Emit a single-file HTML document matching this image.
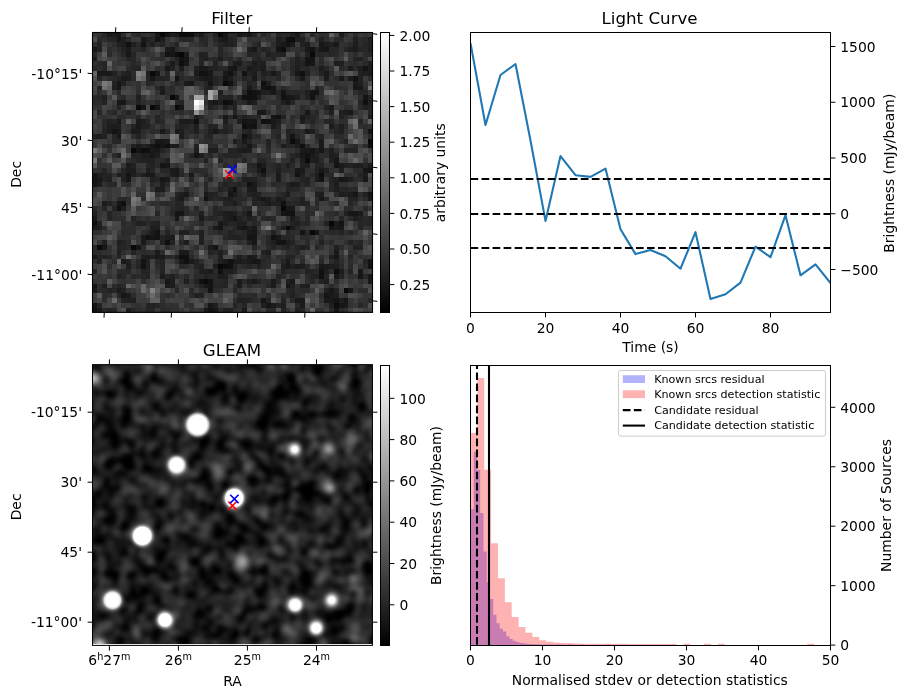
<!DOCTYPE html>
<html><head><meta charset="utf-8"><title>Candidate diagnostic plot</title>
<style>html,body{margin:0;padding:0;background:#fff}svg{display:block}</style></head>
<body><svg width="907" height="699" viewBox="0 0 907 699" font-family="DejaVu Sans, Liberation Sans, sans-serif" fill="#000">
<defs>
<linearGradient id="cg" x1="0" y1="1" x2="0" y2="0"><stop offset="0" stop-color="#000"/><stop offset="1" stop-color="#fff"/></linearGradient>
<filter id="bl" x="-5%" y="-5%" width="110%" height="110%" color-interpolation-filters="sRGB"><feGaussianBlur stdDeviation="1.4"/></filter>
<clipPath id="cc"><rect x="92.5" y="364.65" width="280" height="279.25"/></clipPath>
<clipPath id="ca"><rect x="92.5" y="32.5" width="280" height="280"/></clipPath>
<clipPath id="cb"><rect x="470.5" y="32.5" width="360" height="280"/></clipPath>
<clipPath id="cd"><rect x="470.5" y="365.5" width="360" height="280"/></clipPath>
</defs>
<rect width="907" height="699" fill="#fff"/>
<g shape-rendering="crispEdges" clip-path="url(#ca)">
<rect x="92" y="32" width="281" height="281" fill="#333"/>
<path fill="rgb(7,7,7)" d="M179.4 51.81h4.83v4.83h-4.83zM218.02 264.22h4.83v4.83h-4.83z"/>
<path fill="rgb(8,8,8)" d="M218.02 32.5h4.83v4.83h-4.83zM280.78 206.29h4.83v4.83h-4.83zM329.05 220.78h4.83v4.83h-4.83z"/>
<path fill="rgb(9,9,9)" d="M160.09 32.5h4.83v4.83h-4.83zM150.43 71.12h4.83v4.83h-4.83zM222.84 80.78h4.83v4.83h-4.83zM169.74 95.26h4.83v4.83h-4.83zM135.95 104.91h4.83v4.83h-4.83zM150.43 104.91h4.83v4.83h-4.83zM174.57 104.91h4.83v4.83h-4.83zM367.67 138.71h4.83v4.83h-4.83zM131.12 148.36h4.83v4.83h-4.83zM285.6 225.6h4.83v4.83h-4.83zM309.74 230.43h4.83v4.83h-4.83zM97.33 244.91h4.83v4.83h-4.83zM131.12 244.91h4.83v4.83h-4.83zM343.53 288.36h4.83v4.83h-4.83z"/>
<path fill="rgb(10,10,10)" d="M309.74 51.81h4.83v4.83h-4.83zM203.53 278.71h4.83v4.83h-4.83z"/>
<path fill="rgb(11,11,11)" d="M179.4 32.5h4.83v4.83h-4.83zM304.91 158.02h4.83v4.83h-4.83z"/>
<path fill="rgb(12,12,12)" d="M184.22 32.5h4.83v4.83h-4.83zM290.43 138.71h4.83v4.83h-4.83zM319.4 172.5h4.83v4.83h-4.83z"/>
<path fill="rgb(13,13,13)" d="M189.05 32.5h4.83v4.83h-4.83zM290.43 37.33h4.83v4.83h-4.83zM280.78 46.98h4.83v4.83h-4.83zM222.84 100.09h4.83v4.83h-4.83zM140.78 148.36h4.83v4.83h-4.83zM222.84 264.22h4.83v4.83h-4.83zM333.88 269.05h4.83v4.83h-4.83zM333.88 302.84h4.83v4.83h-4.83z"/>
<path fill="rgb(14,14,14)" d="M174.57 51.81h4.83v4.83h-4.83zM261.47 80.78h4.83v4.83h-4.83zM242.16 124.22h4.83v4.83h-4.83zM92.5 220.78h4.83v4.83h-4.83z"/>
<path fill="rgb(15,15,15)" d="M285.6 37.33h4.83v4.83h-4.83zM179.4 61.47h4.83v4.83h-4.83zM266.29 85.6h4.83v4.83h-4.83zM246.98 90.43h4.83v4.83h-4.83zM164.91 143.53h4.83v4.83h-4.83zM367.67 143.53h4.83v4.83h-4.83zM145.6 148.36h4.83v4.83h-4.83zM121.47 201.47h4.83v4.83h-4.83zM179.4 254.57h9.66v4.83h-9.66z"/>
<path fill="rgb(16,16,16)" d="M126.29 42.16h4.83v4.83h-4.83zM198.71 71.12h4.83v4.83h-4.83zM300.09 71.12h4.83v4.83h-4.83zM242.16 95.26h4.83v4.83h-4.83zM362.84 100.09h4.83v4.83h-4.83zM193.88 119.4h4.83v4.83h-4.83zM261.47 119.4h4.83v4.83h-4.83zM242.16 133.88h4.83v4.83h-4.83zM155.26 143.53h4.83v4.83h-4.83zM261.47 167.67h4.83v4.83h-4.83zM232.5 186.98h4.83v4.83h-4.83zM280.78 201.47h4.83v4.83h-4.83zM116.64 206.29h4.83v4.83h-4.83zM164.91 240.09h4.83v4.83h-4.83zM184.22 259.4h4.83v4.83h-4.83zM227.67 259.4h4.83v4.83h-4.83zM218.02 269.05h4.83v4.83h-4.83zM319.4 269.05h4.83v4.83h-4.83zM319.4 273.88h4.83v4.83h-4.83z"/>
<path fill="rgb(17,17,17)" d="M227.67 80.78h4.83v4.83h-4.83zM246.98 95.26h9.66v4.83h-9.66zM227.67 100.09h4.83v4.83h-4.83zM275.95 114.57h4.83v4.83h-4.83zM300.09 143.53h4.83v4.83h-4.83zM304.91 153.19h4.83v4.83h-4.83zM246.98 182.16h4.83v4.83h-4.83zM285.6 211.12h9.66v4.83h-9.66zM145.6 235.26h4.83v4.83h-4.83zM227.67 264.22h4.83v4.83h-4.83zM198.71 278.71h4.83v4.83h-4.83zM92.5 307.67h4.83v4.83h-4.83z"/>
<path fill="rgb(18,18,18)" d="M285.6 42.16h4.83v4.83h-4.83zM309.74 46.98h4.83v4.83h-4.83zM179.4 56.64h4.83v4.83h-4.83zM362.84 66.29h4.83v4.83h-4.83zM203.53 71.12h4.83v4.83h-4.83zM242.16 71.12h4.83v4.83h-4.83zM353.19 75.95h4.83v4.83h-4.83zM280.78 95.26h4.83v4.83h-4.83zM309.74 95.26h4.83v4.83h-4.83zM266.29 119.4h4.83v4.83h-4.83zM251.81 124.22h4.83v4.83h-4.83zM295.26 172.5h4.83v4.83h-4.83zM319.4 177.33h4.83v4.83h-4.83zM271.12 235.26h4.83v4.83h-4.83zM140.78 264.22h4.83v4.83h-4.83zM367.67 264.22h4.83v4.83h-4.83zM208.36 288.36h4.83v4.83h-4.83zM208.36 307.67h4.83v4.83h-4.83z"/>
<path fill="rgb(19,19,19)" d="M155.26 37.33h4.83v4.83h-4.83zM140.78 42.16h4.83v4.83h-4.83zM275.95 46.98h4.83v4.83h-4.83zM164.91 51.81h4.83v4.83h-4.83zM309.74 56.64h4.83v4.83h-4.83zM227.67 71.12h4.83v4.83h-4.83zM251.81 90.43h4.83v4.83h-4.83zM111.81 129.05h4.83v4.83h-4.83zM333.88 162.84h4.83v4.83h-4.83zM367.67 167.67h4.83v4.83h-4.83zM92.5 177.33h4.83v4.83h-4.83zM203.53 196.64h4.83v4.83h-4.83zM232.5 215.95h4.83v4.83h-4.83zM338.71 220.78h4.83v4.83h-4.83zM155.26 235.26h4.83v4.83h-4.83zM246.98 235.26h4.83v4.83h-4.83zM275.95 240.09h9.66v4.83h-9.66zM208.36 278.71h4.83v4.83h-4.83z"/>
<path fill="rgb(20,20,20)" d="M304.91 61.47h4.83v4.83h-4.83zM174.57 75.95h4.83v4.83h-4.83zM261.47 85.6h4.83v4.83h-4.83zM314.57 90.43h4.83v4.83h-4.83zM242.16 119.4h4.83v4.83h-4.83zM246.98 124.22h4.83v4.83h-4.83zM290.43 133.88h4.83v4.83h-4.83zM193.88 153.19h4.83v4.83h-4.83zM160.09 162.84h4.83v4.83h-4.83zM256.64 162.84h4.83v4.83h-4.83zM126.29 172.5h4.83v4.83h-4.83zM367.67 191.81h4.83v4.83h-4.83zM280.78 211.12h4.83v4.83h-4.83zM218.02 225.6h4.83v4.83h-4.83zM155.26 230.43h4.83v4.83h-4.83zM300.09 230.43h4.83v4.83h-4.83zM213.19 244.91h4.83v4.83h-4.83zM140.78 259.4h4.83v4.83h-4.83zM367.67 259.4h4.83v4.83h-4.83zM92.5 283.53h4.83v4.83h-4.83zM208.36 283.53h4.83v4.83h-4.83zM324.22 293.19h4.83v4.83h-4.83zM92.5 302.84h4.83v4.83h-4.83z"/>
<path fill="rgb(21,21,21)" d="M324.22 46.98h4.83v4.83h-4.83zM184.22 56.64h4.83v4.83h-4.83zM304.91 56.64h4.83v4.83h-4.83zM232.5 66.29h4.83v4.83h-4.83zM116.64 80.78h4.83v4.83h-4.83zM208.36 80.78h4.83v4.83h-4.83zM271.12 85.6h4.83v4.83h-4.83zM280.78 90.43h4.83v4.83h-4.83zM309.74 90.43h4.83v4.83h-4.83zM362.84 95.26h4.83v4.83h-4.83zM271.12 114.57h4.83v4.83h-4.83zM367.67 129.05h4.83v4.83h-4.83zM150.43 143.53h4.83v4.83h-4.83zM160.09 143.53h4.83v4.83h-4.83zM92.5 172.5h4.83v4.83h-4.83zM126.29 177.33h4.83v4.83h-4.83zM338.71 177.33h4.83v4.83h-4.83zM174.57 211.12h4.83v4.83h-4.83zM242.16 225.6h4.83v4.83h-4.83zM251.81 235.26h4.83v4.83h-4.83zM251.81 259.4h4.83v4.83h-4.83zM358.02 273.88h4.83v4.83h-4.83zM333.88 298.02h4.83v4.83h-4.83zM333.88 307.67h4.83v4.83h-4.83z"/>
<path fill="rgb(22,22,22)" d="M164.91 32.5h4.83v4.83h-4.83zM222.84 32.5h4.83v4.83h-4.83zM169.74 51.81h4.83v4.83h-4.83zM155.26 71.12h4.83v4.83h-4.83zM150.43 75.95h4.83v4.83h-4.83zM222.84 75.95h4.83v4.83h-4.83zM189.05 80.78h4.83v4.83h-4.83zM116.64 85.6h4.83v4.83h-4.83zM271.12 90.43h4.83v4.83h-4.83zM174.57 95.26h4.83v4.83h-4.83zM285.6 95.26h4.83v4.83h-4.83zM140.78 104.91h4.83v4.83h-4.83zM155.26 104.91h4.83v4.83h-4.83zM179.4 104.91h4.83v4.83h-4.83zM232.5 114.57h4.83v4.83h-4.83zM251.81 119.4h4.83v4.83h-4.83zM135.95 148.36h4.83v4.83h-4.83zM309.74 148.36h4.83v4.83h-4.83zM150.43 153.19h4.83v4.83h-4.83zM164.91 162.84h4.83v4.83h-4.83zM362.84 167.67h4.83v4.83h-4.83zM92.5 182.16h4.83v4.83h-4.83zM227.67 191.81h4.83v4.83h-4.83zM116.64 201.47h4.83v4.83h-4.83zM179.4 211.12h4.83v4.83h-4.83zM246.98 211.12h4.83v4.83h-4.83zM353.19 211.12h4.83v4.83h-4.83zM329.05 225.6h4.83v4.83h-4.83zM251.81 230.43h4.83v4.83h-4.83zM314.57 230.43h4.83v4.83h-4.83zM150.43 235.26h4.83v4.83h-4.83zM251.81 240.09h4.83v4.83h-4.83zM102.16 244.91h4.83v4.83h-4.83zM135.95 244.91h4.83v4.83h-4.83zM333.88 254.57h4.83v4.83h-4.83zM285.6 283.53h4.83v4.83h-4.83zM348.36 288.36h4.83v4.83h-4.83zM121.47 293.19h4.83v4.83h-4.83zM261.47 298.02h4.83v4.83h-4.83zM343.53 298.02h4.83v4.83h-4.83zM266.29 302.84h4.83v4.83h-4.83z"/>
<path fill="rgb(23,23,23)" d="M116.64 32.5h4.83v4.83h-4.83zM295.26 32.5h4.83v4.83h-4.83zM116.64 37.33h4.83v4.83h-4.83zM222.84 37.33h4.83v4.83h-4.83zM169.74 46.98h4.83v4.83h-4.83zM319.4 46.98h4.83v4.83h-4.83zM126.29 51.81h4.83v4.83h-4.83zM184.22 61.47h4.83v4.83h-4.83zM309.74 61.47h4.83v4.83h-4.83zM227.67 66.29h4.83v4.83h-4.83zM353.19 85.6h4.83v4.83h-4.83zM256.64 90.43h4.83v4.83h-4.83zM121.47 100.09h4.83v4.83h-4.83zM285.6 100.09h4.83v4.83h-4.83zM304.91 109.74h4.83v4.83h-4.83zM135.95 124.22h4.83v4.83h-4.83zM213.19 129.05h4.83v4.83h-4.83zM116.64 133.88h4.83v4.83h-4.83zM155.26 138.71h9.66v4.83h-9.66zM246.98 143.53h4.83v4.83h-4.83zM155.26 148.36h4.83v4.83h-4.83zM319.4 148.36h4.83v4.83h-4.83zM300.09 153.19h4.83v4.83h-4.83zM333.88 158.02h4.83v4.83h-4.83zM145.6 172.5h4.83v4.83h-4.83zM160.09 177.33h4.83v4.83h-4.83zM353.19 191.81h4.83v4.83h-4.83zM261.47 196.64h4.83v4.83h-4.83zM319.4 196.64h4.83v4.83h-4.83zM285.6 206.29h4.83v4.83h-4.83zM348.36 211.12h4.83v4.83h-4.83zM92.5 215.95h4.83v4.83h-4.83zM174.57 215.95h4.83v4.83h-4.83zM92.5 254.57h4.83v4.83h-4.83zM358.02 269.05h4.83v4.83h-4.83zM333.88 273.88h4.83v4.83h-4.83zM164.91 278.71h4.83v4.83h-4.83zM290.43 278.71h4.83v4.83h-4.83zM329.05 288.36h4.83v4.83h-4.83zM208.36 302.84h4.83v4.83h-4.83zM338.71 302.84h4.83v4.83h-4.83zM97.33 307.67h4.83v4.83h-4.83zM213.19 307.67h4.83v4.83h-4.83z"/>
<path fill="rgb(24,24,24)" d="M155.26 32.5h4.83v4.83h-4.83zM237.33 32.5h4.83v4.83h-4.83zM319.4 42.16h4.83v4.83h-4.83zM333.88 42.16h4.83v4.83h-4.83zM251.81 46.98h4.83v4.83h-4.83zM164.91 66.29h4.83v4.83h-4.83zM106.98 71.12h4.83v4.83h-4.83zM208.36 71.12h4.83v4.83h-4.83zM271.12 71.12h4.83v4.83h-4.83zM295.26 71.12h4.83v4.83h-4.83zM203.53 75.95h4.83v4.83h-4.83zM300.09 75.95h4.83v4.83h-4.83zM246.98 85.6h4.83v4.83h-4.83zM358.02 85.6h4.83v4.83h-4.83zM290.43 95.26h4.83v4.83h-4.83zM116.64 100.09h4.83v4.83h-4.83zM213.19 100.09h4.83v4.83h-4.83zM261.47 109.74h4.83v4.83h-4.83zM348.36 109.74h4.83v4.83h-4.83zM222.84 114.57h4.83v4.83h-4.83zM116.64 129.05h4.83v4.83h-4.83zM295.26 138.71h4.83v4.83h-4.83zM319.4 143.53h4.83v4.83h-4.83zM295.26 167.67h4.83v4.83h-4.83zM189.05 172.5h4.83v4.83h-4.83zM343.53 177.33h4.83v4.83h-4.83zM362.84 177.33h4.83v4.83h-4.83zM290.43 206.29h4.83v4.83h-4.83zM218.02 220.78h4.83v4.83h-4.83zM338.71 225.6h4.83v4.83h-4.83zM275.95 235.26h4.83v4.83h-4.83zM179.4 259.4h4.83v4.83h-4.83zM285.6 264.22h4.83v4.83h-4.83zM319.4 264.22h4.83v4.83h-4.83zM367.67 273.88h4.83v4.83h-4.83zM203.53 283.53h4.83v4.83h-4.83z"/>
<path fill="rgb(25,25,25)" d="M198.71 32.5h4.83v4.83h-4.83zM246.98 32.5h4.83v4.83h-4.83zM140.78 37.33h4.83v4.83h-4.83zM280.78 42.16h4.83v4.83h-4.83zM304.91 46.98h4.83v4.83h-4.83zM198.71 66.29h9.66v4.83h-9.66zM246.98 66.29h4.83v4.83h-4.83zM97.33 71.12h9.66v4.83h-9.66zM222.84 71.12h4.83v4.83h-4.83zM324.22 71.12h4.83v4.83h-4.83zM251.81 75.95h4.83v4.83h-4.83zM338.71 75.95h4.83v4.83h-4.83zM353.19 80.78h4.83v4.83h-4.83zM246.98 100.09h4.83v4.83h-4.83zM256.64 109.74h4.83v4.83h-4.83zM246.98 119.4h4.83v4.83h-4.83zM271.12 119.4h4.83v4.83h-4.83zM174.57 129.05h4.83v4.83h-4.83zM304.91 129.05h4.83v4.83h-4.83zM150.43 148.36h4.83v4.83h-4.83zM304.91 148.36h4.83v4.83h-4.83zM309.74 153.19h4.83v4.83h-4.83zM174.57 167.67h4.83v4.83h-4.83zM319.4 167.67h4.83v4.83h-4.83zM150.43 172.5h4.83v4.83h-4.83zM174.57 172.5h4.83v4.83h-4.83zM97.33 177.33h4.83v4.83h-4.83zM251.81 182.16h4.83v4.83h-4.83zM290.43 182.16h4.83v4.83h-4.83zM184.22 191.81h4.83v4.83h-4.83zM275.95 196.64h4.83v4.83h-4.83zM367.67 196.64h4.83v4.83h-4.83zM237.33 225.6h4.83v4.83h-4.83zM251.81 225.6h4.83v4.83h-4.83zM140.78 235.26h4.83v4.83h-4.83zM140.78 240.09h4.83v4.83h-4.83zM179.4 249.74h4.83v4.83h-4.83zM160.09 254.57h4.83v4.83h-4.83zM246.98 254.57h4.83v4.83h-4.83zM222.84 259.4h4.83v4.83h-4.83zM256.64 259.4h4.83v4.83h-4.83zM285.6 259.4h4.83v4.83h-4.83zM237.33 278.71h4.83v4.83h-4.83zM367.67 278.71h4.83v4.83h-4.83zM92.5 288.36h4.83v4.83h-4.83zM324.22 298.02h9.66v4.83h-9.66zM343.53 302.84h4.83v4.83h-4.83z"/>
<path fill="rgb(26,26,26)" d="M106.98 32.5h4.83v4.83h-4.83zM92.5 46.98h4.83v4.83h-4.83zM126.29 46.98h4.83v4.83h-4.83zM169.74 61.47h4.83v4.83h-4.83zM237.33 61.47h4.83v4.83h-4.83zM121.47 75.95h4.83v4.83h-4.83zM208.36 75.95h4.83v4.83h-4.83zM184.22 80.78h4.83v4.83h-4.83zM160.09 90.43h4.83v4.83h-4.83zM329.05 104.91h4.83v4.83h-4.83zM300.09 114.57h4.83v4.83h-4.83zM116.64 119.4h4.83v4.83h-4.83zM135.95 119.4h4.83v4.83h-4.83zM184.22 119.4h4.83v4.83h-4.83zM271.12 124.22h4.83v4.83h-4.83zM160.09 129.05h4.83v4.83h-4.83zM242.16 138.71h4.83v4.83h-4.83zM319.4 138.71h4.83v4.83h-4.83zM135.95 143.53h4.83v4.83h-4.83zM174.57 143.53h4.83v4.83h-4.83zM242.16 148.36h4.83v4.83h-4.83zM300.09 148.36h4.83v4.83h-4.83zM261.47 162.84h4.83v4.83h-4.83zM338.71 162.84h4.83v4.83h-4.83zM300.09 167.67h4.83v4.83h-4.83zM251.81 186.98h4.83v4.83h-4.83zM203.53 191.81h4.83v4.83h-4.83zM179.4 196.64h4.83v4.83h-4.83zM227.67 211.12h4.83v4.83h-4.83zM358.02 211.12h4.83v4.83h-4.83zM198.71 215.95h4.83v4.83h-4.83zM92.5 225.6h4.83v4.83h-4.83zM213.19 225.6h4.83v4.83h-4.83zM290.43 225.6h4.83v4.83h-4.83zM333.88 225.6h4.83v4.83h-4.83zM246.98 230.43h4.83v4.83h-4.83zM169.74 235.26h4.83v4.83h-4.83zM184.22 249.74h4.83v4.83h-4.83zM333.88 249.74h4.83v4.83h-4.83zM155.26 254.57h4.83v4.83h-4.83zM121.47 259.4h4.83v4.83h-4.83zM189.05 259.4h4.83v4.83h-4.83zM232.5 259.4h4.83v4.83h-4.83zM246.98 259.4h4.83v4.83h-4.83zM324.22 264.22h4.83v4.83h-4.83zM208.36 269.05h4.83v4.83h-4.83zM251.81 278.71h4.83v4.83h-4.83zM271.12 278.71h4.83v4.83h-4.83zM329.05 293.19h4.83v4.83h-4.83zM295.26 298.02h9.66v4.83h-9.66zM203.53 307.67h4.83v4.83h-4.83zM242.16 307.67h4.83v4.83h-4.83z"/>
<path fill="rgb(27,27,27)" d="M174.57 32.5h4.83v4.83h-4.83zM218.02 37.33h4.83v4.83h-4.83zM290.43 42.16h4.83v4.83h-4.83zM353.19 46.98h4.83v4.83h-4.83zM92.5 56.64h4.83v4.83h-4.83zM348.36 66.29h4.83v4.83h-4.83zM193.88 71.12h4.83v4.83h-4.83zM324.22 75.95h4.83v4.83h-4.83zM348.36 75.95h4.83v4.83h-4.83zM343.53 109.74h4.83v4.83h-4.83zM246.98 133.88h4.83v4.83h-4.83zM164.91 138.71h4.83v4.83h-4.83zM169.74 143.53h4.83v4.83h-4.83zM126.29 162.84h4.83v4.83h-4.83zM169.74 167.67h4.83v4.83h-4.83zM256.64 167.67h4.83v4.83h-4.83zM275.95 172.5h4.83v4.83h-4.83zM164.91 177.33h4.83v4.83h-4.83zM275.95 177.33h4.83v4.83h-4.83zM246.98 186.98h4.83v4.83h-4.83zM266.29 201.47h4.83v4.83h-4.83zM227.67 215.95h4.83v4.83h-4.83zM150.43 230.43h4.83v4.83h-4.83zM155.26 249.74h4.83v4.83h-4.83zM237.33 259.4h4.83v4.83h-4.83zM295.26 264.22h4.83v4.83h-4.83zM338.71 269.05h4.83v4.83h-4.83zM160.09 273.88h4.83v4.83h-4.83zM237.33 283.53h4.83v4.83h-4.83zM116.64 288.36h4.83v4.83h-4.83zM126.29 293.19h4.83v4.83h-4.83zM271.12 302.84h4.83v4.83h-4.83zM300.09 302.84h4.83v4.83h-4.83z"/>
<path fill="rgb(28,28,28)" d="M111.81 32.5h4.83v4.83h-4.83zM304.91 42.16h4.83v4.83h-4.83zM164.91 46.98h4.83v4.83h-4.83zM184.22 51.81h4.83v4.83h-4.83zM218.02 56.64h4.83v4.83h-4.83zM232.5 61.47h4.83v4.83h-4.83zM251.81 61.47h4.83v4.83h-4.83zM261.47 66.29h4.83v4.83h-4.83zM367.67 71.12h4.83v4.83h-4.83zM126.29 75.95h4.83v4.83h-4.83zM179.4 119.4h4.83v4.83h-4.83zM300.09 119.4h4.83v4.83h-4.83zM111.81 124.22h4.83v4.83h-4.83zM193.88 124.22h4.83v4.83h-4.83zM329.05 124.22h4.83v4.83h-4.83zM106.98 129.05h4.83v4.83h-4.83zM131.12 129.05h4.83v4.83h-4.83zM97.33 133.88h4.83v4.83h-4.83zM280.78 143.53h4.83v4.83h-4.83zM246.98 148.36h4.83v4.83h-4.83zM314.57 158.02h4.83v4.83h-4.83zM367.67 162.84h4.83v4.83h-4.83zM131.12 167.67h4.83v4.83h-4.83zM261.47 172.5h4.83v4.83h-4.83zM97.33 182.16h4.83v4.83h-4.83zM160.09 182.16h4.83v4.83h-4.83zM333.88 182.16h4.83v4.83h-4.83zM155.26 186.98h4.83v4.83h-4.83zM227.67 186.98h4.83v4.83h-4.83zM232.5 191.81h4.83v4.83h-4.83zM285.6 191.81h4.83v4.83h-4.83zM338.71 191.81h4.83v4.83h-4.83zM348.36 191.81h4.83v4.83h-4.83zM256.64 196.64h4.83v4.83h-4.83zM102.16 201.47h4.83v4.83h-4.83zM333.88 220.78h4.83v4.83h-4.83zM280.78 225.6h4.83v4.83h-4.83zM145.6 254.57h4.83v4.83h-4.83zM218.02 273.88h4.83v4.83h-4.83zM169.74 278.71h4.83v4.83h-4.83zM164.91 283.53h9.66v4.83h-9.66zM271.12 283.53h4.83v4.83h-4.83z"/>
<path fill="rgb(29,29,29)" d="M169.74 32.5h4.83v4.83h-4.83zM338.71 32.5h4.83v4.83h-4.83zM275.95 37.33h4.83v4.83h-4.83zM121.47 42.16h4.83v4.83h-4.83zM275.95 42.16h4.83v4.83h-4.83zM324.22 42.16h4.83v4.83h-4.83zM353.19 42.16h4.83v4.83h-4.83zM333.88 61.47h4.83v4.83h-4.83zM179.4 66.29h4.83v4.83h-4.83zM319.4 66.29h4.83v4.83h-4.83zM358.02 66.29h4.83v4.83h-4.83zM367.67 66.29h4.83v4.83h-4.83zM251.81 71.12h4.83v4.83h-4.83zM198.71 75.95h4.83v4.83h-4.83zM227.67 75.95h4.83v4.83h-4.83zM266.29 80.78h4.83v4.83h-4.83zM193.88 114.57h4.83v4.83h-4.83zM140.78 119.4h4.83v4.83h-4.83zM189.05 119.4h4.83v4.83h-4.83zM106.98 124.22h4.83v4.83h-4.83zM135.95 129.05h4.83v4.83h-4.83zM179.4 129.05h4.83v4.83h-4.83zM179.4 133.88h4.83v4.83h-4.83zM232.5 138.71h4.83v4.83h-4.83zM295.26 143.53h4.83v4.83h-4.83zM213.19 148.36h4.83v4.83h-4.83zM237.33 148.36h4.83v4.83h-4.83zM145.6 153.19h4.83v4.83h-4.83zM198.71 153.19h4.83v4.83h-4.83zM353.19 162.84h4.83v4.83h-4.83zM126.29 167.67h4.83v4.83h-4.83zM145.6 167.67h4.83v4.83h-4.83zM116.64 172.5h4.83v4.83h-4.83zM169.74 172.5h4.83v4.83h-4.83zM314.57 172.5h4.83v4.83h-4.83zM362.84 172.5h4.83v4.83h-4.83zM314.57 177.33h4.83v4.83h-4.83zM348.36 177.33h4.83v4.83h-4.83zM295.26 182.16h4.83v4.83h-4.83zM160.09 186.98h4.83v4.83h-4.83zM319.4 191.81h4.83v4.83h-4.83zM266.29 196.64h4.83v4.83h-4.83zM232.5 201.47h4.83v4.83h-4.83zM222.84 211.12h4.83v4.83h-4.83zM290.43 215.95h4.83v4.83h-4.83zM353.19 215.95h4.83v4.83h-4.83zM97.33 225.6h4.83v4.83h-4.83zM164.91 235.26h4.83v4.83h-4.83zM184.22 240.09h4.83v4.83h-4.83zM285.6 240.09h4.83v4.83h-4.83zM208.36 244.91h4.83v4.83h-4.83zM300.09 244.91h4.83v4.83h-4.83zM266.29 249.74h4.83v4.83h-4.83zM140.78 254.57h4.83v4.83h-4.83zM174.57 254.57h4.83v4.83h-4.83zM251.81 254.57h4.83v4.83h-4.83zM126.29 264.22h4.83v4.83h-4.83zM213.19 264.22h4.83v4.83h-4.83zM300.09 264.22h4.83v4.83h-4.83zM329.05 264.22h4.83v4.83h-4.83zM126.29 307.67h4.83v4.83h-4.83z"/>
<path fill="rgb(30,30,30)" d="M242.16 32.5h4.83v4.83h-4.83zM121.47 37.33h4.83v4.83h-4.83zM160.09 37.33h4.83v4.83h-4.83zM367.67 37.33h4.83v4.83h-4.83zM131.12 42.16h4.83v4.83h-4.83zM246.98 46.98h4.83v4.83h-4.83zM367.67 46.98h4.83v4.83h-4.83zM203.53 56.64h4.83v4.83h-4.83zM367.67 61.47h4.83v4.83h-4.83zM295.26 66.29h4.83v4.83h-4.83zM126.29 71.12h4.83v4.83h-4.83zM362.84 71.12h4.83v4.83h-4.83zM160.09 85.6h4.83v4.83h-4.83zM218.02 90.43h4.83v4.83h-4.83zM256.64 95.26h4.83v4.83h-4.83zM208.36 100.09h4.83v4.83h-4.83zM218.02 100.09h4.83v4.83h-4.83zM222.84 104.91h4.83v4.83h-4.83zM329.05 109.74h4.83v4.83h-4.83zM222.84 119.4h4.83v4.83h-4.83zM275.95 119.4h4.83v4.83h-4.83zM116.64 124.22h4.83v4.83h-4.83zM145.6 143.53h4.83v4.83h-4.83zM193.88 148.36h4.83v4.83h-4.83zM329.05 148.36h4.83v4.83h-4.83zM116.64 153.19h4.83v4.83h-4.83zM140.78 153.19h4.83v4.83h-4.83zM155.26 153.19h4.83v4.83h-4.83zM329.05 153.19h4.83v4.83h-4.83zM300.09 158.02h4.83v4.83h-4.83zM358.02 162.84h4.83v4.83h-4.83zM338.71 167.67h4.83v4.83h-4.83zM333.88 186.98h4.83v4.83h-4.83zM179.4 191.81h4.83v4.83h-4.83zM222.84 196.64h9.66v4.83h-9.66zM121.47 206.29h4.83v4.83h-4.83zM232.5 211.12h4.83v4.83h-4.83zM222.84 215.95h4.83v4.83h-4.83zM237.33 220.78h4.83v4.83h-4.83zM150.43 225.6h9.66v4.83h-9.66zM246.98 225.6h4.83v4.83h-4.83zM116.64 240.09h4.83v4.83h-4.83zM237.33 254.57h4.83v4.83h-4.83zM242.16 259.4h4.83v4.83h-4.83zM333.88 264.22h4.83v4.83h-4.83zM203.53 269.05h4.83v4.83h-4.83zM227.67 269.05h4.83v4.83h-4.83zM324.22 269.05h4.83v4.83h-4.83zM222.84 273.88h4.83v4.83h-4.83zM184.22 278.71h4.83v4.83h-4.83zM246.98 278.71h4.83v4.83h-4.83zM324.22 278.71h4.83v4.83h-4.83zM333.88 293.19h4.83v4.83h-4.83zM338.71 298.02h4.83v4.83h-4.83zM280.78 302.84h4.83v4.83h-4.83zM329.05 302.84h4.83v4.83h-4.83zM227.67 307.67h4.83v4.83h-4.83z"/>
<path fill="rgb(31,31,31)" d="M213.19 32.5h4.83v4.83h-4.83zM295.26 37.33h4.83v4.83h-4.83zM222.84 42.16h4.83v4.83h-4.83zM348.36 46.98h4.83v4.83h-4.83zM198.71 51.81h4.83v4.83h-4.83zM266.29 51.81h4.83v4.83h-4.83zM295.26 56.64h4.83v4.83h-4.83zM261.47 61.47h4.83v4.83h-4.83zM338.71 61.47h4.83v4.83h-4.83zM193.88 66.29h4.83v4.83h-4.83zM251.81 66.29h4.83v4.83h-4.83zM358.02 80.78h4.83v4.83h-4.83zM111.81 85.6h4.83v4.83h-4.83zM261.47 90.43h4.83v4.83h-4.83zM102.16 95.26h4.83v4.83h-4.83zM135.95 95.26h4.83v4.83h-4.83zM295.26 95.26h4.83v4.83h-4.83zM251.81 100.09h4.83v4.83h-4.83zM367.67 100.09h4.83v4.83h-4.83zM362.84 104.91h4.83v4.83h-4.83zM367.67 114.57h4.83v4.83h-4.83zM237.33 119.4h4.83v4.83h-4.83zM338.71 124.22h4.83v4.83h-4.83zM193.88 129.05h4.83v4.83h-4.83zM309.74 129.05h4.83v4.83h-4.83zM208.36 148.36h4.83v4.83h-4.83zM314.57 148.36h4.83v4.83h-4.83zM333.88 153.19h4.83v4.83h-4.83zM285.6 162.84h4.83v4.83h-4.83zM304.91 162.84h4.83v4.83h-4.83zM275.95 167.67h4.83v4.83h-4.83zM97.33 172.5h4.83v4.83h-4.83zM131.12 172.5h4.83v4.83h-4.83zM140.78 172.5h4.83v4.83h-4.83zM242.16 177.33h4.83v4.83h-4.83zM333.88 177.33h4.83v4.83h-4.83zM251.81 191.81h4.83v4.83h-4.83zM362.84 191.81h4.83v4.83h-4.83zM275.95 201.47h4.83v4.83h-4.83zM246.98 215.95h4.83v4.83h-4.83zM135.95 220.78h4.83v4.83h-4.83zM222.84 220.78h4.83v4.83h-4.83zM295.26 220.78h4.83v4.83h-4.83zM179.4 230.43h9.66v4.83h-9.66zM246.98 240.09h4.83v4.83h-4.83zM271.12 240.09h4.83v4.83h-4.83zM333.88 244.91h4.83v4.83h-4.83zM218.02 249.74h4.83v4.83h-4.83zM329.05 254.57h4.83v4.83h-4.83zM218.02 259.4h4.83v4.83h-4.83zM280.78 264.22h4.83v4.83h-4.83zM290.43 264.22h4.83v4.83h-4.83zM198.71 269.05h4.83v4.83h-4.83zM285.6 278.71h4.83v4.83h-4.83zM102.16 283.53h4.83v4.83h-4.83zM300.09 283.53h9.66v4.83h-9.66zM126.29 298.02h9.66v4.83h-9.66z"/>
<path fill="rgb(32,32,32)" d="M193.88 32.5h4.83v4.83h-4.83zM290.43 32.5h4.83v4.83h-4.83zM300.09 37.33h4.83v4.83h-4.83zM319.4 37.33h4.83v4.83h-4.83zM353.19 37.33h4.83v4.83h-4.83zM116.64 42.16h4.83v4.83h-4.83zM150.43 42.16h4.83v4.83h-4.83zM227.67 42.16h4.83v4.83h-4.83zM329.05 42.16h4.83v4.83h-4.83zM97.33 46.98h4.83v4.83h-4.83zM295.26 61.47h4.83v4.83h-4.83zM208.36 66.29h4.83v4.83h-4.83zM145.6 71.12h4.83v4.83h-4.83zM261.47 71.12h4.83v4.83h-4.83zM358.02 71.12h4.83v4.83h-4.83zM121.47 80.78h4.83v4.83h-4.83zM314.57 85.6h4.83v4.83h-4.83zM266.29 90.43h4.83v4.83h-4.83zM304.91 90.43h4.83v4.83h-4.83zM280.78 100.09h4.83v4.83h-4.83zM338.71 109.74h4.83v4.83h-4.83zM242.16 114.57h4.83v4.83h-4.83zM208.36 129.05h4.83v4.83h-4.83zM338.71 129.05h4.83v4.83h-4.83zM314.57 153.19h4.83v4.83h-4.83zM145.6 158.02h4.83v4.83h-4.83zM164.91 158.02h4.83v4.83h-4.83zM290.43 158.02h4.83v4.83h-4.83zM309.74 158.02h4.83v4.83h-4.83zM329.05 158.02h4.83v4.83h-4.83zM300.09 162.84h4.83v4.83h-4.83zM300.09 172.5h4.83v4.83h-4.83zM106.98 177.33h4.83v4.83h-4.83zM150.43 177.33h4.83v4.83h-4.83zM246.98 177.33h4.83v4.83h-4.83zM314.57 191.81h4.83v4.83h-4.83zM208.36 196.64h4.83v4.83h-4.83zM300.09 196.64h4.83v4.83h-4.83zM271.12 201.47h4.83v4.83h-4.83zM300.09 201.47h4.83v4.83h-4.83zM92.5 211.12h4.83v4.83h-4.83zM198.71 211.12h4.83v4.83h-4.83zM343.53 211.12h4.83v4.83h-4.83zM97.33 220.78h4.83v4.83h-4.83zM242.16 220.78h4.83v4.83h-4.83zM198.71 230.43h4.83v4.83h-4.83zM198.71 235.26h4.83v4.83h-4.83zM232.5 235.26h4.83v4.83h-4.83zM102.16 240.09h4.83v4.83h-4.83zM198.71 240.09h4.83v4.83h-4.83zM116.64 249.74h4.83v4.83h-4.83zM150.43 254.57h4.83v4.83h-4.83zM145.6 264.22h4.83v4.83h-4.83zM198.71 264.22h4.83v4.83h-4.83zM256.64 264.22h4.83v4.83h-4.83zM222.84 269.05h4.83v4.83h-4.83zM169.74 273.88h4.83v4.83h-4.83zM290.43 283.53h4.83v4.83h-4.83zM324.22 288.36h4.83v4.83h-4.83zM193.88 293.19h4.83v4.83h-4.83zM237.33 298.02h4.83v4.83h-4.83zM213.19 302.84h4.83v4.83h-4.83zM261.47 302.84h4.83v4.83h-4.83zM222.84 307.67h4.83v4.83h-4.83zM295.26 307.67h4.83v4.83h-4.83z"/>
<path fill="rgb(33,33,33)" d="M145.6 37.33h4.83v4.83h-4.83zM367.67 42.16h4.83v4.83h-4.83zM121.47 46.98h4.83v4.83h-4.83zM280.78 51.81h4.83v4.83h-4.83zM213.19 61.47h4.83v4.83h-4.83zM256.64 61.47h4.83v4.83h-4.83zM169.74 66.29h4.83v4.83h-4.83zM256.64 66.29h4.83v4.83h-4.83zM111.81 71.12h4.83v4.83h-4.83zM358.02 75.95h4.83v4.83h-4.83zM208.36 85.6h4.83v4.83h-4.83zM227.67 95.26h4.83v4.83h-4.83zM304.91 95.26h4.83v4.83h-4.83zM232.5 100.09h4.83v4.83h-4.83zM208.36 104.91h4.83v4.83h-4.83zM232.5 104.91h4.83v4.83h-4.83zM324.22 104.91h4.83v4.83h-4.83zM280.78 114.57h4.83v4.83h-4.83zM338.71 114.57h4.83v4.83h-4.83zM106.98 119.4h4.83v4.83h-4.83zM140.78 124.22h9.66v4.83h-9.66zM222.84 129.05h4.83v4.83h-4.83zM246.98 129.05h4.83v4.83h-4.83zM285.6 129.05h4.83v4.83h-4.83zM92.5 133.88h4.83v4.83h-4.83zM102.16 133.88h4.83v4.83h-4.83zM319.4 133.88h4.83v4.83h-4.83zM131.12 143.53h4.83v4.83h-4.83zM131.12 153.19h4.83v4.83h-4.83zM295.26 153.19h4.83v4.83h-4.83zM140.78 158.02h4.83v4.83h-4.83zM150.43 158.02h4.83v4.83h-4.83zM343.53 162.84h4.83v4.83h-4.83zM324.22 167.67h4.83v4.83h-4.83zM102.16 172.5h4.83v4.83h-4.83zM121.47 177.33h4.83v4.83h-4.83zM251.81 177.33h4.83v4.83h-4.83zM304.91 177.33h4.83v4.83h-4.83zM222.84 182.16h4.83v4.83h-4.83zM208.36 191.81h4.83v4.83h-4.83zM246.98 191.81h4.83v4.83h-4.83zM343.53 191.81h4.83v4.83h-4.83zM174.57 196.64h4.83v4.83h-4.83zM280.78 196.64h4.83v4.83h-4.83zM106.98 201.47h4.83v4.83h-4.83zM261.47 201.47h4.83v4.83h-4.83zM218.02 211.12h4.83v4.83h-4.83zM140.78 220.78h4.83v4.83h-4.83zM155.26 220.78h4.83v4.83h-4.83zM324.22 220.78h4.83v4.83h-4.83zM237.33 235.26h4.83v4.83h-4.83zM285.6 244.91h4.83v4.83h-4.83zM358.02 244.91h4.83v4.83h-4.83zM218.02 254.57h4.83v4.83h-4.83zM97.33 259.4h4.83v4.83h-4.83zM126.29 259.4h4.83v4.83h-4.83zM145.6 259.4h4.83v4.83h-4.83zM232.5 264.22h4.83v4.83h-4.83zM314.57 273.88h4.83v4.83h-4.83zM121.47 288.36h4.83v4.83h-4.83zM290.43 293.19h4.83v4.83h-4.83zM242.16 298.02h4.83v4.83h-4.83z"/>
<path fill="rgb(34,34,34)" d="M251.81 32.5h4.83v4.83h-4.83zM97.33 42.16h4.83v4.83h-4.83zM300.09 42.16h4.83v4.83h-4.83zM261.47 46.98h4.83v4.83h-4.83zM304.91 51.81h4.83v4.83h-4.83zM174.57 56.64h4.83v4.83h-4.83zM256.64 56.64h4.83v4.83h-4.83zM353.19 56.64h9.66v4.83h-9.66zM246.98 71.12h4.83v4.83h-4.83zM275.95 71.12h4.83v4.83h-4.83zM155.26 75.95h9.66v4.83h-9.66zM242.16 75.95h4.83v4.83h-4.83zM111.81 80.78h4.83v4.83h-4.83zM135.95 100.09h4.83v4.83h-4.83zM116.64 104.91h4.83v4.83h-4.83zM304.91 114.57h4.83v4.83h-4.83zM179.4 124.22h4.83v4.83h-4.83zM102.16 129.05h4.83v4.83h-4.83zM266.29 138.71h4.83v4.83h-4.83zM343.53 138.71h4.83v4.83h-4.83zM193.88 143.53h4.83v4.83h-4.83zM227.67 148.36h9.66v4.83h-9.66zM203.53 158.02h4.83v4.83h-4.83zM131.12 162.84h4.83v4.83h-4.83zM150.43 162.84h4.83v4.83h-4.83zM348.36 162.84h4.83v4.83h-4.83zM121.47 172.5h4.83v4.83h-4.83zM358.02 172.5h4.83v4.83h-4.83zM218.02 186.98h4.83v4.83h-4.83zM256.64 191.81h4.83v4.83h-4.83zM218.02 196.64h4.83v4.83h-4.83zM353.19 196.64h4.83v4.83h-4.83zM179.4 206.29h4.83v4.83h-4.83zM237.33 215.95h4.83v4.83h-4.83zM227.67 230.43h4.83v4.83h-4.83zM271.12 230.43h4.83v4.83h-4.83zM227.67 235.26h4.83v4.83h-4.83zM160.09 240.09h4.83v4.83h-4.83zM169.74 240.09h4.83v4.83h-4.83zM319.4 240.09h4.83v4.83h-4.83zM353.19 244.91h4.83v4.83h-4.83zM102.16 254.57h4.83v4.83h-4.83zM285.6 254.57h4.83v4.83h-4.83zM160.09 259.4h4.83v4.83h-4.83zM193.88 259.4h4.83v4.83h-4.83zM333.88 259.4h4.83v4.83h-4.83zM140.78 269.05h4.83v4.83h-4.83zM160.09 269.05h4.83v4.83h-4.83zM232.5 269.05h4.83v4.83h-4.83zM280.78 269.05h4.83v4.83h-4.83zM304.91 269.05h4.83v4.83h-4.83zM116.64 273.88h4.83v4.83h-4.83zM203.53 273.88h4.83v4.83h-4.83zM309.74 273.88h4.83v4.83h-4.83zM193.88 278.71h4.83v4.83h-4.83zM198.71 283.53h4.83v4.83h-4.83zM106.98 288.36h4.83v4.83h-4.83zM333.88 288.36h4.83v4.83h-4.83zM246.98 298.02h4.83v4.83h-4.83zM280.78 298.02h4.83v4.83h-4.83zM150.43 302.84h4.83v4.83h-4.83zM280.78 307.67h4.83v4.83h-4.83z"/>
<path fill="rgb(35,35,35)" d="M275.95 32.5h4.83v4.83h-4.83zM227.67 37.33h4.83v4.83h-4.83zM280.78 37.33h4.83v4.83h-4.83zM203.53 51.81h4.83v4.83h-4.83zM102.16 61.47h4.83v4.83h-4.83zM198.71 61.47h4.83v4.83h-4.83zM300.09 61.47h4.83v4.83h-4.83zM213.19 66.29h4.83v4.83h-4.83zM121.47 71.12h4.83v4.83h-4.83zM232.5 71.12h4.83v4.83h-4.83zM304.91 71.12h4.83v4.83h-4.83zM116.64 75.95h4.83v4.83h-4.83zM145.6 75.95h4.83v4.83h-4.83zM193.88 75.95h4.83v4.83h-4.83zM246.98 80.78h4.83v4.83h-4.83zM97.33 85.6h4.83v4.83h-4.83zM222.84 95.26h4.83v4.83h-4.83zM367.67 95.26h4.83v4.83h-4.83zM102.16 100.09h4.83v4.83h-4.83zM179.4 100.09h4.83v4.83h-4.83zM126.29 109.74h4.83v4.83h-4.83zM232.5 109.74h4.83v4.83h-4.83zM329.05 119.4h4.83v4.83h-4.83zM131.12 124.22h4.83v4.83h-4.83zM208.36 124.22h9.66v4.83h-9.66zM218.02 129.05h4.83v4.83h-4.83zM135.95 133.88h4.83v4.83h-4.83zM208.36 133.88h4.83v4.83h-4.83zM275.95 133.88h4.83v4.83h-4.83zM140.78 143.53h4.83v4.83h-4.83zM343.53 148.36h9.66v4.83h-9.66zM135.95 158.02h4.83v4.83h-4.83zM242.16 158.02h4.83v4.83h-4.83zM275.95 162.84h4.83v4.83h-4.83zM314.57 167.67h4.83v4.83h-4.83zM102.16 177.33h4.83v4.83h-4.83zM237.33 182.16h4.83v4.83h-4.83zM285.6 182.16h4.83v4.83h-4.83zM304.91 182.16h4.83v4.83h-4.83zM213.19 191.81h4.83v4.83h-4.83zM251.81 196.64h4.83v4.83h-4.83zM348.36 196.64h4.83v4.83h-4.83zM227.67 201.47h4.83v4.83h-4.83zM251.81 201.47h4.83v4.83h-4.83zM304.91 201.47h4.83v4.83h-4.83zM111.81 206.29h4.83v4.83h-4.83zM131.12 215.95h4.83v4.83h-4.83zM232.5 220.78h4.83v4.83h-4.83zM290.43 220.78h4.83v4.83h-4.83zM338.71 230.43h4.83v4.83h-4.83zM121.47 240.09h4.83v4.83h-4.83zM348.36 240.09h4.83v4.83h-4.83zM271.12 244.91h4.83v4.83h-4.83zM131.12 249.74h4.83v4.83h-4.83zM208.36 249.74h4.83v4.83h-4.83zM290.43 254.57h4.83v4.83h-4.83zM362.84 259.4h4.83v4.83h-4.83zM160.09 264.22h4.83v4.83h-4.83zM193.88 264.22h4.83v4.83h-4.83zM92.5 269.05h4.83v4.83h-4.83zM348.36 269.05h4.83v4.83h-4.83zM145.6 273.88h4.83v4.83h-4.83zM275.95 273.88h4.83v4.83h-4.83zM338.71 273.88h4.83v4.83h-4.83zM256.64 278.71h4.83v4.83h-4.83zM319.4 278.71h4.83v4.83h-4.83zM198.71 293.19h4.83v4.83h-4.83zM121.47 298.02h4.83v4.83h-4.83zM266.29 298.02h4.83v4.83h-4.83zM97.33 302.84h4.83v4.83h-4.83zM232.5 302.84h4.83v4.83h-4.83zM106.98 307.67h4.83v4.83h-4.83z"/>
<path fill="rgb(36,36,36)" d="M184.22 37.33h4.83v4.83h-4.83zM174.57 42.16h4.83v4.83h-4.83zM218.02 42.16h4.83v4.83h-4.83zM232.5 42.16h4.83v4.83h-4.83zM256.64 42.16h4.83v4.83h-4.83zM140.78 46.98h4.83v4.83h-4.83zM218.02 46.98h4.83v4.83h-4.83zM314.57 46.98h4.83v4.83h-4.83zM358.02 46.98h4.83v4.83h-4.83zM246.98 51.81h4.83v4.83h-4.83zM275.95 51.81h4.83v4.83h-4.83zM198.71 56.64h4.83v4.83h-4.83zM131.12 66.29h9.66v4.83h-9.66zM266.29 71.12h4.83v4.83h-4.83zM319.4 71.12h4.83v4.83h-4.83zM97.33 75.95h4.83v4.83h-4.83zM213.19 75.95h4.83v4.83h-4.83zM213.19 80.78h4.83v4.83h-4.83zM203.53 85.6h4.83v4.83h-4.83zM237.33 95.26h4.83v4.83h-4.83zM290.43 100.09h4.83v4.83h-4.83zM358.02 100.09h4.83v4.83h-4.83zM111.81 119.4h4.83v4.83h-4.83zM324.22 119.4h4.83v4.83h-4.83zM184.22 124.22h4.83v4.83h-4.83zM222.84 124.22h4.83v4.83h-4.83zM275.95 124.22h4.83v4.83h-4.83zM242.16 143.53h4.83v4.83h-4.83zM266.29 143.53h4.83v4.83h-4.83zM160.09 148.36h4.83v4.83h-4.83zM353.19 148.36h4.83v4.83h-4.83zM135.95 153.19h4.83v4.83h-4.83zM227.67 153.19h9.66v4.83h-9.66zM218.02 158.02h4.83v4.83h-4.83zM256.64 158.02h9.66v4.83h-9.66zM319.4 162.84h4.83v4.83h-4.83zM102.16 167.67h4.83v4.83h-4.83zM150.43 167.67h4.83v4.83h-4.83zM106.98 172.5h4.83v4.83h-4.83zM203.53 172.5h4.83v4.83h-4.83zM300.09 177.33h4.83v4.83h-4.83zM329.05 177.33h4.83v4.83h-4.83zM285.6 186.98h4.83v4.83h-4.83zM343.53 186.98h4.83v4.83h-4.83zM174.57 191.81h4.83v4.83h-4.83zM174.57 201.47h4.83v4.83h-4.83zM222.84 201.47h4.83v4.83h-4.83zM213.19 206.29h4.83v4.83h-4.83zM106.98 211.12h4.83v4.83h-4.83zM213.19 211.12h4.83v4.83h-4.83zM242.16 211.12h4.83v4.83h-4.83zM266.29 215.95h4.83v4.83h-4.83zM338.71 215.95h4.83v4.83h-4.83zM358.02 215.95h4.83v4.83h-4.83zM150.43 220.78h4.83v4.83h-4.83zM358.02 225.6h4.83v4.83h-4.83zM164.91 230.43h4.83v4.83h-4.83zM160.09 235.26h4.83v4.83h-4.83zM290.43 240.09h4.83v4.83h-4.83zM295.26 244.91h4.83v4.83h-4.83zM304.91 244.91h4.83v4.83h-4.83zM261.47 249.74h4.83v4.83h-4.83zM97.33 254.57h4.83v4.83h-4.83zM348.36 254.57h4.83v4.83h-4.83zM145.6 269.05h4.83v4.83h-4.83zM222.84 278.71h4.83v4.83h-4.83zM116.64 283.53h4.83v4.83h-4.83zM222.84 283.53h4.83v4.83h-4.83zM290.43 288.36h4.83v4.83h-4.83zM145.6 302.84h4.83v4.83h-4.83zM275.95 302.84h4.83v4.83h-4.83z"/>
<path fill="rgb(37,37,37)" d="M309.74 32.5h4.83v4.83h-4.83zM111.81 37.33h4.83v4.83h-4.83zM160.09 42.16h4.83v4.83h-4.83zM362.84 42.16h4.83v4.83h-4.83zM343.53 46.98h4.83v4.83h-4.83zM131.12 51.81h4.83v4.83h-4.83zM271.12 51.81h4.83v4.83h-4.83zM329.05 51.81h4.83v4.83h-4.83zM126.29 56.64h4.83v4.83h-4.83zM102.16 66.29h4.83v4.83h-4.83zM164.91 75.95h4.83v4.83h-4.83zM203.53 80.78h4.83v4.83h-4.83zM275.95 90.43h4.83v4.83h-4.83zM285.6 90.43h4.83v4.83h-4.83zM362.84 90.43h4.83v4.83h-4.83zM218.02 95.26h4.83v4.83h-4.83zM367.67 104.91h4.83v4.83h-4.83zM155.26 114.57h4.83v4.83h-4.83zM145.6 119.4h4.83v4.83h-4.83zM155.26 119.4h4.83v4.83h-4.83zM309.74 119.4h4.83v4.83h-4.83zM358.02 119.4h4.83v4.83h-4.83zM333.88 129.05h4.83v4.83h-4.83zM285.6 133.88h4.83v4.83h-4.83zM116.64 138.71h4.83v4.83h-4.83zM246.98 138.71h4.83v4.83h-4.83zM285.6 138.71h4.83v4.83h-4.83zM285.6 143.53h4.83v4.83h-4.83zM222.84 153.19h4.83v4.83h-4.83zM251.81 162.84h4.83v4.83h-4.83zM314.57 162.84h4.83v4.83h-4.83zM362.84 162.84h4.83v4.83h-4.83zM121.47 167.67h4.83v4.83h-4.83zM155.26 177.33h4.83v4.83h-4.83zM189.05 177.33h4.83v4.83h-4.83zM295.26 201.47h4.83v4.83h-4.83zM102.16 206.29h4.83v4.83h-4.83zM155.26 211.12h4.83v4.83h-4.83zM106.98 215.95h4.83v4.83h-4.83zM251.81 215.95h4.83v4.83h-4.83zM227.67 220.78h4.83v4.83h-4.83zM304.91 220.78h4.83v4.83h-4.83zM358.02 220.78h4.83v4.83h-4.83zM367.67 220.78h4.83v4.83h-4.83zM242.16 230.43h4.83v4.83h-4.83zM285.6 230.43h4.83v4.83h-4.83zM280.78 235.26h4.83v4.83h-4.83zM116.64 244.91h9.66v4.83h-9.66zM251.81 244.91h4.83v4.83h-4.83zM314.57 244.91h4.83v4.83h-4.83zM106.98 254.57h4.83v4.83h-4.83zM116.64 254.57h4.83v4.83h-4.83zM280.78 259.4h4.83v4.83h-4.83zM135.95 264.22h4.83v4.83h-4.83zM246.98 264.22h4.83v4.83h-4.83zM309.74 269.05h4.83v4.83h-4.83zM164.91 273.88h4.83v4.83h-4.83zM324.22 273.88h4.83v4.83h-4.83zM111.81 288.36h4.83v4.83h-4.83zM155.26 302.84h4.83v4.83h-4.83zM242.16 302.84h4.83v4.83h-4.83zM145.6 307.67h4.83v4.83h-4.83zM300.09 307.67h4.83v4.83h-4.83z"/>
<path fill="rgb(38,38,38)" d="M102.16 32.5h4.83v4.83h-4.83zM106.98 37.33h4.83v4.83h-4.83zM179.4 37.33h4.83v4.83h-4.83zM198.71 37.33h4.83v4.83h-4.83zM203.53 42.16h4.83v4.83h-4.83zM329.05 46.98h4.83v4.83h-4.83zM121.47 51.81h4.83v4.83h-4.83zM218.02 51.81h4.83v4.83h-4.83zM271.12 56.64h4.83v4.83h-4.83zM218.02 66.29h4.83v4.83h-4.83zM304.91 66.29h4.83v4.83h-4.83zM324.22 66.29h4.83v4.83h-4.83zM275.95 75.95h4.83v4.83h-4.83zM174.57 80.78h4.83v4.83h-4.83zM155.26 85.6h4.83v4.83h-4.83zM203.53 90.43h4.83v4.83h-4.83zM242.16 90.43h4.83v4.83h-4.83zM295.26 90.43h4.83v4.83h-4.83zM358.02 90.43h4.83v4.83h-4.83zM97.33 109.74h4.83v4.83h-4.83zM367.67 109.74h4.83v4.83h-4.83zM135.95 114.57h4.83v4.83h-4.83zM246.98 114.57h4.83v4.83h-4.83zM256.64 114.57h4.83v4.83h-4.83zM290.43 129.05h4.83v4.83h-4.83zM111.81 133.88h4.83v4.83h-4.83zM295.26 133.88h4.83v4.83h-4.83zM314.57 133.88h4.83v4.83h-4.83zM189.05 153.19h4.83v4.83h-4.83zM145.6 162.84h4.83v4.83h-4.83zM246.98 162.84h4.83v4.83h-4.83zM160.09 167.67h9.66v4.83h-9.66zM208.36 177.33h4.83v4.83h-4.83zM232.5 182.16h4.83v4.83h-4.83zM329.05 182.16h4.83v4.83h-4.83zM290.43 186.98h4.83v4.83h-4.83zM329.05 186.98h4.83v4.83h-4.83zM338.71 186.98h4.83v4.83h-4.83zM237.33 196.64h4.83v4.83h-4.83zM324.22 196.64h4.83v4.83h-4.83zM179.4 201.47h4.83v4.83h-4.83zM285.6 201.47h4.83v4.83h-4.83zM348.36 201.47h4.83v4.83h-4.83zM174.57 206.29h4.83v4.83h-4.83zM169.74 211.12h4.83v4.83h-4.83zM208.36 215.95h4.83v4.83h-4.83zM295.26 215.95h4.83v4.83h-4.83zM222.84 235.26h4.83v4.83h-4.83zM242.16 235.26h4.83v4.83h-4.83zM266.29 240.09h4.83v4.83h-4.83zM358.02 240.09h4.83v4.83h-4.83zM280.78 244.91h4.83v4.83h-4.83zM164.91 254.57h4.83v4.83h-4.83zM266.29 254.57h4.83v4.83h-4.83zM126.29 269.05h4.83v4.83h-4.83zM140.78 273.88h4.83v4.83h-4.83zM213.19 283.53h9.66v4.83h-9.66zM266.29 283.53h4.83v4.83h-4.83zM174.57 288.36h4.83v4.83h-4.83zM232.5 288.36h4.83v4.83h-4.83zM116.64 293.19h4.83v4.83h-4.83zM111.81 307.67h4.83v4.83h-4.83zM150.43 307.67h4.83v4.83h-4.83z"/>
<path fill="rgb(39,39,39)" d="M135.95 32.5h4.83v4.83h-4.83zM232.5 32.5h4.83v4.83h-4.83zM285.6 32.5h4.83v4.83h-4.83zM150.43 37.33h4.83v4.83h-4.83zM189.05 37.33h4.83v4.83h-4.83zM203.53 37.33h4.83v4.83h-4.83zM232.5 37.33h4.83v4.83h-4.83zM266.29 46.98h4.83v4.83h-4.83zM333.88 46.98h4.83v4.83h-4.83zM362.84 46.98h4.83v4.83h-4.83zM251.81 51.81h4.83v4.83h-4.83zM314.57 51.81h9.66v4.83h-9.66zM131.12 56.64h4.83v4.83h-4.83zM227.67 56.64h4.83v4.83h-4.83zM237.33 56.64h4.83v4.83h-4.83zM131.12 61.47h4.83v4.83h-4.83zM222.84 66.29h4.83v4.83h-4.83zM290.43 66.29h4.83v4.83h-4.83zM300.09 66.29h4.83v4.83h-4.83zM338.71 66.29h4.83v4.83h-4.83zM164.91 71.12h4.83v4.83h-4.83zM131.12 75.95h4.83v4.83h-4.83zM261.47 75.95h4.83v4.83h-4.83zM145.6 80.78h4.83v4.83h-4.83zM232.5 80.78h4.83v4.83h-4.83zM251.81 85.6h4.83v4.83h-4.83zM97.33 95.26h4.83v4.83h-4.83zM155.26 100.09h4.83v4.83h-4.83zM111.81 109.74h4.83v4.83h-4.83zM314.57 109.74h4.83v4.83h-4.83zM198.71 114.57h4.83v4.83h-4.83zM227.67 114.57h4.83v4.83h-4.83zM237.33 114.57h4.83v4.83h-4.83zM309.74 114.57h4.83v4.83h-4.83zM102.16 124.22h4.83v4.83h-4.83zM174.57 124.22h4.83v4.83h-4.83zM164.91 129.05h4.83v4.83h-4.83zM227.67 129.05h4.83v4.83h-4.83zM242.16 129.05h4.83v4.83h-4.83zM256.64 133.88h4.83v4.83h-4.83zM111.81 138.71h4.83v4.83h-4.83zM251.81 143.53h4.83v4.83h-4.83zM290.43 143.53h4.83v4.83h-4.83zM304.91 143.53h4.83v4.83h-4.83zM237.33 153.19h4.83v4.83h-4.83zM290.43 153.19h4.83v4.83h-4.83zM179.4 172.5h4.83v4.83h-4.83zM203.53 182.16h4.83v4.83h-4.83zM203.53 186.98h4.83v4.83h-4.83zM280.78 191.81h4.83v4.83h-4.83zM121.47 196.64h4.83v4.83h-4.83zM242.16 196.64h4.83v4.83h-4.83zM256.64 201.47h4.83v4.83h-4.83zM290.43 201.47h4.83v4.83h-4.83zM333.88 201.47h4.83v4.83h-4.83zM256.64 211.12h4.83v4.83h-4.83zM261.47 215.95h4.83v4.83h-4.83zM271.12 215.95h4.83v4.83h-4.83zM304.91 215.95h4.83v4.83h-4.83zM367.67 215.95h4.83v4.83h-4.83zM362.84 220.78h4.83v4.83h-4.83zM232.5 225.6h4.83v4.83h-4.83zM145.6 230.43h4.83v4.83h-4.83zM218.02 230.43h4.83v4.83h-4.83zM232.5 230.43h4.83v4.83h-4.83zM304.91 230.43h4.83v4.83h-4.83zM348.36 230.43h4.83v4.83h-4.83zM285.6 235.26h4.83v4.83h-4.83zM179.4 240.09h4.83v4.83h-4.83zM135.95 259.4h4.83v4.83h-4.83zM155.26 259.4h4.83v4.83h-4.83zM261.47 259.4h4.83v4.83h-4.83zM304.91 264.22h4.83v4.83h-4.83zM208.36 273.88h9.66v4.83h-9.66zM362.84 273.88h4.83v4.83h-4.83zM218.02 278.71h4.83v4.83h-4.83zM367.67 298.02h4.83v4.83h-4.83zM102.16 307.67h4.83v4.83h-4.83z"/>
<path fill="rgb(40,40,40)" d="M261.47 32.5h4.83v4.83h-4.83zM280.78 32.5h4.83v4.83h-4.83zM126.29 37.33h4.83v4.83h-4.83zM213.19 37.33h4.83v4.83h-4.83zM145.6 42.16h4.83v4.83h-4.83zM92.5 51.81h4.83v4.83h-4.83zM256.64 51.81h4.83v4.83h-4.83zM367.67 51.81h4.83v4.83h-4.83zM213.19 56.64h4.83v4.83h-4.83zM174.57 61.47h4.83v4.83h-4.83zM246.98 61.47h4.83v4.83h-4.83zM362.84 61.47h4.83v4.83h-4.83zM92.5 66.29h4.83v4.83h-4.83zM237.33 66.29h4.83v4.83h-4.83zM179.4 75.95h4.83v4.83h-4.83zM218.02 75.95h4.83v4.83h-4.83zM251.81 80.78h4.83v4.83h-4.83zM280.78 85.6h4.83v4.83h-4.83zM290.43 90.43h4.83v4.83h-4.83zM92.5 100.09h4.83v4.83h-4.83zM174.57 100.09h4.83v4.83h-4.83zM242.16 100.09h4.83v4.83h-4.83zM102.16 119.4h4.83v4.83h-4.83zM160.09 119.4h4.83v4.83h-4.83zM333.88 124.22h4.83v4.83h-4.83zM189.05 129.05h4.83v4.83h-4.83zM203.53 133.88h4.83v4.83h-4.83zM251.81 133.88h4.83v4.83h-4.83zM367.67 133.88h4.83v4.83h-4.83zM237.33 138.71h4.83v4.83h-4.83zM237.33 143.53h4.83v4.83h-4.83zM266.29 148.36h4.83v4.83h-4.83zM324.22 148.36h4.83v4.83h-4.83zM208.36 153.19h4.83v4.83h-4.83zM290.43 162.84h4.83v4.83h-4.83zM193.88 167.67h4.83v4.83h-4.83zM135.95 172.5h4.83v4.83h-4.83zM309.74 172.5h4.83v4.83h-4.83zM329.05 172.5h4.83v4.83h-4.83zM227.67 177.33h4.83v4.83h-4.83zM111.81 182.16h4.83v4.83h-4.83zM164.91 182.16h4.83v4.83h-4.83zM227.67 182.16h4.83v4.83h-4.83zM242.16 182.16h4.83v4.83h-4.83zM271.12 182.16h4.83v4.83h-4.83zM184.22 186.98h4.83v4.83h-4.83zM295.26 186.98h4.83v4.83h-4.83zM348.36 186.98h9.66v4.83h-9.66zM237.33 191.81h4.83v4.83h-4.83zM213.19 196.64h4.83v4.83h-4.83zM232.5 196.64h4.83v4.83h-4.83zM271.12 196.64h4.83v4.83h-4.83zM237.33 201.47h4.83v4.83h-4.83zM314.57 201.47h4.83v4.83h-4.83zM193.88 206.29h4.83v4.83h-4.83zM362.84 206.29h4.83v4.83h-4.83zM184.22 211.12h4.83v4.83h-4.83zM213.19 215.95h4.83v4.83h-4.83zM242.16 215.95h4.83v4.83h-4.83zM348.36 215.95h4.83v4.83h-4.83zM131.12 220.78h4.83v4.83h-4.83zM198.71 220.78h4.83v4.83h-4.83zM251.81 220.78h4.83v4.83h-4.83zM295.26 225.6h4.83v4.83h-4.83zM329.05 230.43h4.83v4.83h-4.83zM266.29 235.26h4.83v4.83h-4.83zM290.43 235.26h4.83v4.83h-4.83zM92.5 249.74h4.83v4.83h-4.83zM295.26 249.74h4.83v4.83h-4.83zM213.19 269.05h4.83v4.83h-4.83zM121.47 273.88h4.83v4.83h-4.83zM131.12 273.88h4.83v4.83h-4.83zM184.22 273.88h4.83v4.83h-4.83zM213.19 278.71h4.83v4.83h-4.83zM242.16 278.71h4.83v4.83h-4.83zM275.95 278.71h4.83v4.83h-4.83zM309.74 278.71h4.83v4.83h-4.83zM102.16 288.36h4.83v4.83h-4.83zM285.6 288.36h4.83v4.83h-4.83zM237.33 293.19h4.83v4.83h-4.83zM251.81 293.19h4.83v4.83h-4.83zM290.43 298.02h4.83v4.83h-4.83zM358.02 302.84h4.83v4.83h-4.83zM131.12 307.67h4.83v4.83h-4.83zM271.12 307.67h4.83v4.83h-4.83z"/>
<path fill="rgb(41,41,41)" d="M227.67 32.5h4.83v4.83h-4.83zM97.33 37.33h4.83v4.83h-4.83zM362.84 37.33h4.83v4.83h-4.83zM348.36 42.16h4.83v4.83h-4.83zM324.22 51.81h4.83v4.83h-4.83zM333.88 51.81h4.83v4.83h-4.83zM251.81 56.64h4.83v4.83h-4.83zM300.09 56.64h4.83v4.83h-4.83zM97.33 61.47h4.83v4.83h-4.83zM290.43 61.47h4.83v4.83h-4.83zM353.19 66.29h4.83v4.83h-4.83zM174.57 71.12h4.83v4.83h-4.83zM290.43 71.12h4.83v4.83h-4.83zM111.81 75.95h4.83v4.83h-4.83zM295.26 75.95h4.83v4.83h-4.83zM333.88 75.95h4.83v4.83h-4.83zM116.64 90.43h4.83v4.83h-4.83zM300.09 90.43h4.83v4.83h-4.83zM92.5 95.26h4.83v4.83h-4.83zM121.47 95.26h4.83v4.83h-4.83zM213.19 104.91h4.83v4.83h-4.83zM227.67 104.91h4.83v4.83h-4.83zM358.02 104.91h4.83v4.83h-4.83zM227.67 124.22h4.83v4.83h-4.83zM275.95 129.05h4.83v4.83h-4.83zM333.88 133.88h4.83v4.83h-4.83zM353.19 143.53h4.83v4.83h-4.83zM218.02 153.19h4.83v4.83h-4.83zM131.12 158.02h4.83v4.83h-4.83zM160.09 158.02h4.83v4.83h-4.83zM155.26 162.84h4.83v4.83h-4.83zM232.5 162.84h4.83v4.83h-4.83zM280.78 167.67h9.66v4.83h-9.66zM256.64 172.5h4.83v4.83h-4.83zM324.22 172.5h4.83v4.83h-4.83zM106.98 182.16h4.83v4.83h-4.83zM150.43 182.16h4.83v4.83h-4.83zM333.88 191.81h4.83v4.83h-4.83zM314.57 196.64h4.83v4.83h-4.83zM92.5 206.29h4.83v4.83h-4.83zM184.22 206.29h4.83v4.83h-4.83zM246.98 206.29h4.83v4.83h-4.83zM304.91 211.12h4.83v4.83h-4.83zM333.88 211.12h4.83v4.83h-4.83zM362.84 215.95h4.83v4.83h-4.83zM300.09 220.78h4.83v4.83h-4.83zM126.29 240.09h4.83v4.83h-4.83zM304.91 240.09h4.83v4.83h-4.83zM126.29 244.91h4.83v4.83h-4.83zM213.19 249.74h4.83v4.83h-4.83zM189.05 254.57h4.83v4.83h-4.83zM242.16 254.57h4.83v4.83h-4.83zM319.4 259.4h4.83v4.83h-4.83zM179.4 264.22h4.83v4.83h-4.83zM242.16 264.22h4.83v4.83h-4.83zM261.47 264.22h4.83v4.83h-4.83zM338.71 264.22h4.83v4.83h-4.83zM362.84 264.22h4.83v4.83h-4.83zM121.47 269.05h4.83v4.83h-4.83zM314.57 269.05h4.83v4.83h-4.83zM193.88 273.88h4.83v4.83h-4.83zM246.98 283.53h4.83v4.83h-4.83zM329.05 283.53h4.83v4.83h-4.83zM189.05 288.36h4.83v4.83h-4.83zM295.26 302.84h4.83v4.83h-4.83zM160.09 307.67h9.66v4.83h-9.66zM329.05 307.67h4.83v4.83h-4.83zM338.71 307.67h4.83v4.83h-4.83z"/>
<path fill="rgb(42,42,42)" d="M333.88 37.33h9.66v4.83h-9.66zM135.95 42.16h4.83v4.83h-4.83zM251.81 42.16h4.83v4.83h-4.83zM358.02 42.16h4.83v4.83h-4.83zM174.57 46.98h4.83v4.83h-4.83zM285.6 46.98h4.83v4.83h-4.83zM106.98 51.81h4.83v4.83h-4.83zM160.09 51.81h4.83v4.83h-4.83zM362.84 51.81h4.83v4.83h-4.83zM208.36 56.64h4.83v4.83h-4.83zM319.4 56.64h4.83v4.83h-4.83zM164.91 61.47h4.83v4.83h-4.83zM319.4 61.47h4.83v4.83h-4.83zM353.19 61.47h4.83v4.83h-4.83zM126.29 66.29h4.83v4.83h-4.83zM242.16 66.29h4.83v4.83h-4.83zM189.05 75.95h4.83v4.83h-4.83zM246.98 75.95h4.83v4.83h-4.83zM169.74 85.6h4.83v4.83h-4.83zM275.95 95.26h4.83v4.83h-4.83zM275.95 104.91h4.83v4.83h-4.83zM179.4 109.74h4.83v4.83h-4.83zM116.64 114.57h9.66v4.83h-9.66zM251.81 114.57h4.83v4.83h-4.83zM304.91 119.4h4.83v4.83h-4.83zM343.53 124.22h4.83v4.83h-4.83zM150.43 129.05h4.83v4.83h-4.83zM271.12 129.05h4.83v4.83h-4.83zM271.12 133.88h4.83v4.83h-4.83zM275.95 138.71h4.83v4.83h-4.83zM106.98 143.53h4.83v4.83h-4.83zM208.36 143.53h9.66v4.83h-9.66zM319.4 158.02h4.83v4.83h-4.83zM222.84 162.84h4.83v4.83h-4.83zM271.12 162.84h4.83v4.83h-4.83zM179.4 167.67h4.83v4.83h-4.83zM246.98 167.67h9.66v4.83h-9.66zM271.12 167.67h4.83v4.83h-4.83zM353.19 167.67h9.66v4.83h-9.66zM353.19 177.33h4.83v4.83h-4.83zM218.02 182.16h4.83v4.83h-4.83zM256.64 182.16h4.83v4.83h-4.83zM300.09 182.16h4.83v4.83h-4.83zM222.84 186.98h4.83v4.83h-4.83zM140.78 196.64h4.83v4.83h-4.83zM295.26 196.64h4.83v4.83h-4.83zM160.09 201.47h9.66v4.83h-9.66zM169.74 206.29h4.83v4.83h-4.83zM348.36 206.29h4.83v4.83h-4.83zM121.47 220.78h4.83v4.83h-4.83zM145.6 220.78h4.83v4.83h-4.83zM189.05 230.43h4.83v4.83h-4.83zM333.88 230.43h4.83v4.83h-4.83zM329.05 240.09h4.83v4.83h-4.83zM353.19 240.09h4.83v4.83h-4.83zM92.5 244.91h4.83v4.83h-4.83zM160.09 249.74h4.83v4.83h-4.83zM169.74 254.57h4.83v4.83h-4.83zM261.47 254.57h4.83v4.83h-4.83zM290.43 259.4h4.83v4.83h-4.83zM300.09 259.4h4.83v4.83h-4.83zM155.26 264.22h4.83v4.83h-4.83zM285.6 269.05h4.83v4.83h-4.83zM174.57 273.88h4.83v4.83h-4.83zM121.47 283.53h4.83v4.83h-4.83zM232.5 283.53h4.83v4.83h-4.83zM213.19 288.36h4.83v4.83h-4.83zM300.09 288.36h9.66v4.83h-9.66zM242.16 293.19h4.83v4.83h-4.83zM295.26 293.19h4.83v4.83h-4.83zM218.02 307.67h4.83v4.83h-4.83zM266.29 307.67h4.83v4.83h-4.83z"/>
<path fill="rgb(43,43,43)" d="M198.71 42.16h4.83v4.83h-4.83zM116.64 46.98h4.83v4.83h-4.83zM131.12 46.98h4.83v4.83h-4.83zM256.64 46.98h4.83v4.83h-4.83zM300.09 46.98h4.83v4.83h-4.83zM295.26 51.81h4.83v4.83h-4.83zM222.84 56.64h4.83v4.83h-4.83zM266.29 56.64h4.83v4.83h-4.83zM131.12 71.12h4.83v4.83h-4.83zM106.98 75.95h4.83v4.83h-4.83zM150.43 80.78h4.83v4.83h-4.83zM218.02 80.78h4.83v4.83h-4.83zM319.4 85.6h4.83v4.83h-4.83zM314.57 95.26h4.83v4.83h-4.83zM97.33 100.09h4.83v4.83h-4.83zM309.74 100.09h4.83v4.83h-4.83zM319.4 100.09h4.83v4.83h-4.83zM300.09 104.91h4.83v4.83h-4.83zM290.43 114.57h4.83v4.83h-4.83zM343.53 114.57h4.83v4.83h-4.83zM189.05 124.22h4.83v4.83h-4.83zM362.84 124.22h4.83v4.83h-4.83zM140.78 129.05h4.83v4.83h-4.83zM338.71 133.88h4.83v4.83h-4.83zM362.84 143.53h4.83v4.83h-4.83zM111.81 153.19h4.83v4.83h-4.83zM256.64 153.19h4.83v4.83h-4.83zM155.26 158.02h4.83v4.83h-4.83zM280.78 162.84h4.83v4.83h-4.83zM198.71 167.67h4.83v4.83h-4.83zM222.84 177.33h4.83v4.83h-4.83zM358.02 177.33h4.83v4.83h-4.83zM126.29 182.16h4.83v4.83h-4.83zM237.33 186.98h4.83v4.83h-4.83zM116.64 196.64h4.83v4.83h-4.83zM111.81 201.47h4.83v4.83h-4.83zM304.91 206.29h4.83v4.83h-4.83zM343.53 206.29h4.83v4.83h-4.83zM203.53 215.95h4.83v4.83h-4.83zM102.16 225.6h4.83v4.83h-4.83zM275.95 225.6h4.83v4.83h-4.83zM121.47 230.43h9.66v4.83h-9.66zM324.22 230.43h4.83v4.83h-4.83zM300.09 235.26h9.66v4.83h-9.66zM319.4 235.26h4.83v4.83h-4.83zM140.78 244.91h4.83v4.83h-4.83zM266.29 244.91h4.83v4.83h-4.83zM338.71 244.91h4.83v4.83h-4.83zM97.33 249.74h4.83v4.83h-4.83zM140.78 249.74h4.83v4.83h-4.83zM232.5 254.57h4.83v4.83h-4.83zM111.81 259.4h4.83v4.83h-4.83zM329.05 259.4h4.83v4.83h-4.83zM184.22 264.22h4.83v4.83h-4.83zM251.81 264.22h4.83v4.83h-4.83zM348.36 264.22h4.83v4.83h-4.83zM116.64 269.05h4.83v4.83h-4.83zM290.43 269.05h9.66v4.83h-9.66zM135.95 273.88h4.83v4.83h-4.83zM198.71 273.88h4.83v4.83h-4.83zM280.78 273.88h4.83v4.83h-4.83zM304.91 273.88h4.83v4.83h-4.83zM266.29 278.71h4.83v4.83h-4.83zM333.88 278.71h4.83v4.83h-4.83zM111.81 283.53h4.83v4.83h-4.83zM97.33 288.36h4.83v4.83h-4.83zM362.84 288.36h4.83v4.83h-4.83zM102.16 293.19h4.83v4.83h-4.83zM189.05 293.19h4.83v4.83h-4.83zM246.98 293.19h4.83v4.83h-4.83zM266.29 293.19h4.83v4.83h-4.83zM280.78 293.19h9.66v4.83h-9.66zM319.4 293.19h4.83v4.83h-4.83zM251.81 298.02h4.83v4.83h-4.83zM160.09 302.84h4.83v4.83h-4.83z"/>
<path fill="rgb(44,44,44)" d="M203.53 32.5h4.83v4.83h-4.83zM300.09 32.5h4.83v4.83h-4.83zM358.02 37.33h4.83v4.83h-4.83zM155.26 42.16h4.83v4.83h-4.83zM135.95 46.98h4.83v4.83h-4.83zM353.19 51.81h4.83v4.83h-4.83zM160.09 56.64h4.83v4.83h-4.83zM242.16 61.47h4.83v4.83h-4.83zM314.57 66.29h4.83v4.83h-4.83zM343.53 66.29h4.83v4.83h-4.83zM179.4 71.12h4.83v4.83h-4.83zM329.05 71.12h4.83v4.83h-4.83zM232.5 75.95h4.83v4.83h-4.83zM367.67 75.95h4.83v4.83h-4.83zM304.91 80.78h4.83v4.83h-4.83zM304.91 85.6h4.83v4.83h-4.83zM333.88 85.6h4.83v4.83h-4.83zM97.33 90.43h4.83v4.83h-4.83zM319.4 90.43h4.83v4.83h-4.83zM140.78 100.09h4.83v4.83h-4.83zM106.98 109.74h4.83v4.83h-4.83zM131.12 109.74h4.83v4.83h-4.83zM160.09 109.74h4.83v4.83h-4.83zM314.57 114.57h4.83v4.83h-4.83zM203.53 119.4h4.83v4.83h-4.83zM155.26 129.05h4.83v4.83h-4.83zM184.22 129.05h4.83v4.83h-4.83zM203.53 129.05h4.83v4.83h-4.83zM295.26 129.05h4.83v4.83h-4.83zM203.53 138.71h9.66v4.83h-9.66zM300.09 138.71h4.83v4.83h-4.83zM338.71 138.71h4.83v4.83h-4.83zM324.22 153.19h4.83v4.83h-4.83zM266.29 162.84h4.83v4.83h-4.83zM189.05 167.67h4.83v4.83h-4.83zM290.43 167.67h4.83v4.83h-4.83zM275.95 182.16h4.83v4.83h-4.83zM275.95 191.81h4.83v4.83h-4.83zM358.02 191.81h4.83v4.83h-4.83zM362.84 196.64h4.83v4.83h-4.83zM218.02 206.29h4.83v4.83h-4.83zM242.16 206.29h4.83v4.83h-4.83zM275.95 206.29h4.83v4.83h-4.83zM314.57 206.29h4.83v4.83h-4.83zM237.33 211.12h4.83v4.83h-4.83zM309.74 211.12h4.83v4.83h-4.83zM111.81 215.95h4.83v4.83h-4.83zM145.6 215.95h4.83v4.83h-4.83zM256.64 220.78h4.83v4.83h-4.83zM126.29 225.6h4.83v4.83h-4.83zM222.84 225.6h4.83v4.83h-4.83zM131.12 230.43h4.83v4.83h-4.83zM222.84 230.43h4.83v4.83h-4.83zM237.33 230.43h4.83v4.83h-4.83zM290.43 230.43h4.83v4.83h-4.83zM145.6 240.09h4.83v4.83h-4.83zM193.88 244.91h4.83v4.83h-4.83zM290.43 249.74h4.83v4.83h-4.83zM266.29 259.4h4.83v4.83h-4.83zM338.71 259.4h4.83v4.83h-4.83zM261.47 278.71h4.83v4.83h-4.83zM97.33 283.53h4.83v4.83h-4.83zM358.02 288.36h4.83v4.83h-4.83zM131.12 293.19h4.83v4.83h-4.83zM164.91 293.19h4.83v4.83h-4.83zM232.5 307.67h4.83v4.83h-4.83z"/>
<path fill="rgb(45,45,45)" d="M121.47 32.5h4.83v4.83h-4.83zM131.12 32.5h4.83v4.83h-4.83zM150.43 32.5h4.83v4.83h-4.83zM353.19 32.5h4.83v4.83h-4.83zM324.22 37.33h4.83v4.83h-4.83zM111.81 42.16h4.83v4.83h-4.83zM169.74 42.16h4.83v4.83h-4.83zM271.12 42.16h4.83v4.83h-4.83zM106.98 46.98h4.83v4.83h-4.83zM222.84 51.81h4.83v4.83h-4.83zM261.47 56.64h4.83v4.83h-4.83zM290.43 56.64h4.83v4.83h-4.83zM135.95 61.47h4.83v4.83h-4.83zM155.26 66.29h4.83v4.83h-4.83zM184.22 75.95h4.83v4.83h-4.83zM179.4 80.78h4.83v4.83h-4.83zM193.88 80.78h4.83v4.83h-4.83zM362.84 85.6h4.83v4.83h-4.83zM135.95 90.43h4.83v4.83h-4.83zM164.91 90.43h9.66v4.83h-9.66zM358.02 95.26h4.83v4.83h-4.83zM343.53 104.91h4.83v4.83h-4.83zM169.74 109.74h9.66v4.83h-9.66zM300.09 109.74h4.83v4.83h-4.83zM309.74 109.74h4.83v4.83h-4.83zM145.6 114.57h4.83v4.83h-4.83zM338.71 119.4h4.83v4.83h-4.83zM150.43 124.22h4.83v4.83h-4.83zM300.09 129.05h4.83v4.83h-4.83zM131.12 133.88h4.83v4.83h-4.83zM184.22 133.88h4.83v4.83h-4.83zM150.43 138.71h4.83v4.83h-4.83zM164.91 148.36h4.83v4.83h-4.83zM295.26 148.36h4.83v4.83h-4.83zM266.29 158.02h4.83v4.83h-4.83zM203.53 167.67h4.83v4.83h-4.83zM155.26 172.5h4.83v4.83h-4.83zM256.64 177.33h4.83v4.83h-4.83zM121.47 182.16h4.83v4.83h-4.83zM314.57 186.98h4.83v4.83h-4.83zM290.43 196.64h4.83v4.83h-4.83zM169.74 201.47h4.83v4.83h-4.83zM111.81 211.12h4.83v4.83h-4.83zM275.95 211.12h4.83v4.83h-4.83zM329.05 211.12h4.83v4.83h-4.83zM121.47 215.95h4.83v4.83h-4.83zM135.95 215.95h4.83v4.83h-4.83zM218.02 215.95h4.83v4.83h-4.83zM280.78 220.78h4.83v4.83h-4.83zM121.47 225.6h4.83v4.83h-4.83zM131.12 225.6h4.83v4.83h-4.83zM164.91 225.6h4.83v4.83h-4.83zM208.36 225.6h4.83v4.83h-4.83zM140.78 230.43h4.83v4.83h-4.83zM193.88 230.43h4.83v4.83h-4.83zM213.19 230.43h4.83v4.83h-4.83zM295.26 230.43h4.83v4.83h-4.83zM164.91 244.91h4.83v4.83h-4.83zM290.43 244.91h4.83v4.83h-4.83zM135.95 249.74h4.83v4.83h-4.83zM145.6 249.74h4.83v4.83h-4.83zM222.84 249.74h4.83v4.83h-4.83zM275.95 254.57h4.83v4.83h-4.83zM174.57 259.4h4.83v4.83h-4.83zM198.71 259.4h4.83v4.83h-4.83zM348.36 259.4h4.83v4.83h-4.83zM329.05 269.05h4.83v4.83h-4.83zM140.78 278.71h4.83v4.83h-4.83zM193.88 283.53h4.83v4.83h-4.83zM203.53 288.36h4.83v4.83h-4.83zM218.02 288.36h4.83v4.83h-4.83zM232.5 298.02h4.83v4.83h-4.83zM237.33 302.84h4.83v4.83h-4.83zM169.74 307.67h4.83v4.83h-4.83z"/>
<path fill="rgb(46,46,46)" d="M319.4 32.5h9.66v4.83h-9.66zM102.16 37.33h4.83v4.83h-4.83zM213.19 42.16h4.83v4.83h-4.83zM169.74 56.64h4.83v4.83h-4.83zM227.67 61.47h4.83v4.83h-4.83zM348.36 61.47h4.83v4.83h-4.83zM97.33 66.29h4.83v4.83h-4.83zM266.29 75.95h9.66v4.83h-9.66zM338.71 85.6h4.83v4.83h-4.83zM116.64 95.26h4.83v4.83h-4.83zM237.33 100.09h4.83v4.83h-4.83zM275.95 100.09h4.83v4.83h-4.83zM160.09 114.57h4.83v4.83h-4.83zM343.53 119.4h4.83v4.83h-4.83zM160.09 124.22h4.83v4.83h-4.83zM314.57 129.05h4.83v4.83h-4.83zM329.05 129.05h4.83v4.83h-4.83zM362.84 129.05h4.83v4.83h-4.83zM140.78 133.88h4.83v4.83h-4.83zM102.16 143.53h4.83v4.83h-4.83zM333.88 148.36h4.83v4.83h-4.83zM319.4 153.19h4.83v4.83h-4.83zM126.29 158.02h4.83v4.83h-4.83zM232.5 158.02h4.83v4.83h-4.83zM174.57 162.84h4.83v4.83h-4.83zM164.91 172.5h4.83v4.83h-4.83zM198.71 172.5h4.83v4.83h-4.83zM242.16 172.5h4.83v4.83h-4.83zM343.53 172.5h9.66v4.83h-9.66zM295.26 177.33h4.83v4.83h-4.83zM280.78 182.16h4.83v4.83h-4.83zM126.29 196.64h4.83v4.83h-4.83zM353.19 201.47h4.83v4.83h-4.83zM189.05 211.12h9.66v4.83h-9.66zM285.6 220.78h4.83v4.83h-4.83zM92.5 230.43h4.83v4.83h-4.83zM121.47 235.26h4.83v4.83h-4.83zM237.33 240.09h4.83v4.83h-4.83zM275.95 244.91h4.83v4.83h-4.83zM285.6 249.74h4.83v4.83h-4.83zM348.36 249.74h9.66v4.83h-9.66zM319.4 254.57h4.83v4.83h-4.83zM106.98 264.22h4.83v4.83h-4.83zM266.29 264.22h4.83v4.83h-4.83zM193.88 269.05h4.83v4.83h-4.83zM304.91 278.71h4.83v4.83h-4.83zM295.26 288.36h4.83v4.83h-4.83zM106.98 293.19h4.83v4.83h-4.83zM102.16 298.02h4.83v4.83h-4.83zM135.95 307.67h9.66v4.83h-9.66z"/>
<path fill="rgb(47,47,47)" d="M314.57 37.33h4.83v4.83h-4.83zM92.5 42.16h4.83v4.83h-4.83zM362.84 56.64h4.83v4.83h-4.83zM271.12 66.29h4.83v4.83h-4.83zM309.74 66.29h4.83v4.83h-4.83zM343.53 75.95h4.83v4.83h-4.83zM300.09 85.6h4.83v4.83h-4.83zM343.53 85.6h4.83v4.83h-4.83zM353.19 90.43h4.83v4.83h-4.83zM300.09 95.26h4.83v4.83h-4.83zM319.4 95.26h4.83v4.83h-4.83zM126.29 100.09h4.83v4.83h-4.83zM203.53 100.09h4.83v4.83h-4.83zM271.12 100.09h4.83v4.83h-4.83zM348.36 104.91h4.83v4.83h-4.83zM121.47 109.74h4.83v4.83h-4.83zM266.29 109.74h4.83v4.83h-4.83zM275.95 109.74h4.83v4.83h-4.83zM324.22 109.74h4.83v4.83h-4.83zM218.02 114.57h4.83v4.83h-4.83zM309.74 124.22h4.83v4.83h-4.83zM358.02 124.22h4.83v4.83h-4.83zM193.88 133.88h4.83v4.83h-4.83zM348.36 143.53h4.83v4.83h-4.83zM203.53 153.19h4.83v4.83h-4.83zM285.6 158.02h4.83v4.83h-4.83zM97.33 167.67h4.83v4.83h-4.83zM266.29 167.67h4.83v4.83h-4.83zM304.91 167.67h4.83v4.83h-4.83zM290.43 172.5h4.83v4.83h-4.83zM155.26 182.16h4.83v4.83h-4.83zM261.47 182.16h4.83v4.83h-4.83zM319.4 186.98h4.83v4.83h-4.83zM140.78 191.81h4.83v4.83h-4.83zM155.26 191.81h4.83v4.83h-4.83zM189.05 191.81h4.83v4.83h-4.83zM218.02 191.81h4.83v4.83h-4.83zM242.16 191.81h4.83v4.83h-4.83zM300.09 191.81h4.83v4.83h-4.83zM184.22 196.64h4.83v4.83h-4.83zM150.43 201.47h4.83v4.83h-4.83zM256.64 206.29h4.83v4.83h-4.83zM309.74 206.29h4.83v4.83h-4.83zM116.64 215.95h4.83v4.83h-4.83zM193.88 220.78h4.83v4.83h-4.83zM189.05 225.6h4.83v4.83h-4.83zM367.67 225.6h4.83v4.83h-4.83zM343.53 230.43h4.83v4.83h-4.83zM116.64 235.26h4.83v4.83h-4.83zM343.53 240.09h4.83v4.83h-4.83zM121.47 249.74h4.83v4.83h-4.83zM150.43 249.74h4.83v4.83h-4.83zM280.78 254.57h4.83v4.83h-4.83zM92.5 259.4h4.83v4.83h-4.83zM131.12 264.22h4.83v4.83h-4.83zM237.33 264.22h4.83v4.83h-4.83zM314.57 264.22h4.83v4.83h-4.83zM348.36 273.88h4.83v4.83h-4.83zM198.71 288.36h4.83v4.83h-4.83zM160.09 298.02h4.83v4.83h-4.83zM169.74 302.84h4.83v4.83h-4.83zM189.05 302.84h4.83v4.83h-4.83zM174.57 307.67h4.83v4.83h-4.83zM314.57 307.67h4.83v4.83h-4.83zM343.53 307.67h4.83v4.83h-4.83z"/>
<path fill="rgb(48,48,48)" d="M266.29 32.5h4.83v4.83h-4.83zM343.53 32.5h4.83v4.83h-4.83zM256.64 37.33h4.83v4.83h-4.83zM343.53 42.16h4.83v4.83h-4.83zM295.26 46.98h4.83v4.83h-4.83zM121.47 56.64h4.83v4.83h-4.83zM155.26 56.64h4.83v4.83h-4.83zM280.78 66.29h4.83v4.83h-4.83zM116.64 71.12h4.83v4.83h-4.83zM304.91 75.95h4.83v4.83h-4.83zM198.71 80.78h4.83v4.83h-4.83zM329.05 80.78h4.83v4.83h-4.83zM135.95 85.6h4.83v4.83h-4.83zM164.91 85.6h4.83v4.83h-4.83zM285.6 85.6h4.83v4.83h-4.83zM338.71 100.09h4.83v4.83h-4.83zM304.91 104.91h4.83v4.83h-4.83zM189.05 109.74h4.83v4.83h-4.83zM280.78 109.74h4.83v4.83h-4.83zM131.12 114.57h4.83v4.83h-4.83zM174.57 119.4h4.83v4.83h-4.83zM198.71 119.4h4.83v4.83h-4.83zM290.43 119.4h4.83v4.83h-4.83zM314.57 119.4h4.83v4.83h-4.83zM203.53 124.22h4.83v4.83h-4.83zM367.67 124.22h4.83v4.83h-4.83zM237.33 133.88h4.83v4.83h-4.83zM300.09 133.88h4.83v4.83h-4.83zM198.71 138.71h4.83v4.83h-4.83zM314.57 138.71h4.83v4.83h-4.83zM106.98 148.36h4.83v4.83h-4.83zM102.16 153.19h4.83v4.83h-4.83zM242.16 153.19h4.83v4.83h-4.83zM261.47 153.19h9.66v4.83h-9.66zM189.05 158.02h4.83v4.83h-4.83zM222.84 158.02h4.83v4.83h-4.83zM362.84 158.02h4.83v4.83h-4.83zM92.5 167.67h4.83v4.83h-4.83zM329.05 167.67h4.83v4.83h-4.83zM266.29 172.5h4.83v4.83h-4.83zM174.57 177.33h4.83v4.83h-4.83zM261.47 177.33h4.83v4.83h-4.83zM193.88 182.16h4.83v4.83h-4.83zM135.95 191.81h4.83v4.83h-4.83zM285.6 196.64h4.83v4.83h-4.83zM155.26 201.47h4.83v4.83h-4.83zM329.05 201.47h4.83v4.83h-4.83zM222.84 206.29h4.83v4.83h-4.83zM232.5 206.29h4.83v4.83h-4.83zM116.64 211.12h4.83v4.83h-4.83zM324.22 211.12h4.83v4.83h-4.83zM329.05 215.95h4.83v4.83h-4.83zM246.98 220.78h4.83v4.83h-4.83zM271.12 220.78h4.83v4.83h-4.83zM227.67 225.6h4.83v4.83h-4.83zM97.33 230.43h4.83v4.83h-4.83zM169.74 230.43h4.83v4.83h-4.83zM126.29 235.26h4.83v4.83h-4.83zM319.4 244.91h4.83v4.83h-4.83zM102.16 249.74h4.83v4.83h-4.83zM189.05 249.74h4.83v4.83h-4.83zM300.09 254.57h4.83v4.83h-4.83zM338.71 254.57h4.83v4.83h-4.83zM358.02 254.57h4.83v4.83h-4.83zM213.19 259.4h4.83v4.83h-4.83zM251.81 273.88h4.83v4.83h-4.83zM290.43 273.88h4.83v4.83h-4.83zM121.47 278.71h4.83v4.83h-4.83zM295.26 283.53h4.83v4.83h-4.83zM256.64 298.02h4.83v4.83h-4.83zM135.95 302.84h4.83v4.83h-4.83zM362.84 302.84h4.83v4.83h-4.83zM319.4 307.67h4.83v4.83h-4.83z"/>
<path fill="rgb(49,49,49)" d="M140.78 32.5h4.83v4.83h-4.83zM271.12 46.98h4.83v4.83h-4.83zM338.71 46.98h4.83v4.83h-4.83zM116.64 51.81h4.83v4.83h-4.83zM92.5 61.47h4.83v4.83h-4.83zM126.29 61.47h4.83v4.83h-4.83zM358.02 61.47h4.83v4.83h-4.83zM160.09 66.29h4.83v4.83h-4.83zM213.19 71.12h4.83v4.83h-4.83zM314.57 71.12h4.83v4.83h-4.83zM237.33 75.95h4.83v4.83h-4.83zM256.64 75.95h4.83v4.83h-4.83zM169.74 80.78h4.83v4.83h-4.83zM333.88 80.78h4.83v4.83h-4.83zM242.16 85.6h4.83v4.83h-4.83zM131.12 100.09h4.83v4.83h-4.83zM97.33 104.91h4.83v4.83h-4.83zM261.47 104.91h4.83v4.83h-4.83zM353.19 109.74h4.83v4.83h-4.83zM102.16 114.57h4.83v4.83h-4.83zM126.29 114.57h4.83v4.83h-4.83zM126.29 129.05h4.83v4.83h-4.83zM145.6 129.05h4.83v4.83h-4.83zM198.71 129.05h4.83v4.83h-4.83zM329.05 143.53h4.83v4.83h-4.83zM97.33 158.02h4.83v4.83h-4.83zM280.78 158.02h4.83v4.83h-4.83zM106.98 167.67h4.83v4.83h-4.83zM309.74 167.67h4.83v4.83h-4.83zM160.09 172.5h4.83v4.83h-4.83zM304.91 172.5h4.83v4.83h-4.83zM338.71 182.16h9.66v4.83h-9.66zM275.95 186.98h4.83v4.83h-4.83zM290.43 191.81h4.83v4.83h-4.83zM169.74 196.64h4.83v4.83h-4.83zM358.02 196.64h4.83v4.83h-4.83zM126.29 201.47h4.83v4.83h-4.83zM261.47 206.29h9.66v4.83h-9.66zM126.29 220.78h4.83v4.83h-4.83zM300.09 225.6h4.83v4.83h-4.83zM208.36 230.43h4.83v4.83h-4.83zM319.4 230.43h4.83v4.83h-4.83zM353.19 230.43h4.83v4.83h-4.83zM106.98 249.74h4.83v4.83h-4.83zM208.36 254.57h4.83v4.83h-4.83zM135.95 269.05h4.83v4.83h-4.83zM353.19 273.88h4.83v4.83h-4.83zM189.05 278.71h4.83v4.83h-4.83zM174.57 283.53h4.83v4.83h-4.83zM261.47 283.53h4.83v4.83h-4.83zM169.74 293.19h4.83v4.83h-4.83zM300.09 293.19h4.83v4.83h-4.83zM164.91 302.84h4.83v4.83h-4.83zM174.57 302.84h4.83v4.83h-4.83zM184.22 302.84h4.83v4.83h-4.83zM198.71 307.67h4.83v4.83h-4.83zM237.33 307.67h4.83v4.83h-4.83zM285.6 307.67h4.83v4.83h-4.83z"/>
<path fill="rgb(50,50,50)" d="M97.33 32.5h4.83v4.83h-4.83zM208.36 32.5h4.83v4.83h-4.83zM174.57 37.33h4.83v4.83h-4.83zM246.98 37.33h4.83v4.83h-4.83zM266.29 37.33h4.83v4.83h-4.83zM338.71 42.16h4.83v4.83h-4.83zM145.6 46.98h4.83v4.83h-4.83zM150.43 56.64h4.83v4.83h-4.83zM333.88 56.64h4.83v4.83h-4.83zM256.64 71.12h4.83v4.83h-4.83zM126.29 80.78h4.83v4.83h-4.83zM324.22 80.78h4.83v4.83h-4.83zM362.84 80.78h4.83v4.83h-4.83zM227.67 85.6h4.83v4.83h-4.83zM275.95 85.6h4.83v4.83h-4.83zM155.26 90.43h4.83v4.83h-4.83zM343.53 90.43h4.83v4.83h-4.83zM164.91 95.26h4.83v4.83h-4.83zM261.47 95.26h4.83v4.83h-4.83zM145.6 100.09h9.66v4.83h-9.66zM266.29 100.09h4.83v4.83h-4.83zM324.22 100.09h4.83v4.83h-4.83zM295.26 114.57h4.83v4.83h-4.83zM329.05 114.57h4.83v4.83h-4.83zM256.64 119.4h4.83v4.83h-4.83zM256.64 124.22h4.83v4.83h-4.83zM251.81 129.05h4.83v4.83h-4.83zM343.53 129.05h4.83v4.83h-4.83zM218.02 138.71h4.83v4.83h-4.83zM256.64 138.71h4.83v4.83h-4.83zM222.84 143.53h4.83v4.83h-4.83zM275.95 143.53h4.83v4.83h-4.83zM160.09 153.19h4.83v4.83h-4.83zM184.22 153.19h4.83v4.83h-4.83zM251.81 153.19h4.83v4.83h-4.83zM184.22 158.02h4.83v4.83h-4.83zM193.88 158.02h4.83v4.83h-4.83zM295.26 158.02h4.83v4.83h-4.83zM102.16 162.84h4.83v4.83h-4.83zM329.05 162.84h4.83v4.83h-4.83zM135.95 167.67h4.83v4.83h-4.83zM111.81 172.5h4.83v4.83h-4.83zM203.53 177.33h4.83v4.83h-4.83zM309.74 177.33h4.83v4.83h-4.83zM102.16 182.16h4.83v4.83h-4.83zM150.43 186.98h4.83v4.83h-4.83zM300.09 186.98h4.83v4.83h-4.83zM261.47 191.81h4.83v4.83h-4.83zM261.47 211.12h4.83v4.83h-4.83zM140.78 215.95h4.83v4.83h-4.83zM174.57 220.78h4.83v4.83h-4.83zM145.6 225.6h4.83v4.83h-4.83zM256.64 230.43h4.83v4.83h-4.83zM150.43 240.09h4.83v4.83h-4.83zM295.26 240.09h4.83v4.83h-4.83zM324.22 240.09h4.83v4.83h-4.83zM106.98 244.91h4.83v4.83h-4.83zM203.53 244.91h4.83v4.83h-4.83zM111.81 254.57h4.83v4.83h-4.83zM362.84 254.57h4.83v4.83h-4.83zM155.26 269.05h4.83v4.83h-4.83zM300.09 269.05h4.83v4.83h-4.83zM106.98 273.88h4.83v4.83h-4.83zM295.26 273.88h4.83v4.83h-4.83zM358.02 278.71h4.83v4.83h-4.83zM251.81 283.53h4.83v4.83h-4.83zM261.47 288.36h4.83v4.83h-4.83zM160.09 293.19h4.83v4.83h-4.83zM358.02 298.02h9.66v4.83h-9.66zM348.36 302.84h4.83v4.83h-4.83zM189.05 307.67h4.83v4.83h-4.83z"/>
<path fill="rgb(51,51,51)" d="M362.84 32.5h4.83v4.83h-4.83zM111.81 46.98h4.83v4.83h-4.83zM290.43 46.98h4.83v4.83h-4.83zM145.6 51.81h4.83v4.83h-4.83zM227.67 51.81h4.83v4.83h-4.83zM135.95 80.78h4.83v4.83h-4.83zM271.12 80.78h4.83v4.83h-4.83zM140.78 95.26h4.83v4.83h-4.83zM92.5 104.91h4.83v4.83h-4.83zM97.33 114.57h4.83v4.83h-4.83zM348.36 114.57h4.83v4.83h-4.83zM280.78 119.4h4.83v4.83h-4.83zM251.81 138.71h4.83v4.83h-4.83zM246.98 158.02h4.83v4.83h-4.83zM97.33 162.84h4.83v4.83h-4.83zM333.88 167.67h4.83v4.83h-4.83zM184.22 172.5h4.83v4.83h-4.83zM208.36 172.5h4.83v4.83h-4.83zM251.81 172.5h4.83v4.83h-4.83zM353.19 172.5h4.83v4.83h-4.83zM237.33 177.33h4.83v4.83h-4.83zM280.78 177.33h4.83v4.83h-4.83zM309.74 182.16h4.83v4.83h-4.83zM295.26 191.81h4.83v4.83h-4.83zM155.26 206.29h4.83v4.83h-4.83zM227.67 206.29h4.83v4.83h-4.83zM208.36 211.12h4.83v4.83h-4.83zM295.26 211.12h9.66v4.83h-9.66zM285.6 215.95h4.83v4.83h-4.83zM164.91 220.78h4.83v4.83h-4.83zM189.05 220.78h4.83v4.83h-4.83zM179.4 235.26h4.83v4.83h-4.83zM261.47 235.26h4.83v4.83h-4.83zM309.74 235.26h4.83v4.83h-4.83zM338.71 235.26h4.83v4.83h-4.83zM208.36 240.09h4.83v4.83h-4.83zM348.36 244.91h4.83v4.83h-4.83zM329.05 249.74h4.83v4.83h-4.83zM179.4 273.88h4.83v4.83h-4.83zM92.5 278.71h4.83v4.83h-4.83zM102.16 278.71h4.83v4.83h-4.83zM256.64 283.53h4.83v4.83h-4.83zM319.4 298.02h4.83v4.83h-4.83zM131.12 302.84h4.83v4.83h-4.83zM324.22 302.84h4.83v4.83h-4.83z"/>
<path fill="rgb(52,52,52)" d="M145.6 32.5h4.83v4.83h-4.83zM164.91 37.33h4.83v4.83h-4.83zM251.81 37.33h4.83v4.83h-4.83zM271.12 37.33h4.83v4.83h-4.83zM106.98 42.16h4.83v4.83h-4.83zM164.91 42.16h4.83v4.83h-4.83zM193.88 42.16h4.83v4.83h-4.83zM222.84 46.98h4.83v4.83h-4.83zM261.47 51.81h4.83v4.83h-4.83zM348.36 51.81h4.83v4.83h-4.83zM116.64 56.64h4.83v4.83h-4.83zM189.05 56.64h4.83v4.83h-4.83zM116.64 61.47h4.83v4.83h-4.83zM218.02 61.47h4.83v4.83h-4.83zM174.57 66.29h4.83v4.83h-4.83zM329.05 66.29h4.83v4.83h-4.83zM218.02 71.12h4.83v4.83h-4.83zM102.16 75.95h4.83v4.83h-4.83zM329.05 75.95h4.83v4.83h-4.83zM160.09 80.78h4.83v4.83h-4.83zM242.16 80.78h4.83v4.83h-4.83zM300.09 80.78h4.83v4.83h-4.83zM179.4 85.6h4.83v4.83h-4.83zM232.5 95.26h4.83v4.83h-4.83zM343.53 100.09h4.83v4.83h-4.83zM218.02 104.91h4.83v4.83h-4.83zM285.6 104.91h4.83v4.83h-4.83zM314.57 104.91h4.83v4.83h-4.83zM290.43 124.22h4.83v4.83h-4.83zM222.84 138.71h4.83v4.83h-4.83zM179.4 143.53h4.83v4.83h-4.83zM285.6 153.19h4.83v4.83h-4.83zM198.71 158.02h4.83v4.83h-4.83zM227.67 158.02h4.83v4.83h-4.83zM237.33 158.02h4.83v4.83h-4.83zM227.67 162.84h4.83v4.83h-4.83zM280.78 172.5h4.83v4.83h-4.83zM213.19 186.98h4.83v4.83h-4.83zM266.29 191.81h9.66v4.83h-9.66zM97.33 211.12h4.83v4.83h-4.83zM164.91 211.12h4.83v4.83h-4.83zM155.26 215.95h4.83v4.83h-4.83zM169.74 215.95h4.83v4.83h-4.83zM300.09 215.95h4.83v4.83h-4.83zM324.22 215.95h4.83v4.83h-4.83zM213.19 220.78h4.83v4.83h-4.83zM184.22 225.6h4.83v4.83h-4.83zM362.84 225.6h4.83v4.83h-4.83zM261.47 240.09h4.83v4.83h-4.83zM314.57 240.09h4.83v4.83h-4.83zM213.19 254.57h4.83v4.83h-4.83zM295.26 254.57h4.83v4.83h-4.83zM367.67 254.57h4.83v4.83h-4.83zM358.02 264.22h4.83v4.83h-4.83zM275.95 269.05h4.83v4.83h-4.83zM227.67 273.88h4.83v4.83h-4.83zM256.64 273.88h4.83v4.83h-4.83zM116.64 278.71h4.83v4.83h-4.83zM353.19 288.36h4.83v4.83h-4.83zM362.84 293.19h4.83v4.83h-4.83zM348.36 298.02h4.83v4.83h-4.83zM203.53 302.84h4.83v4.83h-4.83z"/>
<path fill="rgb(53,53,53)" d="M179.4 46.98h4.83v4.83h-4.83zM150.43 51.81h4.83v4.83h-4.83zM338.71 51.81h4.83v4.83h-4.83zM232.5 56.64h4.83v4.83h-4.83zM348.36 56.64h4.83v4.83h-4.83zM343.53 61.47h4.83v4.83h-4.83zM237.33 71.12h4.83v4.83h-4.83zM309.74 71.12h4.83v4.83h-4.83zM111.81 104.91h4.83v4.83h-4.83zM319.4 104.91h4.83v4.83h-4.83zM150.43 109.74h9.66v4.83h-9.66zM106.98 114.57h4.83v4.83h-4.83zM150.43 114.57h4.83v4.83h-4.83zM121.47 119.4h4.83v4.83h-4.83zM227.67 119.4h4.83v4.83h-4.83zM319.4 119.4h4.83v4.83h-4.83zM126.29 124.22h4.83v4.83h-4.83zM222.84 133.88h4.83v4.83h-4.83zM343.53 133.88h4.83v4.83h-4.83zM135.95 138.71h4.83v4.83h-4.83zM213.19 138.71h4.83v4.83h-4.83zM285.6 148.36h9.66v4.83h-9.66zM246.98 153.19h4.83v4.83h-4.83zM271.12 158.02h4.83v4.83h-4.83zM106.98 162.84h4.83v4.83h-4.83zM121.47 162.84h4.83v4.83h-4.83zM271.12 172.5h4.83v4.83h-4.83zM271.12 177.33h4.83v4.83h-4.83zM290.43 177.33h4.83v4.83h-4.83zM353.19 182.16h4.83v4.83h-4.83zM92.5 186.98h4.83v4.83h-4.83zM140.78 186.98h4.83v4.83h-4.83zM164.91 186.98h4.83v4.83h-4.83zM189.05 186.98h4.83v4.83h-4.83zM280.78 186.98h4.83v4.83h-4.83zM160.09 191.81h4.83v4.83h-4.83zM106.98 196.64h4.83v4.83h-4.83zM97.33 206.29h4.83v4.83h-4.83zM362.84 211.12h4.83v4.83h-4.83zM319.4 220.78h4.83v4.83h-4.83zM353.19 220.78h4.83v4.83h-4.83zM169.74 225.6h4.83v4.83h-4.83zM160.09 230.43h4.83v4.83h-4.83zM275.95 230.43h4.83v4.83h-4.83zM135.95 235.26h4.83v4.83h-4.83zM97.33 240.09h4.83v4.83h-4.83zM222.84 240.09h4.83v4.83h-4.83zM242.16 240.09h4.83v4.83h-4.83zM218.02 244.91h4.83v4.83h-4.83zM256.64 244.91h4.83v4.83h-4.83zM271.12 259.4h9.66v4.83h-9.66zM189.05 264.22h4.83v4.83h-4.83zM343.53 269.05h4.83v4.83h-4.83zM126.29 278.71h9.66v4.83h-9.66zM179.4 278.71h4.83v4.83h-4.83zM314.57 278.71h4.83v4.83h-4.83zM333.88 283.53h4.83v4.83h-4.83zM126.29 288.36h4.83v4.83h-4.83zM237.33 288.36h4.83v4.83h-4.83zM343.53 293.19h4.83v4.83h-4.83zM367.67 293.19h4.83v4.83h-4.83z"/>
<path fill="rgb(54,54,54)" d="M314.57 32.5h4.83v4.83h-4.83zM208.36 37.33h4.83v4.83h-4.83zM304.91 37.33h4.83v4.83h-4.83zM189.05 42.16h4.83v4.83h-4.83zM309.74 42.16h4.83v4.83h-4.83zM184.22 46.98h4.83v4.83h-4.83zM280.78 61.47h9.66v4.83h-9.66zM314.57 61.47h4.83v4.83h-4.83zM266.29 66.29h4.83v4.83h-4.83zM285.6 66.29h4.83v4.83h-4.83zM131.12 80.78h4.83v4.83h-4.83zM155.26 80.78h4.83v4.83h-4.83zM343.53 80.78h4.83v4.83h-4.83zM198.71 85.6h4.83v4.83h-4.83zM290.43 85.6h4.83v4.83h-4.83zM256.64 104.91h4.83v4.83h-4.83zM164.91 109.74h4.83v4.83h-4.83zM184.22 109.74h4.83v4.83h-4.83zM295.26 109.74h4.83v4.83h-4.83zM169.74 114.57h4.83v4.83h-4.83zM280.78 138.71h4.83v4.83h-4.83zM92.5 143.53h4.83v4.83h-4.83zM324.22 162.84h4.83v4.83h-4.83zM140.78 167.67h4.83v4.83h-4.83zM106.98 186.98h4.83v4.83h-4.83zM135.95 186.98h4.83v4.83h-4.83zM106.98 191.81h4.83v4.83h-4.83zM164.91 206.29h4.83v4.83h-4.83zM367.67 206.29h4.83v4.83h-4.83zM97.33 215.95h4.83v4.83h-4.83zM150.43 215.95h4.83v4.83h-4.83zM343.53 215.95h4.83v4.83h-4.83zM135.95 225.6h4.83v4.83h-4.83zM266.29 230.43h4.83v4.83h-4.83zM135.95 240.09h4.83v4.83h-4.83zM329.05 244.91h4.83v4.83h-4.83zM126.29 249.74h4.83v4.83h-4.83zM106.98 259.4h4.83v4.83h-4.83zM131.12 259.4h4.83v4.83h-4.83zM237.33 269.05h4.83v4.83h-4.83zM97.33 273.88h4.83v4.83h-4.83zM126.29 273.88h4.83v4.83h-4.83zM97.33 278.71h4.83v4.83h-4.83zM160.09 278.71h4.83v4.83h-4.83zM189.05 283.53h4.83v4.83h-4.83zM324.22 283.53h4.83v4.83h-4.83zM261.47 293.19h4.83v4.83h-4.83zM179.4 307.67h4.83v4.83h-4.83zM256.64 307.67h4.83v4.83h-4.83z"/>
<path fill="rgb(55,55,55)" d="M92.5 32.5h4.83v4.83h-4.83zM348.36 37.33h4.83v4.83h-4.83zM140.78 51.81h4.83v4.83h-4.83zM135.95 56.64h4.83v4.83h-4.83zM184.22 66.29h4.83v4.83h-4.83zM319.4 75.95h4.83v4.83h-4.83zM338.71 80.78h4.83v4.83h-4.83zM111.81 90.43h4.83v4.83h-4.83zM155.26 95.26h4.83v4.83h-4.83zM121.47 104.91h4.83v4.83h-4.83zM160.09 104.91h4.83v4.83h-4.83zM169.74 104.91h4.83v4.83h-4.83zM280.78 104.91h4.83v4.83h-4.83zM203.53 114.57h4.83v4.83h-4.83zM92.5 119.4h4.83v4.83h-4.83zM333.88 119.4h4.83v4.83h-4.83zM266.29 124.22h4.83v4.83h-4.83zM314.57 124.22h4.83v4.83h-4.83zM92.5 138.71h4.83v4.83h-4.83zM261.47 138.71h4.83v4.83h-4.83zM271.12 138.71h4.83v4.83h-4.83zM343.53 143.53h4.83v4.83h-4.83zM218.02 148.36h4.83v4.83h-4.83zM164.91 153.19h4.83v4.83h-4.83zM169.74 162.84h4.83v4.83h-4.83zM208.36 162.84h4.83v4.83h-4.83zM242.16 186.98h4.83v4.83h-4.83zM246.98 196.64h4.83v4.83h-4.83zM213.19 201.47h4.83v4.83h-4.83zM242.16 201.47h4.83v4.83h-4.83zM135.95 206.29h4.83v4.83h-4.83zM208.36 206.29h4.83v4.83h-4.83zM338.71 211.12h4.83v4.83h-4.83zM160.09 220.78h4.83v4.83h-4.83zM329.05 235.26h9.66v4.83h-9.66zM300.09 240.09h4.83v4.83h-4.83zM179.4 244.91h4.83v4.83h-4.83zM135.95 254.57h4.83v4.83h-4.83zM193.88 254.57h4.83v4.83h-4.83zM106.98 269.05h4.83v4.83h-4.83zM174.57 269.05h4.83v4.83h-4.83zM246.98 273.88h4.83v4.83h-4.83zM232.5 278.71h4.83v4.83h-4.83zM242.16 283.53h4.83v4.83h-4.83zM353.19 283.53h4.83v4.83h-4.83zM275.95 293.19h4.83v4.83h-4.83zM140.78 302.84h4.83v4.83h-4.83zM155.26 307.67h4.83v4.83h-4.83z"/>
<path fill="rgb(56,56,56)" d="M203.53 46.98h4.83v4.83h-4.83zM193.88 51.81h4.83v4.83h-4.83zM300.09 51.81h4.83v4.83h-4.83zM111.81 61.47h4.83v4.83h-4.83zM145.6 61.47h4.83v4.83h-4.83zM102.16 90.43h4.83v4.83h-4.83zM266.29 95.26h4.83v4.83h-4.83zM160.09 100.09h4.83v4.83h-4.83zM338.71 104.91h4.83v4.83h-4.83zM208.36 109.74h4.83v4.83h-4.83zM208.36 114.57h4.83v4.83h-4.83zM285.6 124.22h4.83v4.83h-4.83zM97.33 129.05h4.83v4.83h-4.83zM121.47 129.05h4.83v4.83h-4.83zM237.33 129.05h4.83v4.83h-4.83zM189.05 133.88h4.83v4.83h-4.83zM213.19 153.19h4.83v4.83h-4.83zM135.95 162.84h4.83v4.83h-4.83zM309.74 162.84h4.83v4.83h-4.83zM116.64 167.67h4.83v4.83h-4.83zM208.36 186.98h4.83v4.83h-4.83zM358.02 206.29h4.83v4.83h-4.83zM121.47 211.12h4.83v4.83h-4.83zM179.4 220.78h4.83v4.83h-4.83zM256.64 225.6h4.83v4.83h-4.83zM304.91 225.6h4.83v4.83h-4.83zM343.53 235.26h4.83v4.83h-4.83zM367.67 240.09h4.83v4.83h-4.83zM155.26 244.91h4.83v4.83h-4.83zM169.74 244.91h4.83v4.83h-4.83zM338.71 249.74h4.83v4.83h-4.83zM353.19 259.4h4.83v4.83h-4.83zM131.12 269.05h4.83v4.83h-4.83zM261.47 273.88h4.83v4.83h-4.83zM184.22 283.53h4.83v4.83h-4.83zM358.02 283.53h4.83v4.83h-4.83zM131.12 288.36h4.83v4.83h-4.83zM309.74 288.36h4.83v4.83h-4.83zM184.22 298.02h4.83v4.83h-4.83zM353.19 302.84h4.83v4.83h-4.83zM193.88 307.67h4.83v4.83h-4.83z"/>
<path fill="rgb(57,57,57)" d="M131.12 37.33h4.83v4.83h-4.83zM261.47 37.33h4.83v4.83h-4.83zM208.36 46.98h4.83v4.83h-4.83zM135.95 51.81h4.83v4.83h-4.83zM213.19 51.81h4.83v4.83h-4.83zM358.02 51.81h4.83v4.83h-4.83zM121.47 61.47h4.83v4.83h-4.83zM324.22 61.47h4.83v4.83h-4.83zM145.6 66.29h4.83v4.83h-4.83zM174.57 85.6h4.83v4.83h-4.83zM295.26 85.6h4.83v4.83h-4.83zM174.57 90.43h4.83v4.83h-4.83zM131.12 95.26h4.83v4.83h-4.83zM266.29 104.91h4.83v4.83h-4.83zM111.81 114.57h4.83v4.83h-4.83zM358.02 114.57h4.83v4.83h-4.83zM150.43 119.4h4.83v4.83h-4.83zM208.36 119.4h4.83v4.83h-4.83zM121.47 124.22h4.83v4.83h-4.83zM155.26 124.22h4.83v4.83h-4.83zM164.91 124.22h4.83v4.83h-4.83zM198.71 133.88h4.83v4.83h-4.83zM106.98 138.71h4.83v4.83h-4.83zM333.88 138.71h4.83v4.83h-4.83zM126.29 143.53h4.83v4.83h-4.83zM193.88 172.5h4.83v4.83h-4.83zM169.74 177.33h4.83v4.83h-4.83zM324.22 177.33h4.83v4.83h-4.83zM140.78 182.16h4.83v4.83h-4.83zM266.29 182.16h4.83v4.83h-4.83zM348.36 182.16h4.83v4.83h-4.83zM179.4 186.98h4.83v4.83h-4.83zM222.84 191.81h4.83v4.83h-4.83zM126.29 206.29h4.83v4.83h-4.83zM164.91 215.95h4.83v4.83h-4.83zM193.88 215.95h4.83v4.83h-4.83zM309.74 220.78h4.83v4.83h-4.83zM343.53 220.78h4.83v4.83h-4.83zM140.78 225.6h4.83v4.83h-4.83zM324.22 225.6h4.83v4.83h-4.83zM102.16 230.43h4.83v4.83h-4.83zM256.64 235.26h4.83v4.83h-4.83zM348.36 235.26h4.83v4.83h-4.83zM338.71 240.09h4.83v4.83h-4.83zM189.05 244.91h4.83v4.83h-4.83zM251.81 249.74h4.83v4.83h-4.83zM353.19 254.57h4.83v4.83h-4.83zM102.16 273.88h4.83v4.83h-4.83zM155.26 273.88h4.83v4.83h-4.83zM189.05 273.88h4.83v4.83h-4.83zM348.36 278.71h4.83v4.83h-4.83zM275.95 283.53h4.83v4.83h-4.83zM338.71 293.19h4.83v4.83h-4.83zM140.78 298.02h4.83v4.83h-4.83zM121.47 302.84h4.83v4.83h-4.83zM218.02 302.84h4.83v4.83h-4.83zM251.81 302.84h4.83v4.83h-4.83zM309.74 302.84h4.83v4.83h-4.83z"/>
<path fill="rgb(58,58,58)" d="M358.02 32.5h4.83v4.83h-4.83zM367.67 32.5h4.83v4.83h-4.83zM135.95 37.33h4.83v4.83h-4.83zM329.05 37.33h4.83v4.83h-4.83zM246.98 42.16h4.83v4.83h-4.83zM227.67 46.98h4.83v4.83h-4.83zM242.16 56.64h4.83v4.83h-4.83zM314.57 56.64h4.83v4.83h-4.83zM189.05 61.47h4.83v4.83h-4.83zM111.81 66.29h4.83v4.83h-4.83zM280.78 75.95h4.83v4.83h-4.83zM290.43 75.95h4.83v4.83h-4.83zM362.84 75.95h4.83v4.83h-4.83zM295.26 80.78h4.83v4.83h-4.83zM367.67 90.43h4.83v4.83h-4.83zM126.29 95.26h4.83v4.83h-4.83zM338.71 95.26h4.83v4.83h-4.83zM256.64 100.09h4.83v4.83h-4.83zM116.64 109.74h4.83v4.83h-4.83zM140.78 114.57h4.83v4.83h-4.83zM164.91 114.57h4.83v4.83h-4.83zM92.5 129.05h4.83v4.83h-4.83zM362.84 133.88h4.83v4.83h-4.83zM111.81 143.53h4.83v4.83h-4.83zM126.29 148.36h4.83v4.83h-4.83zM140.78 162.84h4.83v4.83h-4.83zM155.26 167.67h4.83v4.83h-4.83zM348.36 167.67h4.83v4.83h-4.83zM189.05 182.16h4.83v4.83h-4.83zM309.74 186.98h4.83v4.83h-4.83zM367.67 186.98h4.83v4.83h-4.83zM237.33 206.29h4.83v4.83h-4.83zM102.16 211.12h4.83v4.83h-4.83zM160.09 215.95h4.83v4.83h-4.83zM198.71 225.6h4.83v4.83h-4.83zM116.64 230.43h4.83v4.83h-4.83zM174.57 230.43h4.83v4.83h-4.83zM203.53 240.09h4.83v4.83h-4.83zM333.88 240.09h4.83v4.83h-4.83zM174.57 249.74h4.83v4.83h-4.83zM358.02 249.74h4.83v4.83h-4.83zM189.05 269.05h4.83v4.83h-4.83zM362.84 278.71h4.83v4.83h-4.83zM116.64 298.02h4.83v4.83h-4.83zM251.81 307.67h4.83v4.83h-4.83z"/>
<path fill="rgb(59,59,59)" d="M343.53 37.33h4.83v4.83h-4.83zM314.57 42.16h4.83v4.83h-4.83zM198.71 46.98h4.83v4.83h-4.83zM111.81 51.81h4.83v4.83h-4.83zM242.16 51.81h4.83v4.83h-4.83zM193.88 61.47h4.83v4.83h-4.83zM160.09 71.12h4.83v4.83h-4.83zM348.36 80.78h4.83v4.83h-4.83zM179.4 95.26h4.83v4.83h-4.83zM300.09 100.09h4.83v4.83h-4.83zM314.57 100.09h4.83v4.83h-4.83zM203.53 104.91h4.83v4.83h-4.83zM251.81 104.91h4.83v4.83h-4.83zM309.74 104.91h4.83v4.83h-4.83zM222.84 109.74h4.83v4.83h-4.83zM179.4 114.57h4.83v4.83h-4.83zM189.05 114.57h4.83v4.83h-4.83zM232.5 119.4h4.83v4.83h-4.83zM285.6 119.4h4.83v4.83h-4.83zM106.98 133.88h4.83v4.83h-4.83zM218.02 133.88h4.83v4.83h-4.83zM179.4 138.71h4.83v4.83h-4.83zM309.74 143.53h4.83v4.83h-4.83zM280.78 148.36h4.83v4.83h-4.83zM193.88 162.84h4.83v4.83h-4.83zM203.53 162.84h4.83v4.83h-4.83zM218.02 162.84h4.83v4.83h-4.83zM295.26 162.84h4.83v4.83h-4.83zM208.36 167.67h4.83v4.83h-4.83zM102.16 186.98h4.83v4.83h-4.83zM111.81 186.98h9.66v4.83h-9.66zM256.64 186.98h4.83v4.83h-4.83zM145.6 201.47h4.83v4.83h-4.83zM203.53 201.47h4.83v4.83h-4.83zM353.19 206.29h4.83v4.83h-4.83zM203.53 220.78h4.83v4.83h-4.83zM275.95 220.78h4.83v4.83h-4.83zM309.74 225.6h4.83v4.83h-4.83zM203.53 230.43h4.83v4.83h-4.83zM295.26 235.26h4.83v4.83h-4.83zM261.47 244.91h4.83v4.83h-4.83zM324.22 254.57h4.83v4.83h-4.83zM121.47 264.22h4.83v4.83h-4.83zM203.53 264.22h4.83v4.83h-4.83zM362.84 269.05h4.83v4.83h-4.83zM111.81 273.88h4.83v4.83h-4.83zM343.53 273.88h4.83v4.83h-4.83zM145.6 278.71h4.83v4.83h-4.83zM222.84 288.36h4.83v4.83h-4.83zM179.4 293.19h4.83v4.83h-4.83zM256.64 293.19h4.83v4.83h-4.83zM111.81 302.84h4.83v4.83h-4.83z"/>
<path fill="rgb(60,60,60)" d="M256.64 32.5h4.83v4.83h-4.83zM348.36 32.5h4.83v4.83h-4.83zM208.36 42.16h4.83v4.83h-4.83zM164.91 56.64h4.83v4.83h-4.83zM285.6 56.64h4.83v4.83h-4.83zM338.71 56.64h4.83v4.83h-4.83zM184.22 71.12h4.83v4.83h-4.83zM121.47 85.6h4.83v4.83h-4.83zM131.12 85.6h4.83v4.83h-4.83zM145.6 85.6h4.83v4.83h-4.83zM329.05 85.6h4.83v4.83h-4.83zM203.53 95.26h4.83v4.83h-4.83zM295.26 104.91h4.83v4.83h-4.83zM333.88 104.91h4.83v4.83h-4.83zM237.33 109.74h4.83v4.83h-4.83zM358.02 109.74h4.83v4.83h-4.83zM362.84 119.4h4.83v4.83h-4.83zM97.33 124.22h4.83v4.83h-4.83zM319.4 124.22h4.83v4.83h-4.83zM232.5 129.05h4.83v4.83h-4.83zM213.19 133.88h4.83v4.83h-4.83zM261.47 133.88h4.83v4.83h-4.83zM314.57 143.53h4.83v4.83h-4.83zM111.81 158.02h4.83v4.83h-4.83zM179.4 162.84h4.83v4.83h-4.83zM285.6 172.5h4.83v4.83h-4.83zM145.6 177.33h4.83v4.83h-4.83zM116.64 191.81h4.83v4.83h-4.83zM189.05 206.29h4.83v4.83h-4.83zM208.36 220.78h4.83v4.83h-4.83zM353.19 225.6h4.83v4.83h-4.83zM135.95 230.43h4.83v4.83h-4.83zM324.22 235.26h4.83v4.83h-4.83zM367.67 235.26h4.83v4.83h-4.83zM111.81 240.09h4.83v4.83h-4.83zM232.5 240.09h4.83v4.83h-4.83zM343.53 244.91h4.83v4.83h-4.83zM111.81 249.74h4.83v4.83h-4.83zM280.78 249.74h4.83v4.83h-4.83zM271.12 254.57h4.83v4.83h-4.83zM242.16 269.05h4.83v4.83h-4.83zM261.47 269.05h4.83v4.83h-4.83zM92.5 273.88h4.83v4.83h-4.83zM271.12 273.88h4.83v4.83h-4.83zM227.67 278.71h4.83v4.83h-4.83zM179.4 283.53h4.83v4.83h-4.83zM227.67 288.36h4.83v4.83h-4.83zM135.95 293.19h4.83v4.83h-4.83zM208.36 293.19h4.83v4.83h-4.83zM92.5 298.02h4.83v4.83h-4.83zM256.64 302.84h4.83v4.83h-4.83z"/>
<path fill="rgb(61,61,61)" d="M295.26 42.16h4.83v4.83h-4.83zM208.36 51.81h4.83v4.83h-4.83zM160.09 61.47h4.83v4.83h-4.83zM208.36 61.47h4.83v4.83h-4.83zM256.64 85.6h4.83v4.83h-4.83zM348.36 85.6h4.83v4.83h-4.83zM227.67 90.43h4.83v4.83h-4.83zM338.71 90.43h4.83v4.83h-4.83zM106.98 95.26h4.83v4.83h-4.83zM271.12 95.26h4.83v4.83h-4.83zM261.47 100.09h4.83v4.83h-4.83zM304.91 100.09h4.83v4.83h-4.83zM97.33 119.4h4.83v4.83h-4.83zM324.22 133.88h4.83v4.83h-4.83zM232.5 143.53h4.83v4.83h-4.83zM261.47 143.53h4.83v4.83h-4.83zM271.12 143.53h4.83v4.83h-4.83zM358.02 143.53h4.83v4.83h-4.83zM367.67 148.36h4.83v4.83h-4.83zM343.53 158.02h4.83v4.83h-4.83zM131.12 177.33h4.83v4.83h-4.83zM97.33 186.98h4.83v4.83h-4.83zM126.29 186.98h4.83v4.83h-4.83zM111.81 191.81h4.83v4.83h-4.83zM102.16 196.64h4.83v4.83h-4.83zM198.71 196.64h4.83v4.83h-4.83zM324.22 201.47h4.83v4.83h-4.83zM106.98 206.29h4.83v4.83h-4.83zM329.05 206.29h4.83v4.83h-4.83zM102.16 215.95h4.83v4.83h-4.83zM179.4 215.95h4.83v4.83h-4.83zM256.64 215.95h4.83v4.83h-4.83zM333.88 215.95h4.83v4.83h-4.83zM314.57 220.78h4.83v4.83h-4.83zM106.98 230.43h4.83v4.83h-4.83zM131.12 235.26h4.83v4.83h-4.83zM309.74 240.09h4.83v4.83h-4.83zM300.09 249.74h4.83v4.83h-4.83zM121.47 254.57h4.83v4.83h-4.83zM256.64 254.57h4.83v4.83h-4.83zM92.5 264.22h4.83v4.83h-4.83zM169.74 269.05h4.83v4.83h-4.83zM256.64 269.05h4.83v4.83h-4.83zM169.74 288.36h4.83v4.83h-4.83zM271.12 288.36h4.83v4.83h-4.83zM232.5 293.19h4.83v4.83h-4.83zM135.95 298.02h4.83v4.83h-4.83zM126.29 302.84h4.83v4.83h-4.83zM222.84 302.84h4.83v4.83h-4.83zM319.4 302.84h4.83v4.83h-4.83z"/>
<path fill="rgb(62,62,62)" d="M193.88 37.33h4.83v4.83h-4.83zM189.05 66.29h4.83v4.83h-4.83zM338.71 71.12h4.83v4.83h-4.83zM232.5 85.6h4.83v4.83h-4.83zM150.43 95.26h4.83v4.83h-4.83zM160.09 95.26h4.83v4.83h-4.83zM111.81 100.09h4.83v4.83h-4.83zM271.12 109.74h4.83v4.83h-4.83zM213.19 114.57h4.83v4.83h-4.83zM348.36 129.05h4.83v4.83h-4.83zM145.6 133.88h9.66v4.83h-9.66zM338.71 148.36h4.83v4.83h-4.83zM362.84 153.19h4.83v4.83h-4.83zM111.81 177.33h4.83v4.83h-4.83zM314.57 182.16h4.83v4.83h-4.83zM324.22 186.98h4.83v4.83h-4.83zM193.88 191.81h4.83v4.83h-4.83zM111.81 196.64h4.83v4.83h-4.83zM319.4 201.47h4.83v4.83h-4.83zM362.84 201.47h4.83v4.83h-4.83zM140.78 206.29h4.83v4.83h-4.83zM203.53 225.6h4.83v4.83h-4.83zM314.57 225.6h4.83v4.83h-4.83zM261.47 230.43h4.83v4.83h-4.83zM208.36 235.26h4.83v4.83h-4.83zM343.53 259.4h4.83v4.83h-4.83zM309.74 264.22h4.83v4.83h-4.83zM285.6 273.88h4.83v4.83h-4.83zM338.71 278.71h4.83v4.83h-4.83zM353.19 278.71h4.83v4.83h-4.83zM348.36 283.53h4.83v4.83h-4.83zM179.4 288.36h4.83v4.83h-4.83zM193.88 288.36h4.83v4.83h-4.83zM246.98 288.36h4.83v4.83h-4.83zM184.22 293.19h4.83v4.83h-4.83zM218.02 293.19h4.83v4.83h-4.83zM145.6 298.02h4.83v4.83h-4.83zM164.91 298.02h4.83v4.83h-4.83zM324.22 307.67h4.83v4.83h-4.83zM362.84 307.67h4.83v4.83h-4.83z"/>
<path fill="rgb(63,63,63)" d="M271.12 32.5h4.83v4.83h-4.83zM102.16 42.16h4.83v4.83h-4.83zM145.6 56.64h4.83v4.83h-4.83zM193.88 56.64h4.83v4.83h-4.83zM275.95 56.64h4.83v4.83h-4.83zM92.5 80.78h4.83v4.83h-4.83zM164.91 80.78h4.83v4.83h-4.83zM290.43 80.78h4.83v4.83h-4.83zM131.12 90.43h4.83v4.83h-4.83zM179.4 90.43h4.83v4.83h-4.83zM353.19 95.26h4.83v4.83h-4.83zM348.36 100.09h4.83v4.83h-4.83zM319.4 109.74h4.83v4.83h-4.83zM295.26 119.4h4.83v4.83h-4.83zM169.74 124.22h4.83v4.83h-4.83zM198.71 124.22h4.83v4.83h-4.83zM319.4 129.05h4.83v4.83h-4.83zM102.16 138.71h4.83v4.83h-4.83zM275.95 148.36h4.83v4.83h-4.83zM208.36 158.02h4.83v4.83h-4.83zM189.05 162.84h4.83v4.83h-4.83zM285.6 177.33h4.83v4.83h-4.83zM208.36 182.16h4.83v4.83h-4.83zM261.47 186.98h4.83v4.83h-4.83zM92.5 191.81h4.83v4.83h-4.83zM102.16 191.81h4.83v4.83h-4.83zM126.29 191.81h4.83v4.83h-4.83zM319.4 215.95h4.83v4.83h-4.83zM184.22 220.78h4.83v4.83h-4.83zM314.57 235.26h4.83v4.83h-4.83zM193.88 249.74h4.83v4.83h-4.83zM314.57 249.74h4.83v4.83h-4.83zM111.81 264.22h4.83v4.83h-4.83zM150.43 269.05h4.83v4.83h-4.83zM140.78 293.19h4.83v4.83h-4.83zM358.02 293.19h4.83v4.83h-4.83zM174.57 298.02h4.83v4.83h-4.83zM353.19 298.02h4.83v4.83h-4.83zM102.16 302.84h4.83v4.83h-4.83z"/>
<path fill="rgb(64,64,64)" d="M169.74 37.33h4.83v4.83h-4.83zM237.33 37.33h4.83v4.83h-4.83zM150.43 46.98h4.83v4.83h-4.83zM97.33 51.81h4.83v4.83h-4.83zM106.98 56.64h4.83v4.83h-4.83zM189.05 95.26h4.83v4.83h-4.83zM295.26 100.09h4.83v4.83h-4.83zM102.16 109.74h4.83v4.83h-4.83zM242.16 109.74h4.83v4.83h-4.83zM285.6 109.74h9.66v4.83h-9.66zM261.47 124.22h4.83v4.83h-4.83zM227.67 138.71h4.83v4.83h-4.83zM271.12 148.36h4.83v4.83h-4.83zM251.81 158.02h4.83v4.83h-4.83zM343.53 167.67h4.83v4.83h-4.83zM246.98 172.5h4.83v4.83h-4.83zM140.78 177.33h4.83v4.83h-4.83zM174.57 186.98h4.83v4.83h-4.83zM160.09 206.29h4.83v4.83h-4.83zM198.71 206.29h4.83v4.83h-4.83zM169.74 220.78h4.83v4.83h-4.83zM319.4 225.6h4.83v4.83h-4.83zM218.02 235.26h4.83v4.83h-4.83zM358.02 235.26h4.83v4.83h-4.83zM155.26 240.09h4.83v4.83h-4.83zM189.05 240.09h4.83v4.83h-4.83zM362.84 240.09h4.83v4.83h-4.83zM246.98 244.91h4.83v4.83h-4.83zM324.22 244.91h4.83v4.83h-4.83zM169.74 259.4h4.83v4.83h-4.83zM203.53 259.4h4.83v4.83h-4.83zM358.02 259.4h4.83v4.83h-4.83zM111.81 269.05h4.83v4.83h-4.83zM92.5 293.19h4.83v4.83h-4.83zM174.57 293.19h4.83v4.83h-4.83zM203.53 293.19h4.83v4.83h-4.83zM179.4 298.02h4.83v4.83h-4.83zM198.71 298.02h4.83v4.83h-4.83zM213.19 298.02h4.83v4.83h-4.83zM285.6 298.02h4.83v4.83h-4.83zM348.36 307.67h4.83v4.83h-4.83z"/>
<path fill="rgb(65,65,65)" d="M266.29 42.16h4.83v4.83h-4.83zM189.05 46.98h9.66v4.83h-9.66zM213.19 46.98h4.83v4.83h-4.83zM111.81 56.64h4.83v4.83h-4.83zM150.43 66.29h4.83v4.83h-4.83zM140.78 80.78h4.83v4.83h-4.83zM150.43 85.6h4.83v4.83h-4.83zM213.19 85.6h4.83v4.83h-4.83zM324.22 95.26h4.83v4.83h-4.83zM106.98 104.91h4.83v4.83h-4.83zM135.95 109.74h4.83v4.83h-4.83zM232.5 124.22h4.83v4.83h-4.83zM324.22 129.05h4.83v4.83h-4.83zM97.33 138.71h4.83v4.83h-4.83zM193.88 138.71h4.83v4.83h-4.83zM333.88 143.53h4.83v4.83h-4.83zM222.84 148.36h4.83v4.83h-4.83zM261.47 148.36h4.83v4.83h-4.83zM232.5 167.67h4.83v4.83h-4.83zM184.22 177.33h4.83v4.83h-4.83zM213.19 177.33h4.83v4.83h-4.83zM319.4 182.16h4.83v4.83h-4.83zM193.88 186.98h4.83v4.83h-4.83zM155.26 196.64h4.83v4.83h-4.83zM218.02 201.47h4.83v4.83h-4.83zM271.12 206.29h4.83v4.83h-4.83zM295.26 206.29h4.83v4.83h-4.83zM179.4 225.6h4.83v4.83h-4.83zM92.5 235.26h4.83v4.83h-4.83zM203.53 235.26h4.83v4.83h-4.83zM353.19 235.26h4.83v4.83h-4.83zM111.81 244.91h4.83v4.83h-4.83zM222.84 244.91h4.83v4.83h-4.83zM242.16 244.91h4.83v4.83h-4.83zM343.53 254.57h4.83v4.83h-4.83zM97.33 264.22h4.83v4.83h-4.83zM208.36 264.22h4.83v4.83h-4.83zM343.53 264.22h4.83v4.83h-4.83zM246.98 269.05h4.83v4.83h-4.83zM135.95 278.71h4.83v4.83h-4.83zM160.09 288.36h4.83v4.83h-4.83zM319.4 288.36h4.83v4.83h-4.83zM261.47 307.67h4.83v4.83h-4.83zM304.91 307.67h4.83v4.83h-4.83z"/>
<path fill="rgb(66,66,66)" d="M155.26 51.81h4.83v4.83h-4.83zM266.29 61.47h4.83v4.83h-4.83zM329.05 61.47h4.83v4.83h-4.83zM275.95 80.78h4.83v4.83h-4.83zM353.19 104.91h4.83v4.83h-4.83zM232.5 133.88h4.83v4.83h-4.83zM309.74 138.71h4.83v4.83h-4.83zM102.16 158.02h4.83v4.83h-4.83zM116.64 158.02h4.83v4.83h-4.83zM324.22 158.02h4.83v4.83h-4.83zM338.71 158.02h4.83v4.83h-4.83zM193.88 177.33h4.83v4.83h-4.83zM97.33 201.47h4.83v4.83h-4.83zM319.4 206.29h4.83v4.83h-4.83zM135.95 211.12h4.83v4.83h-4.83zM160.09 211.12h4.83v4.83h-4.83zM271.12 211.12h4.83v4.83h-4.83zM160.09 244.91h4.83v4.83h-4.83zM174.57 244.91h4.83v4.83h-4.83zM150.43 259.4h4.83v4.83h-4.83zM208.36 259.4h4.83v4.83h-4.83zM295.26 259.4h4.83v4.83h-4.83zM174.57 264.22h4.83v4.83h-4.83zM97.33 269.05h4.83v4.83h-4.83zM367.67 269.05h4.83v4.83h-4.83zM135.95 288.36h4.83v4.83h-4.83zM242.16 288.36h4.83v4.83h-4.83zM169.74 298.02h4.83v4.83h-4.83zM208.36 298.02h4.83v4.83h-4.83zM227.67 302.84h4.83v4.83h-4.83zM246.98 302.84h4.83v4.83h-4.83zM184.22 307.67h4.83v4.83h-4.83zM290.43 307.67h4.83v4.83h-4.83zM367.67 307.67h4.83v4.83h-4.83z"/>
<path fill="rgb(67,67,67)" d="M333.88 32.5h4.83v4.83h-4.83zM246.98 56.64h4.83v4.83h-4.83zM140.78 61.47h4.83v4.83h-4.83zM121.47 66.29h4.83v4.83h-4.83zM275.95 66.29h4.83v4.83h-4.83zM280.78 71.12h4.83v4.83h-4.83zM131.12 104.91h4.83v4.83h-4.83zM213.19 109.74h4.83v4.83h-4.83zM362.84 109.74h4.83v4.83h-4.83zM319.4 114.57h4.83v4.83h-4.83zM131.12 119.4h4.83v4.83h-4.83zM164.91 119.4h9.66v4.83h-9.66zM304.91 124.22h4.83v4.83h-4.83zM164.91 133.88h4.83v4.83h-4.83zM179.4 148.36h4.83v4.83h-4.83zM232.5 177.33h4.83v4.83h-4.83zM131.12 182.16h4.83v4.83h-4.83zM174.57 182.16h4.83v4.83h-4.83zM324.22 206.29h4.83v4.83h-4.83zM111.81 225.6h4.83v4.83h-4.83zM358.02 230.43h4.83v4.83h-4.83zM198.71 244.91h4.83v4.83h-4.83zM237.33 249.74h4.83v4.83h-4.83zM309.74 249.74h4.83v4.83h-4.83zM319.4 249.74h9.66v4.83h-9.66zM102.16 259.4h4.83v4.83h-4.83zM111.81 278.71h4.83v4.83h-4.83zM338.71 288.36h4.83v4.83h-4.83z"/>
<path fill="rgb(68,68,68)" d="M116.64 66.29h4.83v4.83h-4.83zM237.33 80.78h4.83v4.83h-4.83zM126.29 85.6h4.83v4.83h-4.83zM92.5 90.43h4.83v4.83h-4.83zM222.84 90.43h4.83v4.83h-4.83zM164.91 104.91h4.83v4.83h-4.83zM285.6 114.57h4.83v4.83h-4.83zM92.5 124.22h4.83v4.83h-4.83zM237.33 124.22h4.83v4.83h-4.83zM266.29 133.88h4.83v4.83h-4.83zM329.05 133.88h4.83v4.83h-4.83zM184.22 148.36h4.83v4.83h-4.83zM251.81 148.36h4.83v4.83h-4.83zM266.29 177.33h4.83v4.83h-4.83zM198.71 182.16h4.83v4.83h-4.83zM271.12 186.98h4.83v4.83h-4.83zM304.91 186.98h4.83v4.83h-4.83zM198.71 201.47h4.83v4.83h-4.83zM208.36 201.47h4.83v4.83h-4.83zM358.02 201.47h4.83v4.83h-4.83zM140.78 211.12h4.83v4.83h-4.83zM203.53 211.12h4.83v4.83h-4.83zM271.12 225.6h4.83v4.83h-4.83zM203.53 249.74h4.83v4.83h-4.83zM309.74 254.57h4.83v4.83h-4.83zM184.22 269.05h4.83v4.83h-4.83zM145.6 283.53h4.83v4.83h-4.83zM218.02 298.02h4.83v4.83h-4.83zM106.98 302.84h4.83v4.83h-4.83z"/>
<path fill="rgb(69,69,69)" d="M324.22 56.64h4.83v4.83h-4.83zM367.67 56.64h4.83v4.83h-4.83zM285.6 71.12h4.83v4.83h-4.83zM343.53 95.26h4.83v4.83h-4.83zM203.53 109.74h4.83v4.83h-4.83zM280.78 129.05h4.83v4.83h-4.83zM140.78 138.71h4.83v4.83h-4.83zM256.64 143.53h4.83v4.83h-4.83zM343.53 153.19h4.83v4.83h-4.83zM189.05 196.64h4.83v4.83h-4.83zM116.64 225.6h4.83v4.83h-4.83zM227.67 240.09h4.83v4.83h-4.83zM242.16 249.74h4.83v4.83h-4.83zM271.12 249.74h4.83v4.83h-4.83zM164.91 259.4h4.83v4.83h-4.83zM324.22 259.4h4.83v4.83h-4.83zM150.43 264.22h4.83v4.83h-4.83zM150.43 273.88h4.83v4.83h-4.83zM300.09 273.88h4.83v4.83h-4.83zM174.57 278.71h4.83v4.83h-4.83zM227.67 283.53h4.83v4.83h-4.83zM251.81 288.36h4.83v4.83h-4.83zM275.95 288.36h4.83v4.83h-4.83zM111.81 293.19h4.83v4.83h-4.83zM106.98 298.02h4.83v4.83h-4.83z"/>
<path fill="rgb(70,70,70)" d="M304.91 32.5h4.83v4.83h-4.83zM242.16 42.16h4.83v4.83h-4.83zM160.09 46.98h4.83v4.83h-4.83zM189.05 51.81h4.83v4.83h-4.83zM97.33 56.64h4.83v4.83h-4.83zM150.43 61.47h4.83v4.83h-4.83zM333.88 71.12h4.83v4.83h-4.83zM353.19 71.12h4.83v4.83h-4.83zM102.16 104.91h4.83v4.83h-4.83zM271.12 104.91h4.83v4.83h-4.83zM145.6 109.74h4.83v4.83h-4.83zM266.29 114.57h4.83v4.83h-4.83zM333.88 114.57h4.83v4.83h-4.83zM353.19 114.57h4.83v4.83h-4.83zM218.02 124.22h4.83v4.83h-4.83zM169.74 129.05h4.83v4.83h-4.83zM256.64 129.05h4.83v4.83h-4.83zM160.09 133.88h4.83v4.83h-4.83zM309.74 133.88h4.83v4.83h-4.83zM121.47 138.71h4.83v4.83h-4.83zM131.12 138.71h4.83v4.83h-4.83zM362.84 138.71h4.83v4.83h-4.83zM102.16 148.36h4.83v4.83h-4.83zM189.05 148.36h4.83v4.83h-4.83zM367.67 177.33h4.83v4.83h-4.83zM362.84 182.16h4.83v4.83h-4.83zM304.91 196.64h4.83v4.83h-4.83zM343.53 196.64h4.83v4.83h-4.83zM116.64 220.78h4.83v4.83h-4.83zM218.02 240.09h4.83v4.83h-4.83zM304.91 249.74h4.83v4.83h-4.83zM232.5 273.88h4.83v4.83h-4.83zM150.43 278.71h4.83v4.83h-4.83zM300.09 278.71h4.83v4.83h-4.83zM329.05 278.71h4.83v4.83h-4.83zM343.53 278.71h4.83v4.83h-4.83zM135.95 283.53h4.83v4.83h-4.83zM367.67 283.53h4.83v4.83h-4.83zM97.33 298.02h4.83v4.83h-4.83zM275.95 298.02h4.83v4.83h-4.83z"/>
<path fill="rgb(71,71,71)" d="M237.33 51.81h4.83v4.83h-4.83zM121.47 90.43h9.66v4.83h-9.66zM348.36 95.26h4.83v4.83h-4.83zM348.36 124.22h4.83v4.83h-4.83zM227.67 133.88h4.83v4.83h-4.83zM304.91 138.71h4.83v4.83h-4.83zM324.22 191.81h4.83v4.83h-4.83zM246.98 201.47h4.83v4.83h-4.83zM160.09 225.6h4.83v4.83h-4.83zM106.98 240.09h4.83v4.83h-4.83zM309.74 244.91h4.83v4.83h-4.83zM275.95 264.22h4.83v4.83h-4.83zM353.19 264.22h4.83v4.83h-4.83zM280.78 288.36h4.83v4.83h-4.83zM116.64 302.84h4.83v4.83h-4.83zM179.4 302.84h4.83v4.83h-4.83zM116.64 307.67h4.83v4.83h-4.83z"/>
<path fill="rgb(72,72,72)" d="M179.4 42.16h4.83v4.83h-4.83zM271.12 61.47h4.83v4.83h-4.83zM285.6 75.95h4.83v4.83h-4.83zM92.5 85.6h4.83v4.83h-4.83zM309.74 85.6h4.83v4.83h-4.83zM145.6 95.26h4.83v4.83h-4.83zM145.6 104.91h4.83v4.83h-4.83zM290.43 104.91h4.83v4.83h-4.83zM121.47 143.53h4.83v4.83h-4.83zM218.02 143.53h4.83v4.83h-4.83zM358.02 148.36h4.83v4.83h-4.83zM97.33 153.19h4.83v4.83h-4.83zM106.98 153.19h4.83v4.83h-4.83zM218.02 177.33h4.83v4.83h-4.83zM329.05 196.64h4.83v4.83h-4.83zM126.29 211.12h4.83v4.83h-4.83zM145.6 211.12h4.83v4.83h-4.83zM126.29 215.95h4.83v4.83h-4.83zM309.74 215.95h4.83v4.83h-4.83zM343.53 225.6h4.83v4.83h-4.83zM97.33 235.26h9.66v4.83h-9.66zM213.19 235.26h4.83v4.83h-4.83zM256.64 240.09h4.83v4.83h-4.83zM266.29 273.88h4.83v4.83h-4.83zM106.98 283.53h4.83v4.83h-4.83zM150.43 283.53h4.83v4.83h-4.83zM309.74 283.53h9.66v4.83h-9.66zM189.05 298.02h4.83v4.83h-4.83zM285.6 302.84h4.83v4.83h-4.83z"/>
<path fill="rgb(73,73,73)" d="M126.29 32.5h4.83v4.83h-4.83zM232.5 46.98h4.83v4.83h-4.83zM232.5 51.81h4.83v4.83h-4.83zM343.53 51.81h4.83v4.83h-4.83zM106.98 100.09h4.83v4.83h-4.83zM92.5 109.74h4.83v4.83h-4.83zM218.02 109.74h4.83v4.83h-4.83zM111.81 148.36h4.83v4.83h-4.83zM367.67 158.02h4.83v4.83h-4.83zM213.19 167.67h4.83v4.83h-4.83zM145.6 182.16h4.83v4.83h-4.83zM213.19 182.16h4.83v4.83h-4.83zM367.67 182.16h4.83v4.83h-4.83zM266.29 186.98h4.83v4.83h-4.83zM309.74 201.47h4.83v4.83h-4.83zM145.6 206.29h4.83v4.83h-4.83zM338.71 206.29h4.83v4.83h-4.83zM275.95 215.95h4.83v4.83h-4.83zM111.81 220.78h4.83v4.83h-4.83zM367.67 230.43h4.83v4.83h-4.83zM184.22 244.91h4.83v4.83h-4.83zM362.84 244.91h4.83v4.83h-4.83zM222.84 254.57h4.83v4.83h-4.83zM338.71 283.53h4.83v4.83h-4.83zM309.74 293.19h4.83v4.83h-4.83z"/>
<path fill="rgb(74,74,74)" d="M102.16 46.98h4.83v4.83h-4.83zM309.74 75.95h4.83v4.83h-4.83zM314.57 80.78h4.83v4.83h-4.83zM324.22 85.6h4.83v4.83h-4.83zM348.36 90.43h4.83v4.83h-4.83zM353.19 100.09h4.83v4.83h-4.83zM184.22 114.57h4.83v4.83h-4.83zM353.19 133.88h4.83v4.83h-4.83zM126.29 138.71h4.83v4.83h-4.83zM184.22 138.71h4.83v4.83h-4.83zM116.64 143.53h4.83v4.83h-4.83zM174.57 148.36h4.83v4.83h-4.83zM353.19 153.19h4.83v4.83h-4.83zM92.5 196.64h4.83v4.83h-4.83zM102.16 220.78h4.83v4.83h-4.83zM92.5 240.09h4.83v4.83h-4.83zM131.12 254.57h4.83v4.83h-4.83zM179.4 269.05h4.83v4.83h-4.83zM362.84 283.53h4.83v4.83h-4.83zM256.64 288.36h4.83v4.83h-4.83zM271.12 293.19h4.83v4.83h-4.83zM353.19 293.19h4.83v4.83h-4.83zM309.74 298.02h4.83v4.83h-4.83z"/>
<path fill="rgb(75,75,75)" d="M97.33 80.78h4.83v4.83h-4.83zM150.43 90.43h4.83v4.83h-4.83zM333.88 95.26h4.83v4.83h-4.83zM237.33 104.91h4.83v4.83h-4.83zM92.5 114.57h4.83v4.83h-4.83zM324.22 114.57h4.83v4.83h-4.83zM126.29 133.88h4.83v4.83h-4.83zM338.71 143.53h4.83v4.83h-4.83zM111.81 167.67h4.83v4.83h-4.83zM213.19 172.5h4.83v4.83h-4.83zM179.4 182.16h4.83v4.83h-4.83zM333.88 196.64h4.83v4.83h-4.83zM184.22 201.47h4.83v4.83h-4.83zM266.29 211.12h4.83v4.83h-4.83zM189.05 215.95h4.83v4.83h-4.83zM261.47 220.78h4.83v4.83h-4.83zM106.98 225.6h4.83v4.83h-4.83zM193.88 240.09h4.83v4.83h-4.83zM232.5 249.74h4.83v4.83h-4.83zM203.53 254.57h4.83v4.83h-4.83zM304.91 259.4h4.83v4.83h-4.83zM271.12 269.05h4.83v4.83h-4.83zM353.19 269.05h4.83v4.83h-4.83zM314.57 293.19h4.83v4.83h-4.83zM358.02 307.67h4.83v4.83h-4.83z"/>
<path fill="rgb(76,76,76)" d="M184.22 42.16h4.83v4.83h-4.83zM290.43 51.81h4.83v4.83h-4.83zM189.05 71.12h4.83v4.83h-4.83zM333.88 100.09h4.83v4.83h-4.83zM362.84 114.57h4.83v4.83h-4.83zM145.6 138.71h4.83v4.83h-4.83zM97.33 143.53h4.83v4.83h-4.83zM184.22 143.53h4.83v4.83h-4.83zM237.33 172.5h4.83v4.83h-4.83zM116.64 177.33h4.83v4.83h-4.83zM131.12 186.98h4.83v4.83h-4.83zM92.5 201.47h4.83v4.83h-4.83zM362.84 249.74h9.66v4.83h-9.66zM227.67 254.57h4.83v4.83h-4.83zM164.91 269.05h4.83v4.83h-4.83zM155.26 278.71h4.83v4.83h-4.83z"/>
<path fill="rgb(77,77,77)" d="M92.5 37.33h4.83v4.83h-4.83zM203.53 61.47h4.83v4.83h-4.83zM256.64 80.78h4.83v4.83h-4.83zM140.78 85.6h4.83v4.83h-4.83zM193.88 85.6h4.83v4.83h-4.83zM251.81 109.74h4.83v4.83h-4.83zM174.57 114.57h4.83v4.83h-4.83zM295.26 124.22h4.83v4.83h-4.83zM227.67 143.53h4.83v4.83h-4.83zM280.78 153.19h4.83v4.83h-4.83zM358.02 153.19h4.83v4.83h-4.83zM367.67 153.19h4.83v4.83h-4.83zM198.71 186.98h4.83v4.83h-4.83zM164.91 191.81h4.83v4.83h-4.83zM198.71 191.81h4.83v4.83h-4.83zM309.74 191.81h4.83v4.83h-4.83zM329.05 191.81h4.83v4.83h-4.83zM97.33 196.64h4.83v4.83h-4.83zM266.29 220.78h4.83v4.83h-4.83zM348.36 220.78h4.83v4.83h-4.83zM111.81 230.43h4.83v4.83h-4.83zM246.98 249.74h4.83v4.83h-4.83zM256.64 249.74h4.83v4.83h-4.83zM164.91 264.22h4.83v4.83h-4.83zM164.91 288.36h4.83v4.83h-4.83zM266.29 288.36h4.83v4.83h-4.83zM304.91 293.19h4.83v4.83h-4.83zM193.88 298.02h4.83v4.83h-4.83zM290.43 302.84h4.83v4.83h-4.83zM314.57 302.84h4.83v4.83h-4.83z"/>
<path fill="rgb(78,78,78)" d="M285.6 51.81h4.83v4.83h-4.83zM140.78 56.64h4.83v4.83h-4.83zM329.05 56.64h4.83v4.83h-4.83zM275.95 61.47h4.83v4.83h-4.83zM314.57 75.95h4.83v4.83h-4.83zM367.67 80.78h4.83v4.83h-4.83zM227.67 109.74h4.83v4.83h-4.83zM353.19 129.05h4.83v4.83h-4.83zM179.4 158.02h4.83v4.83h-4.83zM213.19 162.84h4.83v4.83h-4.83zM135.95 177.33h4.83v4.83h-4.83zM116.64 182.16h4.83v4.83h-4.83zM169.74 191.81h4.83v4.83h-4.83zM193.88 201.47h4.83v4.83h-4.83zM338.71 201.47h4.83v4.83h-4.83zM174.57 225.6h4.83v4.83h-4.83zM242.16 273.88h4.83v4.83h-4.83zM367.67 302.84h4.83v4.83h-4.83z"/>
<path fill="rgb(79,79,79)" d="M102.16 56.64h4.83v4.83h-4.83zM280.78 56.64h4.83v4.83h-4.83zM343.53 71.12h4.83v4.83h-4.83zM285.6 80.78h4.83v4.83h-4.83zM164.91 100.09h4.83v4.83h-4.83zM280.78 124.22h4.83v4.83h-4.83zM338.71 153.19h4.83v4.83h-4.83zM275.95 158.02h4.83v4.83h-4.83zM164.91 196.64h4.83v4.83h-4.83zM140.78 201.47h4.83v4.83h-4.83zM203.53 206.29h4.83v4.83h-4.83zM193.88 225.6h4.83v4.83h-4.83zM280.78 230.43h4.83v4.83h-4.83zM111.81 235.26h4.83v4.83h-4.83zM362.84 235.26h4.83v4.83h-4.83zM213.19 240.09h4.83v4.83h-4.83zM145.6 244.91h4.83v4.83h-4.83zM275.95 249.74h4.83v4.83h-4.83zM102.16 264.22h4.83v4.83h-4.83zM367.67 288.36h4.83v4.83h-4.83zM213.19 293.19h4.83v4.83h-4.83zM348.36 293.19h4.83v4.83h-4.83zM227.67 298.02h4.83v4.83h-4.83zM193.88 302.84h4.83v4.83h-4.83z"/>
<path fill="rgb(80,80,80)" d="M242.16 46.98h4.83v4.83h-4.83zM106.98 66.29h4.83v4.83h-4.83zM92.5 75.95h4.83v4.83h-4.83zM169.74 75.95h4.83v4.83h-4.83zM329.05 95.26h4.83v4.83h-4.83zM280.78 133.88h4.83v4.83h-4.83zM92.5 153.19h4.83v4.83h-4.83zM271.12 153.19h4.83v4.83h-4.83zM348.36 158.02h4.83v4.83h-4.83zM358.02 158.02h4.83v4.83h-4.83zM338.71 172.5h4.83v4.83h-4.83zM135.95 182.16h4.83v4.83h-4.83zM324.22 182.16h4.83v4.83h-4.83zM121.47 191.81h4.83v4.83h-4.83zM367.67 201.47h4.83v4.83h-4.83zM251.81 211.12h4.83v4.83h-4.83zM319.4 211.12h4.83v4.83h-4.83zM280.78 215.95h4.83v4.83h-4.83zM131.12 240.09h4.83v4.83h-4.83zM174.57 240.09h4.83v4.83h-4.83zM169.74 249.74h4.83v4.83h-4.83zM116.64 264.22h4.83v4.83h-4.83zM280.78 278.71h4.83v4.83h-4.83zM131.12 283.53h4.83v4.83h-4.83zM184.22 288.36h4.83v4.83h-4.83zM145.6 293.19h4.83v4.83h-4.83zM203.53 298.02h4.83v4.83h-4.83zM304.91 302.84h4.83v4.83h-4.83zM246.98 307.67h4.83v4.83h-4.83z"/>
<path fill="rgb(81,81,81)" d="M309.74 37.33h4.83v4.83h-4.83zM237.33 42.16h4.83v4.83h-4.83zM155.26 61.47h4.83v4.83h-4.83zM198.71 90.43h4.83v4.83h-4.83zM362.84 148.36h4.83v4.83h-4.83zM218.02 172.5h4.83v4.83h-4.83zM121.47 186.98h4.83v4.83h-4.83zM348.36 225.6h4.83v4.83h-4.83zM150.43 244.91h4.83v4.83h-4.83zM198.71 254.57h4.83v4.83h-4.83zM169.74 264.22h4.83v4.83h-4.83zM145.6 288.36h4.83v4.83h-4.83zM155.26 293.19h4.83v4.83h-4.83zM121.47 307.67h4.83v4.83h-4.83zM275.95 307.67h4.83v4.83h-4.83z"/>
<path fill="rgb(82,82,82)" d="M280.78 80.78h4.83v4.83h-4.83zM232.5 90.43h4.83v4.83h-4.83zM126.29 104.91h4.83v4.83h-4.83zM348.36 138.71h4.83v4.83h-4.83zM324.22 143.53h4.83v4.83h-4.83zM358.02 182.16h4.83v4.83h-4.83zM362.84 186.98h4.83v4.83h-4.83zM304.91 191.81h4.83v4.83h-4.83zM189.05 201.47h4.83v4.83h-4.83zM343.53 201.47h4.83v4.83h-4.83zM150.43 206.29h4.83v4.83h-4.83zM131.12 211.12h4.83v4.83h-4.83zM102.16 269.05h4.83v4.83h-4.83zM251.81 269.05h4.83v4.83h-4.83zM343.53 283.53h4.83v4.83h-4.83zM353.19 307.67h4.83v4.83h-4.83z"/>
<path fill="rgb(83,83,83)" d="M261.47 42.16h4.83v4.83h-4.83zM319.4 80.78h4.83v4.83h-4.83zM324.22 124.22h4.83v4.83h-4.83zM169.74 148.36h4.83v4.83h-4.83zM126.29 153.19h4.83v4.83h-4.83zM145.6 186.98h4.83v4.83h-4.83zM150.43 211.12h4.83v4.83h-4.83zM314.57 215.95h4.83v4.83h-4.83zM367.67 244.91h4.83v4.83h-4.83zM314.57 259.4h4.83v4.83h-4.83zM160.09 283.53h4.83v4.83h-4.83zM222.84 293.19h4.83v4.83h-4.83zM198.71 302.84h4.83v4.83h-4.83z"/>
<path fill="rgb(84,84,84)" d="M222.84 61.47h4.83v4.83h-4.83zM333.88 90.43h4.83v4.83h-4.83zM184.22 100.09h9.66v4.83h-9.66zM184.22 104.91h9.66v4.83h-9.66zM324.22 138.71h4.83v4.83h-4.83zM174.57 153.19h4.83v4.83h-4.83zM121.47 158.02h4.83v4.83h-4.83zM184.22 162.84h4.83v4.83h-4.83zM160.09 196.64h4.83v4.83h-4.83zM189.05 235.26h9.66v4.83h-9.66zM314.57 298.02h4.83v4.83h-4.83z"/>
<path fill="rgb(85,85,85)" d="M213.19 119.4h4.83v4.83h-4.83zM232.5 172.5h4.83v4.83h-4.83zM367.67 172.5h4.83v4.83h-4.83zM179.4 177.33h4.83v4.83h-4.83zM300.09 206.29h4.83v4.83h-4.83zM237.33 273.88h4.83v4.83h-4.83zM155.26 283.53h4.83v4.83h-4.83zM319.4 283.53h4.83v4.83h-4.83zM227.67 293.19h4.83v4.83h-4.83z"/>
<path fill="rgb(86,86,86)" d="M193.88 90.43h4.83v4.83h-4.83zM266.29 129.05h4.83v4.83h-4.83zM116.64 148.36h4.83v4.83h-4.83zM92.5 162.84h4.83v4.83h-4.83zM198.71 177.33h4.83v4.83h-4.83zM309.74 196.64h4.83v4.83h-4.83zM237.33 244.91h4.83v4.83h-4.83z"/>
<path fill="rgb(87,87,87)" d="M106.98 90.43h4.83v4.83h-4.83zM358.02 129.05h4.83v4.83h-4.83zM358.02 138.71h4.83v4.83h-4.83zM174.57 158.02h4.83v4.83h-4.83zM232.5 244.91h4.83v4.83h-4.83zM304.91 254.57h4.83v4.83h-4.83zM280.78 283.53h4.83v4.83h-4.83z"/>
<path fill="rgb(88,88,88)" d="M329.05 100.09h4.83v4.83h-4.83zM261.47 129.05h4.83v4.83h-4.83zM358.02 133.88h4.83v4.83h-4.83zM348.36 153.19h4.83v4.83h-4.83zM198.71 162.84h4.83v4.83h-4.83zM314.57 254.57h4.83v4.83h-4.83z"/>
<path fill="rgb(89,89,89)" d="M242.16 37.33h4.83v4.83h-4.83zM155.26 46.98h4.83v4.83h-4.83zM140.78 66.29h4.83v4.83h-4.83zM333.88 66.29h4.83v4.83h-4.83zM348.36 71.12h4.83v4.83h-4.83zM184.22 85.6h4.83v4.83h-4.83zM111.81 95.26h4.83v4.83h-4.83zM140.78 109.74h4.83v4.83h-4.83zM333.88 109.74h4.83v4.83h-4.83zM261.47 114.57h4.83v4.83h-4.83zM218.02 119.4h4.83v4.83h-4.83zM121.47 133.88h4.83v4.83h-4.83zM155.26 133.88h4.83v4.83h-4.83zM304.91 133.88h4.83v4.83h-4.83zM189.05 143.53h4.83v4.83h-4.83zM111.81 162.84h4.83v4.83h-4.83zM184.22 167.67h4.83v4.83h-4.83zM338.71 196.64h4.83v4.83h-4.83zM333.88 206.29h4.83v4.83h-4.83zM227.67 244.91h4.83v4.83h-4.83zM266.29 269.05h4.83v4.83h-4.83zM329.05 273.88h4.83v4.83h-4.83zM295.26 278.71h4.83v4.83h-4.83zM271.12 298.02h4.83v4.83h-4.83z"/>
<path fill="rgb(90,90,90)" d="M218.02 85.6h4.83v4.83h-4.83zM184.22 95.26h4.83v4.83h-4.83zM106.98 158.02h4.83v4.83h-4.83zM116.64 162.84h4.83v4.83h-4.83zM97.33 191.81h4.83v4.83h-4.83z"/>
<path fill="rgb(91,91,91)" d="M222.84 85.6h4.83v4.83h-4.83zM237.33 90.43h4.83v4.83h-4.83zM300.09 124.22h4.83v4.83h-4.83zM329.05 138.71h4.83v4.83h-4.83zM184.22 182.16h4.83v4.83h-4.83zM131.12 206.29h4.83v4.83h-4.83zM343.53 249.74h4.83v4.83h-4.83z"/>
<path fill="rgb(92,92,92)" d="M343.53 56.64h4.83v4.83h-4.83zM309.74 80.78h4.83v4.83h-4.83zM358.02 186.98h4.83v4.83h-4.83zM309.74 259.4h4.83v4.83h-4.83zM106.98 278.71h4.83v4.83h-4.83zM97.33 293.19h4.83v4.83h-4.83z"/>
<path fill="rgb(93,93,93)" d="M102.16 51.81h4.83v4.83h-4.83zM237.33 85.6h4.83v4.83h-4.83zM140.78 90.43h4.83v4.83h-4.83zM169.74 153.19h4.83v4.83h-4.83zM169.74 158.02h4.83v4.83h-4.83zM314.57 288.36h4.83v4.83h-4.83z"/>
<path fill="rgb(94,94,94)" d="M184.22 90.43h9.66v4.83h-9.66zM169.74 100.09h4.83v4.83h-4.83zM97.33 148.36h4.83v4.83h-4.83zM106.98 220.78h4.83v4.83h-4.83zM106.98 235.26h4.83v4.83h-4.83z"/>
<path fill="rgb(95,95,95)" d="M155.26 288.36h4.83v4.83h-4.83zM155.26 298.02h4.83v4.83h-4.83zM222.84 298.02h4.83v4.83h-4.83z"/>
<path fill="rgb(96,96,96)" d="M218.02 167.67h4.83v4.83h-4.83zM169.74 182.16h4.83v4.83h-4.83zM150.43 298.02h4.83v4.83h-4.83z"/>
<path fill="rgb(97,97,97)" d="M106.98 85.6h4.83v4.83h-4.83zM189.05 85.6h4.83v4.83h-4.83zM126.29 119.4h4.83v4.83h-4.83zM174.57 138.71h4.83v4.83h-4.83zM242.16 167.67h4.83v4.83h-4.83zM131.12 191.81h4.83v4.83h-4.83zM150.43 196.64h4.83v4.83h-4.83zM135.95 201.47h4.83v4.83h-4.83zM261.47 225.6h4.83v4.83h-4.83zM362.84 230.43h4.83v4.83h-4.83z"/>
<path fill="rgb(98,98,98)" d="M246.98 109.74h4.83v4.83h-4.83zM367.67 119.4h4.83v4.83h-4.83zM179.4 153.19h4.83v4.83h-4.83zM184.22 215.95h4.83v4.83h-4.83z"/>
<path fill="rgb(99,99,99)" d="M246.98 104.91h4.83v4.83h-4.83zM348.36 119.4h4.83v4.83h-4.83zM189.05 138.71h4.83v4.83h-4.83z"/>
<path fill="rgb(100,100,100)" d="M329.05 32.5h4.83v4.83h-4.83zM145.6 90.43h4.83v4.83h-4.83zM324.22 90.43h4.83v4.83h-4.83zM256.64 148.36h4.83v4.83h-4.83zM367.67 211.12h4.83v4.83h-4.83z"/>
<path fill="rgb(101,101,101)" d="M271.12 264.22h4.83v4.83h-4.83z"/>
<path fill="rgb(102,102,102)" d="M106.98 61.47h4.83v4.83h-4.83zM92.5 71.12h4.83v4.83h-4.83zM169.74 71.12h4.83v4.83h-4.83zM140.78 75.95h4.83v4.83h-4.83zM353.19 158.02h4.83v4.83h-4.83zM333.88 172.5h4.83v4.83h-4.83zM251.81 206.29h4.83v4.83h-4.83zM314.57 211.12h4.83v4.83h-4.83zM174.57 235.26h4.83v4.83h-4.83zM184.22 235.26h4.83v4.83h-4.83zM164.91 249.74h4.83v4.83h-4.83zM116.64 259.4h4.83v4.83h-4.83zM126.29 283.53h4.83v4.83h-4.83zM304.91 298.02h4.83v4.83h-4.83zM309.74 307.67h4.83v4.83h-4.83z"/>
<path fill="rgb(103,103,103)" d="M213.19 95.26h4.83v4.83h-4.83zM198.71 109.74h4.83v4.83h-4.83zM121.47 148.36h4.83v4.83h-4.83zM140.78 288.36h4.83v4.83h-4.83z"/>
<path fill="rgb(104,104,104)" d="M140.78 283.53h4.83v4.83h-4.83z"/>
<path fill="rgb(106,106,106)" d="M348.36 133.88h4.83v4.83h-4.83zM213.19 158.02h4.83v4.83h-4.83zM169.74 186.98h4.83v4.83h-4.83zM111.81 298.02h4.83v4.83h-4.83z"/>
<path fill="rgb(107,107,107)" d="M237.33 46.98h4.83v4.83h-4.83zM329.05 90.43h4.83v4.83h-4.83zM353.19 138.71h4.83v4.83h-4.83zM198.71 249.74h4.83v4.83h-4.83zM126.29 254.57h4.83v4.83h-4.83zM150.43 293.19h4.83v4.83h-4.83z"/>
<path fill="rgb(108,108,108)" d="M193.88 196.64h4.83v4.83h-4.83z"/>
<path fill="rgb(109,109,109)" d="M242.16 104.91h4.83v4.83h-4.83zM353.19 124.22h4.83v4.83h-4.83z"/>
<path fill="rgb(110,110,110)" d="M106.98 80.78h4.83v4.83h-4.83zM174.57 133.88h4.83v4.83h-4.83zM242.16 162.84h4.83v4.83h-4.83zM150.43 191.81h4.83v4.83h-4.83zM135.95 196.64h4.83v4.83h-4.83zM227.67 249.74h4.83v4.83h-4.83z"/>
<path fill="rgb(112,112,112)" d="M102.16 85.6h4.83v4.83h-4.83zM169.74 138.71h4.83v4.83h-4.83zM237.33 167.67h4.83v4.83h-4.83zM145.6 196.64h4.83v4.83h-4.83zM131.12 201.47h4.83v4.83h-4.83z"/>
<path fill="rgb(113,113,113)" d="M121.47 153.19h4.83v4.83h-4.83z"/>
<path fill="rgb(114,114,114)" d="M353.19 119.4h4.83v4.83h-4.83z"/>
<path fill="rgb(116,116,116)" d="M140.78 71.12h4.83v4.83h-4.83z"/>
<path fill="rgb(117,117,117)" d="M367.67 85.6h4.83v4.83h-4.83z"/>
<path fill="rgb(118,118,118)" d="M135.95 75.95h4.83v4.83h-4.83zM203.53 148.36h4.83v4.83h-4.83z"/>
<path fill="rgb(119,119,119)" d="M92.5 158.02h4.83v4.83h-4.83z"/>
<path fill="rgb(120,120,120)" d="M275.95 153.19h4.83v4.83h-4.83z"/>
<path fill="rgb(122,122,122)" d="M92.5 148.36h4.83v4.83h-4.83z"/>
<path fill="rgb(123,123,123)" d="M102.16 80.78h4.83v4.83h-4.83zM169.74 133.88h4.83v4.83h-4.83zM237.33 162.84h4.83v4.83h-4.83zM145.6 191.81h4.83v4.83h-4.83zM131.12 196.64h4.83v4.83h-4.83zM266.29 225.6h4.83v4.83h-4.83z"/>
<path fill="rgb(129,129,129)" d="M135.95 71.12h4.83v4.83h-4.83z"/>
<path fill="rgb(131,131,131)" d="M150.43 288.36h4.83v4.83h-4.83z"/>
<path fill="rgb(133,133,133)" d="M203.53 143.53h4.83v4.83h-4.83zM227.67 172.5h4.83v4.83h-4.83z"/>
<path fill="rgb(136,136,136)" d="M213.19 90.43h4.83v4.83h-4.83zM198.71 148.36h4.83v4.83h-4.83z"/>
<path fill="rgb(149,149,149)" d="M193.88 109.74h4.83v4.83h-4.83zM198.71 143.53h4.83v4.83h-4.83z"/>
<path fill="rgb(151,151,151)" d="M227.67 167.67h4.83v4.83h-4.83z"/>
<path fill="rgb(154,154,154)" d="M222.84 172.5h4.83v4.83h-4.83z"/>
<path fill="rgb(162,162,162)" d="M198.71 95.26h4.83v4.83h-4.83z"/>
<path fill="rgb(168,168,168)" d="M208.36 90.43h4.83v4.83h-4.83zM193.88 95.26h4.83v4.83h-4.83zM208.36 95.26h4.83v4.83h-4.83zM222.84 167.67h4.83v4.83h-4.83z"/>
<path fill="rgb(201,201,201)" d="M198.71 104.91h4.83v4.83h-4.83z"/>
<path fill="rgb(233,233,233)" d="M198.71 100.09h4.83v4.83h-4.83zM193.88 104.91h4.83v4.83h-4.83z"/>
<path fill="rgb(255,255,255)" d="M193.88 100.09h4.83v4.83h-4.83z"/>
</g>
<g clip-path="url(#cc)">
<rect x="91.5" y="363.65" width="282" height="282" fill="#252525"/>
<g filter="url(#bl)">
<path fill="rgb(0,0,0)" d="M211.5 357.65h6v3h-6zM274.5 357.65h6v3h-6zM307.5 357.65h6v3h-6zM349.5 357.65h9v3h-9zM307.5 360.65h6v3h-6zM349.5 360.65h9v3h-9zM250.5 363.65h6v3h-6zM313.5 363.65h6v3h-6zM352.5 363.65h3v3h-3zM88.5 366.65h12v3h-12zM313.5 366.65h9v3h-9zM88.5 369.65h12v3h-12zM313.5 369.65h9v3h-9zM91.5 372.65h6v3h-6zM124.5 372.65h3v3h-3zM289.5 372.65h3v3h-3zM316.5 372.65h3v3h-3zM124.5 375.65h3v3h-3zM151.5 375.65h3v3h-3zM286.5 375.65h9v3h-9zM121.5 378.65h9v3h-9zM151.5 378.65h6v3h-6zM286.5 378.65h9v3h-9zM352.5 378.65h6v3h-6zM121.5 381.65h9v3h-9zM217.5 381.65h6v3h-6zM289.5 381.65h6v3h-6zM352.5 381.65h6v3h-6zM124.5 384.65h9v3h-9zM214.5 384.65h12v3h-12zM277.5 384.65h6v3h-6zM289.5 384.65h6v3h-6zM352.5 384.65h6v3h-6zM208.5 387.65h18v3h-18zM274.5 387.65h9v3h-9zM289.5 387.65h9v3h-9zM106.5 390.65h6v3h-6zM169.5 390.65h3v3h-3zM205.5 390.65h12v3h-12zM271.5 390.65h18v3h-18zM295.5 390.65h3v3h-3zM106.5 393.65h6v3h-6zM166.5 393.65h6v3h-6zM238.5 393.65h9v3h-9zM271.5 393.65h18v3h-18zM223.5 396.65h3v3h-3zM238.5 396.65h9v3h-9zM274.5 396.65h6v3h-6zM85.5 399.65h3v3h-3zM238.5 399.65h6v3h-6zM304.5 399.65h3v3h-3zM85.5 402.65h3v3h-3zM268.5 402.65h3v3h-3zM304.5 402.65h3v3h-3zM358.5 402.65h6v3h-6zM154.5 405.65h3v3h-3zM268.5 405.65h3v3h-3zM358.5 405.65h6v3h-6zM124.5 408.65h6v3h-6zM265.5 408.65h3v3h-3zM124.5 411.65h6v3h-6zM202.5 411.65h3v3h-3zM265.5 411.65h3v3h-3zM292.5 411.65h6v3h-6zM310.5 411.65h3v3h-3zM325.5 411.65h12v3h-12zM97.5 414.65h3v3h-3zM124.5 414.65h6v3h-6zM193.5 414.65h15v3h-15zM262.5 414.65h6v3h-6zM292.5 414.65h9v3h-9zM310.5 414.65h3v3h-3zM349.5 414.65h3v3h-3zM97.5 417.65h6v3h-6zM121.5 417.65h9v3h-9zM193.5 417.65h12v3h-12zM259.5 417.65h9v3h-9zM301.5 417.65h3v3h-3zM349.5 417.65h3v3h-3zM121.5 420.65h6v3h-6zM193.5 420.65h6v3h-6zM256.5 420.65h12v3h-12zM121.5 423.65h3v3h-3zM196.5 423.65h6v3h-6zM256.5 423.65h12v3h-12zM274.5 423.65h9v3h-9zM196.5 426.65h3v3h-3zM259.5 426.65h6v3h-6zM85.5 429.65h3v3h-3zM112.5 429.65h3v3h-3zM151.5 429.65h3v3h-3zM196.5 429.65h3v3h-3zM85.5 432.65h3v3h-3zM103.5 432.65h12v3h-12zM151.5 432.65h3v3h-3zM175.5 432.65h3v3h-3zM85.5 435.65h3v3h-3zM109.5 435.65h9v3h-9zM202.5 435.65h6v3h-6zM85.5 438.65h6v3h-6zM112.5 438.65h6v3h-6zM199.5 438.65h9v3h-9zM220.5 438.65h3v3h-3zM112.5 441.65h6v3h-6zM127.5 441.65h6v3h-6zM199.5 441.65h9v3h-9zM217.5 441.65h6v3h-6zM241.5 441.65h9v3h-9zM112.5 444.65h6v3h-6zM130.5 444.65h3v3h-3zM199.5 444.65h6v3h-6zM217.5 444.65h6v3h-6zM244.5 444.65h6v3h-6zM298.5 444.65h6v3h-6zM220.5 447.65h3v3h-3zM298.5 447.65h6v3h-6zM154.5 450.65h3v3h-3zM268.5 450.65h3v3h-3zM127.5 453.65h3v3h-3zM154.5 453.65h3v3h-3zM193.5 453.65h6v3h-6zM280.5 453.65h3v3h-3zM121.5 456.65h12v3h-12zM175.5 456.65h3v3h-3zM193.5 456.65h6v3h-6zM106.5 459.65h9v3h-9zM121.5 459.65h12v3h-12zM190.5 459.65h3v3h-3zM85.5 462.65h3v3h-3zM106.5 462.65h6v3h-6zM121.5 462.65h12v3h-12zM190.5 462.65h3v3h-3zM259.5 462.65h3v3h-3zM85.5 465.65h6v3h-6zM106.5 465.65h3v3h-3zM124.5 465.65h9v3h-9zM142.5 465.65h9v3h-9zM259.5 465.65h6v3h-6zM85.5 468.65h9v3h-9zM145.5 468.65h6v3h-6zM262.5 468.65h9v3h-9zM277.5 468.65h3v3h-3zM85.5 471.65h3v3h-3zM202.5 471.65h6v3h-6zM268.5 471.65h3v3h-3zM280.5 471.65h3v3h-3zM337.5 471.65h3v3h-3zM199.5 474.65h9v3h-9zM334.5 474.65h6v3h-6zM376.5 474.65h3v3h-3zM199.5 477.65h9v3h-9zM247.5 477.65h9v3h-9zM376.5 477.65h3v3h-3zM106.5 480.65h3v3h-3zM250.5 480.65h6v3h-6zM310.5 480.65h3v3h-3zM364.5 480.65h6v3h-6zM376.5 480.65h3v3h-3zM106.5 483.65h3v3h-3zM208.5 483.65h3v3h-3zM223.5 483.65h6v3h-6zM286.5 483.65h3v3h-3zM301.5 483.65h12v3h-12zM331.5 483.65h6v3h-6zM364.5 483.65h6v3h-6zM376.5 483.65h3v3h-3zM208.5 486.65h3v3h-3zM223.5 486.65h9v3h-9zM298.5 486.65h15v3h-15zM328.5 486.65h9v3h-9zM364.5 486.65h6v3h-6zM109.5 489.65h3v3h-3zM223.5 489.65h9v3h-9zM298.5 489.65h15v3h-15zM325.5 489.65h9v3h-9zM364.5 489.65h6v3h-6zM94.5 492.65h6v3h-6zM226.5 492.65h3v3h-3zM283.5 492.65h6v3h-6zM301.5 492.65h18v3h-18zM322.5 492.65h9v3h-9zM274.5 495.65h3v3h-3zM283.5 495.65h6v3h-6zM301.5 495.65h12v3h-12zM322.5 495.65h9v3h-9zM343.5 495.65h3v3h-3zM85.5 498.65h9v3h-9zM157.5 498.65h6v3h-6zM271.5 498.65h6v3h-6zM283.5 498.65h3v3h-3zM304.5 498.65h6v3h-6zM325.5 498.65h3v3h-3zM85.5 501.65h9v3h-9zM154.5 501.65h9v3h-9zM202.5 501.65h3v3h-3zM271.5 501.65h3v3h-3zM88.5 504.65h6v3h-6zM157.5 504.65h3v3h-3zM202.5 504.65h3v3h-3zM208.5 504.65h6v3h-6zM130.5 507.65h3v3h-3zM208.5 507.65h6v3h-6zM85.5 510.65h6v3h-6zM130.5 510.65h3v3h-3zM85.5 513.65h6v3h-6zM229.5 513.65h3v3h-3zM298.5 513.65h6v3h-6zM106.5 516.65h9v3h-9zM226.5 516.65h6v3h-6zM103.5 519.65h9v3h-9zM226.5 519.65h9v3h-9zM256.5 519.65h3v3h-3zM343.5 519.65h3v3h-3zM121.5 522.65h6v3h-6zM157.5 522.65h3v3h-3zM259.5 522.65h3v3h-3zM343.5 522.65h3v3h-3zM121.5 525.65h6v3h-6zM154.5 525.65h6v3h-6zM217.5 525.65h3v3h-3zM241.5 525.65h6v3h-6zM262.5 525.65h6v3h-6zM343.5 525.65h3v3h-3zM136.5 528.65h6v3h-6zM214.5 528.65h9v3h-9zM241.5 528.65h6v3h-6zM136.5 531.65h9v3h-9zM214.5 531.65h12v3h-12zM139.5 534.65h6v3h-6zM184.5 534.65h3v3h-3zM214.5 534.65h6v3h-6zM235.5 534.65h6v3h-6zM94.5 537.65h9v3h-9zM163.5 537.65h6v3h-6zM184.5 537.65h3v3h-3zM235.5 537.65h9v3h-9zM259.5 537.65h6v3h-6zM337.5 537.65h3v3h-3zM94.5 540.65h9v3h-9zM235.5 540.65h9v3h-9zM259.5 540.65h6v3h-6zM337.5 540.65h3v3h-3zM229.5 543.65h9v3h-9zM259.5 543.65h3v3h-3zM121.5 549.65h3v3h-3zM160.5 549.65h3v3h-3zM301.5 549.65h3v3h-3zM85.5 552.65h9v3h-9zM157.5 552.65h9v3h-9zM85.5 555.65h9v3h-9zM157.5 555.65h6v3h-6zM91.5 558.65h3v3h-3zM157.5 558.65h6v3h-6zM190.5 558.65h9v3h-9zM346.5 558.65h6v3h-6zM190.5 561.65h9v3h-9zM364.5 561.65h6v3h-6zM142.5 564.65h3v3h-3zM169.5 564.65h3v3h-3zM241.5 564.65h9v3h-9zM364.5 564.65h6v3h-6zM85.5 567.65h6v3h-6zM142.5 567.65h15v3h-15zM199.5 567.65h3v3h-3zM211.5 567.65h9v3h-9zM244.5 567.65h9v3h-9zM259.5 567.65h6v3h-6zM364.5 567.65h9v3h-9zM85.5 570.65h9v3h-9zM106.5 570.65h12v3h-12zM142.5 570.65h9v3h-9zM199.5 570.65h6v3h-6zM214.5 570.65h6v3h-6zM229.5 570.65h3v3h-3zM247.5 570.65h9v3h-9zM259.5 570.65h6v3h-6zM301.5 570.65h6v3h-6zM346.5 570.65h9v3h-9zM364.5 570.65h9v3h-9zM106.5 573.65h12v3h-12zM127.5 573.65h6v3h-6zM160.5 573.65h6v3h-6zM199.5 573.65h6v3h-6zM229.5 573.65h6v3h-6zM301.5 573.65h9v3h-9zM346.5 573.65h9v3h-9zM112.5 576.65h6v3h-6zM130.5 576.65h3v3h-3zM163.5 576.65h6v3h-6zM202.5 576.65h3v3h-3zM232.5 576.65h6v3h-6zM298.5 576.65h12v3h-12zM349.5 576.65h3v3h-3zM205.5 579.65h6v3h-6zM235.5 579.65h3v3h-3zM301.5 579.65h9v3h-9zM301.5 582.65h9v3h-9zM142.5 585.65h3v3h-3zM214.5 585.65h3v3h-3zM262.5 585.65h3v3h-3zM289.5 585.65h6v3h-6zM304.5 585.65h3v3h-3zM130.5 588.65h3v3h-3zM139.5 588.65h9v3h-9zM211.5 588.65h9v3h-9zM256.5 588.65h9v3h-9zM289.5 588.65h3v3h-3zM130.5 591.65h6v3h-6zM139.5 591.65h9v3h-9zM187.5 591.65h6v3h-6zM256.5 591.65h6v3h-6zM121.5 594.65h3v3h-3zM130.5 594.65h9v3h-9zM187.5 594.65h6v3h-6zM121.5 597.65h3v3h-3zM154.5 597.65h6v3h-6zM154.5 600.65h6v3h-6zM139.5 603.65h3v3h-3zM259.5 603.65h3v3h-3zM349.5 603.65h3v3h-3zM85.5 606.65h3v3h-3zM136.5 606.65h6v3h-6zM208.5 606.65h3v3h-3zM247.5 606.65h3v3h-3zM259.5 606.65h3v3h-3zM346.5 606.65h6v3h-6zM85.5 609.65h3v3h-3zM136.5 609.65h3v3h-3zM196.5 609.65h6v3h-6zM244.5 609.65h3v3h-3zM334.5 609.65h18v3h-18zM100.5 612.65h3v3h-3zM196.5 612.65h6v3h-6zM289.5 612.65h6v3h-6zM331.5 612.65h18v3h-18zM100.5 615.65h3v3h-3zM196.5 615.65h3v3h-3zM238.5 615.65h6v3h-6zM325.5 615.65h18v3h-18zM238.5 618.65h3v3h-3zM325.5 618.65h6v3h-6zM337.5 618.65h3v3h-3zM85.5 621.65h3v3h-3zM124.5 624.65h3v3h-3zM157.5 624.65h6v3h-6zM124.5 627.65h3v3h-3zM154.5 627.65h6v3h-6zM205.5 627.65h3v3h-3zM217.5 627.65h6v3h-6zM277.5 627.65h3v3h-3zM310.5 627.65h3v3h-3zM331.5 627.65h9v3h-9zM154.5 630.65h6v3h-6zM217.5 630.65h3v3h-3zM232.5 630.65h6v3h-6zM274.5 630.65h6v3h-6zM310.5 630.65h6v3h-6zM319.5 630.65h6v3h-6zM331.5 630.65h6v3h-6zM151.5 633.65h6v3h-6zM211.5 633.65h9v3h-9zM232.5 633.65h6v3h-6zM274.5 633.65h6v3h-6zM310.5 633.65h9v3h-9zM118.5 636.65h3v3h-3zM154.5 636.65h3v3h-3zM178.5 636.65h9v3h-9zM232.5 636.65h3v3h-3zM307.5 636.65h9v3h-9zM373.5 636.65h6v3h-6zM100.5 639.65h6v3h-6zM118.5 639.65h3v3h-3zM178.5 639.65h9v3h-9zM307.5 639.65h6v3h-6zM343.5 639.65h3v3h-3zM373.5 639.65h6v3h-6zM100.5 642.65h6v3h-6zM181.5 642.65h6v3h-6zM304.5 642.65h3v3h-3zM331.5 642.65h3v3h-3zM343.5 642.65h6v3h-6zM373.5 642.65h3v3h-3zM136.5 645.65h3v3h-3zM301.5 645.65h6v3h-6zM346.5 645.65h6v3h-6zM112.5 648.65h3v3h-3zM133.5 648.65h6v3h-6zM298.5 648.65h6v3h-6zM349.5 648.65h6v3h-6zM361.5 648.65h3v3h-3z"/>
<path fill="rgb(2,2,2)" d="M94.5 363.65h3v3h-3zM127.5 375.65h3v3h-3zM154.5 375.65h3v3h-3zM205.5 387.65h3v3h-3zM241.5 390.65h3v3h-3zM292.5 390.65h3v3h-3zM112.5 393.65h3v3h-3zM208.5 393.65h3v3h-3zM235.5 393.65h3v3h-3zM166.5 396.65h3v3h-3zM376.5 399.65h3v3h-3zM154.5 402.65h3v3h-3zM271.5 402.65h3v3h-3zM124.5 405.65h3v3h-3zM265.5 405.65h3v3h-3zM268.5 408.65h3v3h-3zM361.5 408.65h3v3h-3zM85.5 411.65h3v3h-3zM268.5 411.65h3v3h-3zM328.5 414.65h3v3h-3zM352.5 417.65h3v3h-3zM127.5 420.65h3v3h-3zM199.5 420.65h3v3h-3zM109.5 423.65h3v3h-3zM124.5 423.65h3v3h-3zM346.5 423.65h3v3h-3zM109.5 426.65h3v3h-3zM199.5 426.65h3v3h-3zM109.5 429.65h3v3h-3zM193.5 429.65h3v3h-3zM199.5 429.65h3v3h-3zM115.5 432.65h3v3h-3zM172.5 432.65h3v3h-3zM202.5 432.65h3v3h-3zM88.5 435.65h3v3h-3zM175.5 435.65h3v3h-3zM109.5 438.65h3v3h-3zM217.5 447.65h3v3h-3zM268.5 447.65h3v3h-3zM157.5 450.65h3v3h-3zM139.5 453.65h3v3h-3zM151.5 453.65h3v3h-3zM115.5 459.65h6v3h-6zM187.5 459.65h3v3h-3zM145.5 462.65h3v3h-3zM187.5 462.65h3v3h-3zM109.5 465.65h3v3h-3zM265.5 465.65h3v3h-3zM322.5 465.65h3v3h-3zM142.5 468.65h3v3h-3zM274.5 468.65h3v3h-3zM118.5 471.65h3v3h-3zM265.5 471.65h3v3h-3zM277.5 471.65h3v3h-3zM334.5 471.65h3v3h-3zM361.5 474.65h3v3h-3zM364.5 477.65h3v3h-3zM223.5 480.65h3v3h-3zM295.5 486.65h3v3h-3zM286.5 489.65h3v3h-3zM313.5 489.65h3v3h-3zM334.5 489.65h3v3h-3zM355.5 489.65h3v3h-3zM319.5 492.65h3v3h-3zM91.5 495.65h3v3h-3zM280.5 495.65h3v3h-3zM328.5 498.65h3v3h-3zM199.5 501.65h3v3h-3zM103.5 504.65h3v3h-3zM199.5 504.65h3v3h-3zM205.5 504.65h3v3h-3zM88.5 507.65h3v3h-3zM109.5 513.65h6v3h-6zM130.5 513.65h3v3h-3zM226.5 513.65h3v3h-3zM112.5 519.65h3v3h-3zM346.5 519.65h3v3h-3zM106.5 522.65h3v3h-3zM229.5 522.65h3v3h-3zM346.5 522.65h3v3h-3zM214.5 525.65h3v3h-3zM238.5 525.65h3v3h-3zM100.5 534.65h3v3h-3zM136.5 534.65h3v3h-3zM181.5 534.65h3v3h-3zM220.5 534.65h3v3h-3zM241.5 534.65h3v3h-3zM190.5 540.65h3v3h-3zM229.5 540.65h3v3h-3zM226.5 543.65h3v3h-3zM328.5 543.65h3v3h-3zM205.5 546.65h3v3h-3zM85.5 549.65h3v3h-3zM124.5 549.65h3v3h-3zM121.5 552.65h3v3h-3zM154.5 555.65h3v3h-3zM91.5 567.65h3v3h-3zM253.5 567.65h3v3h-3zM211.5 570.65h3v3h-3zM232.5 570.65h3v3h-3zM133.5 573.65h3v3h-3zM229.5 576.65h3v3h-3zM346.5 576.65h3v3h-3zM232.5 579.65h3v3h-3zM262.5 582.65h3v3h-3zM292.5 582.65h3v3h-3zM211.5 585.65h3v3h-3zM139.5 594.65h3v3h-3zM259.5 594.65h3v3h-3zM112.5 597.65h3v3h-3zM124.5 597.65h6v3h-6zM346.5 603.65h3v3h-3zM250.5 606.65h3v3h-3zM121.5 609.65h3v3h-3zM139.5 609.65h3v3h-3zM301.5 609.65h3v3h-3zM202.5 612.65h3v3h-3zM241.5 612.65h3v3h-3zM325.5 612.65h6v3h-6zM103.5 615.65h3v3h-3zM199.5 615.65h3v3h-3zM322.5 615.65h3v3h-3zM334.5 618.65h3v3h-3zM121.5 624.65h3v3h-3zM205.5 624.65h3v3h-3zM160.5 627.65h3v3h-3zM202.5 627.65h3v3h-3zM274.5 627.65h3v3h-3zM322.5 627.65h3v3h-3zM244.5 630.65h3v3h-3zM316.5 630.65h3v3h-3zM157.5 633.65h3v3h-3zM229.5 636.65h3v3h-3zM121.5 639.65h3v3h-3zM187.5 639.65h3v3h-3zM304.5 639.65h3v3h-3zM178.5 642.65h3v3h-3zM139.5 648.65h3v3h-3zM208.5 648.65h3v3h-3zM355.5 648.65h3v3h-3zM364.5 648.65h3v3h-3z"/>
<path fill="rgb(4,4,4)" d="M208.5 357.65h3v3h-3zM304.5 357.65h3v3h-3zM313.5 357.65h3v3h-3zM211.5 360.65h3v3h-3zM250.5 360.65h6v3h-6zM319.5 363.65h3v3h-3zM214.5 381.65h3v3h-3zM223.5 381.65h3v3h-3zM295.5 384.65h3v3h-3zM238.5 390.65h3v3h-3zM271.5 396.65h3v3h-3zM280.5 396.65h6v3h-6zM223.5 399.65h3v3h-3zM271.5 399.65h6v3h-6zM265.5 402.65h3v3h-3zM157.5 405.65h3v3h-3zM328.5 408.65h3v3h-3zM307.5 411.65h3v3h-3zM313.5 411.65h3v3h-3zM121.5 414.65h3v3h-3zM268.5 414.65h3v3h-3zM313.5 414.65h3v3h-3zM331.5 414.65h3v3h-3zM352.5 414.65h3v3h-3zM298.5 417.65h3v3h-3zM97.5 420.65h3v3h-3zM106.5 420.65h3v3h-3zM106.5 423.65h3v3h-3zM193.5 423.65h3v3h-3zM193.5 426.65h3v3h-3zM193.5 432.65h3v3h-3zM244.5 438.65h3v3h-3zM298.5 441.65h6v3h-6zM241.5 444.65h3v3h-3zM199.5 447.65h3v3h-3zM223.5 447.65h3v3h-3zM247.5 447.65h3v3h-3zM151.5 450.65h3v3h-3zM124.5 453.65h3v3h-3zM130.5 453.65h3v3h-3zM142.5 453.65h3v3h-3zM175.5 453.65h3v3h-3zM112.5 456.65h3v3h-3zM280.5 456.65h3v3h-3zM256.5 459.65h3v3h-3zM151.5 468.65h3v3h-3zM205.5 468.65h3v3h-3zM229.5 468.65h3v3h-3zM280.5 468.65h3v3h-3zM208.5 471.65h3v3h-3zM226.5 471.65h6v3h-6zM271.5 471.65h3v3h-3zM361.5 471.65h3v3h-3zM268.5 474.65h3v3h-3zM364.5 474.65h3v3h-3zM106.5 477.65h3v3h-3zM334.5 477.65h3v3h-3zM103.5 480.65h3v3h-3zM307.5 480.65h3v3h-3zM373.5 480.65h3v3h-3zM103.5 483.65h3v3h-3zM205.5 483.65h3v3h-3zM283.5 483.65h3v3h-3zM370.5 483.65h3v3h-3zM106.5 486.65h12v3h-12zM286.5 486.65h3v3h-3zM355.5 486.65h3v3h-3zM109.5 492.65h3v3h-3zM346.5 495.65h3v3h-3zM322.5 498.65h3v3h-3zM160.5 504.65h3v3h-3zM91.5 507.65h3v3h-3zM127.5 507.65h3v3h-3zM298.5 510.65h3v3h-3zM340.5 513.65h3v3h-3zM304.5 516.65h3v3h-3zM109.5 522.65h3v3h-3zM127.5 522.65h3v3h-3zM262.5 522.65h3v3h-3zM259.5 525.65h3v3h-3zM325.5 525.65h3v3h-3zM346.5 525.65h3v3h-3zM322.5 528.65h3v3h-3zM343.5 528.65h3v3h-3zM97.5 534.65h3v3h-3zM256.5 534.65h3v3h-3zM91.5 537.65h3v3h-3zM103.5 537.65h3v3h-3zM187.5 537.65h3v3h-3zM340.5 537.65h3v3h-3zM166.5 540.65h3v3h-3zM232.5 540.65h3v3h-3zM256.5 540.65h3v3h-3zM190.5 543.65h3v3h-3zM331.5 543.65h3v3h-3zM208.5 546.65h3v3h-3zM88.5 549.65h3v3h-3zM157.5 549.65h3v3h-3zM163.5 549.65h3v3h-3zM205.5 549.65h3v3h-3zM304.5 549.65h3v3h-3zM106.5 555.65h3v3h-3zM346.5 555.65h3v3h-3zM343.5 558.65h3v3h-3zM139.5 564.65h3v3h-3zM109.5 567.65h3v3h-3zM265.5 567.65h3v3h-3zM163.5 570.65h3v3h-3zM307.5 570.65h3v3h-3zM199.5 576.65h3v3h-3zM274.5 579.65h3v3h-3zM205.5 582.65h6v3h-6zM145.5 585.65h3v3h-3zM133.5 588.65h3v3h-3zM229.5 588.65h3v3h-3zM292.5 588.65h3v3h-3zM301.5 588.65h3v3h-3zM136.5 591.65h3v3h-3zM193.5 591.65h3v3h-3zM118.5 594.65h3v3h-3zM127.5 594.65h3v3h-3zM154.5 594.65h3v3h-3zM193.5 594.65h3v3h-3zM115.5 597.65h6v3h-6zM205.5 606.65h3v3h-3zM244.5 606.65h3v3h-3zM256.5 606.65h3v3h-3zM262.5 606.65h3v3h-3zM202.5 609.65h3v3h-3zM292.5 609.65h3v3h-3zM103.5 612.65h3v3h-3zM292.5 615.65h3v3h-3zM331.5 618.65h3v3h-3zM88.5 621.65h3v3h-3zM124.5 621.65h3v3h-3zM208.5 621.65h3v3h-3zM262.5 624.65h3v3h-3zM331.5 624.65h3v3h-3zM121.5 627.65h3v3h-3zM340.5 627.65h3v3h-3zM220.5 630.65h3v3h-3zM307.5 630.65h3v3h-3zM208.5 633.65h3v3h-3zM271.5 633.65h3v3h-3zM307.5 633.65h3v3h-3zM100.5 636.65h6v3h-6zM253.5 636.65h6v3h-6zM115.5 639.65h3v3h-3zM313.5 639.65h3v3h-3zM370.5 639.65h3v3h-3zM307.5 642.65h3v3h-3zM334.5 642.65h3v3h-3zM340.5 642.65h3v3h-3zM376.5 642.65h3v3h-3zM352.5 645.65h3v3h-3zM205.5 648.65h3v3h-3zM358.5 648.65h3v3h-3z"/>
<path fill="rgb(6,6,6)" d="M313.5 360.65h3v3h-3zM247.5 363.65h3v3h-3zM256.5 366.65h3v3h-3zM127.5 372.65h3v3h-3zM286.5 372.65h3v3h-3zM313.5 372.65h3v3h-3zM352.5 375.65h3v3h-3zM358.5 381.65h3v3h-3zM127.5 387.65h3v3h-3zM232.5 387.65h3v3h-3zM112.5 390.65h3v3h-3zM172.5 390.65h3v3h-3zM235.5 390.65h3v3h-3zM289.5 390.65h3v3h-3zM211.5 393.65h3v3h-3zM223.5 393.65h3v3h-3zM307.5 399.65h3v3h-3zM271.5 405.65h3v3h-3zM364.5 405.65h3v3h-3zM331.5 408.65h3v3h-3zM358.5 408.65h3v3h-3zM160.5 411.65h3v3h-3zM205.5 411.65h3v3h-3zM322.5 411.65h3v3h-3zM100.5 414.65h3v3h-3zM190.5 414.65h3v3h-3zM259.5 414.65h3v3h-3zM301.5 414.65h3v3h-3zM307.5 414.65h3v3h-3zM334.5 414.65h3v3h-3zM103.5 417.65h6v3h-6zM205.5 417.65h3v3h-3zM304.5 417.65h3v3h-3zM274.5 420.65h9v3h-9zM283.5 423.65h3v3h-3zM151.5 426.65h3v3h-3zM148.5 432.65h3v3h-3zM205.5 432.65h3v3h-3zM199.5 435.65h3v3h-3zM223.5 438.65h3v3h-3zM289.5 438.65h3v3h-3zM109.5 441.65h3v3h-3zM118.5 441.65h3v3h-3zM250.5 444.65h3v3h-3zM157.5 447.65h3v3h-3zM139.5 450.65h3v3h-3zM271.5 450.65h3v3h-3zM199.5 453.65h3v3h-3zM277.5 453.65h3v3h-3zM118.5 456.65h3v3h-3zM190.5 456.65h3v3h-3zM103.5 462.65h3v3h-3zM112.5 462.65h3v3h-3zM127.5 468.65h3v3h-3zM271.5 468.65h3v3h-3zM121.5 471.65h3v3h-3zM274.5 471.65h3v3h-3zM208.5 474.65h3v3h-3zM250.5 474.65h3v3h-3zM283.5 474.65h3v3h-3zM205.5 480.65h6v3h-6zM247.5 480.65h3v3h-3zM256.5 480.65h3v3h-3zM286.5 480.65h3v3h-3zM250.5 483.65h3v3h-3zM361.5 483.65h3v3h-3zM373.5 483.65h3v3h-3zM103.5 486.65h3v3h-3zM97.5 489.65h3v3h-3zM112.5 489.65h3v3h-3zM223.5 492.65h3v3h-3zM331.5 492.65h3v3h-3zM94.5 495.65h3v3h-3zM271.5 495.65h3v3h-3zM277.5 495.65h3v3h-3zM319.5 495.65h3v3h-3zM268.5 498.65h3v3h-3zM310.5 498.65h3v3h-3zM268.5 501.65h3v3h-3zM127.5 504.65h3v3h-3zM85.5 507.65h3v3h-3zM220.5 507.65h3v3h-3zM109.5 510.65h3v3h-3zM127.5 510.65h3v3h-3zM202.5 510.65h3v3h-3zM127.5 513.65h3v3h-3zM169.5 513.65h3v3h-3zM232.5 516.65h3v3h-3zM343.5 516.65h3v3h-3zM124.5 519.65h3v3h-3zM157.5 519.65h3v3h-3zM226.5 522.65h3v3h-3zM238.5 522.65h3v3h-3zM256.5 522.65h3v3h-3zM322.5 525.65h3v3h-3zM223.5 528.65h3v3h-3zM319.5 528.65h3v3h-3zM94.5 534.65h3v3h-3zM259.5 534.65h3v3h-3zM256.5 537.65h3v3h-3zM130.5 540.65h6v3h-6zM163.5 540.65h3v3h-3zM193.5 540.65h3v3h-3zM226.5 540.65h3v3h-3zM334.5 540.65h3v3h-3zM325.5 543.65h3v3h-3zM334.5 543.65h3v3h-3zM235.5 546.65h3v3h-3zM124.5 552.65h3v3h-3zM301.5 552.65h3v3h-3zM88.5 558.65h3v3h-3zM340.5 558.65h3v3h-3zM136.5 561.65h3v3h-3zM211.5 564.65h3v3h-3zM250.5 564.65h3v3h-3zM262.5 564.65h3v3h-3zM370.5 564.65h3v3h-3zM202.5 567.65h3v3h-3zM160.5 570.65h3v3h-3zM256.5 570.65h3v3h-3zM265.5 570.65h3v3h-3zM205.5 573.65h3v3h-3zM205.5 576.65h3v3h-3zM202.5 579.65h3v3h-3zM211.5 579.65h3v3h-3zM298.5 579.65h3v3h-3zM211.5 582.65h3v3h-3zM139.5 585.65h3v3h-3zM307.5 585.65h3v3h-3zM148.5 588.65h3v3h-3zM172.5 588.65h6v3h-6zM304.5 588.65h3v3h-3zM262.5 591.65h3v3h-3zM289.5 591.65h6v3h-6zM130.5 597.65h3v3h-3zM112.5 600.65h3v3h-3zM136.5 603.65h3v3h-3zM88.5 606.65h3v3h-3zM121.5 606.65h3v3h-3zM253.5 606.65h3v3h-3zM247.5 609.65h3v3h-3zM289.5 609.65h3v3h-3zM193.5 612.65h3v3h-3zM322.5 612.65h3v3h-3zM151.5 615.65h3v3h-3zM289.5 615.65h3v3h-3zM241.5 618.65h3v3h-3zM202.5 624.65h3v3h-3zM265.5 624.65h3v3h-3zM277.5 624.65h3v3h-3zM223.5 627.65h3v3h-3zM307.5 627.65h3v3h-3zM151.5 630.65h3v3h-3zM187.5 633.65h3v3h-3zM229.5 633.65h3v3h-3zM85.5 636.65h3v3h-3zM151.5 636.65h3v3h-3zM274.5 636.65h3v3h-3zM304.5 636.65h3v3h-3zM370.5 636.65h3v3h-3zM253.5 639.65h3v3h-3zM340.5 639.65h3v3h-3zM118.5 642.65h3v3h-3zM370.5 642.65h3v3h-3zM133.5 645.65h3v3h-3zM208.5 645.65h3v3h-3zM304.5 648.65h3v3h-3z"/>
<path fill="rgb(8,8,8)" d="M115.5 357.65h6v3h-6zM271.5 357.65h3v3h-3zM118.5 360.65h3v3h-3zM151.5 372.65h3v3h-3zM319.5 372.65h3v3h-3zM352.5 372.65h3v3h-3zM157.5 378.65h3v3h-3zM172.5 387.65h3v3h-3zM235.5 387.65h3v3h-3zM283.5 387.65h3v3h-3zM355.5 387.65h3v3h-3zM136.5 390.65h6v3h-6zM220.5 390.65h3v3h-3zM232.5 390.65h3v3h-3zM244.5 390.65h3v3h-3zM205.5 393.65h3v3h-3zM235.5 396.65h3v3h-3zM307.5 396.65h3v3h-3zM376.5 396.65h3v3h-3zM88.5 399.65h3v3h-3zM271.5 408.65h6v3h-6zM184.5 411.65h6v3h-6zM262.5 411.65h3v3h-3zM271.5 411.65h3v3h-3zM337.5 411.65h3v3h-3zM304.5 414.65h3v3h-3zM325.5 414.65h3v3h-3zM268.5 417.65h3v3h-3zM295.5 417.65h3v3h-3zM94.5 420.65h3v3h-3zM349.5 420.65h3v3h-3zM94.5 423.65h3v3h-3zM112.5 426.65h3v3h-3zM265.5 426.65h3v3h-3zM88.5 429.65h3v3h-3zM154.5 429.65h3v3h-3zM262.5 429.65h3v3h-3zM88.5 432.65h3v3h-3zM196.5 432.65h6v3h-6zM103.5 435.65h6v3h-6zM193.5 435.65h3v3h-3zM220.5 435.65h6v3h-6zM91.5 438.65h3v3h-3zM118.5 438.65h3v3h-3zM124.5 438.65h6v3h-6zM217.5 438.65h3v3h-3zM292.5 438.65h3v3h-3zM85.5 441.65h3v3h-3zM250.5 441.65h3v3h-3zM202.5 447.65h3v3h-3zM244.5 447.65h3v3h-3zM271.5 447.65h3v3h-3zM142.5 450.65h3v3h-3zM157.5 453.65h3v3h-3zM199.5 456.65h3v3h-3zM253.5 456.65h3v3h-3zM304.5 459.65h3v3h-3zM91.5 465.65h3v3h-3zM103.5 465.65h3v3h-3zM277.5 465.65h3v3h-3zM319.5 465.65h3v3h-3zM94.5 468.65h3v3h-3zM154.5 468.65h3v3h-3zM202.5 468.65h3v3h-3zM226.5 468.65h3v3h-3zM337.5 468.65h6v3h-6zM376.5 471.65h3v3h-3zM115.5 474.65h3v3h-3zM280.5 474.65h3v3h-3zM196.5 477.65h3v3h-3zM253.5 483.65h3v3h-3zM298.5 483.65h3v3h-3zM85.5 486.65h3v3h-3zM361.5 486.65h3v3h-3zM106.5 489.65h3v3h-3zM343.5 492.65h3v3h-3zM367.5 492.65h3v3h-3zM88.5 495.65h3v3h-3zM154.5 498.65h3v3h-3zM190.5 498.65h3v3h-3zM103.5 501.65h3v3h-3zM307.5 501.65h3v3h-3zM367.5 501.65h6v3h-6zM106.5 504.65h3v3h-3zM130.5 504.65h3v3h-3zM106.5 507.65h6v3h-6zM133.5 507.65h3v3h-3zM202.5 507.65h3v3h-3zM91.5 510.65h3v3h-3zM295.5 513.65h3v3h-3zM103.5 516.65h3v3h-3zM130.5 516.65h3v3h-3zM307.5 516.65h3v3h-3zM259.5 519.65h3v3h-3zM154.5 522.65h3v3h-3zM217.5 522.65h3v3h-3zM265.5 522.65h3v3h-3zM121.5 528.65h3v3h-3zM154.5 528.65h3v3h-3zM247.5 528.65h3v3h-3zM226.5 531.65h3v3h-3zM103.5 534.65h3v3h-3zM340.5 534.65h3v3h-3zM136.5 537.65h6v3h-6zM181.5 537.65h3v3h-3zM190.5 537.65h3v3h-3zM91.5 540.65h3v3h-3zM337.5 543.65h3v3h-3zM121.5 546.65h3v3h-3zM202.5 549.65h3v3h-3zM271.5 555.65h3v3h-3zM349.5 555.65h3v3h-3zM136.5 558.65h3v3h-3zM139.5 561.65h3v3h-3zM316.5 561.65h3v3h-3zM145.5 564.65h3v3h-3zM172.5 564.65h3v3h-3zM214.5 564.65h3v3h-3zM229.5 564.65h3v3h-3zM106.5 567.65h3v3h-3zM139.5 567.65h3v3h-3zM169.5 567.65h3v3h-3zM301.5 567.65h3v3h-3zM94.5 570.65h3v3h-3zM130.5 570.65h3v3h-3zM154.5 570.65h6v3h-6zM205.5 570.65h3v3h-3zM334.5 570.65h3v3h-3zM235.5 573.65h3v3h-3zM109.5 576.65h3v3h-3zM127.5 576.65h3v3h-3zM160.5 576.65h3v3h-3zM208.5 576.65h3v3h-3zM112.5 579.65h3v3h-3zM277.5 579.65h3v3h-3zM289.5 582.65h3v3h-3zM91.5 585.65h3v3h-3zM130.5 585.65h3v3h-3zM265.5 585.65h3v3h-3zM301.5 585.65h3v3h-3zM226.5 588.65h3v3h-3zM124.5 594.65h3v3h-3zM142.5 594.65h3v3h-3zM109.5 600.65h3v3h-3zM262.5 603.65h3v3h-3zM343.5 606.65h3v3h-3zM88.5 609.65h3v3h-3zM205.5 609.65h3v3h-3zM331.5 609.65h3v3h-3zM97.5 615.65h3v3h-3zM193.5 615.65h3v3h-3zM271.5 618.65h6v3h-6zM157.5 621.65h3v3h-3zM265.5 621.65h3v3h-3zM85.5 624.65h6v3h-6zM340.5 624.65h3v3h-3zM247.5 627.65h3v3h-3zM319.5 627.65h3v3h-3zM205.5 630.65h3v3h-3zM214.5 630.65h3v3h-3zM247.5 630.65h3v3h-3zM280.5 630.65h3v3h-3zM325.5 630.65h6v3h-6zM337.5 630.65h3v3h-3zM184.5 633.65h3v3h-3zM205.5 633.65h3v3h-3zM331.5 633.65h3v3h-3zM187.5 636.65h3v3h-3zM187.5 642.65h3v3h-3zM301.5 642.65h3v3h-3zM310.5 642.65h3v3h-3zM205.5 645.65h3v3h-3zM298.5 645.65h3v3h-3z"/>
<path fill="rgb(10,10,10)" d="M229.5 357.65h3v3h-3zM325.5 357.65h3v3h-3zM304.5 360.65h3v3h-3zM241.5 363.65h3v3h-3zM193.5 375.65h3v3h-3zM130.5 381.65h3v3h-3zM145.5 384.65h3v3h-3zM349.5 384.65h3v3h-3zM130.5 387.65h3v3h-3zM286.5 387.65h3v3h-3zM352.5 387.65h3v3h-3zM94.5 390.65h3v3h-3zM166.5 390.65h3v3h-3zM217.5 390.65h3v3h-3zM223.5 390.65h3v3h-3zM298.5 390.65h3v3h-3zM295.5 393.65h3v3h-3zM301.5 399.65h3v3h-3zM199.5 402.65h3v3h-3zM151.5 405.65h3v3h-3zM235.5 405.65h3v3h-3zM328.5 405.65h3v3h-3zM121.5 408.65h3v3h-3zM190.5 411.65h3v3h-3zM298.5 411.65h3v3h-3zM109.5 417.65h3v3h-3zM292.5 417.65h3v3h-3zM103.5 420.65h3v3h-3zM109.5 420.65h3v3h-3zM271.5 420.65h3v3h-3zM271.5 423.65h3v3h-3zM349.5 423.65h3v3h-3zM85.5 426.65h6v3h-6zM154.5 426.65h3v3h-3zM256.5 426.65h3v3h-3zM106.5 429.65h3v3h-3zM148.5 429.65h3v3h-3zM154.5 432.65h3v3h-3zM151.5 435.65h3v3h-3zM172.5 435.65h3v3h-3zM262.5 435.65h3v3h-3zM247.5 438.65h3v3h-3zM88.5 441.65h3v3h-3zM160.5 444.65h3v3h-3zM172.5 444.65h3v3h-3zM205.5 444.65h3v3h-3zM259.5 444.65h3v3h-3zM154.5 447.65h3v3h-3zM175.5 450.65h3v3h-3zM196.5 450.65h6v3h-6zM172.5 453.65h3v3h-3zM109.5 456.65h3v3h-3zM115.5 456.65h3v3h-3zM154.5 456.65h3v3h-3zM172.5 456.65h3v3h-3zM307.5 459.65h3v3h-3zM256.5 462.65h3v3h-3zM274.5 465.65h3v3h-3zM367.5 465.65h6v3h-6zM124.5 468.65h3v3h-3zM358.5 468.65h3v3h-3zM370.5 468.65h3v3h-3zM94.5 471.65h3v3h-3zM115.5 471.65h3v3h-3zM124.5 471.65h3v3h-3zM283.5 471.65h3v3h-3zM340.5 471.65h3v3h-3zM118.5 474.65h3v3h-3zM103.5 477.65h3v3h-3zM256.5 477.65h3v3h-3zM265.5 477.65h6v3h-6zM286.5 477.65h3v3h-3zM337.5 477.65h3v3h-3zM193.5 480.65h6v3h-6zM202.5 480.65h3v3h-3zM313.5 480.65h3v3h-3zM331.5 480.65h6v3h-6zM361.5 480.65h3v3h-3zM115.5 483.65h3v3h-3zM328.5 483.65h3v3h-3zM100.5 489.65h3v3h-3zM316.5 489.65h3v3h-3zM364.5 492.65h3v3h-3zM97.5 495.65h3v3h-3zM142.5 495.65h3v3h-3zM301.5 498.65h3v3h-3zM367.5 498.65h3v3h-3zM94.5 501.65h3v3h-3zM163.5 501.65h3v3h-3zM190.5 501.65h3v3h-3zM325.5 501.65h3v3h-3zM85.5 504.65h3v3h-3zM94.5 504.65h3v3h-3zM154.5 504.65h3v3h-3zM190.5 504.65h3v3h-3zM103.5 507.65h3v3h-3zM205.5 507.65h3v3h-3zM112.5 510.65h3v3h-3zM133.5 510.65h3v3h-3zM283.5 510.65h3v3h-3zM295.5 510.65h3v3h-3zM202.5 513.65h3v3h-3zM304.5 513.65h3v3h-3zM127.5 516.65h3v3h-3zM253.5 516.65h3v3h-3zM301.5 516.65h3v3h-3zM127.5 519.65h3v3h-3zM361.5 519.65h3v3h-3zM235.5 522.65h3v3h-3zM241.5 522.65h3v3h-3zM361.5 522.65h3v3h-3zM340.5 525.65h3v3h-3zM94.5 528.65h3v3h-3zM325.5 528.65h3v3h-3zM346.5 528.65h3v3h-3zM241.5 531.65h3v3h-3zM178.5 534.65h3v3h-3zM187.5 534.65h3v3h-3zM217.5 537.65h3v3h-3zM136.5 540.65h3v3h-3zM187.5 540.65h3v3h-3zM244.5 540.65h3v3h-3zM265.5 540.65h3v3h-3zM340.5 540.65h3v3h-3zM364.5 540.65h3v3h-3zM193.5 543.65h3v3h-3zM238.5 543.65h3v3h-3zM256.5 543.65h3v3h-3zM262.5 543.65h3v3h-3zM364.5 543.65h3v3h-3zM232.5 546.65h3v3h-3zM328.5 546.65h6v3h-6zM91.5 549.65h3v3h-3zM118.5 549.65h3v3h-3zM220.5 549.65h3v3h-3zM106.5 552.65h3v3h-3zM118.5 552.65h3v3h-3zM154.5 552.65h3v3h-3zM220.5 552.65h3v3h-3zM154.5 558.65h3v3h-3zM331.5 558.65h3v3h-3zM157.5 561.65h3v3h-3zM229.5 561.65h3v3h-3zM340.5 561.65h6v3h-6zM166.5 564.65h3v3h-3zM196.5 564.65h3v3h-3zM361.5 564.65h3v3h-3zM157.5 567.65h3v3h-3zM172.5 567.65h3v3h-3zM241.5 567.65h3v3h-3zM349.5 567.65h3v3h-3zM133.5 570.65h3v3h-3zM151.5 570.65h3v3h-3zM208.5 570.65h3v3h-3zM373.5 570.65h3v3h-3zM91.5 573.65h3v3h-3zM145.5 573.65h3v3h-3zM226.5 573.65h3v3h-3zM262.5 573.65h3v3h-3zM367.5 573.65h3v3h-3zM352.5 576.65h3v3h-3zM193.5 582.65h3v3h-3zM265.5 582.65h3v3h-3zM310.5 582.65h3v3h-3zM133.5 585.65h3v3h-3zM298.5 588.65h3v3h-3zM175.5 591.65h3v3h-3zM301.5 591.65h6v3h-6zM256.5 594.65h3v3h-3zM292.5 594.65h3v3h-3zM109.5 597.65h3v3h-3zM133.5 597.65h6v3h-6zM139.5 600.65h3v3h-3zM109.5 603.65h3v3h-3zM157.5 603.65h3v3h-3zM118.5 606.65h3v3h-3zM301.5 606.65h3v3h-3zM118.5 609.65h3v3h-3zM250.5 609.65h3v3h-3zM298.5 609.65h3v3h-3zM97.5 612.65h3v3h-3zM244.5 612.65h3v3h-3zM301.5 612.65h3v3h-3zM319.5 612.65h3v3h-3zM349.5 612.65h3v3h-3zM148.5 615.65h3v3h-3zM154.5 615.65h3v3h-3zM202.5 615.65h3v3h-3zM88.5 618.65h3v3h-3zM208.5 618.65h3v3h-3zM160.5 621.65h3v3h-3zM205.5 621.65h3v3h-3zM268.5 621.65h3v3h-3zM274.5 621.65h3v3h-3zM325.5 621.65h6v3h-6zM217.5 624.65h6v3h-6zM322.5 624.65h3v3h-3zM334.5 624.65h6v3h-6zM280.5 627.65h3v3h-3zM313.5 627.65h3v3h-3zM328.5 627.65h3v3h-3zM187.5 630.65h3v3h-3zM85.5 633.65h3v3h-3zM280.5 633.65h3v3h-3zM319.5 633.65h9v3h-9zM334.5 633.65h3v3h-3zM121.5 636.65h3v3h-3zM277.5 636.65h3v3h-3zM154.5 639.65h3v3h-3zM256.5 639.65h3v3h-3zM106.5 642.65h3v3h-3zM349.5 642.65h3v3h-3zM331.5 645.65h3v3h-3zM295.5 648.65h3v3h-3z"/>
<path fill="rgb(12,12,12)" d="M109.5 357.65h3v3h-3zM130.5 357.65h3v3h-3zM115.5 360.65h3v3h-3zM181.5 360.65h3v3h-3zM214.5 360.65h3v3h-3zM91.5 363.65h3v3h-3zM238.5 363.65h3v3h-3zM244.5 363.65h3v3h-3zM310.5 363.65h3v3h-3zM253.5 366.65h3v3h-3zM259.5 366.65h3v3h-3zM322.5 366.65h3v3h-3zM124.5 369.65h3v3h-3zM193.5 372.65h3v3h-3zM208.5 375.65h3v3h-3zM355.5 375.65h3v3h-3zM358.5 378.65h3v3h-3zM286.5 381.65h3v3h-3zM124.5 387.65h3v3h-3zM133.5 387.65h3v3h-3zM175.5 387.65h3v3h-3zM298.5 387.65h3v3h-3zM103.5 390.65h3v3h-3zM226.5 393.65h3v3h-3zM247.5 393.65h3v3h-3zM286.5 396.65h3v3h-3zM199.5 399.65h3v3h-3zM268.5 399.65h3v3h-3zM88.5 402.65h3v3h-3zM157.5 402.65h3v3h-3zM274.5 402.65h3v3h-3zM301.5 402.65h3v3h-3zM355.5 402.65h3v3h-3zM106.5 405.65h3v3h-3zM238.5 405.65h3v3h-3zM157.5 408.65h6v3h-6zM334.5 408.65h3v3h-3zM274.5 411.65h3v3h-3zM202.5 420.65h3v3h-3zM268.5 420.65h3v3h-3zM304.5 420.65h3v3h-3zM352.5 420.65h3v3h-3zM91.5 423.65h3v3h-3zM91.5 426.65h3v3h-3zM106.5 426.65h3v3h-3zM142.5 426.65h3v3h-3zM142.5 429.65h3v3h-3zM202.5 429.65h3v3h-3zM208.5 438.65h3v3h-3zM241.5 438.65h3v3h-3zM262.5 438.65h3v3h-3zM172.5 441.65h3v3h-3zM238.5 441.65h3v3h-3zM304.5 441.65h3v3h-3zM256.5 444.65h3v3h-3zM304.5 444.65h3v3h-3zM112.5 447.65h3v3h-3zM265.5 447.65h3v3h-3zM172.5 450.65h3v3h-3zM223.5 450.65h3v3h-3zM301.5 450.65h3v3h-3zM121.5 453.65h3v3h-3zM268.5 453.65h3v3h-3zM142.5 456.65h3v3h-3zM178.5 456.65h3v3h-3zM193.5 459.65h3v3h-3zM259.5 459.65h3v3h-3zM262.5 462.65h3v3h-3zM133.5 465.65h3v3h-3zM151.5 465.65h3v3h-3zM157.5 468.65h3v3h-3zM316.5 468.65h3v3h-3zM343.5 468.65h3v3h-3zM265.5 474.65h3v3h-3zM331.5 474.65h3v3h-3zM340.5 474.65h3v3h-3zM130.5 477.65h3v3h-3zM208.5 477.65h3v3h-3zM361.5 477.65h3v3h-3zM199.5 480.65h3v3h-3zM226.5 480.65h3v3h-3zM370.5 480.65h3v3h-3zM220.5 483.65h3v3h-3zM313.5 483.65h3v3h-3zM100.5 486.65h3v3h-3zM205.5 486.65h3v3h-3zM358.5 486.65h3v3h-3zM295.5 489.65h3v3h-3zM100.5 492.65h3v3h-3zM190.5 495.65h3v3h-3zM253.5 495.65h3v3h-3zM367.5 495.65h3v3h-3zM94.5 498.65h3v3h-3zM253.5 498.65h6v3h-6zM346.5 498.65h3v3h-3zM106.5 501.65h3v3h-3zM193.5 501.65h3v3h-3zM124.5 504.65h3v3h-3zM355.5 507.65h3v3h-3zM199.5 510.65h3v3h-3zM301.5 510.65h3v3h-3zM355.5 510.65h3v3h-3zM199.5 513.65h3v3h-3zM157.5 516.65h3v3h-3zM169.5 516.65h3v3h-3zM340.5 516.65h3v3h-3zM160.5 519.65h3v3h-3zM253.5 519.65h3v3h-3zM304.5 519.65h6v3h-6zM214.5 522.65h3v3h-3zM268.5 522.65h3v3h-3zM127.5 525.65h3v3h-3zM220.5 525.65h3v3h-3zM268.5 525.65h3v3h-3zM226.5 528.65h3v3h-3zM262.5 528.65h3v3h-3zM238.5 531.65h3v3h-3zM253.5 531.65h6v3h-6zM223.5 534.65h3v3h-3zM133.5 537.65h3v3h-3zM142.5 537.65h3v3h-3zM334.5 537.65h3v3h-3zM187.5 543.65h3v3h-3zM307.5 543.65h6v3h-6zM202.5 546.65h3v3h-3zM217.5 546.65h3v3h-3zM304.5 546.65h3v3h-3zM268.5 552.65h3v3h-3zM163.5 555.65h3v3h-3zM220.5 555.65h3v3h-3zM106.5 558.65h3v3h-3zM280.5 558.65h3v3h-3zM334.5 558.65h6v3h-6zM346.5 561.65h3v3h-3zM109.5 564.65h3v3h-3zM136.5 564.65h3v3h-3zM193.5 564.65h3v3h-3zM112.5 567.65h3v3h-3zM166.5 567.65h3v3h-3zM229.5 567.65h3v3h-3zM256.5 567.65h3v3h-3zM361.5 567.65h3v3h-3zM103.5 570.65h3v3h-3zM244.5 570.65h3v3h-3zM208.5 573.65h6v3h-6zM364.5 573.65h3v3h-3zM211.5 576.65h3v3h-3zM310.5 579.65h3v3h-3zM370.5 579.65h3v3h-3zM148.5 585.65h3v3h-3zM334.5 585.65h6v3h-6zM253.5 588.65h3v3h-3zM295.5 588.65h3v3h-3zM127.5 591.65h3v3h-3zM148.5 591.65h3v3h-3zM157.5 594.65h3v3h-3zM262.5 594.65h3v3h-3zM139.5 597.65h3v3h-3zM115.5 600.65h3v3h-3zM85.5 603.65h3v3h-3zM142.5 603.65h3v3h-3zM256.5 603.65h3v3h-3zM280.5 606.65h3v3h-3zM298.5 606.65h3v3h-3zM352.5 606.65h3v3h-3zM376.5 606.65h3v3h-3zM208.5 609.65h3v3h-3zM85.5 612.65h3v3h-3zM133.5 612.65h6v3h-6zM85.5 618.65h3v3h-3zM124.5 618.65h3v3h-3zM157.5 618.65h3v3h-3zM322.5 618.65h3v3h-3zM193.5 621.65h3v3h-3zM271.5 621.65h3v3h-3zM277.5 621.65h6v3h-6zM331.5 621.65h3v3h-3zM127.5 624.65h3v3h-3zM154.5 624.65h3v3h-3zM196.5 624.65h3v3h-3zM208.5 624.65h3v3h-3zM274.5 624.65h3v3h-3zM280.5 624.65h3v3h-3zM127.5 627.65h3v3h-3zM232.5 627.65h3v3h-3zM160.5 630.65h3v3h-3zM190.5 630.65h3v3h-3zM229.5 630.65h3v3h-3zM148.5 633.65h3v3h-3zM244.5 633.65h3v3h-3zM115.5 636.65h3v3h-3zM175.5 636.65h3v3h-3zM214.5 636.65h3v3h-3zM235.5 636.65h3v3h-3zM229.5 639.65h3v3h-3zM346.5 639.65h3v3h-3zM115.5 642.65h3v3h-3zM337.5 642.65h3v3h-3zM112.5 645.65h3v3h-3zM343.5 645.65h3v3h-3zM115.5 648.65h3v3h-3z"/>
<path fill="rgb(14,14,14)" d="M85.5 357.65h3v3h-3zM127.5 357.65h3v3h-3zM250.5 357.65h6v3h-6zM247.5 360.65h3v3h-3zM277.5 360.65h3v3h-3zM97.5 363.65h3v3h-3zM181.5 363.65h3v3h-3zM256.5 363.65h3v3h-3zM181.5 366.65h3v3h-3zM301.5 366.65h3v3h-3zM310.5 366.65h3v3h-3zM310.5 369.65h3v3h-3zM121.5 375.65h3v3h-3zM334.5 375.65h3v3h-3zM142.5 381.65h6v3h-6zM160.5 381.65h3v3h-3zM193.5 381.65h3v3h-3zM91.5 384.65h3v3h-3zM142.5 384.65h3v3h-3zM193.5 384.65h3v3h-3zM286.5 384.65h3v3h-3zM91.5 387.65h3v3h-3zM355.5 390.65h3v3h-3zM355.5 393.65h3v3h-3zM109.5 396.65h3v3h-3zM169.5 396.65h3v3h-3zM220.5 396.65h3v3h-3zM226.5 396.65h3v3h-3zM292.5 396.65h6v3h-6zM304.5 396.65h3v3h-3zM340.5 396.65h3v3h-3zM226.5 399.65h3v3h-3zM265.5 399.65h3v3h-3zM352.5 399.65h3v3h-3zM151.5 402.65h3v3h-3zM196.5 402.65h3v3h-3zM202.5 402.65h3v3h-3zM238.5 402.65h3v3h-3zM328.5 402.65h3v3h-3zM103.5 405.65h3v3h-3zM127.5 405.65h3v3h-3zM274.5 405.65h3v3h-3zM331.5 405.65h3v3h-3zM106.5 408.65h3v3h-3zM154.5 408.65h3v3h-3zM262.5 408.65h3v3h-3zM121.5 411.65h3v3h-3zM199.5 411.65h3v3h-3zM304.5 411.65h3v3h-3zM271.5 414.65h3v3h-3zM322.5 414.65h3v3h-3zM355.5 417.65h3v3h-3zM100.5 420.65h3v3h-3zM283.5 420.65h3v3h-3zM355.5 420.65h3v3h-3zM253.5 423.65h3v3h-3zM286.5 423.65h3v3h-3zM283.5 426.65h3v3h-3zM328.5 426.65h3v3h-3zM142.5 432.65h6v3h-6zM178.5 432.65h3v3h-3zM190.5 432.65h3v3h-3zM148.5 435.65h3v3h-3zM289.5 435.65h3v3h-3zM121.5 438.65h3v3h-3zM130.5 438.65h3v3h-3zM295.5 438.65h9v3h-9zM214.5 441.65h3v3h-3zM109.5 444.65h3v3h-3zM214.5 444.65h3v3h-3zM268.5 444.65h6v3h-6zM295.5 444.65h3v3h-3zM172.5 447.65h3v3h-3zM226.5 447.65h3v3h-3zM130.5 450.65h3v3h-3zM220.5 450.65h3v3h-3zM250.5 453.65h3v3h-3zM313.5 453.65h3v3h-3zM256.5 456.65h3v3h-3zM289.5 456.65h3v3h-3zM88.5 462.65h3v3h-3zM142.5 462.65h3v3h-3zM238.5 462.65h3v3h-3zM304.5 462.65h3v3h-3zM238.5 465.65h3v3h-3zM268.5 465.65h6v3h-6zM121.5 468.65h3v3h-3zM130.5 468.65h3v3h-3zM325.5 468.65h3v3h-3zM88.5 471.65h6v3h-6zM148.5 471.65h9v3h-9zM343.5 471.65h3v3h-3zM358.5 471.65h3v3h-3zM364.5 471.65h3v3h-3zM373.5 471.65h3v3h-3zM121.5 474.65h3v3h-3zM286.5 474.65h3v3h-3zM373.5 477.65h3v3h-3zM283.5 480.65h3v3h-3zM109.5 483.65h3v3h-3zM211.5 483.65h3v3h-3zM289.5 486.65h3v3h-3zM337.5 486.65h3v3h-3zM370.5 486.65h3v3h-3zM283.5 489.65h3v3h-3zM289.5 489.65h3v3h-3zM106.5 492.65h3v3h-3zM220.5 492.65h3v3h-3zM229.5 492.65h3v3h-3zM298.5 492.65h3v3h-3zM145.5 495.65h3v3h-3zM214.5 495.65h6v3h-6zM313.5 495.65h3v3h-3zM142.5 498.65h3v3h-3zM193.5 498.65h3v3h-3zM277.5 498.65h6v3h-6zM343.5 498.65h3v3h-3zM196.5 501.65h3v3h-3zM283.5 501.65h3v3h-3zM304.5 501.65h3v3h-3zM100.5 504.65h3v3h-3zM193.5 504.65h3v3h-3zM370.5 504.65h3v3h-3zM214.5 507.65h3v3h-3zM205.5 510.65h6v3h-6zM220.5 510.65h6v3h-6zM340.5 510.65h3v3h-3zM133.5 513.65h3v3h-3zM346.5 516.65h3v3h-3zM361.5 516.65h3v3h-3zM160.5 522.65h3v3h-3zM292.5 522.65h3v3h-3zM325.5 522.65h3v3h-3zM340.5 522.65h3v3h-3zM364.5 522.65h3v3h-3zM295.5 525.65h3v3h-3zM97.5 528.65h3v3h-3zM124.5 528.65h3v3h-3zM157.5 528.65h3v3h-3zM310.5 528.65h3v3h-3zM94.5 531.65h3v3h-3zM343.5 531.65h3v3h-3zM214.5 537.65h3v3h-3zM232.5 537.65h3v3h-3zM103.5 540.65h3v3h-3zM184.5 540.65h3v3h-3zM310.5 540.65h3v3h-3zM361.5 540.65h3v3h-3zM136.5 543.65h3v3h-3zM166.5 543.65h3v3h-3zM196.5 543.65h6v3h-6zM361.5 543.65h3v3h-3zM124.5 546.65h3v3h-3zM220.5 546.65h3v3h-3zM301.5 546.65h3v3h-3zM154.5 549.65h3v3h-3zM304.5 552.65h3v3h-3zM94.5 555.65h3v3h-3zM109.5 555.65h3v3h-3zM109.5 558.65h3v3h-3zM283.5 558.65h3v3h-3zM109.5 561.65h3v3h-3zM160.5 561.65h3v3h-3zM169.5 561.65h3v3h-3zM331.5 561.65h3v3h-3zM199.5 564.65h3v3h-3zM301.5 564.65h3v3h-3zM94.5 567.65h3v3h-3zM304.5 567.65h3v3h-3zM373.5 567.65h3v3h-3zM226.5 570.65h3v3h-3zM343.5 570.65h3v3h-3zM88.5 573.65h3v3h-3zM103.5 573.65h3v3h-3zM166.5 573.65h3v3h-3zM196.5 573.65h3v3h-3zM298.5 573.65h3v3h-3zM310.5 573.65h3v3h-3zM343.5 573.65h3v3h-3zM370.5 573.65h3v3h-3zM274.5 576.65h3v3h-3zM115.5 579.65h3v3h-3zM238.5 579.65h3v3h-3zM349.5 579.65h3v3h-3zM91.5 582.65h3v3h-3zM130.5 582.65h3v3h-3zM235.5 582.65h3v3h-3zM208.5 585.65h3v3h-3zM259.5 585.65h3v3h-3zM295.5 585.65h3v3h-3zM136.5 588.65h3v3h-3zM151.5 591.65h6v3h-6zM184.5 591.65h3v3h-3zM226.5 591.65h3v3h-3zM295.5 591.65h3v3h-3zM136.5 600.65h3v3h-3zM88.5 603.65h3v3h-3zM112.5 603.65h3v3h-3zM160.5 603.65h3v3h-3zM208.5 603.65h3v3h-3zM352.5 603.65h3v3h-3zM142.5 606.65h3v3h-3zM196.5 606.65h3v3h-3zM124.5 609.65h3v3h-3zM241.5 609.65h3v3h-3zM280.5 609.65h3v3h-3zM295.5 609.65h3v3h-3zM121.5 612.65h3v3h-3zM151.5 612.65h6v3h-6zM166.5 612.65h3v3h-3zM316.5 612.65h3v3h-3zM106.5 615.65h3v3h-3zM157.5 615.65h3v3h-3zM319.5 615.65h3v3h-3zM343.5 615.65h3v3h-3zM91.5 618.65h3v3h-3zM127.5 618.65h3v3h-3zM160.5 618.65h3v3h-3zM193.5 618.65h6v3h-6zM205.5 618.65h3v3h-3zM277.5 618.65h3v3h-3zM289.5 618.65h3v3h-3zM283.5 621.65h3v3h-3zM289.5 621.65h3v3h-3zM193.5 624.65h3v3h-3zM283.5 624.65h9v3h-9zM226.5 627.65h3v3h-3zM235.5 627.65h3v3h-3zM208.5 630.65h3v3h-3zM223.5 630.65h3v3h-3zM271.5 630.65h3v3h-3zM103.5 633.65h3v3h-3zM190.5 633.65h3v3h-3zM220.5 633.65h3v3h-3zM328.5 633.65h3v3h-3zM373.5 633.65h3v3h-3zM211.5 636.65h3v3h-3zM106.5 639.65h3v3h-3zM232.5 639.65h3v3h-3zM334.5 639.65h6v3h-6zM139.5 645.65h3v3h-3zM370.5 645.65h3v3h-3zM109.5 648.65h3v3h-3zM130.5 648.65h3v3h-3zM346.5 648.65h3v3h-3z"/>
<path fill="rgb(16,16,16)" d="M112.5 357.65h3v3h-3zM181.5 357.65h6v3h-6zM232.5 357.65h3v3h-3zM130.5 360.65h3v3h-3zM208.5 360.65h3v3h-3zM274.5 360.65h3v3h-3zM178.5 363.65h3v3h-3zM349.5 363.65h3v3h-3zM355.5 363.65h3v3h-3zM367.5 363.65h3v3h-3zM238.5 366.65h3v3h-3zM256.5 369.65h6v3h-6zM97.5 372.65h3v3h-3zM154.5 372.65h3v3h-3zM292.5 372.65h3v3h-3zM355.5 372.65h3v3h-3zM283.5 375.65h3v3h-3zM331.5 375.65h3v3h-3zM118.5 378.65h3v3h-3zM160.5 378.65h3v3h-3zM193.5 378.65h6v3h-6zM214.5 378.65h6v3h-6zM283.5 378.65h3v3h-3zM331.5 378.65h3v3h-3zM157.5 381.65h3v3h-3zM196.5 381.65h3v3h-3zM280.5 381.65h6v3h-6zM349.5 381.65h3v3h-3zM172.5 384.65h3v3h-3zM211.5 384.65h3v3h-3zM232.5 384.65h3v3h-3zM283.5 384.65h3v3h-3zM358.5 384.65h3v3h-3zM94.5 387.65h3v3h-3zM169.5 387.65h3v3h-3zM133.5 390.65h3v3h-3zM142.5 390.65h3v3h-3zM136.5 393.65h3v3h-3zM292.5 393.65h3v3h-3zM247.5 396.65h3v3h-3zM253.5 396.65h3v3h-3zM310.5 396.65h3v3h-3zM340.5 399.65h3v3h-3zM331.5 402.65h3v3h-3zM85.5 408.65h3v3h-3zM109.5 408.65h3v3h-3zM187.5 408.65h3v3h-3zM202.5 408.65h3v3h-3zM337.5 408.65h3v3h-3zM364.5 408.65h3v3h-3zM163.5 411.65h3v3h-3zM181.5 411.65h3v3h-3zM376.5 411.65h3v3h-3zM103.5 414.65h3v3h-3zM109.5 414.65h3v3h-3zM94.5 417.65h3v3h-3zM118.5 417.65h3v3h-3zM307.5 417.65h3v3h-3zM118.5 420.65h3v3h-3zM346.5 420.65h3v3h-3zM112.5 423.65h3v3h-3zM343.5 423.65h3v3h-3zM139.5 426.65h3v3h-3zM202.5 426.65h3v3h-3zM115.5 429.65h3v3h-3zM145.5 429.65h3v3h-3zM301.5 429.65h3v3h-3zM100.5 435.65h3v3h-3zM142.5 435.65h6v3h-6zM154.5 435.65h3v3h-3zM196.5 435.65h3v3h-3zM226.5 435.65h3v3h-3zM292.5 435.65h3v3h-3zM172.5 438.65h6v3h-6zM193.5 438.65h6v3h-6zM91.5 441.65h3v3h-3zM124.5 441.65h3v3h-3zM160.5 441.65h3v3h-3zM295.5 441.65h3v3h-3zM253.5 444.65h3v3h-3zM262.5 444.65h3v3h-3zM130.5 447.65h3v3h-3zM142.5 447.65h3v3h-3zM160.5 447.65h3v3h-3zM175.5 447.65h3v3h-3zM259.5 447.65h6v3h-6zM295.5 447.65h3v3h-3zM133.5 450.65h3v3h-3zM298.5 450.65h3v3h-3zM340.5 450.65h3v3h-3zM136.5 453.65h3v3h-3zM190.5 453.65h3v3h-3zM151.5 456.65h3v3h-3zM277.5 456.65h3v3h-3zM283.5 456.65h3v3h-3zM172.5 459.65h6v3h-6zM235.5 459.65h3v3h-3zM133.5 462.65h3v3h-3zM235.5 462.65h3v3h-3zM322.5 462.65h3v3h-3zM367.5 462.65h3v3h-3zM316.5 465.65h3v3h-3zM325.5 465.65h3v3h-3zM118.5 468.65h3v3h-3zM232.5 468.65h3v3h-3zM313.5 468.65h3v3h-3zM346.5 468.65h3v3h-3zM361.5 468.65h3v3h-3zM373.5 468.65h3v3h-3zM157.5 471.65h3v3h-3zM199.5 471.65h3v3h-3zM331.5 471.65h3v3h-3zM112.5 474.65h3v3h-3zM124.5 474.65h3v3h-3zM247.5 474.65h3v3h-3zM271.5 474.65h3v3h-3zM115.5 477.65h3v3h-3zM133.5 477.65h3v3h-3zM193.5 477.65h3v3h-3zM283.5 477.65h3v3h-3zM367.5 477.65h3v3h-3zM109.5 480.65h3v3h-3zM265.5 480.65h3v3h-3zM211.5 486.65h3v3h-3zM283.5 486.65h3v3h-3zM313.5 486.65h3v3h-3zM103.5 489.65h3v3h-3zM208.5 489.65h3v3h-3zM220.5 489.65h3v3h-3zM358.5 489.65h3v3h-3zM91.5 492.65h3v3h-3zM217.5 492.65h3v3h-3zM109.5 495.65h3v3h-3zM316.5 495.65h3v3h-3zM163.5 498.65h3v3h-3zM286.5 498.65h3v3h-3zM298.5 498.65h3v3h-3zM370.5 498.65h3v3h-3zM142.5 501.65h3v3h-3zM184.5 501.65h3v3h-3zM211.5 501.65h3v3h-3zM274.5 501.65h3v3h-3zM298.5 501.65h3v3h-3zM310.5 501.65h3v3h-3zM145.5 504.65h3v3h-3zM187.5 504.65h3v3h-3zM214.5 504.65h3v3h-3zM220.5 504.65h3v3h-3zM355.5 504.65h3v3h-3zM112.5 507.65h3v3h-3zM199.5 507.65h3v3h-3zM217.5 507.65h3v3h-3zM223.5 507.65h3v3h-3zM247.5 507.65h3v3h-3zM283.5 507.65h3v3h-3zM106.5 510.65h3v3h-3zM106.5 513.65h3v3h-3zM337.5 513.65h3v3h-3zM352.5 513.65h6v3h-6zM310.5 516.65h3v3h-3zM100.5 519.65h3v3h-3zM235.5 519.65h3v3h-3zM310.5 519.65h3v3h-3zM364.5 519.65h3v3h-3zM232.5 522.65h3v3h-3zM328.5 522.65h3v3h-3zM226.5 525.65h3v3h-3zM247.5 525.65h3v3h-3zM292.5 525.65h3v3h-3zM319.5 525.65h3v3h-3zM142.5 528.65h3v3h-3zM211.5 528.65h3v3h-3zM238.5 528.65h3v3h-3zM250.5 528.65h3v3h-3zM307.5 528.65h3v3h-3zM340.5 528.65h3v3h-3zM97.5 531.65h3v3h-3zM211.5 531.65h3v3h-3zM340.5 531.65h3v3h-3zM145.5 534.65h3v3h-3zM253.5 534.65h3v3h-3zM337.5 534.65h3v3h-3zM160.5 537.65h3v3h-3zM193.5 537.65h3v3h-3zM244.5 537.65h3v3h-3zM115.5 540.65h3v3h-3zM127.5 540.65h3v3h-3zM280.5 540.65h3v3h-3zM121.5 543.65h3v3h-3zM133.5 543.65h3v3h-3zM205.5 543.65h6v3h-6zM118.5 546.65h3v3h-3zM157.5 546.65h3v3h-3zM166.5 546.65h3v3h-3zM208.5 549.65h3v3h-3zM217.5 549.65h3v3h-3zM346.5 552.65h6v3h-6zM196.5 555.65h3v3h-3zM268.5 555.65h3v3h-3zM274.5 555.65h3v3h-3zM343.5 555.65h3v3h-3zM133.5 558.65h3v3h-3zM277.5 558.65h3v3h-3zM115.5 561.65h3v3h-3zM370.5 561.65h3v3h-3zM154.5 564.65h3v3h-3zM265.5 564.65h3v3h-3zM298.5 564.65h3v3h-3zM163.5 567.65h3v3h-3zM220.5 567.65h3v3h-3zM346.5 567.65h3v3h-3zM196.5 570.65h3v3h-3zM220.5 570.65h3v3h-3zM337.5 570.65h3v3h-3zM142.5 573.65h3v3h-3zM214.5 573.65h6v3h-6zM250.5 573.65h6v3h-6zM265.5 573.65h3v3h-3zM133.5 576.65h3v3h-3zM169.5 576.65h3v3h-3zM310.5 576.65h3v3h-3zM367.5 576.65h3v3h-3zM346.5 579.65h3v3h-3zM373.5 579.65h3v3h-3zM112.5 582.65h3v3h-3zM202.5 582.65h3v3h-3zM214.5 582.65h3v3h-3zM238.5 582.65h3v3h-3zM136.5 585.65h3v3h-3zM175.5 585.65h3v3h-3zM151.5 588.65h3v3h-3zM190.5 588.65h3v3h-3zM220.5 588.65h3v3h-3zM265.5 588.65h3v3h-3zM172.5 591.65h3v3h-3zM211.5 591.65h3v3h-3zM298.5 591.65h3v3h-3zM184.5 594.65h3v3h-3zM295.5 594.65h3v3h-3zM190.5 597.65h3v3h-3zM127.5 600.65h3v3h-3zM151.5 600.65h3v3h-3zM124.5 606.65h3v3h-3zM199.5 606.65h6v3h-6zM304.5 612.65h3v3h-3zM133.5 615.65h3v3h-3zM304.5 615.65h3v3h-3zM133.5 618.65h3v3h-3zM235.5 618.65h3v3h-3zM280.5 618.65h3v3h-3zM91.5 621.65h3v3h-3zM196.5 621.65h3v3h-3zM211.5 621.65h3v3h-3zM262.5 621.65h3v3h-3zM286.5 621.65h3v3h-3zM322.5 621.65h3v3h-3zM199.5 624.65h3v3h-3zM310.5 624.65h3v3h-3zM328.5 624.65h3v3h-3zM193.5 627.65h3v3h-3zM199.5 627.65h3v3h-3zM208.5 627.65h3v3h-3zM244.5 627.65h3v3h-3zM283.5 627.65h3v3h-3zM325.5 627.65h3v3h-3zM142.5 630.65h3v3h-3zM184.5 630.65h3v3h-3zM193.5 630.65h3v3h-3zM202.5 630.65h3v3h-3zM226.5 630.65h3v3h-3zM283.5 630.65h3v3h-3zM106.5 633.65h3v3h-3zM157.5 636.65h3v3h-3zM208.5 636.65h3v3h-3zM226.5 636.65h3v3h-3zM280.5 636.65h3v3h-3zM316.5 636.65h3v3h-3zM175.5 639.65h3v3h-3zM301.5 639.65h3v3h-3zM121.5 642.65h3v3h-3zM229.5 642.65h3v3h-3zM355.5 645.65h3v3h-3z"/>
<path fill="rgb(18,18,18)" d="M280.5 357.65h3v3h-3zM292.5 357.65h3v3h-3zM127.5 360.65h3v3h-3zM178.5 360.65h3v3h-3zM241.5 360.65h3v3h-3zM214.5 363.65h3v3h-3zM352.5 366.65h3v3h-3zM367.5 366.65h3v3h-3zM376.5 366.65h3v3h-3zM127.5 369.65h3v3h-3zM352.5 369.65h3v3h-3zM190.5 372.65h3v3h-3zM148.5 375.65h3v3h-3zM103.5 378.65h3v3h-3zM148.5 378.65h3v3h-3zM211.5 378.65h3v3h-3zM280.5 378.65h3v3h-3zM118.5 381.65h3v3h-3zM322.5 381.65h3v3h-3zM175.5 384.65h3v3h-3zM235.5 384.65h3v3h-3zM142.5 387.65h3v3h-3zM97.5 390.65h3v3h-3zM124.5 390.65h3v3h-3zM175.5 390.65h3v3h-3zM247.5 390.65h3v3h-3zM103.5 393.65h3v3h-3zM139.5 393.65h3v3h-3zM214.5 393.65h3v3h-3zM220.5 393.65h3v3h-3zM250.5 393.65h3v3h-3zM289.5 393.65h3v3h-3zM358.5 393.65h3v3h-3zM85.5 396.65h3v3h-3zM163.5 396.65h3v3h-3zM250.5 396.65h3v3h-3zM352.5 396.65h3v3h-3zM220.5 399.65h3v3h-3zM244.5 399.65h3v3h-3zM310.5 399.65h3v3h-3zM361.5 399.65h3v3h-3zM103.5 402.65h3v3h-3zM205.5 402.65h3v3h-3zM121.5 405.65h3v3h-3zM202.5 405.65h3v3h-3zM304.5 405.65h3v3h-3zM355.5 405.65h3v3h-3zM184.5 408.65h3v3h-3zM325.5 408.65h3v3h-3zM88.5 411.65h3v3h-3zM301.5 411.65h3v3h-3zM106.5 414.65h3v3h-3zM256.5 417.65h3v3h-3zM271.5 417.65h3v3h-3zM289.5 417.65h3v3h-3zM301.5 420.65h3v3h-3zM202.5 423.65h3v3h-3zM268.5 423.65h3v3h-3zM277.5 426.65h6v3h-6zM346.5 426.65h3v3h-3zM103.5 429.65h3v3h-3zM169.5 429.65h6v3h-6zM205.5 429.65h3v3h-3zM265.5 429.65h3v3h-3zM100.5 432.65h3v3h-3zM169.5 432.65h3v3h-3zM220.5 432.65h3v3h-3zM262.5 432.65h3v3h-3zM118.5 435.65h3v3h-3zM190.5 435.65h3v3h-3zM208.5 435.65h3v3h-3zM280.5 438.65h3v3h-3zM133.5 441.65h3v3h-3zM127.5 444.65h3v3h-3zM265.5 444.65h3v3h-3zM115.5 447.65h3v3h-3zM139.5 447.65h3v3h-3zM214.5 447.65h3v3h-3zM250.5 447.65h3v3h-3zM136.5 450.65h3v3h-3zM247.5 450.65h6v3h-6zM265.5 450.65h3v3h-3zM313.5 450.65h3v3h-3zM133.5 453.65h3v3h-3zM145.5 453.65h3v3h-3zM271.5 453.65h3v3h-3zM289.5 453.65h3v3h-3zM139.5 456.65h3v3h-3zM304.5 456.65h6v3h-6zM145.5 459.65h3v3h-3zM271.5 459.65h3v3h-3zM289.5 459.65h3v3h-3zM364.5 459.65h3v3h-3zM148.5 462.65h3v3h-3zM271.5 462.65h3v3h-3zM121.5 465.65h3v3h-3zM190.5 465.65h3v3h-3zM235.5 465.65h3v3h-3zM256.5 465.65h3v3h-3zM280.5 465.65h3v3h-3zM106.5 468.65h3v3h-3zM160.5 468.65h3v3h-3zM319.5 468.65h6v3h-6zM367.5 468.65h3v3h-3zM145.5 471.65h3v3h-3zM370.5 471.65h3v3h-3zM253.5 474.65h3v3h-3zM277.5 474.65h3v3h-3zM343.5 474.65h3v3h-3zM367.5 474.65h3v3h-3zM373.5 474.65h3v3h-3zM331.5 477.65h3v3h-3zM340.5 477.65h3v3h-3zM130.5 480.65h6v3h-6zM268.5 480.65h3v3h-3zM301.5 480.65h6v3h-6zM112.5 483.65h3v3h-3zM181.5 483.65h3v3h-3zM229.5 483.65h3v3h-3zM220.5 486.65h3v3h-3zM85.5 489.65h3v3h-3zM319.5 489.65h3v3h-3zM337.5 489.65h6v3h-6zM352.5 489.65h3v3h-3zM361.5 489.65h3v3h-3zM112.5 492.65h3v3h-3zM280.5 492.65h3v3h-3zM289.5 492.65h3v3h-3zM340.5 492.65h3v3h-3zM100.5 495.65h3v3h-3zM364.5 495.65h3v3h-3zM145.5 498.65h3v3h-3zM214.5 498.65h3v3h-3zM319.5 498.65h3v3h-3zM100.5 501.65h3v3h-3zM187.5 501.65h3v3h-3zM205.5 501.65h3v3h-3zM301.5 501.65h3v3h-3zM328.5 501.65h3v3h-3zM133.5 504.65h3v3h-3zM142.5 504.65h3v3h-3zM196.5 504.65h3v3h-3zM244.5 504.65h3v3h-3zM271.5 504.65h3v3h-3zM94.5 507.65h3v3h-3zM124.5 507.65h3v3h-3zM286.5 510.65h3v3h-3zM337.5 510.65h3v3h-3zM352.5 510.65h3v3h-3zM343.5 513.65h3v3h-3zM124.5 516.65h3v3h-3zM133.5 516.65h3v3h-3zM154.5 516.65h3v3h-3zM223.5 516.65h3v3h-3zM256.5 516.65h3v3h-3zM298.5 516.65h3v3h-3zM130.5 519.65h3v3h-3zM340.5 519.65h3v3h-3zM103.5 522.65h3v3h-3zM112.5 522.65h3v3h-3zM97.5 525.65h3v3h-3zM118.5 525.65h3v3h-3zM136.5 525.65h6v3h-6zM328.5 525.65h3v3h-3zM91.5 528.65h3v3h-3zM259.5 528.65h3v3h-3zM178.5 531.65h3v3h-3zM244.5 531.65h3v3h-3zM259.5 531.65h3v3h-3zM106.5 534.65h3v3h-3zM211.5 534.65h3v3h-3zM226.5 534.65h3v3h-3zM232.5 534.65h3v3h-3zM112.5 537.65h6v3h-6zM178.5 537.65h3v3h-3zM220.5 537.65h3v3h-3zM118.5 540.65h6v3h-6zM196.5 540.65h3v3h-3zM115.5 543.65h6v3h-6zM223.5 543.65h3v3h-3zM355.5 543.65h3v3h-3zM136.5 546.65h3v3h-3zM154.5 546.65h3v3h-3zM163.5 546.65h3v3h-3zM211.5 546.65h3v3h-3zM325.5 546.65h3v3h-3zM355.5 546.65h3v3h-3zM94.5 552.65h3v3h-3zM103.5 552.65h3v3h-3zM202.5 552.65h3v3h-3zM133.5 555.65h3v3h-3zM190.5 555.65h6v3h-6zM283.5 555.65h3v3h-3zM94.5 558.65h3v3h-3zM274.5 558.65h3v3h-3zM112.5 561.65h3v3h-3zM166.5 561.65h3v3h-3zM349.5 561.65h3v3h-3zM112.5 564.65h3v3h-3zM157.5 564.65h3v3h-3zM217.5 564.65h3v3h-3zM226.5 564.65h3v3h-3zM376.5 564.65h3v3h-3zM208.5 567.65h3v3h-3zM139.5 570.65h3v3h-3zM310.5 570.65h3v3h-3zM85.5 573.65h3v3h-3zM175.5 573.65h3v3h-3zM373.5 573.65h3v3h-3zM172.5 576.65h3v3h-3zM238.5 576.65h3v3h-3zM370.5 576.65h3v3h-3zM130.5 579.65h3v3h-3zM166.5 579.65h3v3h-3zM193.5 579.65h3v3h-3zM292.5 579.65h3v3h-3zM367.5 579.65h3v3h-3zM94.5 582.65h3v3h-3zM133.5 582.65h3v3h-3zM232.5 582.65h3v3h-3zM274.5 582.65h6v3h-6zM295.5 582.65h6v3h-6zM328.5 582.65h6v3h-6zM373.5 582.65h3v3h-3zM205.5 585.65h3v3h-3zM217.5 585.65h3v3h-3zM229.5 585.65h3v3h-3zM256.5 585.65h3v3h-3zM298.5 585.65h3v3h-3zM331.5 585.65h3v3h-3zM187.5 588.65h3v3h-3zM214.5 591.65h3v3h-3zM223.5 591.65h3v3h-3zM253.5 591.65h3v3h-3zM112.5 594.65h6v3h-6zM151.5 594.65h3v3h-3zM151.5 597.65h3v3h-3zM193.5 597.65h3v3h-3zM118.5 600.65h3v3h-3zM142.5 600.65h3v3h-3zM205.5 603.65h3v3h-3zM244.5 603.65h6v3h-6zM109.5 606.65h3v3h-3zM253.5 609.65h3v3h-3zM319.5 609.65h3v3h-3zM88.5 612.65h3v3h-3zM94.5 612.65h3v3h-3zM106.5 612.65h3v3h-3zM205.5 612.65h3v3h-3zM295.5 612.65h3v3h-3zM91.5 615.65h6v3h-6zM124.5 615.65h9v3h-9zM163.5 615.65h3v3h-3zM235.5 615.65h3v3h-3zM271.5 615.65h3v3h-3zM301.5 615.65h3v3h-3zM151.5 618.65h6v3h-6zM268.5 618.65h3v3h-3zM121.5 621.65h3v3h-3zM127.5 621.65h3v3h-3zM91.5 624.65h3v3h-3zM247.5 624.65h3v3h-3zM307.5 624.65h3v3h-3zM85.5 627.65h3v3h-3zM196.5 627.65h3v3h-3zM316.5 627.65h3v3h-3zM211.5 630.65h3v3h-3zM142.5 633.65h6v3h-6zM181.5 633.65h3v3h-3zM304.5 633.65h3v3h-3zM106.5 636.65h3v3h-3zM205.5 636.65h3v3h-3zM217.5 636.65h3v3h-3zM259.5 636.65h3v3h-3zM151.5 639.65h3v3h-3zM226.5 639.65h3v3h-3zM331.5 639.65h3v3h-3zM133.5 642.65h6v3h-6zM100.5 645.65h3v3h-3zM109.5 645.65h3v3h-3zM115.5 645.65h3v3h-3zM229.5 645.65h6v3h-6zM367.5 648.65h3v3h-3z"/>
<path fill="rgb(20,20,20)" d="M109.5 360.65h3v3h-3zM121.5 360.65h3v3h-3zM184.5 360.65h3v3h-3zM238.5 360.65h3v3h-3zM316.5 360.65h3v3h-3zM346.5 360.65h3v3h-3zM85.5 363.65h6v3h-6zM301.5 363.65h9v3h-9zM370.5 363.65h3v3h-3zM226.5 366.65h3v3h-3zM250.5 366.65h3v3h-3zM136.5 369.65h3v3h-3zM355.5 369.65h3v3h-3zM364.5 369.65h3v3h-3zM283.5 372.65h3v3h-3zM196.5 375.65h3v3h-3zM205.5 375.65h3v3h-3zM211.5 375.65h3v3h-3zM319.5 375.65h3v3h-3zM319.5 378.65h3v3h-3zM319.5 381.65h3v3h-3zM376.5 381.65h3v3h-3zM376.5 384.65h3v3h-3zM136.5 387.65h3v3h-3zM349.5 387.65h3v3h-3zM127.5 390.65h3v3h-3zM352.5 390.65h3v3h-3zM358.5 390.65h3v3h-3zM94.5 393.65h3v3h-3zM124.5 393.65h3v3h-3zM172.5 393.65h3v3h-3zM268.5 393.65h3v3h-3zM298.5 393.65h3v3h-3zM352.5 393.65h3v3h-3zM289.5 396.65h3v3h-3zM343.5 396.65h3v3h-3zM202.5 399.65h3v3h-3zM277.5 399.65h3v3h-3zM355.5 399.65h3v3h-3zM352.5 402.65h3v3h-3zM364.5 402.65h3v3h-3zM88.5 405.65h3v3h-3zM172.5 405.65h3v3h-3zM88.5 408.65h3v3h-3zM103.5 408.65h3v3h-3zM112.5 408.65h3v3h-3zM169.5 408.65h3v3h-3zM181.5 408.65h3v3h-3zM190.5 408.65h3v3h-3zM205.5 408.65h3v3h-3zM238.5 408.65h3v3h-3zM277.5 408.65h3v3h-3zM304.5 408.65h3v3h-3zM376.5 408.65h3v3h-3zM109.5 411.65h3v3h-3zM193.5 411.65h3v3h-3zM319.5 411.65h3v3h-3zM349.5 411.65h3v3h-3zM94.5 414.65h3v3h-3zM187.5 414.65h3v3h-3zM274.5 414.65h3v3h-3zM289.5 414.65h3v3h-3zM346.5 414.65h3v3h-3zM130.5 417.65h3v3h-3zM190.5 417.65h3v3h-3zM346.5 417.65h3v3h-3zM130.5 420.65h3v3h-3zM307.5 420.65h3v3h-3zM85.5 423.65h6v3h-6zM103.5 423.65h3v3h-3zM118.5 423.65h3v3h-3zM127.5 423.65h3v3h-3zM151.5 423.65h6v3h-6zM289.5 423.65h3v3h-3zM148.5 426.65h3v3h-3zM274.5 426.65h3v3h-3zM286.5 426.65h3v3h-3zM301.5 426.65h3v3h-3zM217.5 429.65h3v3h-3zM223.5 432.65h6v3h-6zM139.5 435.65h3v3h-3zM160.5 438.65h3v3h-3zM238.5 438.65h3v3h-3zM265.5 438.65h3v3h-3zM304.5 438.65h3v3h-3zM319.5 438.65h3v3h-3zM196.5 441.65h3v3h-3zM208.5 441.65h3v3h-3zM271.5 441.65h3v3h-3zM118.5 444.65h3v3h-3zM157.5 444.65h3v3h-3zM163.5 444.65h3v3h-3zM175.5 444.65h3v3h-3zM223.5 444.65h3v3h-3zM337.5 447.65h3v3h-3zM193.5 450.65h3v3h-3zM226.5 450.65h3v3h-3zM292.5 450.65h3v3h-3zM337.5 450.65h3v3h-3zM178.5 453.65h3v3h-3zM253.5 453.65h3v3h-3zM292.5 453.65h3v3h-3zM145.5 456.65h3v3h-3zM292.5 456.65h3v3h-3zM310.5 456.65h3v3h-3zM361.5 456.65h6v3h-6zM142.5 459.65h3v3h-3zM274.5 462.65h3v3h-3zM307.5 462.65h3v3h-3zM94.5 465.65h3v3h-3zM154.5 465.65h3v3h-3zM358.5 465.65h3v3h-3zM235.5 468.65h6v3h-6zM259.5 468.65h3v3h-3zM355.5 468.65h3v3h-3zM97.5 471.65h3v3h-3zM112.5 471.65h3v3h-3zM346.5 471.65h3v3h-3zM103.5 474.65h6v3h-6zM154.5 474.65h6v3h-6zM226.5 474.65h3v3h-3zM109.5 477.65h3v3h-3zM166.5 477.65h3v3h-3zM226.5 477.65h3v3h-3zM115.5 480.65h3v3h-3zM184.5 480.65h3v3h-3zM220.5 480.65h3v3h-3zM280.5 483.65h3v3h-3zM337.5 483.65h3v3h-3zM94.5 489.65h3v3h-3zM115.5 489.65h3v3h-3zM262.5 492.65h3v3h-3zM85.5 495.65h3v3h-3zM106.5 495.65h3v3h-3zM250.5 495.65h3v3h-3zM256.5 495.65h3v3h-3zM103.5 498.65h6v3h-6zM250.5 498.65h3v3h-3zM259.5 498.65h3v3h-3zM265.5 498.65h3v3h-3zM124.5 501.65h3v3h-3zM145.5 501.65h3v3h-3zM181.5 501.65h3v3h-3zM97.5 504.65h3v3h-3zM148.5 504.65h6v3h-6zM184.5 504.65h3v3h-3zM223.5 504.65h3v3h-3zM307.5 504.65h3v3h-3zM148.5 507.65h6v3h-6zM244.5 507.65h3v3h-3zM286.5 507.65h3v3h-3zM358.5 507.65h3v3h-3zM247.5 510.65h3v3h-3zM358.5 510.65h3v3h-3zM154.5 513.65h3v3h-3zM166.5 513.65h3v3h-3zM223.5 513.65h3v3h-3zM115.5 516.65h3v3h-3zM250.5 516.65h3v3h-3zM364.5 516.65h3v3h-3zM154.5 519.65h3v3h-3zM223.5 519.65h3v3h-3zM301.5 519.65h3v3h-3zM349.5 519.65h3v3h-3zM244.5 522.65h3v3h-3zM289.5 522.65h3v3h-3zM295.5 522.65h3v3h-3zM271.5 525.65h3v3h-3zM265.5 528.65h3v3h-3zM316.5 528.65h3v3h-3zM106.5 531.65h3v3h-3zM154.5 531.65h3v3h-3zM250.5 531.65h3v3h-3zM109.5 534.65h3v3h-3zM343.5 534.65h3v3h-3zM145.5 537.65h3v3h-3zM280.5 537.65h3v3h-3zM124.5 540.65h3v3h-3zM160.5 540.65h3v3h-3zM178.5 540.65h3v3h-3zM223.5 540.65h3v3h-3zM247.5 540.65h3v3h-3zM253.5 540.65h3v3h-3zM307.5 540.65h3v3h-3zM124.5 543.65h3v3h-3zM163.5 543.65h3v3h-3zM184.5 543.65h3v3h-3zM202.5 543.65h3v3h-3zM265.5 543.65h3v3h-3zM340.5 543.65h3v3h-3zM187.5 546.65h3v3h-3zM214.5 546.65h3v3h-3zM229.5 546.65h3v3h-3zM334.5 546.65h3v3h-3zM103.5 549.65h3v3h-3zM166.5 549.65h3v3h-3zM109.5 552.65h3v3h-3zM199.5 552.65h3v3h-3zM187.5 558.65h3v3h-3zM106.5 561.65h3v3h-3zM118.5 561.65h3v3h-3zM247.5 561.65h3v3h-3zM298.5 561.65h3v3h-3zM319.5 561.65h3v3h-3zM337.5 561.65h3v3h-3zM106.5 564.65h3v3h-3zM238.5 564.65h3v3h-3zM316.5 564.65h3v3h-3zM160.5 567.65h3v3h-3zM196.5 567.65h3v3h-3zM226.5 567.65h3v3h-3zM352.5 567.65h3v3h-3zM166.5 570.65h3v3h-3zM361.5 570.65h3v3h-3zM94.5 573.65h3v3h-3zM157.5 573.65h3v3h-3zM334.5 573.65h3v3h-3zM196.5 576.65h3v3h-3zM277.5 576.65h3v3h-3zM85.5 579.65h3v3h-3zM163.5 579.65h3v3h-3zM199.5 579.65h3v3h-3zM214.5 579.65h3v3h-3zM229.5 579.65h3v3h-3zM352.5 579.65h3v3h-3zM148.5 582.65h3v3h-3zM190.5 582.65h3v3h-3zM241.5 582.65h3v3h-3zM334.5 582.65h3v3h-3zM370.5 582.65h3v3h-3zM88.5 585.65h3v3h-3zM94.5 585.65h3v3h-3zM193.5 585.65h3v3h-3zM286.5 585.65h3v3h-3zM310.5 585.65h3v3h-3zM193.5 588.65h3v3h-3zM208.5 588.65h3v3h-3zM337.5 588.65h3v3h-3zM229.5 591.65h3v3h-3zM109.5 594.65h3v3h-3zM145.5 594.65h3v3h-3zM142.5 597.65h3v3h-3zM121.5 600.65h6v3h-6zM349.5 600.65h3v3h-3zM91.5 603.65h3v3h-3zM115.5 603.65h6v3h-6zM91.5 606.65h3v3h-3zM160.5 606.65h3v3h-3zM91.5 609.65h3v3h-3zM133.5 609.65h3v3h-3zM193.5 609.65h3v3h-3zM316.5 609.65h3v3h-3zM322.5 609.65h3v3h-3zM328.5 609.65h3v3h-3zM373.5 609.65h6v3h-6zM91.5 612.65h3v3h-3zM124.5 612.65h3v3h-3zM148.5 612.65h3v3h-3zM88.5 615.65h3v3h-3zM160.5 615.65h3v3h-3zM166.5 615.65h3v3h-3zM205.5 615.65h3v3h-3zM274.5 615.65h3v3h-3zM130.5 618.65h3v3h-3zM211.5 618.65h3v3h-3zM304.5 618.65h3v3h-3zM340.5 618.65h3v3h-3zM238.5 621.65h3v3h-3zM334.5 621.65h6v3h-6zM118.5 624.65h3v3h-3zM325.5 624.65h3v3h-3zM229.5 627.65h3v3h-3zM262.5 627.65h3v3h-3zM286.5 627.65h3v3h-3zM85.5 630.65h3v3h-3zM145.5 630.65h6v3h-6zM238.5 630.65h3v3h-3zM247.5 633.65h3v3h-3zM283.5 633.65h3v3h-3zM271.5 636.65h3v3h-3zM130.5 639.65h3v3h-3zM277.5 639.65h3v3h-3zM97.5 642.65h3v3h-3zM232.5 642.65h3v3h-3zM298.5 642.65h3v3h-3zM313.5 642.65h3v3h-3zM328.5 642.65h3v3h-3zM103.5 645.65h3v3h-3zM307.5 645.65h3v3h-3zM358.5 645.65h6v3h-6zM373.5 645.65h3v3h-3zM91.5 648.65h3v3h-3z"/>
<path fill="rgb(22,22,22)" d="M133.5 357.65h3v3h-3zM85.5 360.65h3v3h-3zM112.5 360.65h3v3h-3zM124.5 360.65h3v3h-3zM133.5 360.65h3v3h-3zM244.5 360.65h3v3h-3zM292.5 360.65h3v3h-3zM370.5 360.65h3v3h-3zM211.5 363.65h3v3h-3zM217.5 363.65h3v3h-3zM322.5 363.65h3v3h-3zM85.5 366.65h3v3h-3zM178.5 366.65h3v3h-3zM229.5 366.65h3v3h-3zM235.5 366.65h3v3h-3zM298.5 366.65h3v3h-3zM364.5 366.65h3v3h-3zM181.5 369.65h6v3h-6zM226.5 369.65h3v3h-3zM322.5 369.65h3v3h-3zM88.5 372.65h3v3h-3zM280.5 375.65h3v3h-3zM145.5 378.65h3v3h-3zM208.5 378.65h3v3h-3zM322.5 378.65h3v3h-3zM103.5 381.65h3v3h-3zM154.5 381.65h3v3h-3zM163.5 381.65h3v3h-3zM121.5 384.65h3v3h-3zM133.5 384.65h3v3h-3zM139.5 387.65h3v3h-3zM145.5 387.65h3v3h-3zM358.5 387.65h3v3h-3zM115.5 390.65h3v3h-3zM178.5 390.65h3v3h-3zM226.5 390.65h6v3h-6zM268.5 390.65h3v3h-3zM163.5 393.65h3v3h-3zM232.5 393.65h3v3h-3zM253.5 393.65h3v3h-3zM106.5 396.65h3v3h-3zM112.5 396.65h3v3h-3zM256.5 396.65h3v3h-3zM268.5 396.65h3v3h-3zM355.5 396.65h3v3h-3zM196.5 399.65h3v3h-3zM235.5 399.65h3v3h-3zM253.5 399.65h3v3h-3zM358.5 399.65h3v3h-3zM106.5 402.65h3v3h-3zM223.5 402.65h3v3h-3zM307.5 402.65h3v3h-3zM85.5 405.65h3v3h-3zM199.5 405.65h3v3h-3zM205.5 405.65h3v3h-3zM262.5 405.65h3v3h-3zM301.5 405.65h3v3h-3zM139.5 408.65h3v3h-3zM151.5 408.65h3v3h-3zM163.5 408.65h3v3h-3zM172.5 408.65h3v3h-3zM340.5 408.65h3v3h-3zM142.5 411.65h3v3h-3zM277.5 411.65h3v3h-3zM316.5 411.65h3v3h-3zM112.5 414.65h3v3h-3zM316.5 414.65h3v3h-3zM337.5 414.65h3v3h-3zM355.5 414.65h3v3h-3zM112.5 417.65h3v3h-3zM217.5 417.65h3v3h-3zM274.5 417.65h6v3h-6zM310.5 417.65h3v3h-3zM112.5 420.65h3v3h-3zM217.5 420.65h3v3h-3zM253.5 420.65h3v3h-3zM286.5 420.65h6v3h-6zM139.5 423.65h6v3h-6zM157.5 423.65h3v3h-3zM355.5 423.65h3v3h-3zM94.5 426.65h3v3h-3zM121.5 426.65h3v3h-3zM157.5 426.65h3v3h-3zM205.5 426.65h3v3h-3zM343.5 426.65h3v3h-3zM259.5 429.65h3v3h-3zM91.5 435.65h3v3h-3zM178.5 435.65h3v3h-3zM343.5 435.65h3v3h-3zM106.5 438.65h3v3h-3zM145.5 438.65h3v3h-3zM121.5 441.65h3v3h-3zM175.5 441.65h3v3h-3zM223.5 441.65h3v3h-3zM262.5 441.65h9v3h-9zM274.5 441.65h3v3h-3zM169.5 444.65h3v3h-3zM358.5 444.65h3v3h-3zM304.5 447.65h3v3h-3zM94.5 450.65h3v3h-3zM202.5 450.65h3v3h-3zM289.5 450.65h3v3h-3zM316.5 450.65h3v3h-3zM148.5 453.65h3v3h-3zM283.5 453.65h3v3h-3zM157.5 456.65h3v3h-3zM187.5 456.65h3v3h-3zM235.5 456.65h3v3h-3zM271.5 456.65h3v3h-3zM313.5 456.65h3v3h-3zM196.5 459.65h3v3h-3zM292.5 459.65h3v3h-3zM319.5 462.65h3v3h-3zM337.5 465.65h6v3h-6zM109.5 468.65h3v3h-3zM163.5 468.65h3v3h-3zM208.5 468.65h3v3h-3zM223.5 468.65h3v3h-3zM376.5 468.65h3v3h-3zM127.5 471.65h3v3h-3zM160.5 471.65h3v3h-3zM313.5 471.65h3v3h-3zM328.5 471.65h3v3h-3zM367.5 471.65h3v3h-3zM223.5 477.65h3v3h-3zM289.5 477.65h3v3h-3zM343.5 477.65h3v3h-3zM181.5 480.65h3v3h-3zM262.5 480.65h3v3h-3zM337.5 480.65h3v3h-3zM118.5 483.65h3v3h-3zM202.5 483.65h3v3h-3zM292.5 486.65h3v3h-3zM340.5 486.65h3v3h-3zM322.5 489.65h3v3h-3zM145.5 492.65h3v3h-3zM346.5 492.65h3v3h-3zM355.5 492.65h3v3h-3zM157.5 495.65h3v3h-3zM268.5 495.65h3v3h-3zM298.5 495.65h3v3h-3zM100.5 498.65h3v3h-3zM124.5 498.65h3v3h-3zM181.5 498.65h3v3h-3zM208.5 501.65h3v3h-3zM214.5 501.65h3v3h-3zM256.5 501.65h3v3h-3zM265.5 501.65h3v3h-3zM349.5 501.65h3v3h-3zM373.5 501.65h3v3h-3zM163.5 504.65h3v3h-3zM247.5 504.65h3v3h-3zM283.5 504.65h3v3h-3zM352.5 504.65h3v3h-3zM367.5 504.65h3v3h-3zM124.5 510.65h3v3h-3zM169.5 510.65h3v3h-3zM178.5 510.65h3v3h-3zM211.5 510.65h3v3h-3zM226.5 510.65h3v3h-3zM292.5 510.65h3v3h-3zM91.5 513.65h3v3h-3zM124.5 513.65h3v3h-3zM172.5 513.65h3v3h-3zM205.5 513.65h3v3h-3zM283.5 513.65h3v3h-3zM307.5 513.65h3v3h-3zM358.5 513.65h3v3h-3zM199.5 516.65h3v3h-3zM349.5 516.65h3v3h-3zM358.5 516.65h3v3h-3zM121.5 519.65h3v3h-3zM292.5 519.65h3v3h-3zM94.5 525.65h3v3h-3zM223.5 525.65h3v3h-3zM289.5 525.65h3v3h-3zM376.5 525.65h3v3h-3zM193.5 528.65h3v3h-3zM145.5 531.65h3v3h-3zM181.5 531.65h3v3h-3zM229.5 531.65h3v3h-3zM235.5 531.65h3v3h-3zM247.5 531.65h3v3h-3zM133.5 534.65h3v3h-3zM163.5 534.65h3v3h-3zM121.5 537.65h3v3h-3zM223.5 537.65h3v3h-3zM229.5 537.65h3v3h-3zM253.5 537.65h3v3h-3zM139.5 540.65h3v3h-3zM181.5 540.65h3v3h-3zM199.5 540.65h3v3h-3zM352.5 540.65h3v3h-3zM100.5 543.65h3v3h-3zM130.5 543.65h3v3h-3zM241.5 543.65h3v3h-3zM322.5 543.65h3v3h-3zM352.5 543.65h3v3h-3zM115.5 546.65h3v3h-3zM160.5 546.65h3v3h-3zM199.5 546.65h3v3h-3zM286.5 546.65h3v3h-3zM307.5 546.65h3v3h-3zM115.5 549.65h3v3h-3zM289.5 549.65h3v3h-3zM349.5 549.65h3v3h-3zM271.5 552.65h3v3h-3zM118.5 555.65h3v3h-3zM136.5 555.65h3v3h-3zM199.5 555.65h3v3h-3zM139.5 558.65h3v3h-3zM163.5 558.65h3v3h-3zM316.5 558.65h3v3h-3zM133.5 561.65h3v3h-3zM142.5 561.65h3v3h-3zM226.5 561.65h3v3h-3zM334.5 561.65h3v3h-3zM85.5 564.65h3v3h-3zM115.5 564.65h3v3h-3zM148.5 564.65h6v3h-6zM160.5 564.65h6v3h-6zM190.5 564.65h3v3h-3zM373.5 564.65h3v3h-3zM136.5 567.65h3v3h-3zM232.5 567.65h3v3h-3zM136.5 570.65h3v3h-3zM172.5 570.65h3v3h-3zM283.5 570.65h6v3h-6zM331.5 570.65h3v3h-3zM376.5 570.65h3v3h-3zM172.5 573.65h3v3h-3zM220.5 573.65h3v3h-3zM259.5 573.65h3v3h-3zM175.5 576.65h3v3h-3zM226.5 576.65h3v3h-3zM271.5 576.65h3v3h-3zM94.5 579.65h3v3h-3zM196.5 579.65h3v3h-3zM262.5 579.65h6v3h-6zM376.5 579.65h3v3h-3zM88.5 582.65h3v3h-3zM115.5 582.65h3v3h-3zM196.5 582.65h3v3h-3zM244.5 582.65h3v3h-3zM325.5 582.65h3v3h-3zM376.5 582.65h3v3h-3zM112.5 585.65h3v3h-3zM127.5 588.65h3v3h-3zM184.5 588.65h3v3h-3zM223.5 588.65h3v3h-3zM286.5 588.65h3v3h-3zM121.5 591.65h3v3h-3zM157.5 591.65h3v3h-3zM208.5 591.65h3v3h-3zM217.5 591.65h6v3h-6zM259.5 597.65h3v3h-3zM130.5 600.65h3v3h-3zM259.5 600.65h3v3h-3zM154.5 603.65h3v3h-3zM364.5 603.65h3v3h-3zM376.5 603.65h3v3h-3zM157.5 606.65h3v3h-3zM94.5 609.65h3v3h-3zM142.5 609.65h3v3h-3zM166.5 609.65h3v3h-3zM283.5 609.65h6v3h-6zM304.5 609.65h3v3h-3zM352.5 609.65h3v3h-3zM118.5 612.65h3v3h-3zM130.5 612.65h3v3h-3zM157.5 612.65h3v3h-3zM298.5 612.65h3v3h-3zM94.5 618.65h6v3h-6zM148.5 618.65h3v3h-3zM202.5 618.65h3v3h-3zM283.5 618.65h3v3h-3zM292.5 618.65h3v3h-3zM154.5 621.65h3v3h-3zM202.5 621.65h3v3h-3zM259.5 624.65h3v3h-3zM319.5 624.65h3v3h-3zM343.5 624.65h3v3h-3zM151.5 627.65h3v3h-3zM163.5 627.65h3v3h-3zM190.5 627.65h3v3h-3zM265.5 627.65h3v3h-3zM124.5 630.65h3v3h-3zM100.5 633.65h3v3h-3zM118.5 633.65h3v3h-3zM193.5 633.65h3v3h-3zM226.5 633.65h3v3h-3zM238.5 633.65h3v3h-3zM370.5 633.65h3v3h-3zM283.5 636.65h3v3h-3zM301.5 636.65h3v3h-3zM334.5 636.65h3v3h-3zM97.5 639.65h3v3h-3zM124.5 639.65h3v3h-3zM109.5 642.65h3v3h-3zM181.5 645.65h3v3h-3zM190.5 645.65h3v3h-3zM295.5 645.65h3v3h-3zM334.5 645.65h3v3h-3zM190.5 648.65h6v3h-6zM370.5 648.65h3v3h-3z"/>
<path fill="rgb(24,24,24)" d="M121.5 357.65h3v3h-3zM169.5 357.65h6v3h-6zM187.5 357.65h3v3h-3zM346.5 357.65h3v3h-3zM376.5 357.65h3v3h-3zM325.5 360.65h3v3h-3zM367.5 360.65h3v3h-3zM373.5 360.65h3v3h-3zM373.5 363.65h3v3h-3zM214.5 366.65h3v3h-3zM241.5 366.65h3v3h-3zM247.5 366.65h3v3h-3zM133.5 369.65h3v3h-3zM229.5 369.65h3v3h-3zM301.5 369.65h3v3h-3zM121.5 372.65h3v3h-3zM196.5 372.65h3v3h-3zM316.5 375.65h3v3h-3zM328.5 378.65h3v3h-3zM334.5 378.65h3v3h-3zM295.5 381.65h3v3h-3zM325.5 381.65h3v3h-3zM112.5 387.65h3v3h-3zM193.5 387.65h3v3h-3zM238.5 387.65h3v3h-3zM271.5 387.65h3v3h-3zM100.5 390.65h3v3h-3zM202.5 390.65h3v3h-3zM229.5 393.65h3v3h-3zM88.5 396.65h3v3h-3zM199.5 396.65h3v3h-3zM301.5 396.65h3v3h-3zM313.5 396.65h3v3h-3zM358.5 396.65h3v3h-3zM154.5 399.65h3v3h-3zM262.5 399.65h3v3h-3zM331.5 399.65h3v3h-3zM343.5 399.65h3v3h-3zM373.5 399.65h3v3h-3zM193.5 402.65h3v3h-3zM235.5 402.65h3v3h-3zM160.5 405.65h3v3h-3zM169.5 405.65h3v3h-3zM175.5 405.65h3v3h-3zM325.5 405.65h3v3h-3zM142.5 408.65h3v3h-3zM301.5 408.65h3v3h-3zM103.5 411.65h6v3h-6zM112.5 411.65h3v3h-3zM139.5 411.65h3v3h-3zM178.5 411.65h3v3h-3zM259.5 411.65h3v3h-3zM340.5 411.65h3v3h-3zM352.5 411.65h3v3h-3zM373.5 411.65h3v3h-3zM160.5 414.65h3v3h-3zM319.5 414.65h3v3h-3zM205.5 420.65h3v3h-3zM97.5 423.65h3v3h-3zM130.5 423.65h6v3h-6zM304.5 423.65h3v3h-3zM328.5 423.65h3v3h-3zM352.5 423.65h3v3h-3zM304.5 426.65h3v3h-3zM331.5 426.65h3v3h-3zM139.5 429.65h3v3h-3zM175.5 429.65h3v3h-3zM190.5 429.65h3v3h-3zM220.5 429.65h3v3h-3zM139.5 432.65h3v3h-3zM265.5 435.65h3v3h-3zM295.5 435.65h3v3h-3zM190.5 438.65h3v3h-3zM277.5 438.65h3v3h-3zM286.5 438.65h3v3h-3zM322.5 438.65h3v3h-3zM346.5 438.65h3v3h-3zM367.5 438.65h3v3h-3zM106.5 441.65h3v3h-3zM163.5 441.65h3v3h-3zM253.5 441.65h3v3h-3zM259.5 441.65h3v3h-3zM292.5 441.65h3v3h-3zM106.5 444.65h3v3h-3zM133.5 444.65h3v3h-3zM355.5 444.65h3v3h-3zM103.5 447.65h3v3h-3zM109.5 447.65h3v3h-3zM256.5 447.65h3v3h-3zM160.5 450.65h3v3h-3zM217.5 450.65h3v3h-3zM106.5 456.65h3v3h-3zM232.5 456.65h3v3h-3zM250.5 456.65h3v3h-3zM268.5 456.65h3v3h-3zM85.5 459.65h3v3h-3zM232.5 459.65h3v3h-3zM310.5 459.65h3v3h-3zM361.5 459.65h3v3h-3zM193.5 462.65h3v3h-3zM364.5 462.65h3v3h-3zM157.5 465.65h6v3h-6zM355.5 465.65h3v3h-3zM364.5 465.65h3v3h-3zM139.5 468.65h3v3h-3zM166.5 468.65h3v3h-3zM334.5 468.65h3v3h-3zM364.5 468.65h3v3h-3zM142.5 471.65h3v3h-3zM223.5 471.65h3v3h-3zM262.5 471.65h3v3h-3zM109.5 474.65h3v3h-3zM160.5 474.65h6v3h-6zM370.5 474.65h3v3h-3zM112.5 477.65h3v3h-3zM118.5 477.65h3v3h-3zM127.5 477.65h3v3h-3zM190.5 477.65h3v3h-3zM262.5 477.65h3v3h-3zM370.5 477.65h3v3h-3zM169.5 480.65h6v3h-6zM211.5 480.65h3v3h-3zM259.5 480.65h3v3h-3zM100.5 483.65h3v3h-3zM172.5 483.65h3v3h-3zM178.5 483.65h3v3h-3zM247.5 483.65h3v3h-3zM118.5 486.65h3v3h-3zM211.5 489.65h3v3h-3zM103.5 492.65h3v3h-3zM142.5 492.65h3v3h-3zM214.5 492.65h3v3h-3zM259.5 492.65h3v3h-3zM274.5 492.65h3v3h-3zM160.5 495.65h3v3h-3zM211.5 495.65h3v3h-3zM259.5 495.65h3v3h-3zM340.5 495.65h3v3h-3zM97.5 498.65h3v3h-3zM184.5 498.65h6v3h-6zM262.5 498.65h3v3h-3zM313.5 498.65h3v3h-3zM349.5 498.65h3v3h-3zM364.5 498.65h3v3h-3zM373.5 498.65h3v3h-3zM97.5 501.65h3v3h-3zM127.5 501.65h3v3h-3zM151.5 501.65h3v3h-3zM109.5 504.65h3v3h-3zM181.5 504.65h3v3h-3zM268.5 504.65h3v3h-3zM298.5 504.65h6v3h-6zM310.5 504.65h3v3h-3zM358.5 504.65h3v3h-3zM373.5 504.65h3v3h-3zM190.5 507.65h6v3h-6zM298.5 507.65h3v3h-3zM337.5 507.65h3v3h-3zM352.5 507.65h3v3h-3zM151.5 510.65h3v3h-3zM304.5 510.65h3v3h-3zM157.5 513.65h3v3h-3zM271.5 513.65h3v3h-3zM292.5 513.65h3v3h-3zM361.5 513.65h6v3h-6zM166.5 516.65h3v3h-3zM295.5 516.65h3v3h-3zM328.5 519.65h3v3h-3zM100.5 522.65h3v3h-3zM220.5 522.65h3v3h-3zM271.5 522.65h3v3h-3zM304.5 522.65h3v3h-3zM160.5 525.65h3v3h-3zM307.5 525.65h3v3h-3zM292.5 528.65h3v3h-3zM349.5 528.65h3v3h-3zM91.5 531.65h3v3h-3zM100.5 531.65h3v3h-3zM175.5 531.65h3v3h-3zM325.5 531.65h3v3h-3zM166.5 534.65h3v3h-3zM175.5 534.65h3v3h-3zM190.5 534.65h3v3h-3zM229.5 534.65h3v3h-3zM106.5 537.65h3v3h-3zM118.5 537.65h3v3h-3zM130.5 537.65h3v3h-3zM226.5 537.65h3v3h-3zM277.5 537.65h3v3h-3zM175.5 540.65h3v3h-3zM94.5 543.65h6v3h-6zM103.5 543.65h3v3h-3zM127.5 543.65h3v3h-3zM217.5 543.65h3v3h-3zM358.5 543.65h3v3h-3zM223.5 546.65h3v3h-3zM259.5 546.65h3v3h-3zM352.5 546.65h3v3h-3zM106.5 549.65h3v3h-3zM286.5 549.65h3v3h-3zM298.5 549.65h3v3h-3zM115.5 552.65h3v3h-3zM217.5 552.65h3v3h-3zM370.5 552.65h3v3h-3zM223.5 555.65h3v3h-3zM280.5 555.65h3v3h-3zM115.5 558.65h3v3h-3zM169.5 558.65h3v3h-3zM220.5 558.65h3v3h-3zM367.5 558.65h3v3h-3zM163.5 561.65h3v3h-3zM199.5 561.65h3v3h-3zM313.5 561.65h3v3h-3zM232.5 564.65h3v3h-3zM319.5 564.65h3v3h-3zM115.5 567.65h3v3h-3zM205.5 567.65h3v3h-3zM298.5 567.65h3v3h-3zM331.5 567.65h6v3h-6zM376.5 567.65h3v3h-3zM127.5 570.65h3v3h-3zM235.5 570.65h3v3h-3zM376.5 573.65h3v3h-3zM214.5 576.65h3v3h-3zM373.5 576.65h3v3h-3zM295.5 579.65h3v3h-3zM136.5 582.65h3v3h-3zM145.5 582.65h3v3h-3zM247.5 582.65h3v3h-3zM346.5 582.65h3v3h-3zM127.5 585.65h3v3h-3zM151.5 585.65h3v3h-3zM172.5 585.65h3v3h-3zM232.5 585.65h3v3h-3zM253.5 585.65h3v3h-3zM328.5 585.65h3v3h-3zM340.5 585.65h3v3h-3zM154.5 588.65h3v3h-3zM367.5 591.65h3v3h-3zM289.5 594.65h3v3h-3zM352.5 594.65h3v3h-3zM187.5 597.65h3v3h-3zM262.5 597.65h3v3h-3zM292.5 597.65h3v3h-3zM310.5 597.65h3v3h-3zM88.5 600.65h6v3h-6zM133.5 600.65h3v3h-3zM199.5 600.65h6v3h-6zM244.5 600.65h3v3h-3zM106.5 603.65h3v3h-3zM121.5 603.65h3v3h-3zM250.5 603.65h3v3h-3zM112.5 606.65h6v3h-6zM163.5 606.65h3v3h-3zM211.5 606.65h3v3h-3zM295.5 606.65h3v3h-3zM334.5 606.65h3v3h-3zM361.5 606.65h6v3h-6zM373.5 606.65h3v3h-3zM97.5 609.65h3v3h-3zM256.5 609.65h3v3h-3zM325.5 609.65h3v3h-3zM286.5 612.65h3v3h-3zM244.5 615.65h3v3h-3zM316.5 615.65h3v3h-3zM100.5 618.65h3v3h-3zM199.5 618.65h3v3h-3zM340.5 621.65h3v3h-3zM115.5 624.65h3v3h-3zM163.5 624.65h3v3h-3zM211.5 624.65h6v3h-6zM268.5 624.65h3v3h-3zM88.5 627.65h3v3h-3zM118.5 627.65h3v3h-3zM214.5 627.65h3v3h-3zM121.5 630.65h3v3h-3zM196.5 630.65h6v3h-6zM241.5 630.65h3v3h-3zM304.5 630.65h3v3h-3zM109.5 633.65h3v3h-3zM160.5 633.65h3v3h-3zM202.5 633.65h3v3h-3zM223.5 633.65h3v3h-3zM127.5 636.65h3v3h-3zM220.5 636.65h6v3h-6zM250.5 636.65h3v3h-3zM328.5 636.65h6v3h-6zM85.5 639.65h3v3h-3zM157.5 639.65h3v3h-3zM223.5 639.65h3v3h-3zM250.5 639.65h3v3h-3zM280.5 639.65h3v3h-3zM112.5 642.65h3v3h-3zM97.5 645.65h3v3h-3zM184.5 645.65h3v3h-3zM193.5 645.65h6v3h-6zM328.5 645.65h3v3h-3zM367.5 645.65h3v3h-3zM373.5 648.65h6v3h-6z"/>
<path fill="rgb(26,26,26)" d="M124.5 357.65h3v3h-3zM178.5 357.65h3v3h-3zM226.5 357.65h3v3h-3zM316.5 357.65h3v3h-3zM322.5 357.65h3v3h-3zM169.5 360.65h9v3h-9zM256.5 360.65h3v3h-3zM289.5 360.65h3v3h-3zM376.5 360.65h3v3h-3zM115.5 363.65h6v3h-6zM259.5 363.65h3v3h-3zM184.5 366.65h3v3h-3zM217.5 366.65h3v3h-3zM223.5 366.65h3v3h-3zM244.5 366.65h3v3h-3zM193.5 369.65h6v3h-6zM205.5 369.65h3v3h-3zM238.5 369.65h3v3h-3zM205.5 372.65h3v3h-3zM337.5 372.65h3v3h-3zM157.5 375.65h3v3h-3zM190.5 375.65h3v3h-3zM277.5 375.65h3v3h-3zM106.5 378.65h3v3h-3zM220.5 378.65h3v3h-3zM277.5 378.65h3v3h-3zM148.5 381.65h3v3h-3zM277.5 381.65h3v3h-3zM94.5 384.65h3v3h-3zM169.5 384.65h3v3h-3zM196.5 384.65h3v3h-3zM247.5 384.65h3v3h-3zM109.5 387.65h3v3h-3zM178.5 387.65h3v3h-3zM244.5 387.65h6v3h-6zM91.5 390.65h3v3h-3zM130.5 390.65h3v3h-3zM97.5 393.65h3v3h-3zM127.5 393.65h3v3h-3zM142.5 393.65h3v3h-3zM178.5 393.65h6v3h-6zM256.5 393.65h3v3h-3zM298.5 396.65h3v3h-3zM361.5 396.65h3v3h-3zM373.5 396.65h3v3h-3zM151.5 399.65h3v3h-3zM205.5 399.65h3v3h-3zM250.5 399.65h3v3h-3zM313.5 399.65h3v3h-3zM337.5 399.65h3v3h-3zM175.5 402.65h3v3h-3zM226.5 402.65h3v3h-3zM241.5 402.65h3v3h-3zM262.5 402.65h3v3h-3zM334.5 402.65h3v3h-3zM109.5 405.65h3v3h-3zM196.5 405.65h3v3h-3zM334.5 405.65h3v3h-3zM130.5 408.65h3v3h-3zM166.5 408.65h3v3h-3zM178.5 408.65h3v3h-3zM235.5 408.65h3v3h-3zM295.5 408.65h3v3h-3zM307.5 408.65h6v3h-6zM355.5 408.65h3v3h-3zM91.5 411.65h12v3h-12zM196.5 411.65h3v3h-3zM358.5 411.65h3v3h-3zM370.5 411.65h3v3h-3zM184.5 414.65h3v3h-3zM277.5 414.65h3v3h-3zM115.5 417.65h3v3h-3zM220.5 417.65h3v3h-3zM280.5 417.65h3v3h-3zM115.5 420.65h3v3h-3zM220.5 420.65h3v3h-3zM124.5 426.65h3v3h-3zM145.5 426.65h3v3h-3zM253.5 426.65h3v3h-3zM91.5 429.65h3v3h-3zM166.5 429.65h3v3h-3zM118.5 432.65h3v3h-3zM265.5 432.65h3v3h-3zM340.5 432.65h3v3h-3zM124.5 435.65h3v3h-3zM163.5 435.65h3v3h-3zM217.5 435.65h3v3h-3zM280.5 435.65h3v3h-3zM286.5 435.65h3v3h-3zM319.5 435.65h3v3h-3zM340.5 435.65h3v3h-3zM364.5 435.65h3v3h-3zM133.5 438.65h3v3h-3zM142.5 438.65h3v3h-3zM163.5 438.65h3v3h-3zM214.5 438.65h3v3h-3zM226.5 438.65h3v3h-3zM235.5 438.65h3v3h-3zM250.5 438.65h3v3h-3zM283.5 438.65h3v3h-3zM256.5 441.65h3v3h-3zM334.5 441.65h3v3h-3zM100.5 447.65h3v3h-3zM106.5 447.65h3v3h-3zM133.5 447.65h3v3h-3zM196.5 447.65h3v3h-3zM229.5 447.65h3v3h-3zM241.5 447.65h3v3h-3zM253.5 447.65h3v3h-3zM292.5 447.65h3v3h-3zM334.5 447.65h3v3h-3zM340.5 447.65h3v3h-3zM355.5 447.65h3v3h-3zM295.5 450.65h3v3h-3zM160.5 453.65h3v3h-3zM202.5 453.65h3v3h-3zM274.5 453.65h3v3h-3zM301.5 453.65h3v3h-3zM340.5 453.65h3v3h-3zM148.5 456.65h3v3h-3zM202.5 456.65h3v3h-3zM286.5 456.65h3v3h-3zM133.5 459.65h3v3h-3zM184.5 459.65h3v3h-3zM199.5 459.65h3v3h-3zM238.5 459.65h3v3h-3zM253.5 459.65h3v3h-3zM268.5 459.65h3v3h-3zM118.5 462.65h3v3h-3zM268.5 462.65h3v3h-3zM202.5 465.65h3v3h-3zM349.5 465.65h3v3h-3zM97.5 468.65h3v3h-3zM103.5 468.65h3v3h-3zM133.5 468.65h3v3h-3zM283.5 468.65h3v3h-3zM328.5 468.65h3v3h-3zM109.5 471.65h3v3h-3zM163.5 471.65h3v3h-3zM316.5 471.65h3v3h-3zM325.5 471.65h3v3h-3zM127.5 474.65h3v3h-3zM151.5 474.65h3v3h-3zM166.5 474.65h3v3h-3zM274.5 474.65h3v3h-3zM289.5 474.65h3v3h-3zM163.5 477.65h3v3h-3zM190.5 480.65h3v3h-3zM136.5 483.65h3v3h-3zM289.5 483.65h3v3h-3zM358.5 483.65h3v3h-3zM325.5 486.65h3v3h-3zM232.5 489.65h3v3h-3zM262.5 489.65h3v3h-3zM292.5 489.65h3v3h-3zM190.5 492.65h3v3h-3zM208.5 492.65h6v3h-6zM253.5 492.65h3v3h-3zM334.5 492.65h3v3h-3zM103.5 495.65h3v3h-3zM127.5 495.65h3v3h-3zM139.5 495.65h3v3h-3zM148.5 495.65h3v3h-3zM220.5 495.65h3v3h-3zM262.5 495.65h3v3h-3zM349.5 495.65h3v3h-3zM211.5 498.65h3v3h-3zM217.5 498.65h3v3h-3zM316.5 498.65h3v3h-3zM244.5 501.65h6v3h-6zM253.5 501.65h3v3h-3zM313.5 501.65h3v3h-3zM322.5 501.65h3v3h-3zM346.5 501.65h3v3h-3zM352.5 501.65h3v3h-3zM364.5 501.65h3v3h-3zM121.5 504.65h3v3h-3zM217.5 504.65h3v3h-3zM304.5 504.65h3v3h-3zM340.5 504.65h3v3h-3zM100.5 507.65h3v3h-3zM301.5 507.65h3v3h-3zM307.5 507.65h6v3h-6zM340.5 507.65h3v3h-3zM370.5 507.65h3v3h-3zM280.5 510.65h3v3h-3zM115.5 513.65h3v3h-3zM151.5 513.65h3v3h-3zM232.5 513.65h3v3h-3zM280.5 513.65h3v3h-3zM373.5 513.65h3v3h-3zM160.5 516.65h3v3h-3zM202.5 516.65h3v3h-3zM337.5 516.65h3v3h-3zM352.5 516.65h3v3h-3zM376.5 516.65h3v3h-3zM280.5 519.65h3v3h-3zM223.5 522.65h3v3h-3zM301.5 522.65h3v3h-3zM307.5 522.65h3v3h-3zM193.5 525.65h3v3h-3zM235.5 525.65h3v3h-3zM256.5 525.65h3v3h-3zM310.5 525.65h3v3h-3zM349.5 525.65h3v3h-3zM190.5 528.65h3v3h-3zM253.5 528.65h3v3h-3zM295.5 528.65h3v3h-3zM313.5 528.65h3v3h-3zM103.5 531.65h3v3h-3zM133.5 531.65h3v3h-3zM151.5 531.65h3v3h-3zM322.5 531.65h3v3h-3zM346.5 531.65h3v3h-3zM91.5 534.65h3v3h-3zM262.5 534.65h3v3h-3zM109.5 537.65h3v3h-3zM124.5 537.65h3v3h-3zM211.5 537.65h3v3h-3zM265.5 537.65h3v3h-3zM343.5 537.65h3v3h-3zM112.5 540.65h3v3h-3zM169.5 540.65h3v3h-3zM250.5 540.65h3v3h-3zM277.5 540.65h3v3h-3zM355.5 540.65h3v3h-3zM175.5 543.65h3v3h-3zM211.5 543.65h3v3h-3zM220.5 543.65h3v3h-3zM244.5 543.65h3v3h-3zM253.5 543.65h3v3h-3zM286.5 543.65h3v3h-3zM304.5 543.65h3v3h-3zM313.5 543.65h3v3h-3zM103.5 546.65h3v3h-3zM169.5 546.65h3v3h-3zM190.5 546.65h3v3h-3zM226.5 546.65h3v3h-3zM322.5 546.65h3v3h-3zM358.5 546.65h9v3h-9zM136.5 549.65h3v3h-3zM151.5 549.65h3v3h-3zM199.5 549.65h3v3h-3zM235.5 549.65h3v3h-3zM346.5 549.65h3v3h-3zM352.5 549.65h3v3h-3zM367.5 549.65h6v3h-6zM127.5 552.65h3v3h-3zM133.5 552.65h3v3h-3zM223.5 552.65h3v3h-3zM103.5 555.65h3v3h-3zM121.5 555.65h3v3h-3zM340.5 555.65h3v3h-3zM112.5 558.65h3v3h-3zM118.5 558.65h3v3h-3zM199.5 558.65h3v3h-3zM313.5 558.65h3v3h-3zM328.5 558.65h3v3h-3zM352.5 558.65h3v3h-3zM91.5 561.65h3v3h-3zM154.5 561.65h3v3h-3zM172.5 561.65h3v3h-3zM211.5 561.65h3v3h-3zM232.5 561.65h3v3h-3zM244.5 561.65h3v3h-3zM328.5 561.65h3v3h-3zM361.5 561.65h3v3h-3zM253.5 564.65h3v3h-3zM175.5 570.65h3v3h-3zM223.5 570.65h3v3h-3zM355.5 570.65h3v3h-3zM118.5 573.65h3v3h-3zM148.5 573.65h3v3h-3zM223.5 573.65h3v3h-3zM238.5 573.65h3v3h-3zM313.5 573.65h3v3h-3zM337.5 573.65h3v3h-3zM91.5 576.65h6v3h-6zM106.5 576.65h3v3h-3zM265.5 576.65h3v3h-3zM364.5 576.65h3v3h-3zM91.5 579.65h3v3h-3zM133.5 579.65h3v3h-3zM250.5 579.65h3v3h-3zM271.5 579.65h3v3h-3zM328.5 579.65h3v3h-3zM85.5 582.65h3v3h-3zM139.5 582.65h3v3h-3zM259.5 582.65h3v3h-3zM367.5 582.65h3v3h-3zM190.5 585.65h3v3h-3zM202.5 585.65h3v3h-3zM241.5 585.65h3v3h-3zM325.5 585.65h3v3h-3zM91.5 588.65h3v3h-3zM232.5 588.65h3v3h-3zM307.5 588.65h3v3h-3zM334.5 588.65h3v3h-3zM340.5 588.65h3v3h-3zM118.5 591.65h3v3h-3zM352.5 591.65h3v3h-3zM208.5 594.65h3v3h-3zM304.5 594.65h6v3h-6zM91.5 597.65h3v3h-3zM202.5 597.65h3v3h-3zM295.5 597.65h3v3h-3zM106.5 600.65h3v3h-3zM160.5 600.65h3v3h-3zM247.5 600.65h3v3h-3zM262.5 600.65h3v3h-3zM163.5 603.65h3v3h-3zM196.5 603.65h3v3h-3zM202.5 603.65h3v3h-3zM211.5 603.65h3v3h-3zM253.5 603.65h3v3h-3zM166.5 606.65h3v3h-3zM277.5 606.65h3v3h-3zM157.5 609.65h3v3h-3zM277.5 609.65h3v3h-3zM370.5 609.65h3v3h-3zM127.5 612.65h3v3h-3zM190.5 612.65h3v3h-3zM238.5 612.65h3v3h-3zM85.5 615.65h3v3h-3zM145.5 615.65h3v3h-3zM208.5 615.65h3v3h-3zM295.5 615.65h3v3h-3zM346.5 615.65h3v3h-3zM286.5 618.65h3v3h-3zM307.5 618.65h3v3h-3zM247.5 621.65h6v3h-6zM175.5 624.65h3v3h-3zM223.5 624.65h3v3h-3zM271.5 624.65h3v3h-3zM184.5 627.65h6v3h-6zM343.5 627.65h3v3h-3zM109.5 630.65h3v3h-3zM127.5 630.65h3v3h-3zM181.5 630.65h3v3h-3zM178.5 633.65h3v3h-3zM241.5 633.65h3v3h-3zM253.5 633.65h3v3h-3zM88.5 636.65h3v3h-3zM97.5 636.65h3v3h-3zM124.5 636.65h3v3h-3zM190.5 636.65h3v3h-3zM127.5 639.65h3v3h-3zM274.5 639.65h3v3h-3zM328.5 639.65h3v3h-3zM190.5 642.65h3v3h-3zM208.5 642.65h3v3h-3zM220.5 642.65h6v3h-6zM253.5 642.65h3v3h-3zM277.5 642.65h3v3h-3zM106.5 645.65h3v3h-3zM187.5 645.65h3v3h-3zM340.5 645.65h3v3h-3zM88.5 648.65h3v3h-3zM211.5 648.65h3v3h-3z"/>
<path fill="rgb(28,28,28)" d="M88.5 357.65h3v3h-3zM106.5 357.65h3v3h-3zM235.5 357.65h3v3h-3zM358.5 357.65h3v3h-3zM106.5 360.65h3v3h-3zM154.5 360.65h3v3h-3zM301.5 360.65h3v3h-3zM175.5 363.65h3v3h-3zM235.5 363.65h3v3h-3zM346.5 363.65h3v3h-3zM376.5 363.65h3v3h-3zM136.5 366.65h3v3h-3zM304.5 366.65h3v3h-3zM355.5 366.65h3v3h-3zM187.5 369.65h3v3h-3zM298.5 369.65h3v3h-3zM376.5 369.65h3v3h-3zM130.5 372.65h3v3h-3zM208.5 372.65h3v3h-3zM103.5 375.65h3v3h-3zM130.5 378.65h3v3h-3zM142.5 378.65h3v3h-3zM205.5 378.65h3v3h-3zM304.5 378.65h3v3h-3zM325.5 378.65h3v3h-3zM151.5 381.65h3v3h-3zM175.5 381.65h3v3h-3zM190.5 381.65h3v3h-3zM211.5 381.65h3v3h-3zM328.5 381.65h3v3h-3zM190.5 384.65h3v3h-3zM208.5 384.65h3v3h-3zM274.5 384.65h3v3h-3zM322.5 384.65h6v3h-6zM106.5 387.65h3v3h-3zM241.5 387.65h3v3h-3zM331.5 387.65h3v3h-3zM250.5 390.65h3v3h-3zM349.5 390.65h3v3h-3zM133.5 393.65h3v3h-3zM202.5 393.65h3v3h-3zM217.5 393.65h3v3h-3zM361.5 393.65h3v3h-3zM181.5 396.65h3v3h-3zM316.5 396.65h3v3h-3zM166.5 399.65h3v3h-3zM256.5 399.65h3v3h-3zM289.5 399.65h6v3h-6zM328.5 399.65h3v3h-3zM208.5 402.65h3v3h-3zM325.5 402.65h3v3h-3zM193.5 405.65h3v3h-3zM208.5 405.65h3v3h-3zM232.5 405.65h3v3h-3zM277.5 405.65h3v3h-3zM91.5 408.65h3v3h-3zM175.5 408.65h3v3h-3zM292.5 408.65h3v3h-3zM373.5 408.65h3v3h-3zM145.5 411.65h3v3h-3zM157.5 411.65h3v3h-3zM355.5 411.65h3v3h-3zM361.5 411.65h3v3h-3zM367.5 411.65h3v3h-3zM118.5 414.65h3v3h-3zM130.5 414.65h3v3h-3zM208.5 414.65h3v3h-3zM313.5 417.65h3v3h-3zM136.5 423.65h3v3h-3zM160.5 423.65h3v3h-3zM205.5 423.65h3v3h-3zM250.5 423.65h3v3h-3zM325.5 423.65h3v3h-3zM103.5 426.65h3v3h-3zM166.5 426.65h3v3h-3zM217.5 426.65h3v3h-3zM178.5 429.65h3v3h-3zM304.5 429.65h3v3h-3zM328.5 429.65h3v3h-3zM166.5 432.65h3v3h-3zM208.5 432.65h3v3h-3zM217.5 432.65h3v3h-3zM301.5 432.65h3v3h-3zM364.5 432.65h3v3h-3zM121.5 435.65h3v3h-3zM157.5 435.65h6v3h-6zM229.5 435.65h3v3h-3zM283.5 435.65h3v3h-3zM298.5 435.65h6v3h-6zM367.5 435.65h3v3h-3zM148.5 438.65h6v3h-6zM259.5 438.65h3v3h-3zM169.5 441.65h3v3h-3zM277.5 441.65h3v3h-3zM307.5 441.65h3v3h-3zM358.5 441.65h3v3h-3zM103.5 444.65h3v3h-3zM142.5 444.65h3v3h-3zM196.5 444.65h3v3h-3zM238.5 444.65h3v3h-3zM334.5 444.65h3v3h-3zM94.5 447.65h6v3h-6zM205.5 447.65h3v3h-3zM97.5 450.65h3v3h-3zM145.5 450.65h3v3h-3zM229.5 450.65h3v3h-3zM274.5 450.65h3v3h-3zM94.5 453.65h3v3h-3zM118.5 453.65h3v3h-3zM328.5 453.65h3v3h-3zM133.5 456.65h3v3h-3zM160.5 456.65h3v3h-3zM169.5 456.65h3v3h-3zM148.5 459.65h6v3h-6zM169.5 459.65h3v3h-3zM274.5 459.65h3v3h-3zM367.5 459.65h3v3h-3zM91.5 462.65h3v3h-3zM115.5 462.65h3v3h-3zM265.5 462.65h3v3h-3zM277.5 462.65h3v3h-3zM325.5 462.65h3v3h-3zM163.5 465.65h3v3h-3zM232.5 465.65h3v3h-3zM304.5 465.65h3v3h-3zM352.5 465.65h3v3h-3zM361.5 465.65h3v3h-3zM115.5 468.65h3v3h-3zM349.5 468.65h3v3h-3zM94.5 474.65h3v3h-3zM130.5 474.65h6v3h-6zM346.5 474.65h3v3h-3zM358.5 474.65h3v3h-3zM187.5 477.65h3v3h-3zM259.5 477.65h3v3h-3zM271.5 477.65h3v3h-3zM310.5 477.65h3v3h-3zM112.5 480.65h3v3h-3zM136.5 480.65h3v3h-3zM175.5 480.65h6v3h-6zM85.5 483.65h3v3h-3zM139.5 483.65h3v3h-3zM175.5 483.65h3v3h-3zM256.5 483.65h3v3h-3zM352.5 486.65h3v3h-3zM88.5 492.65h3v3h-3zM184.5 492.65h3v3h-3zM238.5 492.65h3v3h-3zM352.5 492.65h3v3h-3zM358.5 492.65h6v3h-6zM124.5 495.65h3v3h-3zM154.5 495.65h3v3h-3zM187.5 495.65h3v3h-3zM289.5 495.65h3v3h-3zM370.5 495.65h3v3h-3zM109.5 498.65h3v3h-3zM247.5 498.65h3v3h-3zM223.5 501.65h3v3h-3zM250.5 501.65h3v3h-3zM286.5 501.65h3v3h-3zM241.5 504.65h3v3h-3zM154.5 507.65h3v3h-3zM196.5 507.65h3v3h-3zM154.5 510.65h3v3h-3zM166.5 510.65h3v3h-3zM217.5 510.65h3v3h-3zM370.5 510.65h6v3h-6zM349.5 513.65h3v3h-3zM367.5 513.65h6v3h-6zM100.5 516.65h3v3h-3zM280.5 516.65h3v3h-3zM355.5 516.65h3v3h-3zM133.5 519.65h3v3h-3zM163.5 519.65h3v3h-3zM295.5 519.65h3v3h-3zM97.5 522.65h3v3h-3zM253.5 522.65h3v3h-3zM286.5 522.65h3v3h-3zM310.5 522.65h3v3h-3zM322.5 522.65h3v3h-3zM349.5 522.65h3v3h-3zM109.5 525.65h3v3h-3zM151.5 525.65h3v3h-3zM211.5 525.65h3v3h-3zM229.5 525.65h3v3h-3zM250.5 525.65h3v3h-3zM298.5 525.65h3v3h-3zM304.5 525.65h3v3h-3zM316.5 525.65h3v3h-3zM361.5 525.65h3v3h-3zM106.5 528.65h3v3h-3zM118.5 528.65h3v3h-3zM151.5 528.65h3v3h-3zM256.5 528.65h3v3h-3zM109.5 531.65h3v3h-3zM157.5 531.65h3v3h-3zM184.5 531.65h6v3h-6zM232.5 531.65h3v3h-3zM310.5 531.65h3v3h-3zM112.5 534.65h3v3h-3zM352.5 537.65h3v3h-3zM145.5 540.65h3v3h-3zM283.5 540.65h3v3h-3zM112.5 543.65h3v3h-3zM139.5 543.65h3v3h-3zM154.5 543.65h6v3h-6zM169.5 543.65h3v3h-3zM178.5 543.65h3v3h-3zM214.5 543.65h3v3h-3zM283.5 543.65h3v3h-3zM151.5 546.65h3v3h-3zM184.5 546.65h3v3h-3zM256.5 546.65h3v3h-3zM298.5 546.65h3v3h-3zM223.5 549.65h3v3h-3zM232.5 549.65h3v3h-3zM265.5 552.65h3v3h-3zM286.5 552.65h3v3h-3zM115.5 555.65h3v3h-3zM124.5 555.65h3v3h-3zM217.5 555.65h3v3h-3zM277.5 555.65h3v3h-3zM286.5 555.65h3v3h-3zM166.5 558.65h3v3h-3zM223.5 558.65h3v3h-3zM370.5 558.65h3v3h-3zM250.5 561.65h3v3h-3zM301.5 561.65h3v3h-3zM220.5 564.65h3v3h-3zM259.5 564.65h3v3h-3zM331.5 564.65h3v3h-3zM340.5 564.65h6v3h-6zM175.5 567.65h3v3h-3zM223.5 567.65h3v3h-3zM343.5 567.65h3v3h-3zM169.5 570.65h3v3h-3zM241.5 570.65h3v3h-3zM298.5 570.65h3v3h-3zM313.5 570.65h3v3h-3zM136.5 573.65h3v3h-3zM169.5 573.65h3v3h-3zM286.5 573.65h3v3h-3zM85.5 576.65h3v3h-3zM217.5 576.65h3v3h-3zM127.5 579.65h3v3h-3zM280.5 579.65h3v3h-3zM289.5 579.65h3v3h-3zM127.5 582.65h3v3h-3zM250.5 582.65h3v3h-3zM184.5 585.65h6v3h-6zM274.5 585.65h3v3h-3zM178.5 588.65h3v3h-3zM124.5 591.65h3v3h-3zM178.5 591.65h3v3h-3zM196.5 591.65h3v3h-3zM265.5 591.65h3v3h-3zM286.5 591.65h3v3h-3zM148.5 594.65h3v3h-3zM196.5 594.65h3v3h-3zM205.5 594.65h3v3h-3zM310.5 594.65h3v3h-3zM322.5 594.65h3v3h-3zM94.5 597.65h3v3h-3zM196.5 597.65h6v3h-6zM247.5 597.65h3v3h-3zM313.5 597.65h3v3h-3zM85.5 600.65h3v3h-3zM196.5 600.65h3v3h-3zM124.5 603.65h3v3h-3zM199.5 603.65h3v3h-3zM301.5 603.65h3v3h-3zM361.5 603.65h3v3h-3zM184.5 606.65h3v3h-3zM223.5 606.65h6v3h-6zM241.5 606.65h3v3h-3zM319.5 606.65h6v3h-6zM331.5 606.65h3v3h-3zM337.5 606.65h6v3h-6zM361.5 609.65h3v3h-3zM145.5 612.65h3v3h-3zM163.5 612.65h3v3h-3zM208.5 612.65h3v3h-3zM280.5 612.65h3v3h-3zM370.5 612.65h3v3h-3zM109.5 615.65h3v3h-3zM121.5 615.65h3v3h-3zM190.5 615.65h3v3h-3zM217.5 615.65h3v3h-3zM277.5 615.65h3v3h-3zM175.5 621.65h3v3h-3zM199.5 621.65h3v3h-3zM235.5 621.65h3v3h-3zM307.5 621.65h3v3h-3zM235.5 624.65h3v3h-3zM250.5 624.65h3v3h-3zM181.5 627.65h3v3h-3zM289.5 627.65h3v3h-3zM265.5 630.65h3v3h-3zM121.5 633.65h3v3h-3zM265.5 633.65h3v3h-3zM301.5 633.65h3v3h-3zM130.5 636.65h3v3h-3zM172.5 636.65h3v3h-3zM262.5 636.65h3v3h-3zM325.5 636.65h3v3h-3zM112.5 639.65h3v3h-3zM133.5 639.65h3v3h-3zM283.5 639.65h3v3h-3zM226.5 642.65h3v3h-3zM274.5 642.65h3v3h-3zM352.5 642.65h3v3h-3zM94.5 645.65h3v3h-3zM118.5 645.65h3v3h-3zM226.5 645.65h3v3h-3zM274.5 645.65h3v3h-3zM364.5 645.65h3v3h-3zM376.5 645.65h3v3h-3zM94.5 648.65h3v3h-3zM229.5 648.65h6v3h-6z"/>
<path fill="rgb(30,30,30)" d="M175.5 357.65h3v3h-3zM289.5 357.65h3v3h-3zM229.5 360.65h3v3h-3zM235.5 360.65h3v3h-3zM154.5 363.65h3v3h-3zM184.5 363.65h3v3h-3zM196.5 366.65h3v3h-3zM232.5 366.65h3v3h-3zM325.5 366.65h3v3h-3zM121.5 369.65h3v3h-3zM190.5 369.65h3v3h-3zM199.5 369.65h6v3h-6zM235.5 369.65h3v3h-3zM340.5 369.65h3v3h-3zM187.5 372.65h3v3h-3zM241.5 372.65h3v3h-3zM280.5 372.65h3v3h-3zM334.5 372.65h3v3h-3zM241.5 375.65h3v3h-3zM328.5 375.65h3v3h-3zM337.5 375.65h3v3h-3zM316.5 378.65h3v3h-3zM349.5 378.65h3v3h-3zM91.5 381.65h3v3h-3zM106.5 381.65h3v3h-3zM115.5 381.65h3v3h-3zM166.5 381.65h3v3h-3zM172.5 381.65h3v3h-3zM316.5 381.65h3v3h-3zM205.5 384.65h3v3h-3zM328.5 384.65h3v3h-3zM115.5 387.65h3v3h-3zM202.5 387.65h3v3h-3zM229.5 387.65h3v3h-3zM145.5 390.65h3v3h-3zM115.5 393.65h3v3h-3zM310.5 393.65h3v3h-3zM340.5 393.65h3v3h-3zM202.5 396.65h9v3h-9zM259.5 396.65h3v3h-3zM265.5 396.65h3v3h-3zM337.5 396.65h3v3h-3zM349.5 396.65h3v3h-3zM247.5 399.65h3v3h-3zM298.5 399.65h3v3h-3zM316.5 399.65h3v3h-3zM334.5 399.65h3v3h-3zM349.5 399.65h3v3h-3zM124.5 402.65h3v3h-3zM148.5 402.65h3v3h-3zM172.5 402.65h3v3h-3zM220.5 402.65h3v3h-3zM313.5 402.65h3v3h-3zM337.5 402.65h6v3h-6zM148.5 405.65h3v3h-3zM337.5 405.65h6v3h-6zM199.5 408.65h3v3h-3zM298.5 408.65h3v3h-3zM313.5 408.65h3v3h-3zM130.5 411.65h3v3h-3zM289.5 411.65h3v3h-3zM85.5 414.65h3v3h-3zM163.5 414.65h3v3h-3zM181.5 414.65h3v3h-3zM256.5 414.65h3v3h-3zM376.5 414.65h3v3h-3zM328.5 417.65h3v3h-3zM250.5 420.65h3v3h-3zM292.5 420.65h3v3h-3zM310.5 420.65h3v3h-3zM358.5 420.65h3v3h-3zM115.5 423.65h3v3h-3zM301.5 423.65h3v3h-3zM307.5 423.65h3v3h-3zM115.5 426.65h3v3h-3zM160.5 426.65h6v3h-6zM355.5 426.65h3v3h-3zM331.5 429.65h3v3h-3zM343.5 432.65h3v3h-3zM331.5 435.65h3v3h-3zM154.5 438.65h6v3h-6zM211.5 438.65h3v3h-3zM334.5 438.65h3v3h-3zM364.5 438.65h3v3h-3zM157.5 441.65h3v3h-3zM184.5 441.65h12v3h-12zM289.5 441.65h3v3h-3zM166.5 444.65h3v3h-3zM274.5 444.65h3v3h-3zM91.5 450.65h3v3h-3zM112.5 450.65h3v3h-3zM127.5 450.65h3v3h-3zM148.5 450.65h3v3h-3zM178.5 450.65h3v3h-3zM334.5 450.65h3v3h-3zM112.5 453.65h3v3h-3zM316.5 453.65h3v3h-3zM103.5 459.65h3v3h-3zM154.5 459.65h3v3h-3zM178.5 459.65h3v3h-3zM313.5 459.65h3v3h-3zM151.5 462.65h3v3h-3zM232.5 462.65h3v3h-3zM316.5 462.65h3v3h-3zM370.5 462.65h3v3h-3zM112.5 465.65h3v3h-3zM139.5 465.65h3v3h-3zM187.5 465.65h3v3h-3zM307.5 465.65h3v3h-3zM313.5 465.65h3v3h-3zM373.5 465.65h3v3h-3zM199.5 468.65h3v3h-3zM220.5 468.65h3v3h-3zM310.5 468.65h3v3h-3zM100.5 471.65h3v3h-3zM166.5 471.65h3v3h-3zM232.5 471.65h3v3h-3zM286.5 471.65h3v3h-3zM97.5 474.65h6v3h-6zM196.5 474.65h3v3h-3zM229.5 474.65h3v3h-3zM292.5 474.65h3v3h-3zM124.5 477.65h3v3h-3zM169.5 477.65h3v3h-3zM280.5 477.65h3v3h-3zM118.5 480.65h3v3h-3zM280.5 480.65h3v3h-3zM289.5 480.65h3v3h-3zM298.5 480.65h3v3h-3zM340.5 480.65h3v3h-3zM169.5 483.65h3v3h-3zM199.5 483.65h3v3h-3zM340.5 483.65h3v3h-3zM355.5 483.65h3v3h-3zM373.5 486.65h6v3h-6zM88.5 489.65h3v3h-3zM205.5 489.65h3v3h-3zM370.5 489.65h3v3h-3zM148.5 492.65h3v3h-3zM187.5 492.65h3v3h-3zM235.5 492.65h3v3h-3zM256.5 492.65h3v3h-3zM265.5 492.65h3v3h-3zM271.5 492.65h3v3h-3zM277.5 492.65h3v3h-3zM193.5 495.65h3v3h-3zM223.5 495.65h6v3h-6zM238.5 495.65h3v3h-3zM265.5 495.65h3v3h-3zM376.5 495.65h3v3h-3zM127.5 498.65h3v3h-3zM139.5 498.65h3v3h-3zM148.5 498.65h6v3h-6zM376.5 498.65h3v3h-3zM121.5 501.65h3v3h-3zM148.5 501.65h3v3h-3zM241.5 501.65h3v3h-3zM259.5 501.65h3v3h-3zM340.5 501.65h6v3h-6zM286.5 504.65h3v3h-3zM97.5 507.65h3v3h-3zM145.5 507.65h3v3h-3zM157.5 507.65h3v3h-3zM178.5 507.65h6v3h-6zM304.5 507.65h3v3h-3zM373.5 507.65h3v3h-3zM175.5 510.65h3v3h-3zM196.5 510.65h3v3h-3zM289.5 510.65h3v3h-3zM307.5 510.65h3v3h-3zM361.5 510.65h3v3h-3zM247.5 513.65h3v3h-3zM268.5 513.65h3v3h-3zM310.5 513.65h3v3h-3zM376.5 513.65h3v3h-3zM172.5 516.65h3v3h-3zM373.5 516.65h3v3h-3zM97.5 519.65h3v3h-3zM115.5 519.65h3v3h-3zM250.5 519.65h3v3h-3zM313.5 519.65h3v3h-3zM358.5 519.65h3v3h-3zM130.5 522.65h3v3h-3zM298.5 522.65h3v3h-3zM106.5 525.65h3v3h-3zM286.5 525.65h3v3h-3zM289.5 528.65h3v3h-3zM328.5 528.65h3v3h-3zM319.5 531.65h3v3h-3zM193.5 534.65h3v3h-3zM244.5 534.65h3v3h-3zM250.5 534.65h3v3h-3zM169.5 537.65h3v3h-3zM175.5 537.65h3v3h-3zM247.5 537.65h6v3h-6zM148.5 540.65h3v3h-3zM208.5 540.65h3v3h-3zM217.5 540.65h6v3h-6zM313.5 540.65h3v3h-3zM325.5 540.65h3v3h-3zM331.5 540.65h3v3h-3zM358.5 540.65h3v3h-3zM160.5 543.65h3v3h-3zM181.5 543.65h3v3h-3zM247.5 543.65h3v3h-3zM343.5 543.65h3v3h-3zM112.5 546.65h3v3h-3zM139.5 546.65h3v3h-3zM289.5 546.65h3v3h-3zM349.5 546.65h3v3h-3zM100.5 549.65h3v3h-3zM355.5 549.65h3v3h-3zM100.5 552.65h3v3h-3zM205.5 552.65h3v3h-3zM247.5 552.65h3v3h-3zM130.5 555.65h3v3h-3zM301.5 555.65h3v3h-3zM172.5 558.65h3v3h-3zM226.5 558.65h6v3h-6zM286.5 558.65h3v3h-3zM364.5 558.65h3v3h-3zM214.5 561.65h3v3h-3zM295.5 561.65h3v3h-3zM88.5 564.65h6v3h-6zM133.5 564.65h3v3h-3zM133.5 567.65h3v3h-3zM307.5 567.65h3v3h-3zM118.5 570.65h3v3h-3zM340.5 570.65h3v3h-3zM256.5 573.65h3v3h-3zM268.5 573.65h3v3h-3zM289.5 573.65h3v3h-3zM355.5 573.65h3v3h-3zM193.5 576.65h3v3h-3zM220.5 576.65h6v3h-6zM268.5 576.65h3v3h-3zM295.5 576.65h3v3h-3zM355.5 576.65h3v3h-3zM376.5 576.65h3v3h-3zM88.5 579.65h3v3h-3zM169.5 579.65h3v3h-3zM190.5 579.65h3v3h-3zM226.5 579.65h3v3h-3zM241.5 579.65h3v3h-3zM355.5 579.65h3v3h-3zM364.5 579.65h3v3h-3zM142.5 582.65h3v3h-3zM151.5 582.65h3v3h-3zM229.5 582.65h3v3h-3zM280.5 582.65h3v3h-3zM337.5 582.65h3v3h-3zM343.5 582.65h3v3h-3zM115.5 585.65h3v3h-3zM196.5 585.65h3v3h-3zM226.5 585.65h3v3h-3zM244.5 585.65h3v3h-3zM277.5 585.65h3v3h-3zM322.5 585.65h3v3h-3zM157.5 588.65h3v3h-3zM367.5 588.65h3v3h-3zM307.5 591.65h3v3h-3zM349.5 591.65h3v3h-3zM175.5 594.65h3v3h-3zM265.5 594.65h3v3h-3zM298.5 594.65h3v3h-3zM313.5 594.65h3v3h-3zM349.5 594.65h3v3h-3zM145.5 600.65h3v3h-3zM193.5 600.65h3v3h-3zM337.5 600.65h3v3h-3zM223.5 603.65h3v3h-3zM298.5 603.65h3v3h-3zM187.5 606.65h3v3h-3zM265.5 606.65h3v3h-3zM283.5 606.65h3v3h-3zM292.5 606.65h3v3h-3zM100.5 609.65h3v3h-3zM115.5 609.65h3v3h-3zM127.5 609.65h3v3h-3zM226.5 609.65h3v3h-3zM259.5 609.65h3v3h-3zM139.5 612.65h3v3h-3zM313.5 612.65h3v3h-3zM361.5 612.65h3v3h-3zM373.5 612.65h3v3h-3zM280.5 615.65h3v3h-3zM307.5 615.65h3v3h-3zM121.5 618.65h3v3h-3zM136.5 618.65h3v3h-3zM163.5 618.65h3v3h-3zM244.5 618.65h3v3h-3zM301.5 618.65h3v3h-3zM232.5 624.65h3v3h-3zM250.5 627.65h3v3h-3zM271.5 627.65h3v3h-3zM163.5 630.65h3v3h-3zM286.5 630.65h3v3h-3zM340.5 630.65h3v3h-3zM256.5 633.65h3v3h-3zM262.5 633.65h3v3h-3zM268.5 633.65h3v3h-3zM337.5 633.65h3v3h-3zM376.5 633.65h3v3h-3zM337.5 636.65h3v3h-3zM190.5 639.65h3v3h-3zM220.5 639.65h3v3h-3zM298.5 639.65h3v3h-3zM130.5 642.65h3v3h-3zM139.5 642.65h3v3h-3zM166.5 642.65h3v3h-3zM205.5 642.65h3v3h-3zM130.5 645.65h3v3h-3zM223.5 645.65h3v3h-3zM277.5 645.65h3v3h-3zM337.5 645.65h3v3h-3zM127.5 648.65h3v3h-3zM328.5 648.65h3v3h-3z"/>
<path fill="rgb(32,32,32)" d="M151.5 357.65h3v3h-3zM190.5 357.65h3v3h-3zM205.5 357.65h3v3h-3zM247.5 357.65h3v3h-3zM256.5 357.65h3v3h-3zM262.5 357.65h3v3h-3zM268.5 357.65h3v3h-3zM373.5 357.65h3v3h-3zM94.5 360.65h3v3h-3zM187.5 360.65h3v3h-3zM217.5 360.65h3v3h-3zM319.5 360.65h6v3h-6zM130.5 363.65h6v3h-6zM169.5 363.65h6v3h-6zM226.5 363.65h6v3h-6zM289.5 363.65h3v3h-3zM298.5 363.65h3v3h-3zM364.5 363.65h3v3h-3zM100.5 366.65h3v3h-3zM199.5 366.65h3v3h-3zM220.5 366.65h3v3h-3zM262.5 366.65h3v3h-3zM307.5 366.65h3v3h-3zM100.5 369.65h3v3h-3zM130.5 369.65h3v3h-3zM241.5 369.65h3v3h-3zM289.5 369.65h3v3h-3zM325.5 369.65h3v3h-3zM337.5 369.65h3v3h-3zM349.5 372.65h3v3h-3zM130.5 375.65h3v3h-3zM214.5 375.65h3v3h-3zM322.5 375.65h3v3h-3zM349.5 375.65h3v3h-3zM358.5 375.65h3v3h-3zM304.5 381.65h3v3h-3zM331.5 381.65h3v3h-3zM226.5 384.65h3v3h-3zM298.5 384.65h3v3h-3zM331.5 384.65h3v3h-3zM166.5 387.65h3v3h-3zM196.5 387.65h3v3h-3zM226.5 387.65h3v3h-3zM334.5 387.65h3v3h-3zM334.5 390.65h3v3h-3zM100.5 393.65h3v3h-3zM151.5 393.65h3v3h-3zM307.5 393.65h3v3h-3zM313.5 393.65h3v3h-3zM337.5 393.65h3v3h-3zM349.5 393.65h3v3h-3zM91.5 396.65h3v3h-3zM127.5 396.65h3v3h-3zM151.5 396.65h3v3h-3zM262.5 396.65h3v3h-3zM331.5 396.65h3v3h-3zM91.5 399.65h3v3h-3zM106.5 399.65h3v3h-3zM157.5 399.65h3v3h-3zM208.5 399.65h3v3h-3zM286.5 399.65h3v3h-3zM295.5 399.65h3v3h-3zM91.5 402.65h3v3h-3zM250.5 402.65h6v3h-6zM277.5 402.65h3v3h-3zM310.5 402.65h3v3h-3zM376.5 402.65h3v3h-3zM91.5 405.65h3v3h-3zM166.5 405.65h3v3h-3zM190.5 405.65h3v3h-3zM322.5 408.65h3v3h-3zM367.5 408.65h3v3h-3zM166.5 411.65h3v3h-3zM364.5 411.65h3v3h-3zM286.5 417.65h3v3h-3zM358.5 417.65h3v3h-3zM343.5 420.65h3v3h-3zM148.5 423.65h3v3h-3zM358.5 423.65h3v3h-3zM118.5 426.65h3v3h-3zM268.5 426.65h6v3h-6zM289.5 426.65h3v3h-3zM349.5 426.65h3v3h-3zM157.5 429.65h3v3h-3zM208.5 429.65h3v3h-3zM226.5 429.65h3v3h-3zM91.5 432.65h3v3h-3zM337.5 432.65h3v3h-3zM136.5 435.65h3v3h-3zM322.5 435.65h3v3h-3zM328.5 435.65h3v3h-3zM346.5 435.65h3v3h-3zM94.5 438.65h3v3h-3zM100.5 438.65h6v3h-6zM307.5 438.65h3v3h-3zM331.5 438.65h3v3h-3zM343.5 438.65h3v3h-3zM94.5 441.65h3v3h-3zM211.5 441.65h3v3h-3zM100.5 444.65h3v3h-3zM184.5 444.65h3v3h-3zM292.5 444.65h3v3h-3zM151.5 447.65h3v3h-3zM163.5 447.65h3v3h-3zM214.5 450.65h3v3h-3zM232.5 450.65h3v3h-3zM355.5 450.65h3v3h-3zM169.5 453.65h3v3h-3zM232.5 453.65h6v3h-6zM286.5 453.65h3v3h-3zM304.5 453.65h3v3h-3zM310.5 453.65h3v3h-3zM361.5 453.65h6v3h-6zM274.5 456.65h3v3h-3zM280.5 459.65h3v3h-3zM301.5 459.65h3v3h-3zM184.5 462.65h3v3h-3zM289.5 462.65h3v3h-3zM166.5 465.65h3v3h-3zM193.5 465.65h3v3h-3zM205.5 465.65h3v3h-3zM229.5 465.65h3v3h-3zM346.5 465.65h3v3h-3zM103.5 471.65h6v3h-6zM139.5 471.65h3v3h-3zM295.5 471.65h3v3h-3zM223.5 474.65h3v3h-3zM295.5 474.65h3v3h-3zM121.5 477.65h3v3h-3zM184.5 477.65h3v3h-3zM313.5 477.65h3v3h-3zM127.5 480.65h3v3h-3zM187.5 480.65h3v3h-3zM229.5 480.65h3v3h-3zM271.5 480.65h3v3h-3zM184.5 483.65h3v3h-3zM277.5 483.65h3v3h-3zM97.5 486.65h3v3h-3zM172.5 486.65h3v3h-3zM232.5 486.65h3v3h-3zM184.5 489.65h3v3h-3zM217.5 489.65h3v3h-3zM259.5 489.65h3v3h-3zM343.5 489.65h3v3h-3zM349.5 492.65h3v3h-3zM112.5 495.65h3v3h-3zM151.5 495.65h3v3h-3zM163.5 495.65h3v3h-3zM181.5 495.65h6v3h-6zM373.5 495.65h3v3h-3zM196.5 498.65h9v3h-9zM340.5 498.65h3v3h-3zM109.5 501.65h3v3h-3zM130.5 501.65h3v3h-3zM166.5 501.65h3v3h-3zM220.5 501.65h3v3h-3zM238.5 501.65h3v3h-3zM280.5 501.65h3v3h-3zM295.5 501.65h3v3h-3zM355.5 501.65h3v3h-3zM337.5 504.65h3v3h-3zM115.5 507.65h3v3h-3zM136.5 507.65h3v3h-3zM160.5 507.65h3v3h-3zM172.5 510.65h3v3h-3zM244.5 510.65h3v3h-3zM310.5 510.65h3v3h-3zM367.5 510.65h3v3h-3zM178.5 513.65h3v3h-3zM196.5 513.65h3v3h-3zM208.5 513.65h3v3h-3zM220.5 513.65h3v3h-3zM250.5 513.65h3v3h-3zM313.5 516.65h3v3h-3zM328.5 516.65h6v3h-6zM181.5 519.65h3v3h-3zM217.5 519.65h6v3h-6zM238.5 519.65h3v3h-3zM262.5 519.65h3v3h-3zM268.5 519.65h3v3h-3zM283.5 519.65h3v3h-3zM298.5 519.65h3v3h-3zM211.5 522.65h3v3h-3zM133.5 528.65h3v3h-3zM196.5 528.65h3v3h-3zM229.5 528.65h3v3h-3zM268.5 528.65h3v3h-3zM304.5 528.65h3v3h-3zM121.5 531.65h3v3h-3zM190.5 531.65h3v3h-3zM313.5 531.65h3v3h-3zM328.5 531.65h3v3h-3zM349.5 531.65h3v3h-3zM121.5 534.65h3v3h-3zM148.5 534.65h9v3h-9zM160.5 534.65h3v3h-3zM334.5 534.65h3v3h-3zM148.5 537.65h3v3h-3zM196.5 537.65h3v3h-3zM106.5 540.65h3v3h-3zM142.5 540.65h3v3h-3zM157.5 540.65h3v3h-3zM202.5 540.65h6v3h-6zM343.5 540.65h3v3h-3zM367.5 540.65h3v3h-3zM106.5 543.65h3v3h-3zM106.5 546.65h3v3h-3zM133.5 546.65h3v3h-3zM175.5 546.65h6v3h-6zM238.5 546.65h3v3h-3zM337.5 546.65h3v3h-3zM94.5 549.65h3v3h-3zM109.5 549.65h6v3h-6zM127.5 549.65h3v3h-3zM112.5 552.65h3v3h-3zM136.5 552.65h3v3h-3zM151.5 552.65h3v3h-3zM166.5 552.65h3v3h-3zM289.5 552.65h3v3h-3zM298.5 552.65h3v3h-3zM367.5 552.65h3v3h-3zM112.5 555.65h3v3h-3zM187.5 555.65h3v3h-3zM304.5 555.65h3v3h-3zM370.5 555.65h3v3h-3zM130.5 558.65h3v3h-3zM271.5 558.65h3v3h-3zM298.5 558.65h3v3h-3zM94.5 561.65h3v3h-3zM187.5 561.65h3v3h-3zM241.5 561.65h3v3h-3zM376.5 561.65h3v3h-3zM94.5 564.65h3v3h-3zM118.5 564.65h3v3h-3zM175.5 564.65h3v3h-3zM202.5 564.65h3v3h-3zM208.5 564.65h3v3h-3zM223.5 564.65h3v3h-3zM304.5 564.65h3v3h-3zM346.5 564.65h3v3h-3zM238.5 567.65h3v3h-3zM280.5 570.65h3v3h-3zM124.5 573.65h3v3h-3zM139.5 573.65h3v3h-3zM178.5 573.65h3v3h-3zM361.5 573.65h3v3h-3zM88.5 576.65h3v3h-3zM157.5 576.65h3v3h-3zM250.5 576.65h3v3h-3zM172.5 579.65h3v3h-3zM223.5 579.65h3v3h-3zM247.5 579.65h3v3h-3zM187.5 582.65h3v3h-3zM199.5 582.65h3v3h-3zM271.5 582.65h3v3h-3zM286.5 582.65h3v3h-3zM364.5 582.65h3v3h-3zM109.5 585.65h3v3h-3zM238.5 585.65h3v3h-3zM268.5 585.65h3v3h-3zM313.5 585.65h3v3h-3zM343.5 585.65h3v3h-3zM169.5 588.65h3v3h-3zM196.5 588.65h3v3h-3zM325.5 588.65h3v3h-3zM169.5 591.65h3v3h-3zM181.5 591.65h3v3h-3zM322.5 591.65h6v3h-6zM106.5 594.65h3v3h-3zM301.5 594.65h3v3h-3zM106.5 597.65h3v3h-3zM145.5 597.65h3v3h-3zM160.5 597.65h3v3h-3zM205.5 597.65h3v3h-3zM244.5 597.65h3v3h-3zM148.5 600.65h3v3h-3zM220.5 600.65h3v3h-3zM334.5 600.65h3v3h-3zM145.5 603.65h3v3h-3zM187.5 603.65h3v3h-3zM193.5 603.65h3v3h-3zM220.5 603.65h3v3h-3zM226.5 603.65h3v3h-3zM343.5 603.65h3v3h-3zM94.5 606.65h3v3h-3zM106.5 606.65h3v3h-3zM193.5 606.65h3v3h-3zM370.5 606.65h3v3h-3zM106.5 609.65h6v3h-6zM154.5 609.65h3v3h-3zM169.5 609.65h3v3h-3zM181.5 609.65h3v3h-3zM364.5 609.65h3v3h-3zM109.5 612.65h3v3h-3zM136.5 615.65h3v3h-3zM181.5 615.65h3v3h-3zM286.5 615.65h3v3h-3zM298.5 615.65h3v3h-3zM178.5 618.65h6v3h-6zM190.5 618.65h3v3h-3zM250.5 618.65h6v3h-6zM319.5 618.65h3v3h-3zM130.5 621.65h3v3h-3zM151.5 621.65h3v3h-3zM172.5 621.65h3v3h-3zM214.5 621.65h3v3h-3zM241.5 621.65h3v3h-3zM259.5 621.65h3v3h-3zM190.5 624.65h3v3h-3zM313.5 624.65h3v3h-3zM112.5 627.65h3v3h-3zM142.5 627.65h3v3h-3zM211.5 627.65h3v3h-3zM304.5 627.65h3v3h-3zM106.5 630.65h3v3h-3zM112.5 630.65h3v3h-3zM127.5 633.65h3v3h-3zM196.5 633.65h3v3h-3zM109.5 636.65h6v3h-6zM142.5 636.65h3v3h-3zM148.5 636.65h3v3h-3zM202.5 636.65h3v3h-3zM109.5 639.65h3v3h-3zM259.5 639.65h3v3h-3zM367.5 639.65h3v3h-3zM154.5 642.65h6v3h-6zM367.5 642.65h3v3h-3zM199.5 645.65h6v3h-6zM220.5 645.65h3v3h-3zM310.5 645.65h3v3h-3zM202.5 648.65h3v3h-3zM343.5 648.65h3v3h-3z"/>
<path fill="rgb(34,34,34)" d="M217.5 357.65h3v3h-3zM328.5 357.65h3v3h-3zM370.5 357.65h3v3h-3zM88.5 360.65h3v3h-3zM151.5 360.65h3v3h-3zM166.5 360.65h3v3h-3zM232.5 360.65h3v3h-3zM112.5 363.65h3v3h-3zM127.5 363.65h3v3h-3zM157.5 363.65h3v3h-3zM166.5 363.65h3v3h-3zM220.5 363.65h3v3h-3zM325.5 363.65h3v3h-3zM133.5 366.65h3v3h-3zM175.5 366.65h3v3h-3zM373.5 366.65h3v3h-3zM139.5 369.65h3v3h-3zM223.5 369.65h3v3h-3zM232.5 369.65h3v3h-3zM262.5 369.65h3v3h-3zM361.5 369.65h3v3h-3zM367.5 369.65h3v3h-3zM100.5 372.65h3v3h-3zM133.5 372.65h3v3h-3zM259.5 372.65h3v3h-3zM277.5 372.65h3v3h-3zM322.5 372.65h3v3h-3zM358.5 372.65h3v3h-3zM91.5 375.65h3v3h-3zM163.5 378.65h3v3h-3zM199.5 378.65h3v3h-3zM169.5 381.65h3v3h-3zM199.5 381.65h3v3h-3zM235.5 381.65h3v3h-3zM247.5 381.65h3v3h-3zM313.5 381.65h3v3h-3zM115.5 384.65h3v3h-3zM166.5 384.65h3v3h-3zM319.5 384.65h3v3h-3zM103.5 387.65h3v3h-3zM196.5 390.65h3v3h-3zM253.5 390.65h6v3h-6zM346.5 390.65h3v3h-3zM361.5 390.65h3v3h-3zM91.5 393.65h3v3h-3zM148.5 393.65h3v3h-3zM175.5 393.65h3v3h-3zM199.5 393.65h3v3h-3zM343.5 393.65h6v3h-6zM124.5 396.65h3v3h-3zM133.5 396.65h6v3h-6zM148.5 396.65h3v3h-3zM196.5 396.65h3v3h-3zM211.5 396.65h3v3h-3zM346.5 396.65h3v3h-3zM148.5 399.65h3v3h-3zM163.5 399.65h3v3h-3zM169.5 399.65h3v3h-3zM193.5 399.65h3v3h-3zM259.5 399.65h3v3h-3zM280.5 399.65h3v3h-3zM127.5 402.65h3v3h-3zM160.5 402.65h3v3h-3zM349.5 402.65h3v3h-3zM112.5 405.65h3v3h-3zM163.5 405.65h3v3h-3zM178.5 405.65h3v3h-3zM352.5 405.65h3v3h-3zM148.5 408.65h3v3h-3zM193.5 408.65h3v3h-3zM208.5 408.65h3v3h-3zM148.5 411.65h3v3h-3zM175.5 411.65h3v3h-3zM208.5 411.65h3v3h-3zM346.5 411.65h3v3h-3zM115.5 414.65h3v3h-3zM358.5 414.65h3v3h-3zM208.5 417.65h3v3h-3zM283.5 417.65h3v3h-3zM325.5 417.65h3v3h-3zM247.5 420.65h3v3h-3zM325.5 420.65h3v3h-3zM217.5 423.65h3v3h-3zM238.5 423.65h3v3h-3zM136.5 426.65h3v3h-3zM325.5 426.65h3v3h-3zM358.5 426.65h3v3h-3zM118.5 429.65h3v3h-3zM223.5 429.65h3v3h-3zM358.5 429.65h3v3h-3zM157.5 432.65h3v3h-3zM181.5 432.65h3v3h-3zM331.5 432.65h3v3h-3zM367.5 432.65h3v3h-3zM169.5 435.65h3v3h-3zM259.5 435.65h3v3h-3zM334.5 435.65h6v3h-6zM94.5 444.65h6v3h-6zM178.5 444.65h6v3h-6zM208.5 444.65h6v3h-6zM136.5 447.65h3v3h-3zM169.5 447.65h3v3h-3zM178.5 447.65h3v3h-3zM211.5 447.65h3v3h-3zM274.5 447.65h3v3h-3zM358.5 447.65h3v3h-3zM100.5 450.65h6v3h-6zM115.5 450.65h3v3h-3zM253.5 450.65h3v3h-3zM304.5 450.65h3v3h-3zM115.5 453.65h3v3h-3zM247.5 453.65h3v3h-3zM298.5 453.65h3v3h-3zM136.5 456.65h3v3h-3zM181.5 456.65h3v3h-3zM301.5 456.65h3v3h-3zM340.5 456.65h3v3h-3zM139.5 459.65h3v3h-3zM277.5 459.65h3v3h-3zM301.5 462.65h3v3h-3zM349.5 462.65h3v3h-3zM361.5 462.65h3v3h-3zM100.5 465.65h3v3h-3zM136.5 465.65h3v3h-3zM343.5 465.65h3v3h-3zM100.5 468.65h3v3h-3zM112.5 468.65h3v3h-3zM136.5 468.65h3v3h-3zM256.5 468.65h3v3h-3zM352.5 468.65h3v3h-3zM292.5 471.65h3v3h-3zM85.5 474.65h3v3h-3zM262.5 474.65h3v3h-3zM157.5 477.65h3v3h-3zM346.5 477.65h3v3h-3zM166.5 480.65h3v3h-3zM142.5 483.65h3v3h-3zM196.5 483.65h3v3h-3zM88.5 486.65h3v3h-3zM181.5 486.65h3v3h-3zM253.5 486.65h3v3h-3zM316.5 486.65h3v3h-3zM91.5 489.65h3v3h-3zM145.5 489.65h3v3h-3zM151.5 492.65h3v3h-3zM232.5 492.65h3v3h-3zM250.5 492.65h3v3h-3zM337.5 492.65h3v3h-3zM247.5 495.65h3v3h-3zM331.5 495.65h3v3h-3zM166.5 498.65h3v3h-3zM220.5 498.65h3v3h-3zM238.5 498.65h3v3h-3zM295.5 498.65h3v3h-3zM217.5 501.65h3v3h-3zM262.5 501.65h3v3h-3zM316.5 501.65h6v3h-6zM112.5 504.65h3v3h-3zM274.5 504.65h3v3h-3zM349.5 504.65h3v3h-3zM187.5 507.65h3v3h-3zM280.5 507.65h3v3h-3zM295.5 507.65h3v3h-3zM367.5 507.65h3v3h-3zM94.5 510.65h3v3h-3zM103.5 510.65h3v3h-3zM115.5 510.65h3v3h-3zM136.5 510.65h3v3h-3zM148.5 510.65h3v3h-3zM181.5 510.65h3v3h-3zM214.5 510.65h3v3h-3zM229.5 510.65h3v3h-3zM271.5 510.65h3v3h-3zM349.5 510.65h3v3h-3zM364.5 510.65h3v3h-3zM103.5 513.65h3v3h-3zM175.5 513.65h3v3h-3zM346.5 513.65h3v3h-3zM247.5 516.65h3v3h-3zM271.5 516.65h3v3h-3zM283.5 516.65h3v3h-3zM292.5 516.65h3v3h-3zM367.5 516.65h3v3h-3zM169.5 519.65h3v3h-3zM289.5 519.65h3v3h-3zM325.5 519.65h3v3h-3zM331.5 519.65h3v3h-3zM337.5 519.65h3v3h-3zM376.5 519.65h3v3h-3zM118.5 522.65h3v3h-3zM247.5 522.65h3v3h-3zM283.5 522.65h3v3h-3zM337.5 522.65h3v3h-3zM112.5 525.65h6v3h-6zM142.5 525.65h3v3h-3zM190.5 525.65h3v3h-3zM301.5 525.65h3v3h-3zM313.5 525.65h3v3h-3zM88.5 528.65h3v3h-3zM109.5 528.65h3v3h-3zM271.5 528.65h3v3h-3zM262.5 531.65h3v3h-3zM307.5 531.65h3v3h-3zM316.5 531.65h3v3h-3zM157.5 534.65h3v3h-3zM280.5 534.65h3v3h-3zM325.5 534.65h3v3h-3zM85.5 537.65h6v3h-6zM127.5 537.65h3v3h-3zM157.5 537.65h3v3h-3zM208.5 537.65h3v3h-3zM310.5 537.65h3v3h-3zM211.5 540.65h6v3h-6zM151.5 543.65h3v3h-3zM250.5 543.65h3v3h-3zM268.5 543.65h3v3h-3zM367.5 543.65h3v3h-3zM85.5 546.65h3v3h-3zM127.5 546.65h3v3h-3zM172.5 546.65h3v3h-3zM346.5 546.65h3v3h-3zM367.5 546.65h3v3h-3zM133.5 549.65h3v3h-3zM187.5 549.65h3v3h-3zM211.5 549.65h6v3h-6zM268.5 549.65h3v3h-3zM343.5 552.65h3v3h-3zM352.5 552.65h3v3h-3zM127.5 555.65h3v3h-3zM172.5 555.65h3v3h-3zM247.5 555.65h3v3h-3zM331.5 555.65h3v3h-3zM352.5 555.65h3v3h-3zM217.5 558.65h3v3h-3zM295.5 558.65h3v3h-3zM217.5 561.65h3v3h-3zM373.5 561.65h3v3h-3zM283.5 567.65h3v3h-3zM337.5 567.65h6v3h-6zM241.5 573.65h3v3h-3zM247.5 573.65h3v3h-3zM283.5 573.65h3v3h-3zM253.5 576.65h3v3h-3zM262.5 576.65h3v3h-3zM280.5 576.65h3v3h-3zM292.5 576.65h3v3h-3zM343.5 576.65h3v3h-3zM109.5 579.65h3v3h-3zM148.5 579.65h3v3h-3zM175.5 579.65h3v3h-3zM217.5 579.65h3v3h-3zM325.5 579.65h3v3h-3zM331.5 579.65h3v3h-3zM175.5 582.65h3v3h-3zM253.5 582.65h3v3h-3zM268.5 582.65h3v3h-3zM322.5 582.65h3v3h-3zM235.5 585.65h3v3h-3zM367.5 585.65h3v3h-3zM88.5 588.65h3v3h-3zM109.5 588.65h3v3h-3zM181.5 588.65h3v3h-3zM322.5 588.65h3v3h-3zM328.5 588.65h6v3h-6zM109.5 591.65h3v3h-3zM340.5 591.65h3v3h-3zM364.5 591.65h3v3h-3zM94.5 594.65h3v3h-3zM181.5 594.65h3v3h-3zM211.5 594.65h3v3h-3zM226.5 594.65h3v3h-3zM253.5 594.65h3v3h-3zM319.5 594.65h3v3h-3zM367.5 594.65h3v3h-3zM88.5 597.65h3v3h-3zM184.5 597.65h3v3h-3zM256.5 597.65h3v3h-3zM334.5 597.65h6v3h-6zM94.5 600.65h3v3h-3zM190.5 600.65h3v3h-3zM205.5 600.65h3v3h-3zM217.5 600.65h3v3h-3zM223.5 600.65h6v3h-6zM256.5 600.65h3v3h-3zM352.5 600.65h3v3h-3zM229.5 603.65h3v3h-3zM265.5 603.65h3v3h-3zM280.5 603.65h3v3h-3zM367.5 603.65h3v3h-3zM169.5 606.65h3v3h-3zM367.5 606.65h3v3h-3zM103.5 609.65h3v3h-3zM145.5 609.65h3v3h-3zM163.5 609.65h3v3h-3zM184.5 609.65h9v3h-9zM223.5 609.65h3v3h-3zM313.5 609.65h3v3h-3zM169.5 612.65h3v3h-3zM181.5 612.65h3v3h-3zM247.5 612.65h3v3h-3zM283.5 612.65h3v3h-3zM364.5 612.65h6v3h-6zM211.5 615.65h6v3h-6zM349.5 615.65h3v3h-3zM358.5 615.65h6v3h-6zM370.5 615.65h3v3h-3zM145.5 618.65h3v3h-3zM214.5 618.65h3v3h-3zM265.5 618.65h3v3h-3zM94.5 621.65h3v3h-3zM115.5 621.65h6v3h-6zM133.5 621.65h3v3h-3zM190.5 621.65h3v3h-3zM253.5 621.65h3v3h-3zM304.5 621.65h3v3h-3zM310.5 621.65h3v3h-3zM151.5 624.65h3v3h-3zM172.5 624.65h3v3h-3zM178.5 624.65h3v3h-3zM367.5 624.65h3v3h-3zM115.5 627.65h3v3h-3zM178.5 627.65h3v3h-3zM256.5 627.65h6v3h-6zM118.5 630.65h3v3h-3zM250.5 630.65h3v3h-3zM268.5 630.65h3v3h-3zM88.5 633.65h3v3h-3zM112.5 633.65h6v3h-6zM175.5 633.65h3v3h-3zM250.5 633.65h3v3h-3zM340.5 636.65h3v3h-3zM367.5 636.65h3v3h-3zM235.5 639.65h3v3h-3zM166.5 645.65h3v3h-3zM211.5 645.65h3v3h-3zM97.5 648.65h3v3h-3zM196.5 648.65h3v3h-3zM223.5 648.65h6v3h-6zM292.5 648.65h3v3h-3zM307.5 648.65h3v3h-3z"/>
<path fill="rgb(36,36,36)" d="M265.5 357.65h3v3h-3zM295.5 357.65h3v3h-3zM319.5 357.65h3v3h-3zM367.5 357.65h3v3h-3zM226.5 360.65h3v3h-3zM259.5 360.65h6v3h-6zM295.5 360.65h3v3h-3zM121.5 363.65h3v3h-3zM163.5 363.65h3v3h-3zM196.5 363.65h3v3h-3zM223.5 363.65h3v3h-3zM232.5 363.65h3v3h-3zM127.5 366.65h3v3h-3zM211.5 366.65h3v3h-3zM340.5 366.65h3v3h-3zM349.5 366.65h3v3h-3zM370.5 366.65h3v3h-3zM178.5 369.65h3v3h-3zM208.5 369.65h3v3h-3zM253.5 369.65h3v3h-3zM286.5 369.65h3v3h-3zM304.5 369.65h3v3h-3zM328.5 369.65h3v3h-3zM238.5 372.65h3v3h-3zM256.5 372.65h3v3h-3zM361.5 372.65h6v3h-6zM94.5 375.65h3v3h-3zM100.5 375.65h3v3h-3zM145.5 375.65h3v3h-3zM160.5 375.65h3v3h-3zM175.5 378.65h3v3h-3zM190.5 378.65h3v3h-3zM202.5 378.65h3v3h-3zM262.5 378.65h3v3h-3zM94.5 381.65h3v3h-3zM103.5 384.65h3v3h-3zM139.5 384.65h3v3h-3zM148.5 384.65h3v3h-3zM163.5 384.65h3v3h-3zM229.5 384.65h3v3h-3zM244.5 384.65h3v3h-3zM97.5 387.65h3v3h-3zM121.5 387.65h3v3h-3zM250.5 387.65h3v3h-3zM328.5 387.65h3v3h-3zM121.5 390.65h3v3h-3zM181.5 390.65h3v3h-3zM145.5 393.65h3v3h-3zM196.5 393.65h3v3h-3zM259.5 393.65h3v3h-3zM301.5 393.65h3v3h-3zM94.5 396.65h3v3h-3zM178.5 396.65h3v3h-3zM184.5 396.65h3v3h-3zM190.5 396.65h3v3h-3zM328.5 396.65h3v3h-3zM103.5 399.65h3v3h-3zM127.5 399.65h3v3h-3zM316.5 402.65h3v3h-3zM241.5 405.65h3v3h-3zM247.5 405.65h3v3h-3zM145.5 408.65h3v3h-3zM343.5 408.65h3v3h-3zM349.5 408.65h3v3h-3zM370.5 408.65h3v3h-3zM178.5 414.65h3v3h-3zM334.5 417.65h3v3h-3zM91.5 420.65h3v3h-3zM313.5 420.65h3v3h-3zM100.5 423.65h3v3h-3zM145.5 423.65h3v3h-3zM163.5 423.65h3v3h-3zM310.5 423.65h9v3h-9zM190.5 426.65h3v3h-3zM214.5 426.65h3v3h-3zM181.5 429.65h3v3h-3zM283.5 429.65h3v3h-3zM355.5 429.65h3v3h-3zM364.5 429.65h3v3h-3zM163.5 432.65h3v3h-3zM328.5 432.65h3v3h-3zM334.5 432.65h3v3h-3zM97.5 435.65h3v3h-3zM166.5 435.65h3v3h-3zM232.5 435.65h3v3h-3zM244.5 435.65h3v3h-3zM139.5 438.65h3v3h-3zM349.5 438.65h3v3h-3zM142.5 441.65h6v3h-6zM166.5 441.65h3v3h-3zM181.5 441.65h3v3h-3zM280.5 441.65h3v3h-3zM331.5 441.65h3v3h-3zM361.5 441.65h3v3h-3zM85.5 444.65h3v3h-3zM91.5 444.65h3v3h-3zM139.5 444.65h3v3h-3zM187.5 444.65h3v3h-3zM337.5 444.65h3v3h-3zM361.5 444.65h3v3h-3zM238.5 447.65h3v3h-3zM289.5 447.65h3v3h-3zM352.5 447.65h3v3h-3zM169.5 450.65h3v3h-3zM190.5 450.65h3v3h-3zM235.5 450.65h3v3h-3zM244.5 450.65h3v3h-3zM262.5 450.65h3v3h-3zM277.5 450.65h3v3h-3zM352.5 450.65h3v3h-3zM364.5 450.65h3v3h-3zM331.5 453.65h3v3h-3zM343.5 453.65h3v3h-3zM163.5 456.65h6v3h-6zM208.5 456.65h3v3h-3zM328.5 456.65h3v3h-3zM160.5 459.65h3v3h-3zM166.5 459.65h3v3h-3zM262.5 459.65h3v3h-3zM283.5 459.65h6v3h-6zM316.5 459.65h3v3h-3zM94.5 462.65h3v3h-3zM160.5 462.65h3v3h-3zM292.5 462.65h3v3h-3zM358.5 462.65h3v3h-3zM118.5 465.65h3v3h-3zM331.5 468.65h3v3h-3zM130.5 471.65h3v3h-3zM211.5 471.65h3v3h-3zM310.5 471.65h3v3h-3zM355.5 471.65h3v3h-3zM313.5 474.65h3v3h-3zM328.5 474.65h3v3h-3zM100.5 477.65h3v3h-3zM160.5 477.65h3v3h-3zM211.5 477.65h3v3h-3zM244.5 477.65h3v3h-3zM298.5 477.65h3v3h-3zM307.5 477.65h3v3h-3zM100.5 480.65h3v3h-3zM133.5 483.65h3v3h-3zM217.5 483.65h3v3h-3zM262.5 483.65h3v3h-3zM250.5 486.65h3v3h-3zM280.5 486.65h3v3h-3zM142.5 489.65h3v3h-3zM148.5 489.65h3v3h-3zM214.5 489.65h3v3h-3zM115.5 492.65h3v3h-3zM181.5 492.65h3v3h-3zM370.5 492.65h3v3h-3zM130.5 495.65h3v3h-3zM208.5 495.65h3v3h-3zM235.5 495.65h3v3h-3zM121.5 498.65h3v3h-3zM241.5 498.65h6v3h-6zM133.5 501.65h3v3h-3zM376.5 501.65h3v3h-3zM118.5 504.65h3v3h-3zM139.5 504.65h3v3h-3zM250.5 504.65h3v3h-3zM361.5 504.65h3v3h-3zM121.5 507.65h3v3h-3zM142.5 507.65h3v3h-3zM241.5 507.65h3v3h-3zM361.5 507.65h3v3h-3zM334.5 513.65h3v3h-3zM94.5 516.65h6v3h-6zM136.5 516.65h3v3h-3zM151.5 516.65h3v3h-3zM163.5 516.65h3v3h-3zM181.5 516.65h3v3h-3zM196.5 516.65h3v3h-3zM220.5 516.65h3v3h-3zM268.5 516.65h3v3h-3zM334.5 516.65h3v3h-3zM166.5 519.65h3v3h-3zM214.5 519.65h3v3h-3zM277.5 519.65h3v3h-3zM115.5 522.65h3v3h-3zM163.5 522.65h3v3h-3zM274.5 522.65h3v3h-3zM313.5 522.65h3v3h-3zM331.5 522.65h3v3h-3zM376.5 522.65h3v3h-3zM91.5 525.65h3v3h-3zM100.5 525.65h3v3h-3zM196.5 525.65h3v3h-3zM253.5 525.65h3v3h-3zM274.5 525.65h3v3h-3zM337.5 525.65h3v3h-3zM100.5 528.65h3v3h-3zM235.5 528.65h3v3h-3zM376.5 528.65h3v3h-3zM148.5 531.65h3v3h-3zM193.5 531.65h3v3h-3zM247.5 534.65h3v3h-3zM352.5 534.65h3v3h-3zM361.5 537.65h3v3h-3zM370.5 537.65h3v3h-3zM88.5 540.65h3v3h-3zM151.5 540.65h3v3h-3zM172.5 540.65h3v3h-3zM268.5 540.65h3v3h-3zM304.5 540.65h3v3h-3zM328.5 540.65h3v3h-3zM91.5 543.65h3v3h-3zM148.5 543.65h3v3h-3zM280.5 543.65h3v3h-3zM298.5 543.65h3v3h-3zM349.5 543.65h3v3h-3zM100.5 546.65h3v3h-3zM181.5 546.65h3v3h-3zM262.5 546.65h3v3h-3zM343.5 546.65h3v3h-3zM169.5 549.65h3v3h-3zM97.5 552.65h3v3h-3zM196.5 552.65h3v3h-3zM166.5 555.65h3v3h-3zM334.5 555.65h6v3h-6zM85.5 558.65h3v3h-3zM301.5 558.65h3v3h-3zM220.5 561.65h6v3h-6zM352.5 561.65h3v3h-3zM235.5 564.65h3v3h-3zM349.5 564.65h3v3h-3zM103.5 567.65h3v3h-3zM235.5 567.65h3v3h-3zM238.5 570.65h3v3h-3zM154.5 573.65h3v3h-3zM187.5 573.65h3v3h-3zM193.5 573.65h3v3h-3zM280.5 573.65h3v3h-3zM331.5 573.65h3v3h-3zM340.5 573.65h3v3h-3zM145.5 576.65h3v3h-3zM241.5 576.65h3v3h-3zM289.5 576.65h3v3h-3zM160.5 579.65h3v3h-3zM253.5 579.65h3v3h-3zM268.5 579.65h3v3h-3zM109.5 582.65h3v3h-3zM85.5 585.65h3v3h-3zM178.5 585.65h3v3h-3zM199.5 585.65h3v3h-3zM271.5 585.65h3v3h-3zM364.5 585.65h3v3h-3zM94.5 588.65h3v3h-3zM205.5 588.65h3v3h-3zM343.5 588.65h3v3h-3zM364.5 588.65h3v3h-3zM106.5 591.65h3v3h-3zM337.5 591.65h3v3h-3zM343.5 591.65h3v3h-3zM178.5 594.65h3v3h-3zM223.5 594.65h3v3h-3zM316.5 594.65h3v3h-3zM148.5 597.65h3v3h-3zM265.5 597.65h3v3h-3zM208.5 600.65h3v3h-3zM214.5 600.65h3v3h-3zM229.5 600.65h3v3h-3zM346.5 600.65h3v3h-3zM127.5 603.65h3v3h-3zM190.5 603.65h3v3h-3zM322.5 603.65h3v3h-3zM334.5 603.65h6v3h-6zM127.5 606.65h3v3h-3zM181.5 606.65h3v3h-3zM328.5 606.65h3v3h-3zM112.5 609.65h3v3h-3zM130.5 609.65h3v3h-3zM160.5 609.65h3v3h-3zM262.5 609.65h3v3h-3zM367.5 609.65h3v3h-3zM142.5 612.65h3v3h-3zM160.5 612.65h3v3h-3zM271.5 612.65h3v3h-3zM277.5 612.65h3v3h-3zM307.5 612.65h3v3h-3zM358.5 612.65h3v3h-3zM376.5 612.65h3v3h-3zM268.5 615.65h3v3h-3zM313.5 615.65h3v3h-3zM364.5 615.65h6v3h-6zM184.5 618.65h3v3h-3zM310.5 618.65h3v3h-3zM178.5 621.65h3v3h-3zM292.5 621.65h3v3h-3zM319.5 621.65h3v3h-3zM343.5 621.65h3v3h-3zM112.5 624.65h3v3h-3zM244.5 624.65h3v3h-3zM253.5 624.65h6v3h-6zM292.5 624.65h3v3h-3zM364.5 624.65h3v3h-3zM91.5 627.65h3v3h-3zM145.5 627.65h3v3h-3zM238.5 627.65h3v3h-3zM253.5 627.65h3v3h-3zM262.5 630.65h3v3h-3zM301.5 630.65h3v3h-3zM124.5 633.65h3v3h-3zM199.5 633.65h3v3h-3zM286.5 633.65h3v3h-3zM160.5 636.65h3v3h-3zM247.5 636.65h3v3h-3zM286.5 636.65h3v3h-3zM343.5 636.65h3v3h-3zM172.5 639.65h3v3h-3zM208.5 639.65h3v3h-3zM316.5 639.65h3v3h-3zM124.5 642.65h3v3h-3zM151.5 642.65h3v3h-3zM163.5 642.65h3v3h-3zM175.5 642.65h3v3h-3zM217.5 642.65h3v3h-3zM250.5 642.65h3v3h-3zM280.5 642.65h3v3h-3zM295.5 642.65h3v3h-3zM91.5 645.65h3v3h-3zM121.5 645.65h3v3h-3zM163.5 645.65h3v3h-3zM178.5 645.65h3v3h-3zM118.5 648.65h3v3h-3zM187.5 648.65h3v3h-3zM331.5 648.65h3v3h-3z"/>
<path fill="rgb(38,38,38)" d="M136.5 357.65h3v3h-3zM166.5 357.65h3v3h-3zM301.5 357.65h3v3h-3zM136.5 360.65h3v3h-3zM364.5 360.65h3v3h-3zM100.5 363.65h3v3h-3zM109.5 363.65h3v3h-3zM136.5 363.65h3v3h-3zM160.5 363.65h3v3h-3zM208.5 363.65h3v3h-3zM262.5 363.65h3v3h-3zM292.5 363.65h3v3h-3zM115.5 366.65h6v3h-6zM124.5 366.65h3v3h-3zM172.5 366.65h3v3h-3zM343.5 366.65h3v3h-3zM85.5 369.65h3v3h-3zM277.5 369.65h3v3h-3zM292.5 369.65h6v3h-6zM358.5 369.65h3v3h-3zM136.5 372.65h3v3h-3zM148.5 372.65h3v3h-3zM331.5 372.65h3v3h-3zM340.5 372.65h3v3h-3zM325.5 375.65h3v3h-3zM100.5 378.65h3v3h-3zM259.5 378.65h3v3h-3zM295.5 378.65h3v3h-3zM361.5 378.65h3v3h-3zM187.5 381.65h3v3h-3zM226.5 381.65h3v3h-3zM232.5 381.65h3v3h-3zM307.5 381.65h3v3h-3zM361.5 381.65h3v3h-3zM373.5 381.65h3v3h-3zM112.5 384.65h3v3h-3zM178.5 384.65h3v3h-3zM238.5 384.65h3v3h-3zM268.5 387.65h3v3h-3zM148.5 390.65h3v3h-3zM193.5 390.65h3v3h-3zM301.5 390.65h3v3h-3zM331.5 390.65h3v3h-3zM121.5 393.65h3v3h-3zM130.5 393.65h3v3h-3zM265.5 393.65h3v3h-3zM304.5 393.65h3v3h-3zM316.5 393.65h3v3h-3zM331.5 393.65h3v3h-3zM172.5 396.65h3v3h-3zM214.5 396.65h6v3h-6zM334.5 396.65h3v3h-3zM109.5 399.65h3v3h-3zM160.5 399.65h3v3h-3zM283.5 399.65h3v3h-3zM364.5 399.65h3v3h-3zM169.5 402.65h3v3h-3zM229.5 402.65h3v3h-3zM244.5 402.65h6v3h-6zM343.5 402.65h3v3h-3zM181.5 405.65h3v3h-3zM250.5 405.65h3v3h-3zM307.5 405.65h3v3h-3zM313.5 405.65h3v3h-3zM343.5 405.65h9v3h-9zM376.5 405.65h3v3h-3zM100.5 408.65h3v3h-3zM115.5 408.65h3v3h-3zM259.5 408.65h3v3h-3zM346.5 408.65h3v3h-3zM352.5 408.65h3v3h-3zM151.5 411.65h3v3h-3zM169.5 411.65h3v3h-3zM343.5 411.65h3v3h-3zM148.5 414.65h3v3h-3zM340.5 414.65h3v3h-3zM214.5 417.65h3v3h-3zM331.5 417.65h3v3h-3zM337.5 417.65h3v3h-3zM133.5 420.65h3v3h-3zM190.5 420.65h3v3h-3zM241.5 420.65h3v3h-3zM298.5 420.65h3v3h-3zM328.5 420.65h3v3h-3zM166.5 423.65h3v3h-3zM292.5 423.65h3v3h-3zM133.5 426.65h3v3h-3zM169.5 426.65h3v3h-3zM208.5 426.65h3v3h-3zM238.5 426.65h3v3h-3zM250.5 426.65h3v3h-3zM307.5 426.65h3v3h-3zM352.5 426.65h3v3h-3zM100.5 429.65h3v3h-3zM163.5 429.65h3v3h-3zM214.5 429.65h3v3h-3zM256.5 429.65h3v3h-3zM286.5 429.65h3v3h-3zM334.5 429.65h3v3h-3zM343.5 429.65h3v3h-3zM367.5 429.65h3v3h-3zM136.5 432.65h3v3h-3zM229.5 432.65h3v3h-3zM259.5 432.65h3v3h-3zM127.5 435.65h3v3h-3zM304.5 435.65h3v3h-3zM316.5 435.65h3v3h-3zM325.5 435.65h3v3h-3zM97.5 438.65h3v3h-3zM136.5 438.65h3v3h-3zM178.5 438.65h3v3h-3zM229.5 438.65h6v3h-6zM268.5 438.65h3v3h-3zM325.5 438.65h3v3h-3zM337.5 438.65h6v3h-6zM370.5 438.65h3v3h-3zM103.5 441.65h3v3h-3zM178.5 441.65h3v3h-3zM319.5 441.65h3v3h-3zM355.5 441.65h3v3h-3zM88.5 444.65h3v3h-3zM154.5 444.65h3v3h-3zM91.5 447.65h3v3h-3zM118.5 447.65h3v3h-3zM127.5 447.65h3v3h-3zM361.5 447.65h3v3h-3zM106.5 450.65h6v3h-6zM205.5 450.65h3v3h-3zM331.5 450.65h3v3h-3zM361.5 450.65h3v3h-3zM91.5 453.65h3v3h-3zM97.5 453.65h3v3h-3zM109.5 453.65h3v3h-3zM265.5 453.65h3v3h-3zM295.5 453.65h3v3h-3zM337.5 453.65h3v3h-3zM358.5 453.65h3v3h-3zM205.5 456.65h3v3h-3zM211.5 456.65h3v3h-3zM259.5 456.65h3v3h-3zM316.5 456.65h3v3h-3zM343.5 456.65h3v3h-3zM358.5 456.65h3v3h-3zM157.5 459.65h3v3h-3zM163.5 459.65h3v3h-3zM202.5 459.65h3v3h-3zM136.5 462.65h6v3h-6zM154.5 462.65h3v3h-3zM169.5 462.65h6v3h-6zM313.5 462.65h3v3h-3zM337.5 462.65h3v3h-3zM199.5 465.65h3v3h-3zM220.5 465.65h3v3h-3zM226.5 465.65h3v3h-3zM307.5 468.65h3v3h-3zM238.5 471.65h3v3h-3zM250.5 471.65h6v3h-6zM148.5 474.65h3v3h-3zM211.5 474.65h3v3h-3zM154.5 477.65h3v3h-3zM172.5 477.65h3v3h-3zM181.5 477.65h3v3h-3zM316.5 480.65h3v3h-3zM343.5 480.65h3v3h-3zM214.5 483.65h3v3h-3zM232.5 483.65h3v3h-3zM142.5 486.65h6v3h-6zM202.5 486.65h3v3h-3zM118.5 489.65h3v3h-3zM181.5 489.65h3v3h-3zM85.5 492.65h3v3h-3zM205.5 492.65h3v3h-3zM268.5 492.65h3v3h-3zM121.5 495.65h3v3h-3zM178.5 498.65h3v3h-3zM223.5 498.65h3v3h-3zM139.5 501.65h3v3h-3zM277.5 501.65h3v3h-3zM115.5 504.65h3v3h-3zM136.5 504.65h3v3h-3zM313.5 504.65h3v3h-3zM364.5 504.65h3v3h-3zM163.5 507.65h3v3h-3zM184.5 507.65h3v3h-3zM271.5 507.65h3v3h-3zM334.5 507.65h3v3h-3zM157.5 510.65h3v3h-3zM334.5 510.65h3v3h-3zM343.5 510.65h3v3h-3zM136.5 513.65h3v3h-3zM181.5 513.65h3v3h-3zM286.5 513.65h3v3h-3zM121.5 516.65h3v3h-3zM277.5 516.65h3v3h-3zM370.5 516.65h3v3h-3zM199.5 519.65h3v3h-3zM265.5 519.65h3v3h-3zM94.5 522.65h3v3h-3zM133.5 522.65h9v3h-9zM250.5 522.65h3v3h-3zM319.5 522.65h3v3h-3zM160.5 528.65h3v3h-3zM286.5 528.65h3v3h-3zM298.5 528.65h3v3h-3zM352.5 528.65h3v3h-3zM337.5 531.65h3v3h-3zM352.5 531.65h3v3h-3zM208.5 534.65h3v3h-3zM277.5 534.65h3v3h-3zM328.5 534.65h3v3h-3zM346.5 534.65h6v3h-6zM370.5 534.65h3v3h-3zM349.5 537.65h3v3h-3zM364.5 537.65h3v3h-3zM109.5 540.65h3v3h-3zM154.5 540.65h3v3h-3zM349.5 540.65h3v3h-3zM109.5 543.65h3v3h-3zM172.5 543.65h3v3h-3zM301.5 543.65h3v3h-3zM88.5 546.65h6v3h-6zM109.5 546.65h3v3h-3zM148.5 546.65h3v3h-3zM193.5 546.65h6v3h-6zM253.5 546.65h3v3h-3zM265.5 546.65h3v3h-3zM340.5 546.65h3v3h-3zM148.5 549.65h3v3h-3zM178.5 549.65h3v3h-3zM184.5 549.65h3v3h-3zM265.5 549.65h3v3h-3zM364.5 549.65h3v3h-3zM130.5 552.65h3v3h-3zM169.5 555.65h3v3h-3zM175.5 555.65h3v3h-3zM265.5 555.65h3v3h-3zM103.5 558.65h3v3h-3zM247.5 558.65h3v3h-3zM304.5 558.65h6v3h-6zM88.5 561.65h3v3h-3zM238.5 561.65h3v3h-3zM274.5 561.65h6v3h-6zM328.5 564.65h3v3h-3zM334.5 564.65h3v3h-3zM193.5 567.65h3v3h-3zM97.5 570.65h3v3h-3zM289.5 570.65h3v3h-3zM190.5 573.65h3v3h-3zM271.5 573.65h3v3h-3zM124.5 576.65h3v3h-3zM142.5 576.65h3v3h-3zM313.5 576.65h3v3h-3zM136.5 579.65h3v3h-3zM145.5 579.65h3v3h-3zM220.5 579.65h3v3h-3zM244.5 579.65h3v3h-3zM226.5 582.65h3v3h-3zM349.5 582.65h3v3h-3zM106.5 585.65h3v3h-3zM154.5 585.65h3v3h-3zM250.5 585.65h3v3h-3zM319.5 585.65h3v3h-3zM370.5 585.65h6v3h-6zM106.5 588.65h3v3h-3zM112.5 588.65h3v3h-3zM316.5 588.65h3v3h-3zM205.5 591.65h3v3h-3zM232.5 591.65h3v3h-3zM160.5 594.65h3v3h-3zM172.5 594.65h3v3h-3zM325.5 594.65h3v3h-3zM208.5 597.65h3v3h-3zM223.5 597.65h3v3h-3zM319.5 597.65h6v3h-6zM187.5 600.65h3v3h-3zM211.5 600.65h3v3h-3zM364.5 600.65h3v3h-3zM94.5 603.65h3v3h-3zM133.5 603.65h3v3h-3zM151.5 603.65h3v3h-3zM166.5 603.65h3v3h-3zM184.5 603.65h3v3h-3zM214.5 603.65h6v3h-6zM241.5 603.65h3v3h-3zM319.5 603.65h3v3h-3zM133.5 606.65h3v3h-3zM145.5 606.65h3v3h-3zM220.5 606.65h3v3h-3zM229.5 606.65h3v3h-3zM316.5 606.65h3v3h-3zM325.5 606.65h3v3h-3zM211.5 609.65h3v3h-3zM115.5 612.65h3v3h-3zM253.5 612.65h3v3h-3zM274.5 612.65h3v3h-3zM352.5 612.65h3v3h-3zM232.5 615.65h3v3h-3zM253.5 615.65h3v3h-3zM283.5 615.65h3v3h-3zM373.5 615.65h3v3h-3zM103.5 618.65h3v3h-3zM217.5 618.65h3v3h-3zM247.5 618.65h3v3h-3zM136.5 621.65h3v3h-3zM163.5 621.65h3v3h-3zM181.5 621.65h6v3h-6zM217.5 621.65h3v3h-3zM244.5 621.65h3v3h-3zM181.5 624.65h6v3h-6zM226.5 624.65h3v3h-3zM361.5 624.65h3v3h-3zM370.5 624.65h3v3h-3zM148.5 627.65h3v3h-3zM370.5 627.65h3v3h-3zM253.5 630.65h3v3h-3zM163.5 633.65h3v3h-3zM298.5 636.65h3v3h-3zM205.5 639.65h3v3h-3zM217.5 639.65h3v3h-3zM160.5 642.65h3v3h-3zM355.5 642.65h3v3h-3zM292.5 645.65h3v3h-3zM313.5 645.65h3v3h-3zM142.5 648.65h3v3h-3zM160.5 648.65h6v3h-6zM277.5 648.65h3v3h-3z"/>
<path fill="rgb(40,40,40)" d="M238.5 357.65h3v3h-3zM259.5 357.65h3v3h-3zM91.5 360.65h3v3h-3zM157.5 360.65h3v3h-3zM190.5 360.65h3v3h-3zM328.5 360.65h3v3h-3zM124.5 363.65h3v3h-3zM343.5 363.65h3v3h-3zM121.5 366.65h3v3h-3zM130.5 366.65h3v3h-3zM139.5 366.65h3v3h-3zM208.5 366.65h3v3h-3zM289.5 366.65h3v3h-3zM328.5 366.65h3v3h-3zM154.5 369.65h3v3h-3zM244.5 369.65h3v3h-3zM280.5 369.65h6v3h-6zM307.5 369.65h3v3h-3zM181.5 372.65h6v3h-6zM202.5 372.65h3v3h-3zM244.5 372.65h3v3h-3zM325.5 372.65h6v3h-6zM118.5 375.65h3v3h-3zM202.5 375.65h3v3h-3zM238.5 375.65h3v3h-3zM244.5 375.65h3v3h-3zM259.5 375.65h3v3h-3zM265.5 375.65h3v3h-3zM265.5 378.65h3v3h-3zM376.5 378.65h3v3h-3zM208.5 381.65h3v3h-3zM310.5 381.65h3v3h-3zM106.5 384.65h3v3h-3zM118.5 384.65h3v3h-3zM160.5 384.65h3v3h-3zM187.5 384.65h3v3h-3zM202.5 384.65h3v3h-3zM373.5 384.65h3v3h-3zM100.5 387.65h3v3h-3zM325.5 387.65h3v3h-3zM346.5 387.65h3v3h-3zM361.5 387.65h3v3h-3zM118.5 390.65h3v3h-3zM163.5 390.65h3v3h-3zM199.5 390.65h3v3h-3zM259.5 390.65h3v3h-3zM337.5 390.65h3v3h-3zM334.5 393.65h3v3h-3zM103.5 396.65h3v3h-3zM130.5 396.65h3v3h-3zM187.5 396.65h3v3h-3zM193.5 396.65h3v3h-3zM172.5 399.65h3v3h-3zM346.5 399.65h3v3h-3zM100.5 402.65h3v3h-3zM178.5 402.65h3v3h-3zM100.5 405.65h3v3h-3zM139.5 405.65h3v3h-3zM241.5 408.65h3v3h-3zM172.5 411.65h3v3h-3zM343.5 414.65h3v3h-3zM361.5 414.65h3v3h-3zM178.5 417.65h3v3h-3zM253.5 417.65h3v3h-3zM343.5 417.65h3v3h-3zM238.5 420.65h3v3h-3zM244.5 420.65h3v3h-3zM340.5 420.65h3v3h-3zM190.5 423.65h3v3h-3zM241.5 423.65h3v3h-3zM247.5 423.65h3v3h-3zM319.5 423.65h6v3h-6zM331.5 423.65h3v3h-3zM340.5 423.65h3v3h-3zM127.5 426.65h6v3h-6zM220.5 426.65h3v3h-3zM334.5 426.65h3v3h-3zM97.5 432.65h3v3h-3zM187.5 432.65h3v3h-3zM298.5 432.65h3v3h-3zM361.5 432.65h3v3h-3zM211.5 435.65h3v3h-3zM247.5 435.65h3v3h-3zM277.5 435.65h3v3h-3zM169.5 438.65h3v3h-3zM187.5 438.65h3v3h-3zM253.5 438.65h3v3h-3zM274.5 438.65h3v3h-3zM316.5 438.65h3v3h-3zM328.5 438.65h3v3h-3zM361.5 438.65h3v3h-3zM97.5 441.65h6v3h-6zM337.5 441.65h3v3h-3zM346.5 441.65h3v3h-3zM367.5 441.65h3v3h-3zM307.5 444.65h3v3h-3zM331.5 444.65h3v3h-3zM208.5 447.65h3v3h-3zM124.5 450.65h3v3h-3zM211.5 450.65h3v3h-3zM328.5 450.65h3v3h-3zM358.5 450.65h3v3h-3zM205.5 453.65h3v3h-3zM184.5 456.65h3v3h-3zM295.5 456.65h3v3h-3zM88.5 459.65h3v3h-3zM181.5 459.65h3v3h-3zM229.5 459.65h3v3h-3zM319.5 459.65h3v3h-3zM340.5 459.65h3v3h-3zM358.5 459.65h3v3h-3zM163.5 462.65h6v3h-6zM196.5 462.65h6v3h-6zM280.5 462.65h3v3h-3zM310.5 462.65h3v3h-3zM340.5 462.65h3v3h-3zM352.5 462.65h3v3h-3zM97.5 465.65h3v3h-3zM223.5 465.65h3v3h-3zM301.5 465.65h3v3h-3zM310.5 465.65h3v3h-3zM328.5 465.65h3v3h-3zM334.5 465.65h3v3h-3zM376.5 465.65h3v3h-3zM169.5 468.65h3v3h-3zM253.5 468.65h3v3h-3zM133.5 471.65h6v3h-6zM220.5 471.65h3v3h-3zM289.5 471.65h3v3h-3zM322.5 471.65h3v3h-3zM91.5 474.65h3v3h-3zM136.5 474.65h3v3h-3zM256.5 474.65h3v3h-3zM298.5 474.65h3v3h-3zM136.5 477.65h3v3h-3zM175.5 477.65h6v3h-6zM220.5 477.65h3v3h-3zM229.5 477.65h3v3h-3zM358.5 480.65h3v3h-3zM145.5 483.65h3v3h-3zM259.5 483.65h3v3h-3zM295.5 483.65h3v3h-3zM139.5 486.65h3v3h-3zM169.5 486.65h3v3h-3zM175.5 486.65h6v3h-6zM214.5 486.65h6v3h-6zM151.5 489.65h3v3h-3zM169.5 489.65h3v3h-3zM235.5 489.65h3v3h-3zM253.5 489.65h3v3h-3zM139.5 492.65h3v3h-3zM154.5 492.65h3v3h-3zM136.5 495.65h3v3h-3zM166.5 495.65h3v3h-3zM241.5 495.65h3v3h-3zM361.5 495.65h3v3h-3zM208.5 498.65h3v3h-3zM178.5 501.65h3v3h-3zM358.5 501.65h6v3h-6zM166.5 504.65h3v3h-3zM238.5 504.65h3v3h-3zM280.5 504.65h3v3h-3zM295.5 504.65h3v3h-3zM343.5 504.65h3v3h-3zM139.5 507.65h3v3h-3zM166.5 507.65h3v3h-3zM289.5 507.65h3v3h-3zM193.5 510.65h3v3h-3zM268.5 510.65h3v3h-3zM376.5 510.65h3v3h-3zM94.5 513.65h3v3h-3zM160.5 513.65h3v3h-3zM253.5 513.65h3v3h-3zM274.5 513.65h3v3h-3zM205.5 516.65h3v3h-3zM235.5 516.65h3v3h-3zM94.5 519.65h3v3h-3zM136.5 519.65h3v3h-3zM247.5 519.65h3v3h-3zM271.5 519.65h3v3h-3zM352.5 519.65h3v3h-3zM280.5 522.65h3v3h-3zM316.5 522.65h3v3h-3zM133.5 525.65h3v3h-3zM232.5 525.65h3v3h-3zM364.5 525.65h3v3h-3zM373.5 525.65h3v3h-3zM145.5 528.65h3v3h-3zM187.5 528.65h3v3h-3zM88.5 531.65h3v3h-3zM208.5 531.65h3v3h-3zM118.5 534.65h3v3h-3zM151.5 537.65h6v3h-6zM307.5 537.65h3v3h-3zM313.5 537.65h3v3h-3zM355.5 537.65h3v3h-3zM367.5 537.65h3v3h-3zM85.5 540.65h3v3h-3zM322.5 540.65h3v3h-3zM346.5 543.65h3v3h-3zM319.5 546.65h3v3h-3zM172.5 549.65h6v3h-6zM307.5 549.65h3v3h-3zM331.5 549.65h3v3h-3zM358.5 549.65h3v3h-3zM187.5 552.65h3v3h-3zM298.5 555.65h3v3h-3zM367.5 555.65h3v3h-3zM232.5 558.65h3v3h-3zM310.5 558.65h3v3h-3zM319.5 558.65h3v3h-3zM304.5 561.65h3v3h-3zM256.5 564.65h3v3h-3zM337.5 564.65h3v3h-3zM286.5 567.65h3v3h-3zM316.5 567.65h3v3h-3zM355.5 567.65h3v3h-3zM187.5 570.65h3v3h-3zM268.5 570.65h3v3h-3zM97.5 573.65h3v3h-3zM274.5 573.65h6v3h-6zM118.5 576.65h3v3h-3zM136.5 576.65h3v3h-3zM190.5 576.65h3v3h-3zM151.5 579.65h3v3h-3zM97.5 582.65h3v3h-3zM184.5 582.65h3v3h-3zM217.5 582.65h3v3h-3zM256.5 582.65h3v3h-3zM340.5 582.65h3v3h-3zM103.5 585.65h3v3h-3zM181.5 585.65h3v3h-3zM247.5 585.65h3v3h-3zM316.5 585.65h3v3h-3zM121.5 588.65h3v3h-3zM277.5 588.65h3v3h-3zM313.5 588.65h3v3h-3zM319.5 588.65h3v3h-3zM160.5 591.65h3v3h-3zM316.5 591.65h6v3h-6zM334.5 591.65h3v3h-3zM91.5 594.65h3v3h-3zM247.5 594.65h3v3h-3zM286.5 594.65h3v3h-3zM220.5 597.65h3v3h-3zM226.5 597.65h3v3h-3zM298.5 597.65h3v3h-3zM316.5 597.65h3v3h-3zM349.5 597.65h3v3h-3zM265.5 600.65h3v3h-3zM232.5 603.65h3v3h-3zM190.5 606.65h3v3h-3zM289.5 606.65h3v3h-3zM304.5 606.65h3v3h-3zM151.5 609.65h3v3h-3zM358.5 609.65h3v3h-3zM184.5 612.65h6v3h-6zM250.5 612.65h3v3h-3zM112.5 615.65h3v3h-3zM118.5 615.65h3v3h-3zM184.5 615.65h3v3h-3zM220.5 615.65h3v3h-3zM310.5 615.65h3v3h-3zM175.5 618.65h3v3h-3zM232.5 618.65h3v3h-3zM256.5 621.65h3v3h-3zM187.5 624.65h3v3h-3zM229.5 624.65h3v3h-3zM238.5 624.65h3v3h-3zM304.5 624.65h3v3h-3zM316.5 624.65h3v3h-3zM268.5 627.65h3v3h-3zM367.5 627.65h3v3h-3zM103.5 630.65h3v3h-3zM370.5 630.65h3v3h-3zM97.5 633.65h3v3h-3zM145.5 636.65h3v3h-3zM136.5 639.65h6v3h-6zM160.5 639.65h3v3h-3zM358.5 642.65h3v3h-3zM142.5 645.65h3v3h-3zM160.5 645.65h3v3h-3zM217.5 645.65h3v3h-3zM85.5 648.65h3v3h-3zM100.5 648.65h3v3h-3zM181.5 648.65h6v3h-6zM214.5 648.65h3v3h-3zM220.5 648.65h3v3h-3z"/>
<path fill="rgb(42,42,42)" d="M154.5 357.65h3v3h-3zM97.5 360.65h3v3h-3zM163.5 360.65h3v3h-3zM298.5 360.65h3v3h-3zM358.5 360.65h3v3h-3zM199.5 363.65h3v3h-3zM193.5 366.65h3v3h-3zM202.5 366.65h3v3h-3zM295.5 366.65h3v3h-3zM343.5 369.65h3v3h-3zM349.5 369.65h3v3h-3zM178.5 372.65h3v3h-3zM199.5 372.65h3v3h-3zM211.5 372.65h3v3h-3zM268.5 372.65h3v3h-3zM295.5 372.65h3v3h-3zM310.5 372.65h3v3h-3zM178.5 375.65h3v3h-3zM256.5 375.65h3v3h-3zM262.5 375.65h3v3h-3zM268.5 375.65h3v3h-3zM274.5 375.65h3v3h-3zM115.5 378.65h3v3h-3zM178.5 378.65h3v3h-3zM238.5 378.65h6v3h-6zM307.5 378.65h3v3h-3zM100.5 381.65h3v3h-3zM133.5 381.65h3v3h-3zM178.5 381.65h3v3h-3zM202.5 381.65h6v3h-6zM262.5 381.65h3v3h-3zM301.5 381.65h3v3h-3zM250.5 384.65h3v3h-3zM313.5 384.65h3v3h-3zM361.5 384.65h3v3h-3zM148.5 387.65h3v3h-3zM145.5 396.65h3v3h-3zM319.5 396.65h3v3h-3zM124.5 399.65h3v3h-3zM175.5 399.65h3v3h-3zM190.5 399.65h3v3h-3zM211.5 399.65h3v3h-3zM217.5 399.65h3v3h-3zM319.5 399.65h3v3h-3zM325.5 399.65h3v3h-3zM109.5 402.65h3v3h-3zM166.5 402.65h3v3h-3zM232.5 402.65h3v3h-3zM256.5 402.65h3v3h-3zM130.5 405.65h3v3h-3zM142.5 405.65h3v3h-3zM184.5 405.65h6v3h-6zM94.5 408.65h3v3h-3zM118.5 408.65h3v3h-3zM247.5 408.65h3v3h-3zM316.5 408.65h6v3h-6zM238.5 411.65h3v3h-3zM145.5 414.65h3v3h-3zM364.5 414.65h6v3h-6zM373.5 414.65h3v3h-3zM223.5 417.65h3v3h-3zM151.5 420.65h6v3h-6zM178.5 420.65h3v3h-3zM220.5 423.65h3v3h-3zM97.5 426.65h3v3h-3zM313.5 426.65h3v3h-3zM94.5 429.65h3v3h-3zM211.5 429.65h3v3h-3zM337.5 429.65h6v3h-6zM361.5 429.65h3v3h-3zM283.5 432.65h3v3h-3zM358.5 432.65h3v3h-3zM94.5 435.65h3v3h-3zM133.5 435.65h3v3h-3zM235.5 441.65h3v3h-3zM364.5 441.65h3v3h-3zM121.5 444.65h3v3h-3zM226.5 444.65h3v3h-3zM232.5 447.65h3v3h-3zM316.5 447.65h3v3h-3zM331.5 447.65h3v3h-3zM364.5 447.65h6v3h-6zM121.5 450.65h3v3h-3zM238.5 450.65h3v3h-3zM280.5 450.65h3v3h-3zM343.5 450.65h3v3h-3zM163.5 453.65h3v3h-3zM187.5 453.65h3v3h-3zM355.5 453.65h3v3h-3zM94.5 456.65h3v3h-3zM238.5 456.65h3v3h-3zM367.5 456.65h3v3h-3zM136.5 459.65h3v3h-3zM100.5 462.65h3v3h-3zM157.5 462.65h3v3h-3zM202.5 462.65h3v3h-3zM355.5 462.65h3v3h-3zM169.5 465.65h3v3h-3zM253.5 465.65h3v3h-3zM217.5 468.65h3v3h-3zM292.5 468.65h3v3h-3zM298.5 471.65h3v3h-3zM319.5 471.65h3v3h-3zM169.5 474.65h3v3h-3zM244.5 474.65h3v3h-3zM310.5 474.65h3v3h-3zM277.5 477.65h3v3h-3zM292.5 477.65h3v3h-3zM358.5 477.65h3v3h-3zM139.5 480.65h3v3h-3zM277.5 480.65h3v3h-3zM193.5 483.65h3v3h-3zM265.5 483.65h3v3h-3zM316.5 483.65h3v3h-3zM184.5 486.65h3v3h-3zM262.5 486.65h3v3h-3zM343.5 486.65h3v3h-3zM187.5 489.65h3v3h-3zM256.5 489.65h3v3h-3zM265.5 489.65h3v3h-3zM127.5 492.65h3v3h-3zM169.5 492.65h3v3h-3zM193.5 492.65h3v3h-3zM376.5 492.65h3v3h-3zM229.5 495.65h3v3h-3zM352.5 495.65h6v3h-6zM130.5 498.65h3v3h-3zM205.5 498.65h3v3h-3zM235.5 498.65h3v3h-3zM352.5 498.65h3v3h-3zM226.5 501.65h3v3h-3zM235.5 501.65h3v3h-3zM346.5 504.65h3v3h-3zM118.5 507.65h3v3h-3zM250.5 507.65h3v3h-3zM349.5 507.65h3v3h-3zM121.5 510.65h3v3h-3zM163.5 510.65h3v3h-3zM250.5 510.65h3v3h-3zM121.5 513.65h3v3h-3zM148.5 513.65h3v3h-3zM163.5 513.65h3v3h-3zM244.5 513.65h3v3h-3zM277.5 513.65h3v3h-3zM289.5 513.65h3v3h-3zM331.5 513.65h3v3h-3zM85.5 516.65h3v3h-3zM91.5 516.65h3v3h-3zM274.5 516.65h3v3h-3zM184.5 519.65h3v3h-3zM202.5 519.65h3v3h-3zM241.5 519.65h6v3h-6zM286.5 519.65h3v3h-3zM316.5 519.65h3v3h-3zM334.5 519.65h3v3h-3zM373.5 519.65h3v3h-3zM151.5 522.65h3v3h-3zM358.5 522.65h3v3h-3zM103.5 528.65h3v3h-3zM127.5 528.65h3v3h-3zM301.5 528.65h3v3h-3zM337.5 528.65h3v3h-3zM115.5 534.65h3v3h-3zM310.5 534.65h6v3h-6zM331.5 534.65h3v3h-3zM172.5 537.65h3v3h-3zM199.5 537.65h3v3h-3zM283.5 537.65h3v3h-3zM325.5 537.65h3v3h-3zM331.5 537.65h3v3h-3zM286.5 540.65h3v3h-3zM145.5 543.65h3v3h-3zM268.5 546.65h3v3h-3zM283.5 546.65h3v3h-3zM310.5 546.65h3v3h-3zM370.5 546.65h3v3h-3zM139.5 549.65h3v3h-3zM181.5 549.65h3v3h-3zM229.5 549.65h3v3h-3zM247.5 549.65h3v3h-3zM190.5 552.65h3v3h-3zM283.5 552.65h3v3h-3zM151.5 555.65h3v3h-3zM202.5 555.65h3v3h-3zM142.5 558.65h3v3h-3zM250.5 558.65h3v3h-3zM289.5 558.65h6v3h-6zM130.5 561.65h3v3h-3zM235.5 561.65h3v3h-3zM280.5 561.65h6v3h-6zM322.5 561.65h3v3h-3zM313.5 564.65h3v3h-3zM118.5 567.65h3v3h-3zM190.5 567.65h3v3h-3zM310.5 567.65h6v3h-6zM358.5 567.65h3v3h-3zM193.5 570.65h3v3h-3zM358.5 570.65h3v3h-3zM151.5 573.65h3v3h-3zM244.5 573.65h3v3h-3zM178.5 576.65h3v3h-3zM343.5 579.65h3v3h-3zM361.5 579.65h3v3h-3zM283.5 582.65h3v3h-3zM313.5 582.65h3v3h-3zM361.5 582.65h3v3h-3zM118.5 585.65h3v3h-3zM376.5 585.65h3v3h-3zM118.5 588.65h3v3h-3zM124.5 588.65h3v3h-3zM160.5 588.65h3v3h-3zM310.5 588.65h3v3h-3zM370.5 588.65h3v3h-3zM112.5 591.65h3v3h-3zM166.5 591.65h3v3h-3zM313.5 591.65h3v3h-3zM328.5 591.65h3v3h-3zM346.5 591.65h3v3h-3zM202.5 594.65h3v3h-3zM214.5 594.65h3v3h-3zM283.5 594.65h3v3h-3zM334.5 594.65h3v3h-3zM364.5 594.65h3v3h-3zM85.5 597.65h3v3h-3zM211.5 597.65h9v3h-9zM283.5 597.65h3v3h-3zM289.5 597.65h3v3h-3zM307.5 597.65h3v3h-3zM352.5 597.65h3v3h-3zM232.5 600.65h3v3h-3zM295.5 600.65h3v3h-3zM148.5 603.65h3v3h-3zM295.5 603.65h3v3h-3zM340.5 603.65h3v3h-3zM373.5 603.65h3v3h-3zM154.5 606.65h3v3h-3zM178.5 606.65h3v3h-3zM358.5 606.65h3v3h-3zM148.5 609.65h3v3h-3zM229.5 609.65h3v3h-3zM112.5 612.65h3v3h-3zM310.5 612.65h3v3h-3zM169.5 615.65h3v3h-3zM178.5 615.65h3v3h-3zM187.5 615.65h3v3h-3zM352.5 615.65h6v3h-6zM166.5 618.65h3v3h-3zM187.5 618.65h3v3h-3zM256.5 618.65h3v3h-3zM343.5 618.65h3v3h-3zM361.5 618.65h3v3h-3zM232.5 621.65h3v3h-3zM361.5 621.65h6v3h-6zM130.5 624.65h3v3h-3zM109.5 627.65h3v3h-3zM175.5 627.65h3v3h-3zM241.5 627.65h3v3h-3zM361.5 627.65h6v3h-6zM88.5 630.65h3v3h-3zM178.5 630.65h3v3h-3zM259.5 633.65h3v3h-3zM298.5 633.65h3v3h-3zM367.5 633.65h3v3h-3zM193.5 636.65h3v3h-3zM238.5 636.65h3v3h-3zM166.5 639.65h6v3h-6zM295.5 639.65h3v3h-3zM196.5 642.65h3v3h-3zM106.5 648.65h3v3h-3zM166.5 648.65h3v3h-3zM244.5 648.65h3v3h-3zM340.5 648.65h3v3h-3z"/>
<path fill="rgb(44,44,44)" d="M160.5 360.65h3v3h-3zM106.5 363.65h3v3h-3zM274.5 363.65h6v3h-6zM295.5 363.65h3v3h-3zM154.5 366.65h3v3h-3zM187.5 366.65h3v3h-3zM205.5 366.65h3v3h-3zM151.5 369.65h3v3h-3zM262.5 372.65h6v3h-6zM274.5 372.65h3v3h-3zM97.5 375.65h3v3h-3zM106.5 375.65h3v3h-3zM199.5 375.65h3v3h-3zM295.5 375.65h3v3h-3zM361.5 375.65h3v3h-3zM244.5 378.65h6v3h-6zM139.5 381.65h3v3h-3zM238.5 381.65h3v3h-3zM244.5 381.65h3v3h-3zM136.5 384.65h3v3h-3zM199.5 384.65h3v3h-3zM310.5 384.65h3v3h-3zM316.5 384.65h3v3h-3zM118.5 387.65h3v3h-3zM181.5 387.65h3v3h-3zM256.5 387.65h3v3h-3zM151.5 390.65h3v3h-3zM265.5 390.65h3v3h-3zM193.5 393.65h3v3h-3zM262.5 393.65h3v3h-3zM328.5 393.65h3v3h-3zM154.5 396.65h3v3h-3zM160.5 396.65h3v3h-3zM229.5 396.65h3v3h-3zM130.5 399.65h3v3h-3zM178.5 399.65h3v3h-3zM229.5 399.65h3v3h-3zM121.5 402.65h3v3h-3zM163.5 402.65h3v3h-3zM190.5 402.65h3v3h-3zM211.5 402.65h3v3h-3zM259.5 402.65h3v3h-3zM298.5 402.65h3v3h-3zM322.5 402.65h3v3h-3zM346.5 402.65h3v3h-3zM115.5 405.65h6v3h-6zM145.5 405.65h3v3h-3zM211.5 405.65h3v3h-3zM244.5 405.65h3v3h-3zM259.5 405.65h3v3h-3zM298.5 405.65h3v3h-3zM310.5 405.65h3v3h-3zM316.5 405.65h3v3h-3zM322.5 405.65h3v3h-3zM136.5 408.65h3v3h-3zM196.5 408.65h3v3h-3zM250.5 408.65h3v3h-3zM280.5 408.65h3v3h-3zM115.5 411.65h6v3h-6zM280.5 414.65h3v3h-3zM370.5 414.65h3v3h-3zM181.5 417.65h3v3h-3zM244.5 417.65h6v3h-6zM316.5 417.65h3v3h-3zM340.5 417.65h3v3h-3zM157.5 420.65h3v3h-3zM214.5 420.65h3v3h-3zM223.5 420.65h3v3h-3zM295.5 420.65h3v3h-3zM337.5 420.65h3v3h-3zM211.5 426.65h3v3h-3zM310.5 426.65h3v3h-3zM316.5 426.65h3v3h-3zM280.5 429.65h3v3h-3zM298.5 429.65h3v3h-3zM121.5 432.65h3v3h-3zM160.5 432.65h3v3h-3zM286.5 432.65h6v3h-6zM235.5 435.65h3v3h-3zM166.5 438.65h3v3h-3zM256.5 438.65h3v3h-3zM322.5 441.65h3v3h-3zM124.5 444.65h3v3h-3zM190.5 444.65h3v3h-3zM352.5 444.65h3v3h-3zM145.5 447.65h3v3h-3zM166.5 447.65h3v3h-3zM235.5 447.65h3v3h-3zM88.5 450.65h3v3h-3zM118.5 450.65h3v3h-3zM163.5 450.65h3v3h-3zM367.5 450.65h3v3h-3zM106.5 453.65h3v3h-3zM208.5 453.65h6v3h-6zM256.5 453.65h3v3h-3zM307.5 453.65h3v3h-3zM325.5 453.65h3v3h-3zM334.5 453.65h3v3h-3zM85.5 456.65h3v3h-3zM229.5 456.65h3v3h-3zM331.5 456.65h3v3h-3zM337.5 456.65h3v3h-3zM94.5 459.65h3v3h-3zM265.5 459.65h3v3h-3zM295.5 459.65h3v3h-3zM322.5 459.65h3v3h-3zM337.5 459.65h3v3h-3zM229.5 462.65h3v3h-3zM253.5 462.65h3v3h-3zM346.5 462.65h3v3h-3zM115.5 465.65h3v3h-3zM283.5 465.65h3v3h-3zM295.5 468.65h3v3h-3zM304.5 468.65h3v3h-3zM235.5 471.65h3v3h-3zM241.5 471.65h3v3h-3zM349.5 471.65h3v3h-3zM181.5 474.65h3v3h-3zM274.5 477.65h3v3h-3zM295.5 477.65h3v3h-3zM301.5 477.65h3v3h-3zM217.5 480.65h3v3h-3zM232.5 480.65h3v3h-3zM244.5 480.65h3v3h-3zM274.5 480.65h3v3h-3zM274.5 483.65h3v3h-3zM343.5 483.65h3v3h-3zM256.5 486.65h3v3h-3zM277.5 486.65h3v3h-3zM172.5 489.65h3v3h-3zM190.5 489.65h3v3h-3zM238.5 489.65h3v3h-3zM280.5 489.65h3v3h-3zM349.5 489.65h3v3h-3zM118.5 492.65h3v3h-3zM241.5 492.65h3v3h-3zM133.5 495.65h3v3h-3zM244.5 495.65h3v3h-3zM358.5 495.65h3v3h-3zM226.5 498.65h3v3h-3zM178.5 504.65h3v3h-3zM328.5 504.65h9v3h-9zM376.5 504.65h3v3h-3zM226.5 507.65h3v3h-3zM268.5 507.65h3v3h-3zM292.5 507.65h3v3h-3zM364.5 507.65h3v3h-3zM160.5 510.65h3v3h-3zM178.5 516.65h3v3h-3zM118.5 519.65h3v3h-3zM211.5 519.65h3v3h-3zM274.5 519.65h3v3h-3zM277.5 522.65h3v3h-3zM373.5 522.65h3v3h-3zM103.5 525.65h3v3h-3zM331.5 525.65h3v3h-3zM232.5 528.65h3v3h-3zM160.5 531.65h3v3h-3zM172.5 531.65h3v3h-3zM85.5 534.65h3v3h-3zM169.5 534.65h6v3h-6zM301.5 537.65h3v3h-3zM346.5 537.65h3v3h-3zM298.5 540.65h6v3h-6zM370.5 540.65h3v3h-3zM142.5 543.65h3v3h-3zM316.5 543.65h6v3h-6zM142.5 546.65h6v3h-6zM97.5 549.65h3v3h-3zM190.5 549.65h3v3h-3zM226.5 549.65h3v3h-3zM259.5 549.65h3v3h-3zM292.5 549.65h3v3h-3zM322.5 549.65h3v3h-3zM343.5 549.65h3v3h-3zM361.5 549.65h3v3h-3zM250.5 552.65h3v3h-3zM97.5 555.65h3v3h-3zM139.5 555.65h3v3h-3zM289.5 555.65h3v3h-3zM121.5 558.65h3v3h-3zM175.5 558.65h3v3h-3zM103.5 561.65h3v3h-3zM121.5 561.65h3v3h-3zM265.5 561.65h3v3h-3zM295.5 564.65h3v3h-3zM322.5 564.65h3v3h-3zM97.5 567.65h3v3h-3zM130.5 567.65h3v3h-3zM280.5 567.65h3v3h-3zM178.5 570.65h3v3h-3zM190.5 570.65h3v3h-3zM100.5 573.65h3v3h-3zM292.5 573.65h6v3h-6zM97.5 576.65h3v3h-3zM103.5 576.65h3v3h-3zM148.5 576.65h3v3h-3zM283.5 576.65h3v3h-3zM328.5 576.65h9v3h-9zM361.5 576.65h3v3h-3zM97.5 579.65h3v3h-3zM154.5 579.65h6v3h-6zM334.5 579.65h3v3h-3zM358.5 579.65h3v3h-3zM106.5 582.65h3v3h-3zM118.5 582.65h3v3h-3zM154.5 582.65h3v3h-3zM172.5 582.65h3v3h-3zM97.5 585.65h3v3h-3zM280.5 585.65h3v3h-3zM199.5 588.65h6v3h-6zM268.5 588.65h3v3h-3zM274.5 588.65h3v3h-3zM94.5 591.65h3v3h-3zM115.5 591.65h3v3h-3zM370.5 591.65h3v3h-3zM220.5 594.65h3v3h-3zM337.5 594.65h3v3h-3zM97.5 597.65h3v3h-3zM241.5 600.65h3v3h-3zM250.5 600.65h3v3h-3zM292.5 600.65h3v3h-3zM298.5 600.65h3v3h-3zM319.5 600.65h3v3h-3zM367.5 600.65h3v3h-3zM376.5 600.65h3v3h-3zM169.5 603.65h3v3h-3zM331.5 603.65h3v3h-3zM355.5 603.65h6v3h-6zM355.5 606.65h3v3h-3zM178.5 609.65h3v3h-3zM220.5 609.65h3v3h-3zM274.5 609.65h3v3h-3zM307.5 609.65h3v3h-3zM211.5 612.65h3v3h-3zM217.5 612.65h6v3h-6zM256.5 612.65h3v3h-3zM112.5 618.65h3v3h-3zM358.5 618.65h3v3h-3zM364.5 618.65h9v3h-9zM112.5 621.65h3v3h-3zM148.5 621.65h3v3h-3zM187.5 621.65h3v3h-3zM220.5 621.65h3v3h-3zM301.5 621.65h3v3h-3zM367.5 621.65h3v3h-3zM115.5 630.65h3v3h-3zM139.5 630.65h3v3h-3zM256.5 630.65h3v3h-3zM139.5 633.65h3v3h-3zM139.5 636.65h3v3h-3zM169.5 636.65h3v3h-3zM244.5 636.65h3v3h-3zM265.5 636.65h3v3h-3zM319.5 636.65h6v3h-6zM163.5 639.65h3v3h-3zM271.5 639.65h3v3h-3zM286.5 639.65h3v3h-3zM127.5 642.65h3v3h-3zM142.5 642.65h3v3h-3zM193.5 642.65h3v3h-3zM199.5 642.65h3v3h-3zM235.5 642.65h3v3h-3zM256.5 642.65h3v3h-3zM250.5 645.65h6v3h-6zM103.5 648.65h3v3h-3zM199.5 648.65h3v3h-3zM217.5 648.65h3v3h-3zM274.5 648.65h3v3h-3zM310.5 648.65h3v3h-3z"/>
<path fill="rgb(46,46,46)" d="M91.5 357.65h3v3h-3zM205.5 360.65h3v3h-3zM271.5 360.65h3v3h-3zM103.5 363.65h3v3h-3zM328.5 363.65h3v3h-3zM169.5 366.65h3v3h-3zM277.5 366.65h3v3h-3zM292.5 366.65h3v3h-3zM346.5 366.65h3v3h-3zM118.5 369.65h3v3h-3zM175.5 369.65h3v3h-3zM247.5 369.65h3v3h-3zM334.5 369.65h3v3h-3zM142.5 375.65h3v3h-3zM175.5 375.65h3v3h-3zM187.5 375.65h3v3h-3zM304.5 375.65h3v3h-3zM91.5 378.65h6v3h-6zM166.5 378.65h3v3h-3zM223.5 378.65h3v3h-3zM250.5 378.65h3v3h-3zM301.5 378.65h3v3h-3zM112.5 381.65h3v3h-3zM250.5 381.65h3v3h-3zM259.5 381.65h3v3h-3zM265.5 381.65h3v3h-3zM88.5 384.65h3v3h-3zM109.5 384.65h3v3h-3zM157.5 384.65h3v3h-3zM241.5 384.65h3v3h-3zM334.5 384.65h3v3h-3zM346.5 384.65h3v3h-3zM199.5 387.65h3v3h-3zM253.5 387.65h3v3h-3zM328.5 390.65h3v3h-3zM364.5 390.65h3v3h-3zM184.5 393.65h3v3h-3zM232.5 396.65h3v3h-3zM364.5 396.65h3v3h-3zM94.5 399.65h3v3h-3zM145.5 399.65h3v3h-3zM145.5 402.65h3v3h-3zM373.5 402.65h3v3h-3zM229.5 405.65h3v3h-3zM367.5 405.65h3v3h-3zM289.5 408.65h3v3h-3zM154.5 411.65h3v3h-3zM256.5 411.65h3v3h-3zM280.5 411.65h3v3h-3zM88.5 414.65h6v3h-6zM166.5 414.65h3v3h-3zM229.5 417.65h6v3h-6zM250.5 417.65h3v3h-3zM322.5 417.65h3v3h-3zM85.5 420.65h3v3h-3zM148.5 420.65h3v3h-3zM181.5 420.65h3v3h-3zM316.5 420.65h3v3h-3zM322.5 420.65h3v3h-3zM214.5 423.65h3v3h-3zM235.5 423.65h3v3h-3zM235.5 426.65h3v3h-3zM247.5 426.65h3v3h-3zM340.5 426.65h3v3h-3zM121.5 429.65h3v3h-3zM136.5 429.65h3v3h-3zM160.5 429.65h3v3h-3zM268.5 429.65h3v3h-3zM211.5 432.65h3v3h-3zM280.5 432.65h3v3h-3zM304.5 432.65h3v3h-3zM355.5 432.65h3v3h-3zM130.5 435.65h3v3h-3zM187.5 435.65h3v3h-3zM214.5 435.65h3v3h-3zM361.5 435.65h3v3h-3zM271.5 438.65h3v3h-3zM136.5 441.65h3v3h-3zM154.5 441.65h3v3h-3zM286.5 441.65h3v3h-3zM343.5 441.65h3v3h-3zM349.5 441.65h3v3h-3zM370.5 441.65h3v3h-3zM136.5 444.65h3v3h-3zM289.5 444.65h3v3h-3zM340.5 444.65h3v3h-3zM193.5 447.65h3v3h-3zM370.5 447.65h3v3h-3zM286.5 450.65h3v3h-3zM85.5 453.65h6v3h-6zM166.5 453.65h3v3h-3zM181.5 453.65h3v3h-3zM214.5 453.65h3v3h-3zM220.5 453.65h3v3h-3zM229.5 453.65h3v3h-3zM352.5 453.65h3v3h-3zM214.5 456.65h3v3h-3zM298.5 456.65h3v3h-3zM208.5 459.65h3v3h-3zM217.5 459.65h3v3h-3zM325.5 459.65h3v3h-3zM343.5 459.65h6v3h-6zM196.5 465.65h3v3h-3zM292.5 465.65h3v3h-3zM211.5 468.65h3v3h-3zM241.5 468.65h3v3h-3zM301.5 468.65h3v3h-3zM169.5 471.65h3v3h-3zM88.5 474.65h3v3h-3zM178.5 474.65h3v3h-3zM316.5 474.65h3v3h-3zM325.5 474.65h3v3h-3zM121.5 480.65h6v3h-6zM214.5 480.65h3v3h-3zM328.5 480.65h3v3h-3zM136.5 486.65h3v3h-3zM148.5 486.65h3v3h-3zM259.5 486.65h3v3h-3zM319.5 486.65h3v3h-3zM154.5 489.65h3v3h-3zM250.5 489.65h3v3h-3zM130.5 492.65h3v3h-3zM205.5 495.65h3v3h-3zM112.5 498.65h3v3h-3zM133.5 498.65h6v3h-6zM118.5 501.65h3v3h-3zM169.5 507.65h3v3h-3zM313.5 507.65h3v3h-3zM343.5 507.65h3v3h-3zM277.5 510.65h3v3h-3zM211.5 513.65h3v3h-3zM313.5 513.65h3v3h-3zM88.5 516.65h3v3h-3zM118.5 516.65h3v3h-3zM316.5 516.65h3v3h-3zM178.5 519.65h3v3h-3zM367.5 519.65h3v3h-3zM334.5 522.65h3v3h-3zM130.5 525.65h3v3h-3zM358.5 525.65h3v3h-3zM118.5 531.65h3v3h-3zM196.5 531.65h3v3h-3zM304.5 531.65h3v3h-3zM88.5 534.65h3v3h-3zM124.5 534.65h3v3h-3zM196.5 534.65h3v3h-3zM373.5 534.65h3v3h-3zM205.5 537.65h3v3h-3zM298.5 537.65h3v3h-3zM304.5 537.65h3v3h-3zM358.5 537.65h3v3h-3zM373.5 537.65h3v3h-3zM346.5 540.65h3v3h-3zM289.5 543.65h3v3h-3zM94.5 546.65h3v3h-3zM130.5 546.65h3v3h-3zM250.5 546.65h3v3h-3zM250.5 549.65h3v3h-3zM262.5 549.65h3v3h-3zM319.5 549.65h3v3h-3zM172.5 552.65h9v3h-9zM208.5 552.65h3v3h-3zM244.5 552.65h3v3h-3zM262.5 552.65h3v3h-3zM274.5 552.65h3v3h-3zM373.5 552.65h3v3h-3zM226.5 555.65h3v3h-3zM250.5 555.65h3v3h-3zM307.5 555.65h3v3h-3zM127.5 558.65h3v3h-3zM268.5 558.65h3v3h-3zM175.5 561.65h3v3h-3zM286.5 561.65h3v3h-3zM292.5 561.65h3v3h-3zM307.5 561.65h6v3h-6zM325.5 561.65h3v3h-3zM352.5 564.65h3v3h-3zM328.5 567.65h3v3h-3zM100.5 570.65h3v3h-3zM124.5 570.65h3v3h-3zM184.5 573.65h3v3h-3zM139.5 576.65h3v3h-3zM154.5 576.65h3v3h-3zM286.5 576.65h3v3h-3zM118.5 579.65h3v3h-3zM139.5 579.65h6v3h-6zM283.5 579.65h3v3h-3zM124.5 582.65h3v3h-3zM124.5 585.65h3v3h-3zM157.5 585.65h3v3h-3zM283.5 585.65h3v3h-3zM346.5 585.65h3v3h-3zM103.5 588.65h3v3h-3zM115.5 588.65h3v3h-3zM235.5 588.65h3v3h-3zM241.5 588.65h3v3h-3zM91.5 591.65h3v3h-3zM331.5 591.65h3v3h-3zM97.5 594.65h3v3h-3zM166.5 594.65h6v3h-6zM199.5 594.65h3v3h-3zM217.5 594.65h3v3h-3zM229.5 594.65h3v3h-3zM250.5 594.65h3v3h-3zM280.5 594.65h3v3h-3zM172.5 597.65h3v3h-3zM229.5 597.65h3v3h-3zM250.5 597.65h3v3h-3zM163.5 600.65h3v3h-3zM169.5 600.65h6v3h-6zM184.5 600.65h3v3h-3zM301.5 600.65h3v3h-3zM322.5 600.65h3v3h-3zM340.5 600.65h3v3h-3zM172.5 603.65h3v3h-3zM277.5 603.65h3v3h-3zM370.5 603.65h3v3h-3zM172.5 606.65h6v3h-6zM286.5 606.65h3v3h-3zM310.5 609.65h3v3h-3zM355.5 609.65h3v3h-3zM229.5 612.65h3v3h-3zM235.5 612.65h3v3h-3zM355.5 612.65h3v3h-3zM115.5 615.65h3v3h-3zM250.5 615.65h3v3h-3zM106.5 618.65h6v3h-6zM142.5 618.65h3v3h-3zM169.5 618.65h6v3h-6zM295.5 618.65h3v3h-3zM313.5 618.65h6v3h-6zM349.5 618.65h3v3h-3zM169.5 621.65h3v3h-3zM370.5 621.65h3v3h-3zM94.5 624.65h3v3h-3zM166.5 624.65h3v3h-3zM166.5 627.65h3v3h-3zM292.5 627.65h3v3h-3zM298.5 630.65h3v3h-3zM343.5 630.65h3v3h-3zM373.5 630.65h3v3h-3zM268.5 636.65h3v3h-3zM88.5 639.65h3v3h-3zM142.5 639.65h3v3h-3zM148.5 639.65h3v3h-3zM169.5 642.65h3v3h-3zM283.5 642.65h3v3h-3zM124.5 645.65h3v3h-3zM235.5 645.65h3v3h-3zM271.5 645.65h3v3h-3zM247.5 648.65h3v3h-3zM313.5 648.65h3v3h-3z"/>
<path fill="rgb(48,48,48)" d="M283.5 357.65h6v3h-6zM103.5 360.65h3v3h-3zM193.5 360.65h3v3h-3zM280.5 360.65h3v3h-3zM187.5 363.65h3v3h-3zM193.5 363.65h3v3h-3zM337.5 366.65h3v3h-3zM172.5 369.65h3v3h-3zM211.5 369.65h6v3h-6zM250.5 369.65h3v3h-3zM265.5 369.65h3v3h-3zM274.5 369.65h3v3h-3zM331.5 369.65h3v3h-3zM139.5 372.65h3v3h-3zM157.5 372.65h3v3h-3zM229.5 372.65h3v3h-3zM253.5 372.65h3v3h-3zM271.5 372.65h3v3h-3zM301.5 372.65h3v3h-3zM217.5 375.65h3v3h-3zM247.5 375.65h9v3h-9zM313.5 375.65h3v3h-3zM364.5 375.65h3v3h-3zM172.5 378.65h3v3h-3zM268.5 378.65h3v3h-3zM274.5 378.65h3v3h-3zM313.5 378.65h3v3h-3zM229.5 381.65h3v3h-3zM274.5 381.65h3v3h-3zM298.5 381.65h3v3h-3zM334.5 381.65h3v3h-3zM100.5 384.65h3v3h-3zM184.5 384.65h3v3h-3zM88.5 387.65h3v3h-3zM301.5 387.65h3v3h-3zM322.5 387.65h3v3h-3zM364.5 387.65h3v3h-3zM118.5 393.65h3v3h-3zM364.5 393.65h3v3h-3zM97.5 396.65h3v3h-3zM139.5 396.65h3v3h-3zM175.5 396.65h3v3h-3zM112.5 399.65h3v3h-3zM133.5 399.65h3v3h-3zM181.5 399.65h3v3h-3zM214.5 399.65h3v3h-3zM217.5 402.65h3v3h-3zM319.5 402.65h3v3h-3zM220.5 405.65h3v3h-3zM280.5 405.65h3v3h-3zM97.5 408.65h3v3h-3zM244.5 408.65h3v3h-3zM136.5 411.65h3v3h-3zM142.5 414.65h3v3h-3zM151.5 414.65h3v3h-3zM253.5 414.65h3v3h-3zM148.5 417.65h3v3h-3zM226.5 417.65h3v3h-3zM241.5 417.65h3v3h-3zM361.5 417.65h3v3h-3zM376.5 417.65h3v3h-3zM244.5 423.65h3v3h-3zM100.5 426.65h3v3h-3zM241.5 426.65h3v3h-3zM97.5 429.65h3v3h-3zM187.5 429.65h3v3h-3zM253.5 429.65h3v3h-3zM277.5 429.65h3v3h-3zM241.5 435.65h3v3h-3zM349.5 435.65h3v3h-3zM358.5 438.65h3v3h-3zM283.5 441.65h3v3h-3zM145.5 444.65h3v3h-3zM193.5 444.65h3v3h-3zM364.5 444.65h6v3h-6zM181.5 447.65h3v3h-3zM208.5 450.65h3v3h-3zM259.5 450.65h3v3h-3zM310.5 450.65h3v3h-3zM325.5 450.65h3v3h-3zM217.5 453.65h3v3h-3zM238.5 453.65h3v3h-3zM247.5 456.65h3v3h-3zM91.5 459.65h3v3h-3zM205.5 459.65h3v3h-3zM211.5 459.65h3v3h-3zM298.5 459.65h3v3h-3zM328.5 459.65h3v3h-3zM349.5 459.65h3v3h-3zM175.5 462.65h3v3h-3zM220.5 462.65h3v3h-3zM241.5 462.65h3v3h-3zM328.5 462.65h3v3h-3zM208.5 465.65h3v3h-3zM289.5 465.65h3v3h-3zM190.5 468.65h3v3h-3zM286.5 468.65h3v3h-3zM298.5 468.65h3v3h-3zM259.5 471.65h3v3h-3zM184.5 474.65h3v3h-3zM220.5 474.65h3v3h-3zM94.5 477.65h6v3h-6zM151.5 477.65h3v3h-3zM304.5 477.65h3v3h-3zM316.5 477.65h3v3h-3zM142.5 480.65h3v3h-3zM163.5 480.65h3v3h-3zM88.5 483.65h3v3h-3zM121.5 483.65h3v3h-3zM130.5 483.65h3v3h-3zM247.5 486.65h3v3h-3zM274.5 486.65h3v3h-3zM139.5 489.65h3v3h-3zM193.5 489.65h3v3h-3zM274.5 489.65h3v3h-3zM166.5 492.65h3v3h-3zM247.5 492.65h3v3h-3zM295.5 492.65h3v3h-3zM373.5 492.65h3v3h-3zM118.5 495.65h3v3h-3zM295.5 495.65h3v3h-3zM289.5 498.65h3v3h-3zM331.5 498.65h3v3h-3zM361.5 498.65h3v3h-3zM112.5 501.65h3v3h-3zM136.5 501.65h3v3h-3zM331.5 501.65h3v3h-3zM337.5 501.65h3v3h-3zM226.5 504.65h3v3h-3zM265.5 504.65h3v3h-3zM325.5 504.65h3v3h-3zM175.5 507.65h3v3h-3zM331.5 507.65h3v3h-3zM376.5 507.65h3v3h-3zM346.5 510.65h3v3h-3zM217.5 513.65h3v3h-3zM328.5 513.65h3v3h-3zM148.5 516.65h3v3h-3zM184.5 516.65h3v3h-3zM244.5 516.65h3v3h-3zM259.5 516.65h3v3h-3zM139.5 519.65h3v3h-3zM172.5 519.65h3v3h-3zM319.5 519.65h6v3h-6zM355.5 519.65h3v3h-3zM142.5 522.65h3v3h-3zM181.5 522.65h3v3h-3zM283.5 525.65h3v3h-3zM112.5 528.65h6v3h-6zM148.5 528.65h3v3h-3zM178.5 528.65h3v3h-3zM208.5 528.65h3v3h-3zM274.5 528.65h3v3h-3zM85.5 531.65h3v3h-3zM112.5 531.65h3v3h-3zM124.5 531.65h3v3h-3zM265.5 531.65h3v3h-3zM292.5 531.65h3v3h-3zM130.5 534.65h3v3h-3zM322.5 534.65h3v3h-3zM373.5 540.65h3v3h-3zM85.5 543.65h6v3h-6zM244.5 546.65h6v3h-6zM316.5 546.65h3v3h-3zM145.5 549.65h3v3h-3zM256.5 549.65h3v3h-3zM334.5 549.65h3v3h-3zM373.5 549.65h3v3h-3zM169.5 552.65h3v3h-3zM193.5 552.65h3v3h-3zM292.5 552.65h3v3h-3zM178.5 555.65h3v3h-3zM295.5 555.65h3v3h-3zM214.5 558.65h3v3h-3zM361.5 558.65h3v3h-3zM373.5 558.65h3v3h-3zM103.5 564.65h3v3h-3zM205.5 564.65h3v3h-3zM268.5 567.65h3v3h-3zM319.5 567.65h3v3h-3zM277.5 570.65h3v3h-3zM316.5 570.65h3v3h-3zM358.5 573.65h3v3h-3zM106.5 579.65h3v3h-3zM124.5 579.65h3v3h-3zM187.5 579.65h3v3h-3zM259.5 579.65h3v3h-3zM103.5 582.65h3v3h-3zM178.5 582.65h3v3h-3zM223.5 582.65h3v3h-3zM220.5 585.65h3v3h-3zM85.5 588.65h3v3h-3zM244.5 588.65h3v3h-3zM250.5 588.65h3v3h-3zM163.5 591.65h3v3h-3zM277.5 591.65h9v3h-9zM310.5 591.65h3v3h-3zM88.5 594.65h3v3h-3zM163.5 594.65h3v3h-3zM244.5 594.65h3v3h-3zM169.5 597.65h3v3h-3zM175.5 597.65h3v3h-3zM181.5 597.65h3v3h-3zM301.5 597.65h3v3h-3zM364.5 597.65h6v3h-6zM103.5 600.65h3v3h-3zM253.5 600.65h3v3h-3zM313.5 600.65h3v3h-3zM361.5 600.65h3v3h-3zM130.5 603.65h3v3h-3zM325.5 603.65h3v3h-3zM97.5 606.65h3v3h-3zM265.5 609.65h3v3h-3zM226.5 612.65h3v3h-3zM268.5 612.65h3v3h-3zM142.5 615.65h3v3h-3zM247.5 615.65h3v3h-3zM256.5 615.65h3v3h-3zM115.5 618.65h6v3h-6zM139.5 618.65h3v3h-3zM220.5 618.65h3v3h-3zM262.5 618.65h3v3h-3zM298.5 618.65h3v3h-3zM346.5 618.65h3v3h-3zM352.5 618.65h3v3h-3zM139.5 621.65h3v3h-3zM169.5 624.65h3v3h-3zM346.5 624.65h3v3h-3zM373.5 624.65h3v3h-3zM130.5 627.65h3v3h-3zM139.5 627.65h3v3h-3zM301.5 627.65h3v3h-3zM346.5 627.65h3v3h-3zM361.5 630.65h3v3h-3zM367.5 630.65h3v3h-3zM130.5 633.65h3v3h-3zM172.5 633.65h3v3h-3zM340.5 633.65h3v3h-3zM91.5 636.65h3v3h-3zM163.5 636.65h3v3h-3zM199.5 636.65h3v3h-3zM202.5 639.65h3v3h-3zM349.5 639.65h3v3h-3zM94.5 642.65h3v3h-3zM148.5 642.65h3v3h-3zM202.5 642.65h3v3h-3zM271.5 642.65h3v3h-3zM316.5 642.65h3v3h-3zM361.5 642.65h3v3h-3zM88.5 645.65h3v3h-3zM127.5 645.65h3v3h-3zM157.5 645.65h3v3h-3zM214.5 645.65h3v3h-3zM280.5 645.65h3v3h-3zM121.5 648.65h6v3h-6z"/>
<path fill="rgb(50,50,50)" d="M94.5 357.65h3v3h-3zM241.5 357.65h6v3h-6zM364.5 357.65h3v3h-3zM196.5 360.65h3v3h-3zM265.5 360.65h3v3h-3zM112.5 366.65h3v3h-3zM166.5 366.65h3v3h-3zM220.5 369.65h3v3h-3zM103.5 372.65h3v3h-3zM235.5 372.65h3v3h-3zM367.5 372.65h3v3h-3zM163.5 375.65h3v3h-3zM271.5 375.65h3v3h-3zM367.5 375.65h3v3h-3zM169.5 378.65h3v3h-3zM187.5 378.65h3v3h-3zM256.5 378.65h3v3h-3zM337.5 378.65h3v3h-3zM373.5 378.65h3v3h-3zM109.5 381.65h3v3h-3zM184.5 381.65h3v3h-3zM346.5 381.65h3v3h-3zM97.5 384.65h3v3h-3zM163.5 387.65h3v3h-3zM190.5 387.65h3v3h-3zM259.5 387.65h3v3h-3zM343.5 390.65h3v3h-3zM115.5 396.65h3v3h-3zM121.5 396.65h3v3h-3zM142.5 396.65h3v3h-3zM322.5 399.65h3v3h-3zM223.5 405.65h3v3h-3zM373.5 405.65h3v3h-3zM211.5 408.65h3v3h-3zM232.5 408.65h3v3h-3zM241.5 411.65h3v3h-3zM157.5 414.65h3v3h-3zM175.5 414.65h3v3h-3zM217.5 414.65h3v3h-3zM211.5 417.65h3v3h-3zM88.5 420.65h3v3h-3zM208.5 420.65h3v3h-3zM235.5 420.65h3v3h-3zM181.5 423.65h3v3h-3zM208.5 423.65h3v3h-3zM337.5 423.65h3v3h-3zM178.5 426.65h3v3h-3zM298.5 426.65h3v3h-3zM319.5 426.65h3v3h-3zM337.5 426.65h3v3h-3zM184.5 429.65h3v3h-3zM229.5 429.65h3v3h-3zM274.5 429.65h3v3h-3zM325.5 429.65h3v3h-3zM346.5 429.65h3v3h-3zM94.5 432.65h3v3h-3zM124.5 432.65h3v3h-3zM184.5 432.65h3v3h-3zM214.5 432.65h3v3h-3zM292.5 432.65h3v3h-3zM346.5 432.65h3v3h-3zM181.5 435.65h3v3h-3zM184.5 438.65h3v3h-3zM139.5 441.65h3v3h-3zM148.5 441.65h3v3h-3zM226.5 441.65h3v3h-3zM340.5 441.65h3v3h-3zM370.5 444.65h3v3h-3zM190.5 447.65h3v3h-3zM313.5 447.65h3v3h-3zM343.5 447.65h3v3h-3zM241.5 450.65h3v3h-3zM256.5 450.65h3v3h-3zM283.5 450.65h3v3h-3zM319.5 450.65h3v3h-3zM265.5 456.65h3v3h-3zM346.5 456.65h3v3h-3zM214.5 459.65h3v3h-3zM220.5 459.65h3v3h-3zM241.5 459.65h3v3h-3zM97.5 462.65h3v3h-3zM334.5 462.65h3v3h-3zM343.5 462.65h3v3h-3zM331.5 465.65h3v3h-3zM193.5 468.65h6v3h-6zM289.5 468.65h3v3h-3zM196.5 471.65h3v3h-3zM217.5 471.65h3v3h-3zM307.5 471.65h3v3h-3zM145.5 474.65h3v3h-3zM187.5 474.65h3v3h-3zM259.5 474.65h3v3h-3zM307.5 474.65h3v3h-3zM349.5 474.65h3v3h-3zM349.5 477.65h3v3h-3zM346.5 480.65h3v3h-3zM355.5 480.65h3v3h-3zM268.5 483.65h6v3h-6zM202.5 489.65h3v3h-3zM346.5 489.65h3v3h-3zM376.5 489.65h3v3h-3zM202.5 492.65h3v3h-3zM292.5 492.65h3v3h-3zM115.5 495.65h3v3h-3zM169.5 495.65h3v3h-3zM202.5 495.65h3v3h-3zM232.5 495.65h3v3h-3zM229.5 498.65h3v3h-3zM355.5 498.65h3v3h-3zM253.5 504.65h3v3h-3zM277.5 504.65h3v3h-3zM238.5 507.65h3v3h-3zM274.5 507.65h6v3h-6zM118.5 510.65h3v3h-3zM139.5 510.65h3v3h-3zM232.5 510.65h3v3h-3zM241.5 510.65h3v3h-3zM274.5 510.65h3v3h-3zM118.5 513.65h3v3h-3zM139.5 516.65h3v3h-3zM208.5 516.65h3v3h-3zM217.5 516.65h3v3h-3zM325.5 516.65h3v3h-3zM151.5 519.65h3v3h-3zM196.5 519.65h3v3h-3zM352.5 525.65h3v3h-3zM175.5 528.65h3v3h-3zM163.5 531.65h3v3h-3zM295.5 531.65h3v3h-3zM265.5 534.65h3v3h-3zM307.5 534.65h3v3h-3zM202.5 537.65h3v3h-3zM370.5 543.65h3v3h-3zM97.5 546.65h3v3h-3zM241.5 546.65h3v3h-3zM295.5 546.65h3v3h-3zM313.5 546.65h3v3h-3zM130.5 549.65h3v3h-3zM196.5 549.65h3v3h-3zM244.5 549.65h3v3h-3zM283.5 549.65h3v3h-3zM328.5 549.65h3v3h-3zM148.5 552.65h3v3h-3zM181.5 552.65h6v3h-6zM214.5 552.65h3v3h-3zM226.5 552.65h3v3h-3zM259.5 552.65h3v3h-3zM307.5 552.65h3v3h-3zM355.5 552.65h3v3h-3zM364.5 552.65h3v3h-3zM100.5 555.65h3v3h-3zM328.5 555.65h3v3h-3zM325.5 558.65h3v3h-3zM97.5 561.65h3v3h-3zM145.5 561.65h3v3h-3zM289.5 561.65h3v3h-3zM97.5 564.65h3v3h-3zM187.5 564.65h3v3h-3zM268.5 564.65h3v3h-3zM307.5 564.65h3v3h-3zM151.5 576.65h3v3h-3zM187.5 576.65h3v3h-3zM247.5 576.65h3v3h-3zM358.5 576.65h3v3h-3zM286.5 579.65h3v3h-3zM313.5 579.65h3v3h-3zM352.5 582.65h9v3h-9zM100.5 585.65h3v3h-3zM121.5 585.65h3v3h-3zM223.5 585.65h3v3h-3zM166.5 588.65h3v3h-3zM238.5 588.65h3v3h-3zM346.5 588.65h3v3h-3zM250.5 591.65h3v3h-3zM268.5 594.65h3v3h-3zM163.5 597.65h6v3h-6zM253.5 597.65h3v3h-3zM280.5 597.65h3v3h-3zM286.5 597.65h3v3h-3zM166.5 600.65h3v3h-3zM235.5 600.65h3v3h-3zM280.5 600.65h3v3h-3zM316.5 600.65h3v3h-3zM175.5 603.65h3v3h-3zM292.5 603.65h3v3h-3zM178.5 612.65h3v3h-3zM232.5 612.65h3v3h-3zM229.5 615.65h3v3h-3zM376.5 615.65h3v3h-3zM355.5 618.65h3v3h-3zM373.5 618.65h3v3h-3zM97.5 621.65h3v3h-3zM142.5 621.65h3v3h-3zM313.5 621.65h3v3h-3zM346.5 621.65h3v3h-3zM142.5 624.65h3v3h-3zM241.5 624.65h3v3h-3zM166.5 630.65h3v3h-3zM364.5 630.65h3v3h-3zM196.5 636.65h3v3h-3zM295.5 636.65h3v3h-3zM346.5 636.65h3v3h-3zM211.5 639.65h6v3h-6zM211.5 642.65h3v3h-3zM289.5 645.65h3v3h-3zM289.5 648.65h3v3h-3z"/>
<path fill="rgb(52,52,52)" d="M193.5 357.65h3v3h-3zM286.5 360.65h3v3h-3zM139.5 363.65h3v3h-3zM190.5 366.65h3v3h-3zM274.5 366.65h3v3h-3zM217.5 369.65h3v3h-3zM346.5 369.65h3v3h-3zM175.5 372.65h3v3h-3zM226.5 372.65h3v3h-3zM247.5 372.65h3v3h-3zM304.5 372.65h3v3h-3zM88.5 375.65h3v3h-3zM340.5 375.65h3v3h-3zM235.5 378.65h3v3h-3zM253.5 378.65h3v3h-3zM364.5 378.65h3v3h-3zM370.5 378.65h3v3h-3zM181.5 384.65h3v3h-3zM265.5 384.65h3v3h-3zM271.5 384.65h3v3h-3zM301.5 384.65h3v3h-3zM265.5 387.65h3v3h-3zM367.5 387.65h3v3h-3zM262.5 390.65h3v3h-3zM310.5 390.65h3v3h-3zM154.5 393.65h3v3h-3zM190.5 393.65h3v3h-3zM319.5 393.65h3v3h-3zM100.5 399.65h3v3h-3zM370.5 399.65h3v3h-3zM94.5 402.65h3v3h-3zM130.5 402.65h3v3h-3zM280.5 402.65h3v3h-3zM286.5 402.65h3v3h-3zM94.5 405.65h3v3h-3zM253.5 405.65h3v3h-3zM319.5 405.65h3v3h-3zM133.5 408.65h3v3h-3zM247.5 411.65h3v3h-3zM211.5 414.65h3v3h-3zM286.5 414.65h3v3h-3zM151.5 417.65h3v3h-3zM235.5 417.65h6v3h-6zM319.5 417.65h3v3h-3zM160.5 420.65h3v3h-3zM166.5 420.65h3v3h-3zM319.5 420.65h3v3h-3zM334.5 423.65h3v3h-3zM181.5 426.65h3v3h-3zM223.5 426.65h6v3h-6zM361.5 426.65h3v3h-3zM124.5 429.65h3v3h-3zM289.5 429.65h3v3h-3zM133.5 432.65h3v3h-3zM319.5 432.65h3v3h-3zM325.5 432.65h3v3h-3zM250.5 435.65h3v3h-3zM181.5 438.65h3v3h-3zM151.5 441.65h3v3h-3zM352.5 441.65h3v3h-3zM343.5 444.65h3v3h-3zM88.5 447.65h3v3h-3zM184.5 447.65h6v3h-6zM319.5 447.65h3v3h-3zM373.5 447.65h3v3h-3zM187.5 450.65h3v3h-3zM223.5 453.65h3v3h-3zM367.5 453.65h3v3h-3zM217.5 456.65h3v3h-3zM325.5 456.65h3v3h-3zM334.5 456.65h3v3h-3zM205.5 462.65h3v3h-3zM223.5 462.65h6v3h-6zM298.5 462.65h3v3h-3zM373.5 462.65h3v3h-3zM217.5 465.65h3v3h-3zM241.5 465.65h3v3h-3zM214.5 471.65h3v3h-3zM256.5 471.65h3v3h-3zM301.5 471.65h3v3h-3zM352.5 471.65h3v3h-3zM139.5 474.65h3v3h-3zM85.5 480.65h3v3h-3zM235.5 480.65h3v3h-3zM97.5 483.65h3v3h-3zM244.5 483.65h3v3h-3zM292.5 483.65h3v3h-3zM352.5 483.65h3v3h-3zM121.5 486.65h3v3h-3zM151.5 486.65h6v3h-6zM322.5 486.65h3v3h-3zM373.5 489.65h3v3h-3zM133.5 492.65h6v3h-6zM178.5 495.65h3v3h-3zM169.5 498.65h3v3h-3zM115.5 501.65h3v3h-3zM169.5 501.65h3v3h-3zM229.5 501.65h6v3h-6zM235.5 504.65h3v3h-3zM256.5 504.65h3v3h-3zM322.5 504.65h3v3h-3zM346.5 507.65h3v3h-3zM313.5 510.65h3v3h-3zM331.5 510.65h3v3h-3zM175.5 516.65h3v3h-3zM289.5 516.65h3v3h-3zM205.5 519.65h3v3h-3zM178.5 522.65h3v3h-3zM193.5 522.65h6v3h-6zM352.5 522.65h3v3h-3zM367.5 522.65h3v3h-3zM163.5 525.65h3v3h-3zM334.5 525.65h3v3h-3zM85.5 528.65h3v3h-3zM199.5 528.65h3v3h-3zM355.5 528.65h3v3h-3zM268.5 531.65h3v3h-3zM289.5 531.65h3v3h-3zM298.5 531.65h6v3h-6zM331.5 531.65h3v3h-3zM298.5 534.65h6v3h-6zM328.5 537.65h3v3h-3zM274.5 540.65h3v3h-3zM292.5 546.65h3v3h-3zM142.5 549.65h3v3h-3zM238.5 549.65h3v3h-3zM253.5 549.65h3v3h-3zM295.5 549.65h3v3h-3zM232.5 552.65h3v3h-3zM331.5 552.65h3v3h-3zM340.5 552.65h3v3h-3zM292.5 555.65h3v3h-3zM316.5 555.65h3v3h-3zM364.5 555.65h3v3h-3zM373.5 555.65h3v3h-3zM97.5 558.65h3v3h-3zM124.5 558.65h3v3h-3zM208.5 561.65h3v3h-3zM253.5 561.65h3v3h-3zM262.5 561.65h3v3h-3zM121.5 564.65h3v3h-3zM130.5 564.65h3v3h-3zM325.5 564.65h3v3h-3zM187.5 567.65h3v3h-3zM121.5 570.65h3v3h-3zM328.5 570.65h3v3h-3zM121.5 573.65h3v3h-3zM181.5 573.65h3v3h-3zM178.5 579.65h3v3h-3zM121.5 582.65h3v3h-3zM181.5 582.65h3v3h-3zM319.5 582.65h3v3h-3zM280.5 588.65h6v3h-6zM373.5 588.65h3v3h-3zM103.5 591.65h3v3h-3zM199.5 591.65h3v3h-3zM235.5 591.65h3v3h-3zM268.5 591.65h3v3h-3zM85.5 594.65h3v3h-3zM103.5 594.65h3v3h-3zM331.5 594.65h3v3h-3zM340.5 594.65h3v3h-3zM103.5 597.65h3v3h-3zM232.5 597.65h3v3h-3zM304.5 597.65h3v3h-3zM97.5 600.65h3v3h-3zM283.5 600.65h3v3h-3zM310.5 600.65h3v3h-3zM331.5 600.65h3v3h-3zM103.5 603.65h3v3h-3zM235.5 603.65h3v3h-3zM283.5 603.65h3v3h-3zM316.5 603.65h3v3h-3zM328.5 603.65h3v3h-3zM214.5 606.65h3v3h-3zM274.5 606.65h3v3h-3zM313.5 606.65h3v3h-3zM271.5 609.65h3v3h-3zM214.5 612.65h3v3h-3zM223.5 612.65h3v3h-3zM229.5 618.65h3v3h-3zM259.5 618.65h3v3h-3zM145.5 621.65h3v3h-3zM148.5 624.65h3v3h-3zM301.5 624.65h3v3h-3zM373.5 627.65h3v3h-3zM166.5 633.65h3v3h-3zM94.5 636.65h3v3h-3zM133.5 636.65h3v3h-3zM166.5 636.65h3v3h-3zM241.5 636.65h3v3h-3zM262.5 639.65h3v3h-3zM145.5 642.65h3v3h-3zM364.5 642.65h3v3h-3zM169.5 645.65h3v3h-3zM235.5 648.65h3v3h-3zM250.5 648.65h3v3h-3zM280.5 648.65h3v3h-3zM325.5 648.65h3v3h-3zM334.5 648.65h6v3h-6z"/>
<path fill="rgb(54,54,54)" d="M139.5 357.65h3v3h-3zM148.5 357.65h3v3h-3zM163.5 357.65h3v3h-3zM298.5 357.65h3v3h-3zM151.5 363.65h3v3h-3zM190.5 363.65h3v3h-3zM331.5 366.65h3v3h-3zM361.5 366.65h3v3h-3zM268.5 369.65h3v3h-3zM373.5 369.65h3v3h-3zM85.5 372.65h3v3h-3zM118.5 372.65h3v3h-3zM142.5 372.65h6v3h-6zM172.5 372.65h3v3h-3zM214.5 372.65h3v3h-3zM232.5 372.65h3v3h-3zM298.5 372.65h3v3h-3zM376.5 372.65h3v3h-3zM97.5 378.65h3v3h-3zM367.5 378.65h3v3h-3zM97.5 381.65h3v3h-3zM241.5 381.65h3v3h-3zM268.5 381.65h3v3h-3zM154.5 384.65h3v3h-3zM256.5 384.65h3v3h-3zM268.5 384.65h3v3h-3zM307.5 384.65h3v3h-3zM370.5 387.65h3v3h-3zM313.5 390.65h3v3h-3zM340.5 390.65h3v3h-3zM160.5 393.65h3v3h-3zM325.5 396.65h3v3h-3zM370.5 396.65h3v3h-3zM97.5 399.65h3v3h-3zM112.5 402.65h3v3h-3zM181.5 402.65h3v3h-3zM214.5 402.65h3v3h-3zM289.5 402.65h3v3h-3zM244.5 411.65h3v3h-3zM250.5 411.65h6v3h-6zM139.5 414.65h3v3h-3zM214.5 414.65h3v3h-3zM220.5 414.65h3v3h-3zM244.5 414.65h3v3h-3zM160.5 417.65h3v3h-3zM187.5 417.65h3v3h-3zM331.5 420.65h6v3h-6zM361.5 420.65h3v3h-3zM178.5 423.65h3v3h-3zM244.5 426.65h3v3h-3zM292.5 426.65h3v3h-3zM322.5 426.65h3v3h-3zM250.5 429.65h3v3h-3zM307.5 429.65h3v3h-3zM352.5 429.65h3v3h-3zM277.5 432.65h3v3h-3zM295.5 432.65h3v3h-3zM370.5 435.65h3v3h-3zM121.5 447.65h3v3h-3zM307.5 447.65h3v3h-3zM85.5 450.65h3v3h-3zM166.5 450.65h3v3h-3zM181.5 450.65h3v3h-3zM103.5 453.65h3v3h-3zM88.5 456.65h6v3h-6zM103.5 456.65h3v3h-3zM331.5 459.65h6v3h-6zM283.5 462.65h6v3h-6zM331.5 462.65h3v3h-3zM298.5 465.65h3v3h-3zM214.5 468.65h3v3h-3zM247.5 471.65h3v3h-3zM193.5 474.65h3v3h-3zM322.5 474.65h3v3h-3zM355.5 474.65h3v3h-3zM328.5 477.65h3v3h-3zM235.5 483.65h3v3h-3zM94.5 486.65h3v3h-3zM199.5 486.65h3v3h-3zM235.5 486.65h3v3h-3zM271.5 489.65h3v3h-3zM121.5 492.65h6v3h-6zM292.5 495.65h3v3h-3zM337.5 495.65h3v3h-3zM118.5 498.65h3v3h-3zM232.5 498.65h3v3h-3zM358.5 498.65h3v3h-3zM289.5 504.65h3v3h-3zM316.5 504.65h3v3h-3zM100.5 510.65h3v3h-3zM145.5 510.65h3v3h-3zM184.5 510.65h3v3h-3zM190.5 510.65h3v3h-3zM100.5 513.65h3v3h-3zM139.5 513.65h3v3h-3zM256.5 513.65h3v3h-3zM286.5 516.65h3v3h-3zM319.5 516.65h3v3h-3zM142.5 519.65h3v3h-3zM208.5 519.65h3v3h-3zM145.5 525.65h3v3h-3zM187.5 525.65h3v3h-3zM373.5 528.65h3v3h-3zM271.5 531.65h3v3h-3zM283.5 534.65h3v3h-3zM304.5 534.65h3v3h-3zM316.5 534.65h3v3h-3zM355.5 534.65h3v3h-3zM268.5 537.65h3v3h-3zM322.5 537.65h3v3h-3zM277.5 543.65h3v3h-3zM295.5 543.65h3v3h-3zM373.5 543.65h3v3h-3zM373.5 546.65h3v3h-3zM325.5 549.65h3v3h-3zM235.5 552.65h3v3h-3zM295.5 552.65h3v3h-3zM184.5 555.65h3v3h-3zM214.5 555.65h3v3h-3zM85.5 561.65h3v3h-3zM202.5 561.65h3v3h-3zM271.5 561.65h3v3h-3zM274.5 564.65h3v3h-3zM277.5 567.65h3v3h-3zM184.5 570.65h3v3h-3zM271.5 570.65h3v3h-3zM328.5 573.65h3v3h-3zM244.5 576.65h3v3h-3zM256.5 576.65h6v3h-6zM337.5 576.65h3v3h-3zM157.5 582.65h3v3h-3zM169.5 585.65h3v3h-3zM97.5 588.65h3v3h-3zM163.5 588.65h3v3h-3zM271.5 588.65h3v3h-3zM376.5 588.65h3v3h-3zM88.5 591.65h3v3h-3zM97.5 591.65h3v3h-3zM247.5 591.65h3v3h-3zM232.5 594.65h3v3h-3zM328.5 594.65h3v3h-3zM346.5 594.65h3v3h-3zM178.5 597.65h3v3h-3zM235.5 597.65h3v3h-3zM331.5 597.65h3v3h-3zM289.5 600.65h3v3h-3zM343.5 600.65h3v3h-3zM181.5 603.65h3v3h-3zM148.5 606.65h6v3h-6zM217.5 606.65h3v3h-3zM232.5 606.65h3v3h-3zM238.5 609.65h3v3h-3zM268.5 609.65h3v3h-3zM139.5 615.65h3v3h-3zM166.5 621.65h3v3h-3zM223.5 621.65h3v3h-3zM229.5 621.65h3v3h-3zM316.5 621.65h3v3h-3zM358.5 621.65h3v3h-3zM373.5 621.65h3v3h-3zM139.5 624.65h3v3h-3zM145.5 624.65h3v3h-3zM376.5 624.65h3v3h-3zM298.5 627.65h3v3h-3zM130.5 630.65h3v3h-3zM175.5 630.65h3v3h-3zM259.5 630.65h3v3h-3zM364.5 633.65h3v3h-3zM289.5 636.65h3v3h-3zM199.5 639.65h3v3h-3zM325.5 639.65h3v3h-3zM286.5 642.65h3v3h-3zM292.5 642.65h3v3h-3zM157.5 648.65h3v3h-3zM253.5 648.65h3v3h-3z"/>
<path fill="rgb(56,56,56)" d="M97.5 357.65h3v3h-3zM142.5 357.65h3v3h-3zM361.5 357.65h3v3h-3zM100.5 360.65h3v3h-3zM139.5 360.65h3v3h-3zM220.5 360.65h6v3h-6zM343.5 360.65h3v3h-3zM286.5 363.65h3v3h-3zM163.5 366.65h3v3h-3zM265.5 366.65h3v3h-3zM286.5 366.65h3v3h-3zM142.5 369.65h3v3h-3zM160.5 372.65h3v3h-3zM250.5 372.65h3v3h-3zM172.5 375.65h3v3h-3zM181.5 375.65h3v3h-3zM376.5 375.65h3v3h-3zM310.5 378.65h3v3h-3zM256.5 381.65h3v3h-3zM151.5 384.65h3v3h-3zM253.5 384.65h3v3h-3zM259.5 384.65h6v3h-6zM364.5 384.65h3v3h-3zM370.5 384.65h3v3h-3zM373.5 387.65h3v3h-3zM154.5 390.65h3v3h-3zM325.5 390.65h3v3h-3zM88.5 393.65h3v3h-3zM373.5 393.65h3v3h-3zM100.5 396.65h3v3h-3zM157.5 396.65h3v3h-3zM121.5 399.65h3v3h-3zM232.5 399.65h3v3h-3zM283.5 402.65h3v3h-3zM136.5 405.65h3v3h-3zM226.5 405.65h3v3h-3zM256.5 405.65h3v3h-3zM235.5 411.65h3v3h-3zM226.5 414.65h6v3h-6zM238.5 414.65h6v3h-6zM364.5 417.65h3v3h-3zM136.5 420.65h3v3h-3zM145.5 420.65h3v3h-3zM232.5 420.65h3v3h-3zM169.5 423.65h3v3h-3zM223.5 423.65h3v3h-3zM172.5 426.65h3v3h-3zM133.5 429.65h3v3h-3zM247.5 429.65h3v3h-3zM232.5 432.65h3v3h-3zM244.5 432.65h3v3h-3zM316.5 432.65h3v3h-3zM322.5 432.65h3v3h-3zM238.5 435.65h3v3h-3zM358.5 435.65h3v3h-3zM310.5 438.65h3v3h-3zM328.5 441.65h3v3h-3zM277.5 444.65h3v3h-3zM319.5 444.65h3v3h-3zM148.5 447.65h3v3h-3zM376.5 447.65h3v3h-3zM100.5 453.65h3v3h-3zM184.5 453.65h3v3h-3zM226.5 453.65h3v3h-3zM319.5 453.65h3v3h-3zM97.5 456.65h3v3h-3zM262.5 456.65h3v3h-3zM319.5 456.65h3v3h-3zM355.5 456.65h3v3h-3zM226.5 459.65h3v3h-3zM250.5 459.65h3v3h-3zM217.5 462.65h3v3h-3zM295.5 462.65h3v3h-3zM172.5 465.65h3v3h-3zM295.5 465.65h3v3h-3zM304.5 471.65h3v3h-3zM142.5 474.65h3v3h-3zM241.5 474.65h3v3h-3zM97.5 480.65h3v3h-3zM145.5 480.65h3v3h-3zM319.5 480.65h3v3h-3zM127.5 483.65h3v3h-3zM319.5 483.65h3v3h-3zM325.5 483.65h3v3h-3zM241.5 489.65h3v3h-3zM277.5 489.65h3v3h-3zM157.5 492.65h3v3h-3zM172.5 492.65h3v3h-3zM244.5 492.65h3v3h-3zM334.5 495.65h3v3h-3zM292.5 498.65h3v3h-3zM169.5 504.65h3v3h-3zM319.5 504.65h3v3h-3zM172.5 507.65h3v3h-3zM97.5 510.65h3v3h-3zM97.5 513.65h3v3h-3zM193.5 513.65h3v3h-3zM235.5 513.65h3v3h-3zM142.5 516.65h6v3h-6zM91.5 519.65h3v3h-3zM370.5 519.65h3v3h-3zM91.5 522.65h3v3h-3zM184.5 522.65h3v3h-3zM199.5 522.65h3v3h-3zM199.5 525.65h3v3h-3zM130.5 528.65h3v3h-3zM283.5 528.65h3v3h-3zM166.5 531.65h3v3h-3zM355.5 531.65h3v3h-3zM367.5 534.65h3v3h-3zM274.5 537.65h3v3h-3zM271.5 549.65h3v3h-3zM139.5 552.65h3v3h-3zM256.5 552.65h3v3h-3zM319.5 552.65h3v3h-3zM361.5 552.65h3v3h-3zM229.5 555.65h3v3h-3zM313.5 555.65h3v3h-3zM211.5 558.65h3v3h-3zM265.5 558.65h3v3h-3zM322.5 558.65h3v3h-3zM127.5 561.65h3v3h-3zM268.5 561.65h3v3h-3zM277.5 564.65h3v3h-3zM283.5 564.65h3v3h-3zM358.5 564.65h3v3h-3zM295.5 567.65h3v3h-3zM274.5 570.65h3v3h-3zM295.5 570.65h3v3h-3zM325.5 576.65h3v3h-3zM256.5 579.65h3v3h-3zM322.5 579.65h3v3h-3zM100.5 582.65h3v3h-3zM220.5 582.65h3v3h-3zM100.5 588.65h3v3h-3zM85.5 591.65h3v3h-3zM202.5 591.65h3v3h-3zM244.5 591.65h3v3h-3zM277.5 594.65h3v3h-3zM343.5 594.65h3v3h-3zM100.5 597.65h3v3h-3zM241.5 597.65h3v3h-3zM325.5 597.65h3v3h-3zM340.5 597.65h3v3h-3zM175.5 600.65h3v3h-3zM238.5 600.65h3v3h-3zM238.5 603.65h3v3h-3zM304.5 603.65h3v3h-3zM103.5 606.65h3v3h-3zM130.5 606.65h3v3h-3zM268.5 606.65h3v3h-3zM172.5 609.65h3v3h-3zM172.5 627.65h3v3h-3zM295.5 627.65h3v3h-3zM100.5 630.65h3v3h-3zM289.5 630.65h3v3h-3zM346.5 630.65h3v3h-3zM91.5 633.65h3v3h-3zM169.5 633.65h3v3h-3zM364.5 636.65h3v3h-3zM94.5 639.65h3v3h-3zM145.5 639.65h3v3h-3zM193.5 639.65h3v3h-3zM247.5 639.65h3v3h-3zM85.5 642.65h3v3h-3zM214.5 642.65h3v3h-3zM145.5 645.65h3v3h-3zM247.5 645.65h3v3h-3zM286.5 645.65h3v3h-3zM316.5 645.65h3v3h-3zM178.5 648.65h3v3h-3z"/>
<path fill="rgb(58,58,58)" d="M199.5 360.65h3v3h-3zM361.5 360.65h3v3h-3zM358.5 363.65h3v3h-3zM157.5 366.65h3v3h-3zM334.5 366.65h3v3h-3zM115.5 369.65h3v3h-3zM169.5 369.65h3v3h-3zM271.5 369.65h3v3h-3zM370.5 369.65h3v3h-3zM223.5 372.65h3v3h-3zM343.5 372.65h6v3h-6zM133.5 375.65h3v3h-3zM301.5 375.65h3v3h-3zM370.5 375.65h3v3h-3zM109.5 378.65h3v3h-3zM139.5 378.65h3v3h-3zM226.5 378.65h3v3h-3zM271.5 378.65h3v3h-3zM181.5 381.65h3v3h-3zM364.5 381.65h3v3h-3zM370.5 381.65h3v3h-3zM304.5 384.65h3v3h-3zM310.5 387.65h3v3h-3zM337.5 387.65h3v3h-3zM376.5 387.65h3v3h-3zM304.5 390.65h3v3h-3zM367.5 390.65h3v3h-3zM376.5 393.65h3v3h-3zM136.5 399.65h3v3h-3zM187.5 399.65h3v3h-3zM97.5 402.65h3v3h-3zM367.5 402.65h3v3h-3zM97.5 405.65h3v3h-3zM217.5 405.65h3v3h-3zM295.5 405.65h3v3h-3zM370.5 405.65h3v3h-3zM133.5 411.65h3v3h-3zM211.5 411.65h3v3h-3zM169.5 414.65h3v3h-3zM223.5 414.65h3v3h-3zM232.5 414.65h6v3h-6zM247.5 414.65h3v3h-3zM133.5 417.65h3v3h-3zM163.5 417.65h6v3h-6zM184.5 417.65h3v3h-3zM142.5 420.65h3v3h-3zM163.5 420.65h3v3h-3zM226.5 420.65h3v3h-3zM298.5 423.65h3v3h-3zM361.5 423.65h3v3h-3zM244.5 429.65h3v3h-3zM271.5 429.65h3v3h-3zM316.5 429.65h3v3h-3zM247.5 432.65h3v3h-3zM256.5 432.65h3v3h-3zM268.5 432.65h3v3h-3zM256.5 435.65h3v3h-3zM268.5 435.65h3v3h-3zM373.5 438.65h3v3h-3zM325.5 441.65h3v3h-3zM235.5 444.65h3v3h-3zM373.5 444.65h3v3h-3zM85.5 447.65h3v3h-3zM124.5 447.65h3v3h-3zM307.5 450.65h3v3h-3zM322.5 450.65h3v3h-3zM262.5 453.65h3v3h-3zM220.5 456.65h3v3h-3zM97.5 459.65h3v3h-3zM223.5 459.65h3v3h-3zM355.5 459.65h3v3h-3zM370.5 459.65h3v3h-3zM208.5 462.65h3v3h-3zM184.5 465.65h3v3h-3zM250.5 468.65h3v3h-3zM190.5 474.65h3v3h-3zM301.5 474.65h3v3h-3zM319.5 474.65h3v3h-3zM85.5 477.65h3v3h-3zM214.5 477.65h6v3h-6zM157.5 480.65h3v3h-3zM148.5 483.65h3v3h-3zM166.5 483.65h3v3h-3zM187.5 483.65h6v3h-6zM91.5 486.65h3v3h-3zM193.5 486.65h6v3h-6zM265.5 486.65h3v3h-3zM349.5 486.65h3v3h-3zM178.5 489.65h3v3h-3zM247.5 489.65h3v3h-3zM163.5 492.65h3v3h-3zM175.5 498.65h3v3h-3zM289.5 501.65h6v3h-6zM259.5 504.65h3v3h-3zM292.5 504.65h3v3h-3zM238.5 510.65h3v3h-3zM322.5 510.65h3v3h-3zM214.5 513.65h3v3h-3zM241.5 513.65h3v3h-3zM325.5 513.65h3v3h-3zM211.5 516.65h3v3h-3zM166.5 522.65h3v3h-3zM190.5 522.65h3v3h-3zM208.5 522.65h3v3h-3zM148.5 525.65h3v3h-3zM163.5 528.65h3v3h-3zM181.5 528.65h3v3h-3zM331.5 528.65h3v3h-3zM130.5 531.65h3v3h-3zM280.5 531.65h9v3h-9zM334.5 531.65h3v3h-3zM373.5 531.65h3v3h-3zM205.5 534.65h3v3h-3zM271.5 540.65h3v3h-3zM376.5 543.65h3v3h-3zM193.5 549.65h3v3h-3zM337.5 549.65h6v3h-6zM145.5 552.65h3v3h-3zM211.5 552.65h3v3h-3zM229.5 552.65h3v3h-3zM334.5 552.65h3v3h-3zM358.5 552.65h3v3h-3zM142.5 555.65h3v3h-3zM232.5 555.65h3v3h-3zM310.5 555.65h3v3h-3zM319.5 555.65h3v3h-3zM361.5 555.65h3v3h-3zM151.5 558.65h3v3h-3zM202.5 558.65h3v3h-3zM151.5 561.65h3v3h-3zM286.5 564.65h3v3h-3zM310.5 564.65h3v3h-3zM121.5 567.65h3v3h-3zM127.5 567.65h3v3h-3zM178.5 567.65h3v3h-3zM100.5 576.65h3v3h-3zM121.5 576.65h3v3h-3zM340.5 576.65h3v3h-3zM121.5 579.65h3v3h-3zM337.5 579.65h3v3h-3zM169.5 582.65h3v3h-3zM160.5 585.65h3v3h-3zM361.5 585.65h3v3h-3zM247.5 588.65h3v3h-3zM376.5 591.65h3v3h-3zM100.5 594.65h3v3h-3zM235.5 594.65h3v3h-3zM370.5 594.65h3v3h-3zM268.5 597.65h3v3h-3zM178.5 603.65h3v3h-3zM265.5 615.65h3v3h-3zM223.5 618.65h3v3h-3zM100.5 621.65h3v3h-3zM226.5 621.65h3v3h-3zM106.5 627.65h3v3h-3zM358.5 630.65h3v3h-3zM94.5 633.65h3v3h-3zM343.5 633.65h3v3h-3zM361.5 633.65h3v3h-3zM238.5 639.65h3v3h-3zM292.5 639.65h3v3h-3zM364.5 639.65h3v3h-3zM172.5 642.65h3v3h-3zM85.5 645.65h3v3h-3z"/>
<path fill="rgb(60,60,60)" d="M205.5 363.65h3v3h-3zM358.5 366.65h3v3h-3zM163.5 372.65h3v3h-3zM169.5 372.65h3v3h-3zM307.5 372.65h3v3h-3zM166.5 375.65h6v3h-6zM307.5 375.65h3v3h-3zM136.5 381.65h3v3h-3zM253.5 381.65h3v3h-3zM367.5 384.65h3v3h-3zM151.5 387.65h3v3h-3zM262.5 387.65h3v3h-3zM313.5 387.65h3v3h-3zM319.5 387.65h3v3h-3zM307.5 390.65h3v3h-3zM187.5 393.65h3v3h-3zM325.5 393.65h3v3h-3zM118.5 396.65h3v3h-3zM322.5 396.65h3v3h-3zM184.5 399.65h3v3h-3zM367.5 399.65h3v3h-3zM118.5 402.65h3v3h-3zM142.5 402.65h3v3h-3zM295.5 402.65h3v3h-3zM370.5 402.65h3v3h-3zM214.5 405.65h3v3h-3zM283.5 405.65h3v3h-3zM289.5 405.65h3v3h-3zM253.5 408.65h6v3h-6zM250.5 414.65h3v3h-3zM283.5 414.65h3v3h-3zM85.5 417.65h3v3h-3zM91.5 417.65h3v3h-3zM157.5 417.65h3v3h-3zM139.5 420.65h3v3h-3zM229.5 420.65h3v3h-3zM211.5 423.65h3v3h-3zM364.5 426.65h6v3h-6zM127.5 429.65h3v3h-3zM313.5 429.65h3v3h-3zM349.5 429.65h3v3h-3zM352.5 432.65h3v3h-3zM307.5 435.65h3v3h-3zM352.5 438.65h6v3h-6zM373.5 441.65h3v3h-3zM151.5 444.65h3v3h-3zM229.5 444.65h3v3h-3zM286.5 447.65h3v3h-3zM328.5 447.65h3v3h-3zM259.5 453.65h3v3h-3zM346.5 453.65h3v3h-3zM349.5 456.65h3v3h-3zM352.5 459.65h3v3h-3zM286.5 465.65h3v3h-3zM181.5 471.65h3v3h-3zM244.5 471.65h3v3h-3zM175.5 474.65h3v3h-3zM214.5 474.65h6v3h-6zM304.5 474.65h3v3h-3zM91.5 477.65h3v3h-3zM148.5 477.65h3v3h-3zM319.5 477.65h3v3h-3zM88.5 480.65h3v3h-3zM154.5 480.65h3v3h-3zM160.5 480.65h3v3h-3zM292.5 480.65h6v3h-6zM352.5 480.65h3v3h-3zM124.5 483.65h3v3h-3zM346.5 483.65h3v3h-3zM244.5 486.65h3v3h-3zM346.5 486.65h3v3h-3zM136.5 489.65h3v3h-3zM175.5 489.65h3v3h-3zM268.5 489.65h3v3h-3zM178.5 492.65h3v3h-3zM196.5 495.65h6v3h-6zM115.5 498.65h3v3h-3zM337.5 498.65h3v3h-3zM175.5 501.65h3v3h-3zM235.5 507.65h3v3h-3zM142.5 510.65h3v3h-3zM235.5 510.65h3v3h-3zM325.5 510.65h3v3h-3zM145.5 513.65h3v3h-3zM184.5 513.65h3v3h-3zM322.5 513.65h3v3h-3zM193.5 516.65h3v3h-3zM238.5 516.65h6v3h-6zM322.5 516.65h3v3h-3zM88.5 525.65h3v3h-3zM178.5 525.65h3v3h-3zM208.5 525.65h3v3h-3zM355.5 525.65h3v3h-3zM184.5 528.65h3v3h-3zM358.5 528.65h3v3h-3zM169.5 531.65h3v3h-3zM274.5 531.65h6v3h-6zM376.5 531.65h3v3h-3zM127.5 534.65h3v3h-3zM316.5 540.65h3v3h-3zM376.5 540.65h3v3h-3zM271.5 543.65h3v3h-3zM253.5 552.65h3v3h-3zM181.5 555.65h3v3h-3zM244.5 555.65h3v3h-3zM262.5 555.65h3v3h-3zM178.5 558.65h3v3h-3zM184.5 558.65h3v3h-3zM244.5 558.65h3v3h-3zM376.5 558.65h3v3h-3zM100.5 561.65h3v3h-3zM124.5 561.65h3v3h-3zM280.5 564.65h3v3h-3zM274.5 567.65h3v3h-3zM289.5 567.65h3v3h-3zM322.5 567.65h3v3h-3zM292.5 570.65h3v3h-3zM316.5 573.65h3v3h-3zM103.5 579.65h3v3h-3zM166.5 582.65h3v3h-3zM316.5 582.65h3v3h-3zM100.5 591.65h3v3h-3zM274.5 591.65h3v3h-3zM355.5 591.65h3v3h-3zM355.5 594.65h3v3h-3zM100.5 600.65h3v3h-3zM286.5 600.65h3v3h-3zM304.5 600.65h3v3h-3zM355.5 600.65h3v3h-3zM268.5 603.65h3v3h-3zM238.5 606.65h3v3h-3zM259.5 612.65h3v3h-3zM223.5 615.65h6v3h-6zM226.5 618.65h3v3h-3zM298.5 621.65h3v3h-3zM349.5 621.65h3v3h-3zM298.5 624.65h3v3h-3zM358.5 624.65h3v3h-3zM91.5 630.65h3v3h-3zM295.5 630.65h3v3h-3zM295.5 633.65h3v3h-3zM292.5 636.65h3v3h-3zM196.5 639.65h3v3h-3zM289.5 639.65h3v3h-3zM256.5 645.65h3v3h-3zM268.5 645.65h3v3h-3zM283.5 645.65h3v3h-3zM169.5 648.65h3v3h-3z"/>
<path fill="rgb(62,62,62)" d="M103.5 357.65h3v3h-3zM145.5 357.65h3v3h-3zM157.5 357.65h3v3h-3zM223.5 357.65h3v3h-3zM202.5 360.65h3v3h-3zM268.5 360.65h3v3h-3zM202.5 363.65h3v3h-3zM265.5 363.65h3v3h-3zM340.5 363.65h3v3h-3zM103.5 366.65h3v3h-3zM142.5 366.65h3v3h-3zM139.5 375.65h3v3h-3zM184.5 375.65h3v3h-3zM220.5 375.65h3v3h-3zM235.5 375.65h3v3h-3zM133.5 378.65h3v3h-3zM181.5 378.65h3v3h-3zM232.5 378.65h3v3h-3zM346.5 378.65h3v3h-3zM271.5 381.65h3v3h-3zM184.5 387.65h3v3h-3zM316.5 390.65h3v3h-3zM370.5 390.65h3v3h-3zM367.5 396.65h3v3h-3zM115.5 402.65h3v3h-3zM292.5 402.65h3v3h-3zM133.5 405.65h3v3h-3zM286.5 405.65h3v3h-3zM133.5 414.65h3v3h-3zM172.5 414.65h3v3h-3zM175.5 417.65h3v3h-3zM169.5 420.65h3v3h-3zM211.5 420.65h3v3h-3zM376.5 420.65h3v3h-3zM175.5 426.65h3v3h-3zM376.5 426.65h3v3h-3zM130.5 429.65h3v3h-3zM235.5 429.65h9v3h-9zM319.5 429.65h3v3h-3zM370.5 429.65h3v3h-3zM127.5 432.65h3v3h-3zM184.5 435.65h3v3h-3zM253.5 435.65h3v3h-3zM274.5 435.65h3v3h-3zM313.5 435.65h3v3h-3zM313.5 438.65h3v3h-3zM310.5 441.65h3v3h-3zM316.5 441.65h3v3h-3zM322.5 444.65h3v3h-3zM328.5 444.65h3v3h-3zM346.5 444.65h6v3h-6zM184.5 450.65h3v3h-3zM349.5 453.65h3v3h-3zM352.5 456.65h3v3h-3zM100.5 459.65h3v3h-3zM181.5 462.65h3v3h-3zM376.5 462.65h3v3h-3zM187.5 468.65h3v3h-3zM172.5 474.65h3v3h-3zM232.5 474.65h3v3h-3zM139.5 477.65h3v3h-3zM232.5 477.65h3v3h-3zM241.5 477.65h3v3h-3zM352.5 477.65h6v3h-6zM349.5 480.65h3v3h-3zM154.5 483.65h3v3h-3zM133.5 486.65h3v3h-3zM238.5 486.65h3v3h-3zM121.5 489.65h3v3h-3zM166.5 489.65h3v3h-3zM244.5 489.65h3v3h-3zM160.5 492.65h3v3h-3zM334.5 501.65h3v3h-3zM262.5 504.65h3v3h-3zM322.5 507.65h3v3h-3zM328.5 507.65h3v3h-3zM187.5 510.65h3v3h-3zM328.5 510.65h3v3h-3zM214.5 516.65h3v3h-3zM175.5 519.65h3v3h-3zM175.5 522.65h3v3h-3zM187.5 522.65h3v3h-3zM277.5 525.65h3v3h-3zM172.5 528.65h3v3h-3zM115.5 531.65h3v3h-3zM199.5 531.65h3v3h-3zM205.5 531.65h3v3h-3zM199.5 534.65h3v3h-3zM268.5 534.65h3v3h-3zM274.5 534.65h3v3h-3zM319.5 534.65h3v3h-3zM289.5 540.65h3v3h-3zM376.5 546.65h3v3h-3zM280.5 552.65h3v3h-3zM337.5 552.65h3v3h-3zM253.5 555.65h6v3h-6zM355.5 555.65h3v3h-3zM235.5 558.65h3v3h-3zM253.5 558.65h3v3h-3zM355.5 558.65h3v3h-3zM100.5 564.65h3v3h-3zM178.5 564.65h3v3h-3zM100.5 567.65h3v3h-3zM160.5 582.65h3v3h-3zM349.5 588.65h3v3h-3zM373.5 591.65h3v3h-3zM238.5 597.65h3v3h-3zM346.5 597.65h3v3h-3zM181.5 600.65h3v3h-3zM268.5 600.65h3v3h-3zM325.5 600.65h3v3h-3zM358.5 600.65h3v3h-3zM370.5 600.65h3v3h-3zM97.5 603.65h3v3h-3zM289.5 603.65h3v3h-3zM100.5 606.65h3v3h-3zM175.5 609.65h3v3h-3zM217.5 609.65h3v3h-3zM232.5 609.65h3v3h-3zM376.5 621.65h3v3h-3zM109.5 624.65h3v3h-3zM295.5 624.65h3v3h-3zM94.5 627.65h3v3h-3zM169.5 627.65h3v3h-3zM358.5 627.65h3v3h-3zM289.5 633.65h3v3h-3zM136.5 636.65h3v3h-3zM91.5 639.65h3v3h-3zM358.5 639.65h6v3h-6zM91.5 642.65h3v3h-3zM289.5 642.65h3v3h-3zM241.5 648.65h3v3h-3zM256.5 648.65h3v3h-3zM316.5 648.65h3v3h-3z"/>
<path fill="rgb(64,64,64)" d="M202.5 357.65h3v3h-3zM361.5 363.65h3v3h-3zM160.5 366.65h3v3h-3zM166.5 372.65h3v3h-3zM217.5 372.65h6v3h-6zM373.5 375.65h3v3h-3zM184.5 378.65h3v3h-3zM229.5 378.65h3v3h-3zM298.5 378.65h3v3h-3zM88.5 381.65h3v3h-3zM367.5 381.65h3v3h-3zM154.5 387.65h3v3h-3zM160.5 387.65h3v3h-3zM88.5 390.65h3v3h-3zM160.5 390.65h3v3h-3zM322.5 390.65h3v3h-3zM367.5 393.65h3v3h-3zM115.5 399.65h3v3h-3zM142.5 399.65h3v3h-3zM292.5 405.65h3v3h-3zM283.5 408.65h3v3h-3zM154.5 414.65h3v3h-3zM145.5 417.65h3v3h-3zM154.5 417.65h3v3h-3zM226.5 423.65h3v3h-3zM295.5 423.65h3v3h-3zM376.5 423.65h3v3h-3zM184.5 426.65h6v3h-6zM229.5 426.65h3v3h-3zM370.5 426.65h3v3h-3zM232.5 429.65h3v3h-3zM310.5 429.65h3v3h-3zM322.5 429.65h3v3h-3zM130.5 432.65h3v3h-3zM349.5 432.65h3v3h-3zM352.5 435.65h6v3h-6zM286.5 444.65h3v3h-3zM316.5 444.65h3v3h-3zM376.5 444.65h3v3h-3zM277.5 447.65h3v3h-3zM322.5 447.65h3v3h-3zM370.5 450.65h3v3h-3zM244.5 453.65h3v3h-3zM322.5 453.65h3v3h-3zM322.5 456.65h3v3h-3zM178.5 462.65h3v3h-3zM238.5 474.65h3v3h-3zM352.5 474.65h3v3h-3zM88.5 477.65h3v3h-3zM94.5 480.65h3v3h-3zM238.5 480.65h3v3h-3zM187.5 486.65h3v3h-3zM241.5 486.65h3v3h-3zM271.5 486.65h3v3h-3zM196.5 489.65h3v3h-3zM172.5 501.65h3v3h-3zM175.5 504.65h3v3h-3zM232.5 504.65h3v3h-3zM325.5 507.65h3v3h-3zM142.5 513.65h3v3h-3zM238.5 513.65h3v3h-3zM316.5 513.65h6v3h-6zM265.5 516.65h3v3h-3zM145.5 519.65h3v3h-3zM187.5 519.65h3v3h-3zM193.5 519.65h3v3h-3zM169.5 522.65h6v3h-6zM202.5 522.65h3v3h-3zM355.5 522.65h3v3h-3zM175.5 525.65h3v3h-3zM361.5 528.65h3v3h-3zM295.5 540.65h3v3h-3zM319.5 540.65h3v3h-3zM241.5 549.65h3v3h-3zM376.5 549.65h3v3h-3zM142.5 552.65h3v3h-3zM322.5 552.65h3v3h-3zM145.5 555.65h3v3h-3zM205.5 555.65h3v3h-3zM259.5 555.65h3v3h-3zM100.5 558.65h3v3h-3zM271.5 564.65h3v3h-3zM289.5 564.65h3v3h-3zM355.5 564.65h3v3h-3zM124.5 567.65h3v3h-3zM271.5 567.65h3v3h-3zM325.5 567.65h3v3h-3zM181.5 570.65h3v3h-3zM340.5 579.65h3v3h-3zM163.5 582.65h3v3h-3zM352.5 588.65h3v3h-3zM238.5 591.65h3v3h-3zM271.5 594.65h3v3h-3zM373.5 600.65h3v3h-3zM313.5 603.65h3v3h-3zM271.5 606.65h3v3h-3zM310.5 606.65h3v3h-3zM214.5 609.65h3v3h-3zM265.5 612.65h3v3h-3zM175.5 615.65h3v3h-3zM376.5 618.65h3v3h-3zM295.5 621.65h3v3h-3zM133.5 624.65h6v3h-6zM103.5 627.65h3v3h-3zM376.5 627.65h3v3h-3zM358.5 633.65h3v3h-3zM88.5 642.65h3v3h-3zM238.5 642.65h3v3h-3zM247.5 642.65h3v3h-3zM148.5 645.65h3v3h-3zM175.5 645.65h3v3h-3zM325.5 645.65h3v3h-3zM322.5 648.65h3v3h-3z"/>
<path fill="rgb(66,66,66)" d="M160.5 357.65h3v3h-3zM142.5 360.65h3v3h-3zM148.5 360.65h3v3h-3zM142.5 363.65h3v3h-3zM331.5 363.65h3v3h-3zM109.5 366.65h3v3h-3zM151.5 366.65h3v3h-3zM157.5 369.65h3v3h-3zM166.5 369.65h3v3h-3zM136.5 375.65h3v3h-3zM112.5 378.65h3v3h-3zM157.5 387.65h3v3h-3zM184.5 390.65h3v3h-3zM319.5 390.65h3v3h-3zM322.5 393.65h3v3h-3zM370.5 393.65h3v3h-3zM133.5 402.65h3v3h-3zM139.5 402.65h3v3h-3zM187.5 402.65h3v3h-3zM286.5 408.65h3v3h-3zM136.5 414.65h3v3h-3zM169.5 417.65h3v3h-3zM367.5 417.65h3v3h-3zM232.5 423.65h3v3h-3zM232.5 426.65h3v3h-3zM373.5 426.65h3v3h-3zM250.5 432.65h6v3h-6zM274.5 432.65h3v3h-3zM229.5 441.65h3v3h-3zM310.5 447.65h3v3h-3zM325.5 447.65h3v3h-3zM349.5 450.65h3v3h-3zM211.5 462.65h3v3h-3zM211.5 465.65h3v3h-3zM184.5 471.65h3v3h-3zM91.5 480.65h3v3h-3zM238.5 483.65h3v3h-3zM157.5 486.65h3v3h-3zM190.5 486.65h3v3h-3zM127.5 489.65h3v3h-3zM199.5 489.65h3v3h-3zM172.5 495.65h3v3h-3zM172.5 498.65h3v3h-3zM172.5 504.65h3v3h-3zM229.5 507.65h3v3h-3zM148.5 519.65h3v3h-3zM370.5 522.65h3v3h-3zM181.5 525.65h3v3h-3zM280.5 525.65h3v3h-3zM202.5 528.65h6v3h-6zM334.5 528.65h3v3h-3zM127.5 531.65h3v3h-3zM358.5 534.65h6v3h-6zM316.5 537.65h3v3h-3zM277.5 552.65h3v3h-3zM328.5 552.65h3v3h-3zM145.5 558.65h3v3h-3zM178.5 561.65h3v3h-3zM355.5 561.65h3v3h-3zM124.5 564.65h3v3h-3zM292.5 564.65h3v3h-3zM181.5 576.65h6v3h-6zM100.5 579.65h3v3h-3zM184.5 579.65h3v3h-3zM241.5 591.65h3v3h-3zM271.5 591.65h3v3h-3zM274.5 594.65h3v3h-3zM307.5 600.65h3v3h-3zM328.5 600.65h3v3h-3zM286.5 603.65h3v3h-3zM235.5 606.65h3v3h-3zM307.5 606.65h3v3h-3zM172.5 615.65h3v3h-3zM349.5 627.65h3v3h-3zM376.5 630.65h3v3h-3zM346.5 633.65h3v3h-3zM268.5 639.65h3v3h-3zM268.5 642.65h3v3h-3zM244.5 645.65h3v3h-3zM265.5 645.65h3v3h-3zM271.5 648.65h3v3h-3zM286.5 648.65h3v3h-3z"/>
<path fill="rgb(68,68,68)" d="M283.5 360.65h3v3h-3zM280.5 366.65h3v3h-3zM103.5 369.65h3v3h-3zM370.5 372.65h3v3h-3zM85.5 375.65h3v3h-3zM115.5 375.65h3v3h-3zM346.5 375.65h3v3h-3zM340.5 378.65h3v3h-3zM187.5 387.65h3v3h-3zM307.5 387.65h3v3h-3zM316.5 387.65h3v3h-3zM157.5 390.65h3v3h-3zM190.5 390.65h3v3h-3zM85.5 393.65h3v3h-3zM157.5 393.65h3v3h-3zM118.5 399.65h3v3h-3zM136.5 402.65h3v3h-3zM184.5 402.65h3v3h-3zM214.5 408.65h3v3h-3zM229.5 408.65h3v3h-3zM283.5 411.65h6v3h-6zM373.5 417.65h3v3h-3zM364.5 420.65h3v3h-3zM292.5 429.65h3v3h-3zM370.5 432.65h3v3h-3zM232.5 441.65h3v3h-3zM148.5 444.65h3v3h-3zM226.5 456.65h3v3h-3zM241.5 456.65h6v3h-6zM244.5 459.65h6v3h-6zM214.5 462.65h3v3h-3zM214.5 465.65h3v3h-3zM172.5 468.65h3v3h-3zM178.5 471.65h3v3h-3zM187.5 471.65h3v3h-3zM193.5 471.65h3v3h-3zM145.5 477.65h3v3h-3zM235.5 477.65h6v3h-6zM322.5 477.65h3v3h-3zM148.5 480.65h3v3h-3zM241.5 480.65h3v3h-3zM151.5 483.65h3v3h-3zM157.5 483.65h3v3h-3zM130.5 489.65h6v3h-6zM157.5 489.65h3v3h-3zM199.5 492.65h3v3h-3zM175.5 495.65h3v3h-3zM229.5 504.65h3v3h-3zM232.5 507.65h3v3h-3zM145.5 522.65h3v3h-3zM205.5 522.65h3v3h-3zM202.5 531.65h3v3h-3zM370.5 531.65h3v3h-3zM202.5 534.65h3v3h-3zM376.5 534.65h3v3h-3zM286.5 537.65h3v3h-3zM292.5 543.65h3v3h-3zM280.5 546.65h3v3h-3zM316.5 549.65h3v3h-3zM148.5 555.65h3v3h-3zM358.5 555.65h3v3h-3zM205.5 561.65h3v3h-3zM358.5 561.65h3v3h-3zM127.5 564.65h3v3h-3zM238.5 594.65h6v3h-6zM328.5 597.65h3v3h-3zM355.5 597.65h3v3h-3zM370.5 597.65h3v3h-3zM376.5 597.65h3v3h-3zM178.5 600.65h3v3h-3zM172.5 612.65h3v3h-3zM259.5 615.65h3v3h-3zM109.5 621.65h3v3h-3zM355.5 621.65h3v3h-3zM94.5 630.65h3v3h-3zM169.5 630.65h6v3h-6zM361.5 636.65h3v3h-3zM265.5 639.65h3v3h-3zM259.5 642.65h3v3h-3zM325.5 642.65h3v3h-3zM265.5 648.65h3v3h-3z"/>
<path fill="rgb(70,70,70)" d="M100.5 357.65h3v3h-3zM196.5 357.65h3v3h-3zM163.5 369.65h3v3h-3zM373.5 372.65h3v3h-3zM310.5 375.65h3v3h-3zM88.5 378.65h3v3h-3zM139.5 399.65h3v3h-3zM229.5 423.65h3v3h-3zM235.5 432.65h3v3h-3zM241.5 432.65h3v3h-3zM280.5 444.65h3v3h-3zM349.5 447.65h3v3h-3zM241.5 453.65h3v3h-3zM223.5 456.65h3v3h-3zM190.5 471.65h3v3h-3zM142.5 477.65h3v3h-3zM151.5 480.65h3v3h-3zM91.5 483.65h3v3h-3zM241.5 483.65h3v3h-3zM322.5 483.65h3v3h-3zM349.5 483.65h3v3h-3zM124.5 486.65h3v3h-3zM166.5 486.65h3v3h-3zM175.5 492.65h3v3h-3zM196.5 492.65h3v3h-3zM253.5 507.65h3v3h-3zM253.5 510.65h3v3h-3zM148.5 522.65h3v3h-3zM184.5 525.65h3v3h-3zM277.5 528.65h3v3h-3zM295.5 534.65h3v3h-3zM364.5 534.65h3v3h-3zM271.5 537.65h3v3h-3zM376.5 537.65h3v3h-3zM274.5 543.65h3v3h-3zM271.5 546.65h3v3h-3zM211.5 555.65h3v3h-3zM325.5 555.65h3v3h-3zM181.5 558.65h3v3h-3zM184.5 561.65h3v3h-3zM181.5 579.65h3v3h-3zM349.5 585.65h3v3h-3zM361.5 588.65h3v3h-3zM361.5 591.65h3v3h-3zM376.5 594.65h3v3h-3zM343.5 597.65h3v3h-3zM361.5 597.65h3v3h-3zM100.5 603.65h3v3h-3zM262.5 612.65h3v3h-3zM103.5 621.65h3v3h-3zM352.5 621.65h3v3h-3zM97.5 630.65h3v3h-3zM292.5 630.65h3v3h-3zM154.5 645.65h3v3h-3zM238.5 645.65h3v3h-3zM145.5 648.65h3v3h-3zM283.5 648.65h3v3h-3zM319.5 648.65h3v3h-3z"/>
<path fill="rgb(72,72,72)" d="M220.5 357.65h3v3h-3zM148.5 369.65h3v3h-3zM223.5 375.65h3v3h-3zM229.5 375.65h6v3h-6zM298.5 375.65h3v3h-3zM343.5 375.65h3v3h-3zM304.5 387.65h3v3h-3zM373.5 390.65h3v3h-3zM217.5 408.65h6v3h-6zM214.5 411.65h3v3h-3zM232.5 411.65h3v3h-3zM88.5 417.65h3v3h-3zM175.5 420.65h3v3h-3zM184.5 423.65h6v3h-6zM364.5 423.65h3v3h-3zM295.5 426.65h3v3h-3zM295.5 429.65h3v3h-3zM313.5 432.65h3v3h-3zM373.5 435.65h3v3h-3zM283.5 444.65h3v3h-3zM310.5 444.65h3v3h-3zM325.5 444.65h3v3h-3zM325.5 477.65h3v3h-3zM94.5 483.65h3v3h-3zM130.5 486.65h3v3h-3zM268.5 486.65h3v3h-3zM124.5 489.65h3v3h-3zM334.5 498.65h3v3h-3zM187.5 516.65h3v3h-3zM262.5 516.65h3v3h-3zM172.5 525.65h3v3h-3zM202.5 525.65h3v3h-3zM367.5 525.65h3v3h-3zM358.5 531.65h3v3h-3zM271.5 534.65h3v3h-3zM295.5 537.65h3v3h-3zM316.5 552.65h3v3h-3zM208.5 555.65h3v3h-3zM235.5 555.65h3v3h-3zM322.5 555.65h3v3h-3zM208.5 558.65h3v3h-3zM148.5 561.65h3v3h-3zM259.5 561.65h3v3h-3zM319.5 570.65h3v3h-3zM325.5 570.65h3v3h-3zM325.5 573.65h3v3h-3zM163.5 585.65h6v3h-6zM361.5 594.65h3v3h-3zM277.5 597.65h3v3h-3zM277.5 600.65h3v3h-3zM274.5 603.65h3v3h-3zM235.5 609.65h3v3h-3zM262.5 615.65h3v3h-3zM349.5 624.65h3v3h-3zM349.5 630.65h3v3h-3zM292.5 633.65h3v3h-3zM319.5 639.65h3v3h-3zM151.5 645.65h3v3h-3zM241.5 645.65h3v3h-3zM259.5 648.65h6v3h-6zM268.5 648.65h3v3h-3z"/>
<path fill="rgb(74,74,74)" d="M268.5 366.65h6v3h-6zM283.5 366.65h3v3h-3zM112.5 369.65h3v3h-3zM106.5 372.65h3v3h-3zM226.5 375.65h3v3h-3zM343.5 378.65h3v3h-3zM337.5 381.65h3v3h-3zM343.5 387.65h3v3h-3zM370.5 417.65h3v3h-3zM184.5 420.65h3v3h-3zM373.5 423.65h3v3h-3zM307.5 432.65h3v3h-3zM271.5 435.65h3v3h-3zM310.5 435.65h3v3h-3zM232.5 444.65h3v3h-3zM346.5 450.65h3v3h-3zM100.5 456.65h3v3h-3zM175.5 465.65h3v3h-3zM250.5 465.65h3v3h-3zM184.5 468.65h3v3h-3zM172.5 471.65h3v3h-3zM235.5 474.65h3v3h-3zM322.5 480.65h3v3h-3zM163.5 483.65h3v3h-3zM127.5 486.65h3v3h-3zM256.5 507.65h3v3h-3zM265.5 507.65h3v3h-3zM316.5 507.65h6v3h-6zM319.5 510.65h3v3h-3zM190.5 519.65h3v3h-3zM370.5 525.65h3v3h-3zM166.5 528.65h3v3h-3zM310.5 549.65h3v3h-3zM376.5 552.65h3v3h-3zM262.5 558.65h3v3h-3zM358.5 558.65h3v3h-3zM256.5 561.65h3v3h-3zM292.5 567.65h3v3h-3zM373.5 594.65h3v3h-3zM310.5 603.65h3v3h-3zM97.5 624.65h3v3h-3zM352.5 639.65h6v3h-6zM265.5 642.65h3v3h-3zM172.5 645.65h3v3h-3zM319.5 645.65h3v3h-3zM238.5 648.65h3v3h-3z"/>
<path fill="rgb(76,76,76)" d="M199.5 357.65h3v3h-3zM145.5 360.65h3v3h-3zM331.5 360.65h3v3h-3zM271.5 363.65h3v3h-3zM280.5 363.65h3v3h-3zM106.5 366.65h3v3h-3zM145.5 369.65h3v3h-3zM160.5 369.65h3v3h-3zM115.5 372.65h3v3h-3zM109.5 375.65h3v3h-3zM136.5 378.65h3v3h-3zM229.5 411.65h3v3h-3zM172.5 417.65h3v3h-3zM187.5 420.65h3v3h-3zM376.5 429.65h3v3h-3zM271.5 432.65h3v3h-3zM283.5 447.65h3v3h-3zM160.5 483.65h3v3h-3zM265.5 513.65h3v3h-3zM166.5 525.65h3v3h-3zM205.5 525.65h3v3h-3zM280.5 528.65h3v3h-3zM286.5 534.65h3v3h-3zM325.5 552.65h3v3h-3zM184.5 567.65h3v3h-3zM271.5 597.65h3v3h-3zM175.5 612.65h3v3h-3zM103.5 624.65h6v3h-6zM358.5 636.65h3v3h-3zM241.5 639.65h3v3h-3zM262.5 642.65h3v3h-3z"/>
<path fill="rgb(78,78,78)" d="M343.5 357.65h3v3h-3zM343.5 381.65h3v3h-3zM337.5 384.65h3v3h-3zM85.5 387.65h3v3h-3zM217.5 411.65h3v3h-3zM142.5 417.65h3v3h-3zM367.5 423.65h6v3h-6zM373.5 429.65h3v3h-3zM376.5 438.65h3v3h-3zM376.5 441.65h3v3h-3zM346.5 447.65h3v3h-3zM250.5 462.65h3v3h-3zM325.5 480.65h3v3h-3zM259.5 507.65h3v3h-3zM256.5 510.65h3v3h-3zM316.5 510.65h3v3h-3zM187.5 513.65h6v3h-6zM169.5 528.65h3v3h-3zM319.5 537.65h3v3h-3zM280.5 549.65h3v3h-3zM238.5 552.65h3v3h-3zM376.5 555.65h3v3h-3zM205.5 558.65h3v3h-3zM322.5 570.65h3v3h-3zM316.5 576.65h3v3h-3zM358.5 585.65h3v3h-3zM373.5 597.65h3v3h-3zM271.5 603.65h3v3h-3zM106.5 621.65h3v3h-3zM100.5 624.65h3v3h-3zM100.5 627.65h3v3h-3zM355.5 630.65h3v3h-3zM319.5 642.65h3v3h-3zM262.5 645.65h3v3h-3zM148.5 648.65h3v3h-3z"/>
<path fill="rgb(80,80,80)" d="M85.5 384.65h3v3h-3zM223.5 408.65h3v3h-3zM226.5 411.65h3v3h-3zM136.5 417.65h3v3h-3zM367.5 420.65h3v3h-3zM175.5 423.65h3v3h-3zM238.5 432.65h3v3h-3zM313.5 441.65h3v3h-3zM313.5 444.65h3v3h-3zM280.5 447.65h3v3h-3zM190.5 516.65h3v3h-3zM364.5 528.65h3v3h-3zM361.5 531.65h3v3h-3zM292.5 534.65h3v3h-3zM292.5 540.65h3v3h-3zM241.5 552.65h3v3h-3zM310.5 552.65h3v3h-3zM181.5 561.65h3v3h-3zM184.5 564.65h3v3h-3zM319.5 579.65h3v3h-3zM352.5 585.65h6v3h-6zM355.5 588.65h3v3h-3zM307.5 603.65h3v3h-3zM136.5 627.65h3v3h-3zM133.5 633.65h3v3h-3zM244.5 639.65h3v3h-3zM322.5 639.65h3v3h-3zM241.5 642.65h3v3h-3zM259.5 645.65h3v3h-3z"/>
<path fill="rgb(82,82,82)" d="M226.5 408.65h3v3h-3zM220.5 411.65h3v3h-3zM139.5 417.65h3v3h-3zM373.5 420.65h3v3h-3zM172.5 423.65h3v3h-3zM373.5 450.65h3v3h-3zM373.5 459.65h3v3h-3zM244.5 468.65h3v3h-3zM175.5 471.65h3v3h-3zM163.5 489.65h3v3h-3zM265.5 510.65h3v3h-3zM289.5 534.65h3v3h-3zM289.5 537.65h3v3h-3zM238.5 558.65h3v3h-3zM256.5 558.65h3v3h-3zM181.5 567.65h3v3h-3zM322.5 576.65h3v3h-3zM274.5 597.65h3v3h-3zM358.5 597.65h3v3h-3zM136.5 633.65h3v3h-3zM322.5 645.65h3v3h-3zM175.5 648.65h3v3h-3z"/>
<path fill="rgb(84,84,84)" d="M268.5 363.65h3v3h-3zM283.5 363.65h3v3h-3zM334.5 363.65h3v3h-3zM340.5 387.65h3v3h-3zM187.5 390.65h3v3h-3zM223.5 411.65h3v3h-3zM310.5 432.65h3v3h-3zM376.5 435.65h3v3h-3zM247.5 468.65h3v3h-3zM160.5 486.65h3v3h-3zM160.5 489.65h3v3h-3zM259.5 513.65h3v3h-3zM88.5 519.65h3v3h-3zM169.5 525.65h3v3h-3zM313.5 549.65h3v3h-3zM148.5 558.65h3v3h-3zM241.5 558.65h3v3h-3zM181.5 564.65h3v3h-3zM316.5 579.65h3v3h-3zM355.5 624.65h3v3h-3zM97.5 627.65h3v3h-3zM133.5 627.65h3v3h-3zM352.5 627.65h3v3h-3zM352.5 630.65h3v3h-3zM355.5 633.65h3v3h-3zM349.5 636.65h3v3h-3zM172.5 648.65h3v3h-3z"/>
<path fill="rgb(86,86,86)" d="M337.5 363.65h3v3h-3zM112.5 375.65h3v3h-3zM343.5 384.65h3v3h-3zM172.5 420.65h3v3h-3zM370.5 456.65h3v3h-3zM376.5 459.65h3v3h-3zM181.5 465.65h3v3h-3zM181.5 468.65h3v3h-3zM163.5 486.65h3v3h-3zM370.5 528.65h3v3h-3zM367.5 531.65h3v3h-3zM274.5 549.65h3v3h-3zM358.5 594.65h3v3h-3zM271.5 600.65h3v3h-3zM352.5 624.65h3v3h-3zM355.5 627.65h3v3h-3zM349.5 633.65h3v3h-3zM244.5 642.65h3v3h-3z"/>
<path fill="rgb(88,88,88)" d="M331.5 357.65h3v3h-3zM145.5 363.65h6v3h-6zM85.5 378.65h3v3h-3zM340.5 381.65h3v3h-3zM85.5 390.65h3v3h-3zM376.5 390.65h3v3h-3zM370.5 420.65h3v3h-3zM376.5 450.65h3v3h-3zM244.5 462.65h3v3h-3zM175.5 468.65h3v3h-3zM262.5 507.65h3v3h-3zM85.5 525.65h3v3h-3zM313.5 552.65h3v3h-3zM259.5 558.65h3v3h-3zM358.5 591.65h3v3h-3zM136.5 630.65h3v3h-3z"/>
<path fill="rgb(90,90,90)" d="M145.5 366.65h3v3h-3zM109.5 369.65h3v3h-3zM373.5 432.65h3v3h-3zM370.5 453.65h3v3h-3zM178.5 465.65h3v3h-3zM259.5 510.65h3v3h-3zM88.5 522.65h3v3h-3zM364.5 531.65h3v3h-3zM277.5 546.65h3v3h-3zM322.5 573.65h3v3h-3zM274.5 600.65h3v3h-3zM154.5 648.65h3v3h-3z"/>
<path fill="rgb(92,92,92)" d="M106.5 369.65h3v3h-3zM112.5 372.65h3v3h-3zM376.5 432.65h3v3h-3zM292.5 537.65h3v3h-3zM319.5 573.65h3v3h-3zM133.5 630.65h3v3h-3zM322.5 642.65h3v3h-3z"/>
<path fill="rgb(94,94,94)" d="M109.5 372.65h3v3h-3zM178.5 468.65h3v3h-3zM277.5 549.65h3v3h-3zM151.5 648.65h3v3h-3z"/>
<path fill="rgb(96,96,96)" d="M148.5 366.65h3v3h-3zM85.5 381.65h3v3h-3zM247.5 462.65h3v3h-3zM367.5 528.65h3v3h-3zM274.5 546.65h3v3h-3zM241.5 555.65h3v3h-3zM358.5 588.65h3v3h-3zM355.5 636.65h3v3h-3z"/>
<path fill="rgb(98,98,98)" d="M244.5 465.65h3v3h-3zM238.5 555.65h3v3h-3zM352.5 633.65h3v3h-3z"/>
<path fill="rgb(100,100,100)" d="M340.5 384.65h3v3h-3zM319.5 576.65h3v3h-3z"/>
<path fill="rgb(102,102,102)" d="M247.5 465.65h3v3h-3zM262.5 513.65h3v3h-3z"/>
<path fill="rgb(104,104,104)" d="M340.5 360.65h3v3h-3zM262.5 510.65h3v3h-3z"/>
<path fill="rgb(106,106,106)" d="M352.5 636.65h3v3h-3z"/>
<path fill="rgb(112,112,112)" d="M85.5 519.65h3v3h-3z"/>
<path fill="rgb(114,114,114)" d="M373.5 456.65h3v3h-3z"/>
<path fill="rgb(116,116,116)" d="M376.5 456.65h3v3h-3z"/>
<path fill="rgb(120,120,120)" d="M373.5 453.65h3v3h-3z"/>
<path fill="rgb(122,122,122)" d="M334.5 360.65h3v3h-3zM376.5 453.65h3v3h-3z"/>
<path fill="rgb(128,128,128)" d="M85.5 522.65h3v3h-3z"/>
<path fill="rgb(136,136,136)" d="M340.5 357.65h3v3h-3z"/>
<path fill="rgb(138,138,138)" d="M337.5 360.65h3v3h-3z"/>
<path fill="rgb(146,146,146)" d="M334.5 357.65h3v3h-3z"/>
<path fill="rgb(168,168,168)" d="M337.5 357.65h3v3h-3z"/>
</g>
<radialGradient id="s1"><stop offset="0.000" stop-color="#fff" stop-opacity="1.000"/><stop offset="0.077" stop-color="#fff" stop-opacity="1.000"/><stop offset="0.154" stop-color="#fff" stop-opacity="1.000"/><stop offset="0.231" stop-color="#fff" stop-opacity="1.000"/><stop offset="0.308" stop-color="#fff" stop-opacity="1.000"/><stop offset="0.385" stop-color="#fff" stop-opacity="1.000"/><stop offset="0.462" stop-color="#fff" stop-opacity="0.694"/><stop offset="0.538" stop-color="#fff" stop-opacity="0.201"/><stop offset="0.615" stop-color="#fff" stop-opacity="0.048"/><stop offset="0.692" stop-color="#fff" stop-opacity="0.010"/><stop offset="0.769" stop-color="#fff" stop-opacity="0.002"/><stop offset="0.846" stop-color="#fff" stop-opacity="0.000"/><stop offset="0.923" stop-color="#fff" stop-opacity="0.000"/><stop offset="1.000" stop-color="#fff" stop-opacity="0.000"/></radialGradient>
<circle cx="197.7" cy="424.7" r="23.84" fill="url(#s1)"/>
<radialGradient id="s2"><stop offset="0.000" stop-color="#fff" stop-opacity="1.000"/><stop offset="0.077" stop-color="#fff" stop-opacity="1.000"/><stop offset="0.154" stop-color="#fff" stop-opacity="1.000"/><stop offset="0.231" stop-color="#fff" stop-opacity="1.000"/><stop offset="0.308" stop-color="#fff" stop-opacity="1.000"/><stop offset="0.385" stop-color="#fff" stop-opacity="0.746"/><stop offset="0.462" stop-color="#fff" stop-opacity="0.337"/><stop offset="0.538" stop-color="#fff" stop-opacity="0.132"/><stop offset="0.615" stop-color="#fff" stop-opacity="0.045"/><stop offset="0.692" stop-color="#fff" stop-opacity="0.013"/><stop offset="0.769" stop-color="#fff" stop-opacity="0.003"/><stop offset="0.846" stop-color="#fff" stop-opacity="0.001"/><stop offset="0.923" stop-color="#fff" stop-opacity="0.000"/><stop offset="1.000" stop-color="#fff" stop-opacity="0.000"/></radialGradient>
<circle cx="176.6" cy="464.9" r="20.74" fill="url(#s2)"/>
<radialGradient id="s3"><stop offset="0.000" stop-color="#fff" stop-opacity="1.000"/><stop offset="0.077" stop-color="#fff" stop-opacity="1.000"/><stop offset="0.154" stop-color="#fff" stop-opacity="1.000"/><stop offset="0.231" stop-color="#fff" stop-opacity="1.000"/><stop offset="0.308" stop-color="#fff" stop-opacity="1.000"/><stop offset="0.385" stop-color="#fff" stop-opacity="1.000"/><stop offset="0.462" stop-color="#fff" stop-opacity="0.453"/><stop offset="0.538" stop-color="#fff" stop-opacity="0.154"/><stop offset="0.615" stop-color="#fff" stop-opacity="0.044"/><stop offset="0.692" stop-color="#fff" stop-opacity="0.011"/><stop offset="0.769" stop-color="#fff" stop-opacity="0.002"/><stop offset="0.846" stop-color="#fff" stop-opacity="0.000"/><stop offset="0.923" stop-color="#fff" stop-opacity="0.000"/><stop offset="1.000" stop-color="#fff" stop-opacity="0.000"/></radialGradient>
<circle cx="234.2" cy="498" r="22.24" fill="url(#s3)"/>
<radialGradient id="s4"><stop offset="0.000" stop-color="#fff" stop-opacity="1.000"/><stop offset="0.077" stop-color="#fff" stop-opacity="1.000"/><stop offset="0.154" stop-color="#fff" stop-opacity="1.000"/><stop offset="0.231" stop-color="#fff" stop-opacity="1.000"/><stop offset="0.308" stop-color="#fff" stop-opacity="1.000"/><stop offset="0.385" stop-color="#fff" stop-opacity="1.000"/><stop offset="0.462" stop-color="#fff" stop-opacity="0.475"/><stop offset="0.538" stop-color="#fff" stop-opacity="0.158"/><stop offset="0.615" stop-color="#fff" stop-opacity="0.045"/><stop offset="0.692" stop-color="#fff" stop-opacity="0.011"/><stop offset="0.769" stop-color="#fff" stop-opacity="0.002"/><stop offset="0.846" stop-color="#fff" stop-opacity="0.000"/><stop offset="0.923" stop-color="#fff" stop-opacity="0.000"/><stop offset="1.000" stop-color="#fff" stop-opacity="0.000"/></radialGradient>
<circle cx="142.3" cy="535.8" r="22.44" fill="url(#s4)"/>
<radialGradient id="s5"><stop offset="0.000" stop-color="#fff" stop-opacity="1.000"/><stop offset="0.077" stop-color="#fff" stop-opacity="1.000"/><stop offset="0.154" stop-color="#fff" stop-opacity="1.000"/><stop offset="0.231" stop-color="#fff" stop-opacity="1.000"/><stop offset="0.308" stop-color="#fff" stop-opacity="1.000"/><stop offset="0.385" stop-color="#fff" stop-opacity="0.846"/><stop offset="0.462" stop-color="#fff" stop-opacity="0.368"/><stop offset="0.538" stop-color="#fff" stop-opacity="0.138"/><stop offset="0.615" stop-color="#fff" stop-opacity="0.044"/><stop offset="0.692" stop-color="#fff" stop-opacity="0.012"/><stop offset="0.769" stop-color="#fff" stop-opacity="0.003"/><stop offset="0.846" stop-color="#fff" stop-opacity="0.001"/><stop offset="0.923" stop-color="#fff" stop-opacity="0.000"/><stop offset="1.000" stop-color="#fff" stop-opacity="0.000"/></radialGradient>
<circle cx="112.5" cy="600.2" r="21.24" fill="url(#s5)"/>
<radialGradient id="s6"><stop offset="0.000" stop-color="#fff" stop-opacity="1.000"/><stop offset="0.077" stop-color="#fff" stop-opacity="1.000"/><stop offset="0.154" stop-color="#fff" stop-opacity="1.000"/><stop offset="0.231" stop-color="#fff" stop-opacity="1.000"/><stop offset="0.308" stop-color="#fff" stop-opacity="1.000"/><stop offset="0.385" stop-color="#fff" stop-opacity="0.601"/><stop offset="0.462" stop-color="#fff" stop-opacity="0.293"/><stop offset="0.538" stop-color="#fff" stop-opacity="0.125"/><stop offset="0.615" stop-color="#fff" stop-opacity="0.047"/><stop offset="0.692" stop-color="#fff" stop-opacity="0.015"/><stop offset="0.769" stop-color="#fff" stop-opacity="0.004"/><stop offset="0.846" stop-color="#fff" stop-opacity="0.001"/><stop offset="0.923" stop-color="#fff" stop-opacity="0.000"/><stop offset="1.000" stop-color="#fff" stop-opacity="0.000"/></radialGradient>
<circle cx="165" cy="619.9" r="19.74" fill="url(#s6)"/>
<radialGradient id="s7"><stop offset="0.000" stop-color="#fff" stop-opacity="1.000"/><stop offset="0.077" stop-color="#fff" stop-opacity="1.000"/><stop offset="0.154" stop-color="#fff" stop-opacity="1.000"/><stop offset="0.231" stop-color="#fff" stop-opacity="1.000"/><stop offset="0.308" stop-color="#fff" stop-opacity="0.882"/><stop offset="0.385" stop-color="#fff" stop-opacity="0.516"/><stop offset="0.462" stop-color="#fff" stop-opacity="0.268"/><stop offset="0.538" stop-color="#fff" stop-opacity="0.124"/><stop offset="0.615" stop-color="#fff" stop-opacity="0.051"/><stop offset="0.692" stop-color="#fff" stop-opacity="0.018"/><stop offset="0.769" stop-color="#fff" stop-opacity="0.006"/><stop offset="0.846" stop-color="#fff" stop-opacity="0.002"/><stop offset="0.923" stop-color="#fff" stop-opacity="0.000"/><stop offset="1.000" stop-color="#fff" stop-opacity="0.000"/></radialGradient>
<circle cx="295.2" cy="604.9" r="18.84" fill="url(#s7)"/>
<radialGradient id="s8"><stop offset="0.000" stop-color="#fff" stop-opacity="1.000"/><stop offset="0.077" stop-color="#fff" stop-opacity="1.000"/><stop offset="0.154" stop-color="#fff" stop-opacity="1.000"/><stop offset="0.231" stop-color="#fff" stop-opacity="1.000"/><stop offset="0.308" stop-color="#fff" stop-opacity="0.787"/><stop offset="0.385" stop-color="#fff" stop-opacity="0.476"/><stop offset="0.462" stop-color="#fff" stop-opacity="0.258"/><stop offset="0.538" stop-color="#fff" stop-opacity="0.125"/><stop offset="0.615" stop-color="#fff" stop-opacity="0.054"/><stop offset="0.692" stop-color="#fff" stop-opacity="0.021"/><stop offset="0.769" stop-color="#fff" stop-opacity="0.007"/><stop offset="0.846" stop-color="#fff" stop-opacity="0.002"/><stop offset="0.923" stop-color="#fff" stop-opacity="0.001"/><stop offset="1.000" stop-color="#fff" stop-opacity="0.000"/></radialGradient>
<circle cx="316.2" cy="628" r="18.24" fill="url(#s8)"/>
<radialGradient id="s9"><stop offset="0.000" stop-color="#fff" stop-opacity="1.000"/><stop offset="0.077" stop-color="#fff" stop-opacity="1.000"/><stop offset="0.154" stop-color="#fff" stop-opacity="1.000"/><stop offset="0.231" stop-color="#fff" stop-opacity="0.858"/><stop offset="0.308" stop-color="#fff" stop-opacity="0.625"/><stop offset="0.385" stop-color="#fff" stop-opacity="0.416"/><stop offset="0.462" stop-color="#fff" stop-opacity="0.252"/><stop offset="0.538" stop-color="#fff" stop-opacity="0.140"/><stop offset="0.615" stop-color="#fff" stop-opacity="0.071"/><stop offset="0.692" stop-color="#fff" stop-opacity="0.033"/><stop offset="0.769" stop-color="#fff" stop-opacity="0.014"/><stop offset="0.846" stop-color="#fff" stop-opacity="0.005"/><stop offset="0.923" stop-color="#fff" stop-opacity="0.002"/><stop offset="1.000" stop-color="#fff" stop-opacity="0.001"/></radialGradient>
<circle cx="331.7" cy="600.2" r="16.44" fill="url(#s9)"/>
<radialGradient id="s10"><stop offset="0.000" stop-color="#fff" stop-opacity="1.000"/><stop offset="0.077" stop-color="#fff" stop-opacity="1.000"/><stop offset="0.154" stop-color="#fff" stop-opacity="1.000"/><stop offset="0.231" stop-color="#fff" stop-opacity="0.821"/><stop offset="0.308" stop-color="#fff" stop-opacity="0.607"/><stop offset="0.385" stop-color="#fff" stop-opacity="0.412"/><stop offset="0.462" stop-color="#fff" stop-opacity="0.256"/><stop offset="0.538" stop-color="#fff" stop-opacity="0.146"/><stop offset="0.615" stop-color="#fff" stop-opacity="0.077"/><stop offset="0.692" stop-color="#fff" stop-opacity="0.037"/><stop offset="0.769" stop-color="#fff" stop-opacity="0.016"/><stop offset="0.846" stop-color="#fff" stop-opacity="0.007"/><stop offset="0.923" stop-color="#fff" stop-opacity="0.002"/><stop offset="1.000" stop-color="#fff" stop-opacity="0.001"/></radialGradient>
<circle cx="294.7" cy="449.4" r="16.04" fill="url(#s10)"/>
<radialGradient id="s11"><stop offset="0.000" stop-color="#fff" stop-opacity="0.471"/><stop offset="0.111" stop-color="#fff" stop-opacity="0.445"/><stop offset="0.222" stop-color="#fff" stop-opacity="0.377"/><stop offset="0.333" stop-color="#fff" stop-opacity="0.285"/><stop offset="0.444" stop-color="#fff" stop-opacity="0.193"/><stop offset="0.556" stop-color="#fff" stop-opacity="0.117"/><stop offset="0.667" stop-color="#fff" stop-opacity="0.064"/><stop offset="0.778" stop-color="#fff" stop-opacity="0.031"/><stop offset="0.889" stop-color="#fff" stop-opacity="0.013"/><stop offset="1.000" stop-color="#fff" stop-opacity="0.005"/></radialGradient>
<circle cx="329" cy="449.4" r="13.5" fill="url(#s11)"/>
<radialGradient id="s12"><stop offset="0.000" stop-color="#fff" stop-opacity="0.588"/><stop offset="0.111" stop-color="#fff" stop-opacity="0.556"/><stop offset="0.222" stop-color="#fff" stop-opacity="0.471"/><stop offset="0.333" stop-color="#fff" stop-opacity="0.357"/><stop offset="0.444" stop-color="#fff" stop-opacity="0.242"/><stop offset="0.556" stop-color="#fff" stop-opacity="0.147"/><stop offset="0.667" stop-color="#fff" stop-opacity="0.080"/><stop offset="0.778" stop-color="#fff" stop-opacity="0.039"/><stop offset="0.889" stop-color="#fff" stop-opacity="0.017"/><stop offset="1.000" stop-color="#fff" stop-opacity="0.007"/></radialGradient>
<circle cx="330" cy="488" r="13.5" fill="url(#s12)"/>
<radialGradient id="s13"><stop offset="0.000" stop-color="#fff" stop-opacity="0.549"/><stop offset="0.111" stop-color="#fff" stop-opacity="0.519"/><stop offset="0.222" stop-color="#fff" stop-opacity="0.440"/><stop offset="0.333" stop-color="#fff" stop-opacity="0.333"/><stop offset="0.444" stop-color="#fff" stop-opacity="0.226"/><stop offset="0.556" stop-color="#fff" stop-opacity="0.137"/><stop offset="0.667" stop-color="#fff" stop-opacity="0.074"/><stop offset="0.778" stop-color="#fff" stop-opacity="0.036"/><stop offset="0.889" stop-color="#fff" stop-opacity="0.016"/><stop offset="1.000" stop-color="#fff" stop-opacity="0.006"/></radialGradient>
<circle cx="242.2" cy="563.7" r="16.5" fill="url(#s13)"/>
<radialGradient id="s14"><stop offset="0.000" stop-color="#fff" stop-opacity="0.353"/><stop offset="0.111" stop-color="#fff" stop-opacity="0.334"/><stop offset="0.222" stop-color="#fff" stop-opacity="0.283"/><stop offset="0.333" stop-color="#fff" stop-opacity="0.214"/><stop offset="0.444" stop-color="#fff" stop-opacity="0.145"/><stop offset="0.556" stop-color="#fff" stop-opacity="0.088"/><stop offset="0.667" stop-color="#fff" stop-opacity="0.048"/><stop offset="0.778" stop-color="#fff" stop-opacity="0.023"/><stop offset="0.889" stop-color="#fff" stop-opacity="0.010"/><stop offset="1.000" stop-color="#fff" stop-opacity="0.004"/></radialGradient>
<circle cx="353" cy="578.7" r="13.5" fill="url(#s14)"/>
<radialGradient id="s15"><stop offset="0.000" stop-color="#fff" stop-opacity="0.314"/><stop offset="0.111" stop-color="#fff" stop-opacity="0.297"/><stop offset="0.222" stop-color="#fff" stop-opacity="0.251"/><stop offset="0.333" stop-color="#fff" stop-opacity="0.190"/><stop offset="0.444" stop-color="#fff" stop-opacity="0.129"/><stop offset="0.556" stop-color="#fff" stop-opacity="0.078"/><stop offset="0.667" stop-color="#fff" stop-opacity="0.042"/><stop offset="0.778" stop-color="#fff" stop-opacity="0.021"/><stop offset="0.889" stop-color="#fff" stop-opacity="0.009"/><stop offset="1.000" stop-color="#fff" stop-opacity="0.003"/></radialGradient>
<circle cx="287" cy="629" r="15" fill="url(#s15)"/>
<radialGradient id="s16"><stop offset="0.000" stop-color="#fff" stop-opacity="0.667"/><stop offset="0.111" stop-color="#fff" stop-opacity="0.631"/><stop offset="0.222" stop-color="#fff" stop-opacity="0.534"/><stop offset="0.333" stop-color="#fff" stop-opacity="0.404"/><stop offset="0.444" stop-color="#fff" stop-opacity="0.274"/><stop offset="0.556" stop-color="#fff" stop-opacity="0.166"/><stop offset="0.667" stop-color="#fff" stop-opacity="0.090"/><stop offset="0.778" stop-color="#fff" stop-opacity="0.044"/><stop offset="0.889" stop-color="#fff" stop-opacity="0.019"/><stop offset="1.000" stop-color="#fff" stop-opacity="0.007"/></radialGradient>
<circle cx="93" cy="378" r="15" fill="url(#s16)"/>
<radialGradient id="s17"><stop offset="0.000" stop-color="#fff" stop-opacity="0.784"/><stop offset="0.111" stop-color="#fff" stop-opacity="0.742"/><stop offset="0.222" stop-color="#fff" stop-opacity="0.628"/><stop offset="0.333" stop-color="#fff" stop-opacity="0.476"/><stop offset="0.444" stop-color="#fff" stop-opacity="0.322"/><stop offset="0.556" stop-color="#fff" stop-opacity="0.196"/><stop offset="0.667" stop-color="#fff" stop-opacity="0.106"/><stop offset="0.778" stop-color="#fff" stop-opacity="0.052"/><stop offset="0.889" stop-color="#fff" stop-opacity="0.022"/><stop offset="1.000" stop-color="#fff" stop-opacity="0.009"/></radialGradient>
<circle cx="100" cy="645" r="15" fill="url(#s17)"/>
<radialGradient id="s18"><stop offset="0.000" stop-color="#fff" stop-opacity="0.275"/><stop offset="0.111" stop-color="#fff" stop-opacity="0.260"/><stop offset="0.222" stop-color="#fff" stop-opacity="0.220"/><stop offset="0.333" stop-color="#fff" stop-opacity="0.166"/><stop offset="0.444" stop-color="#fff" stop-opacity="0.113"/><stop offset="0.556" stop-color="#fff" stop-opacity="0.068"/><stop offset="0.667" stop-color="#fff" stop-opacity="0.037"/><stop offset="0.778" stop-color="#fff" stop-opacity="0.018"/><stop offset="0.889" stop-color="#fff" stop-opacity="0.008"/><stop offset="1.000" stop-color="#fff" stop-opacity="0.003"/></radialGradient>
<circle cx="219" cy="471" r="15" fill="url(#s18)"/>
<radialGradient id="s19"><stop offset="0.000" stop-color="#fff" stop-opacity="0.294"/><stop offset="0.111" stop-color="#fff" stop-opacity="0.278"/><stop offset="0.222" stop-color="#fff" stop-opacity="0.236"/><stop offset="0.333" stop-color="#fff" stop-opacity="0.178"/><stop offset="0.444" stop-color="#fff" stop-opacity="0.121"/><stop offset="0.556" stop-color="#fff" stop-opacity="0.073"/><stop offset="0.667" stop-color="#fff" stop-opacity="0.040"/><stop offset="0.778" stop-color="#fff" stop-opacity="0.019"/><stop offset="0.889" stop-color="#fff" stop-opacity="0.008"/><stop offset="1.000" stop-color="#fff" stop-opacity="0.003"/></radialGradient>
<circle cx="350" cy="440" r="13.5" fill="url(#s19)"/>
</g>
<path d="M225.13 170.23L233.47 178.57M225.13 178.57L233.47 170.23" stroke="#f00" stroke-width="1.6" fill="none"/>
<path d="M228.33 165.13L236.67 173.47M228.33 173.47L236.67 165.13" stroke="#00f" stroke-width="1.6" fill="none"/>
<path d="M228.33 501.53L236.67 509.87M228.33 509.87L236.67 501.53" stroke="#f00" stroke-width="1.6" fill="none"/>
<path d="M230.23 494.73L238.57 503.07M230.23 503.07L238.57 494.73" stroke="#00f" stroke-width="1.6" fill="none"/>
<rect x="92.5" y="32.5" width="280.0" height="279.85" fill="none" stroke="#000" stroke-width="1.1"/>
<rect x="92.5" y="364.65" width="279.9" height="280.75" fill="none" stroke="#000" stroke-width="1.0"/>
<line x1="104.3" y1="312.35" x2="104" y2="317.61" stroke="#000" stroke-width="1.0" />
<line x1="171.5" y1="312.35" x2="171.2" y2="317.61" stroke="#000" stroke-width="1.0" />
<line x1="237.7" y1="312.35" x2="237.4" y2="317.61" stroke="#000" stroke-width="1.0" />
<line x1="305" y1="312.35" x2="304.7" y2="317.61" stroke="#000" stroke-width="1.0" />
<line x1="115.5" y1="32.5" x2="115.8" y2="27.24" stroke="#000" stroke-width="1.0" />
<line x1="181.8" y1="32.5" x2="182.1" y2="27.24" stroke="#000" stroke-width="1.0" />
<line x1="249" y1="32.5" x2="249.3" y2="27.24" stroke="#000" stroke-width="1.0" />
<line x1="316.4" y1="32.5" x2="316.7" y2="27.24" stroke="#000" stroke-width="1.0" />
<line x1="92.5" y1="73.7" x2="87.64" y2="73.2" stroke="#000" stroke-width="1.0" />
<line x1="92.5" y1="140.6" x2="87.64" y2="140.1" stroke="#000" stroke-width="1.0" />
<line x1="92.5" y1="207.6" x2="87.64" y2="207.1" stroke="#000" stroke-width="1.0" />
<line x1="92.5" y1="274.7" x2="87.64" y2="274.2" stroke="#000" stroke-width="1.0" />
<line x1="372.5" y1="33.7" x2="377.36" y2="34.3" stroke="#000" stroke-width="1.0" />
<line x1="372.5" y1="100.7" x2="377.36" y2="101.3" stroke="#000" stroke-width="1.0" />
<line x1="372.5" y1="167.2" x2="377.36" y2="167.8" stroke="#000" stroke-width="1.0" />
<line x1="372.5" y1="233.8" x2="377.36" y2="234.4" stroke="#000" stroke-width="1.0" />
<line x1="372.5" y1="300.8" x2="377.36" y2="301.4" stroke="#000" stroke-width="1.0" />
<text x="82.4" y="78.9" font-size="13.889" text-anchor="end" >-10°15'</text>
<text x="82.4" y="145.8" font-size="13.889" text-anchor="end" >30'</text>
<text x="82.4" y="212.8" font-size="13.889" text-anchor="end" >45'</text>
<text x="82.4" y="279.9" font-size="13.889" text-anchor="end" >-11°00'</text>
<line x1="109.4" y1="645.35" x2="109.4" y2="650.61" stroke="#000" stroke-width="1.0" />
<line x1="109.4" y1="364.65" x2="109.4" y2="359.39" stroke="#000" stroke-width="1.0" />
<line x1="178.4" y1="645.35" x2="178.4" y2="650.61" stroke="#000" stroke-width="1.0" />
<line x1="178.4" y1="364.65" x2="178.4" y2="359.39" stroke="#000" stroke-width="1.0" />
<line x1="247.4" y1="645.35" x2="247.4" y2="650.61" stroke="#000" stroke-width="1.0" />
<line x1="247.4" y1="364.65" x2="247.4" y2="359.39" stroke="#000" stroke-width="1.0" />
<line x1="316.5" y1="645.35" x2="316.5" y2="650.61" stroke="#000" stroke-width="1.0" />
<line x1="316.5" y1="364.65" x2="316.5" y2="359.39" stroke="#000" stroke-width="1.0" />
<line x1="92.5" y1="412.2" x2="87.64" y2="412.2" stroke="#000" stroke-width="1.0" />
<line x1="372.5" y1="412.2" x2="377.36" y2="412.2" stroke="#000" stroke-width="1.0" />
<line x1="92.5" y1="482.2" x2="87.64" y2="482.2" stroke="#000" stroke-width="1.0" />
<line x1="372.5" y1="482.2" x2="377.36" y2="482.2" stroke="#000" stroke-width="1.0" />
<line x1="92.5" y1="552.2" x2="87.64" y2="552.2" stroke="#000" stroke-width="1.0" />
<line x1="372.5" y1="552.2" x2="377.36" y2="552.2" stroke="#000" stroke-width="1.0" />
<line x1="92.5" y1="622.2" x2="87.64" y2="622.2" stroke="#000" stroke-width="1.0" />
<line x1="372.5" y1="622.2" x2="377.36" y2="622.2" stroke="#000" stroke-width="1.0" />
<text x="82" y="416.7" font-size="13.889" text-anchor="end" >-10°15'</text>
<text x="82" y="486.7" font-size="13.889" text-anchor="end" >30'</text>
<text x="82" y="556.7" font-size="13.889" text-anchor="end" >45'</text>
<text x="82" y="626.7" font-size="13.889" text-anchor="end" >-11°00'</text>
<text x="109.4" y="664.6" font-size="13.889" text-anchor="middle" >6<tspan dy="-5" font-size="9.72">h</tspan><tspan dy="5">27</tspan><tspan dy="-5" font-size="9.72">m</tspan></text>
<text x="178.4" y="664.6" font-size="13.889" text-anchor="middle" >26<tspan dy="-5" font-size="9.72">m</tspan></text>
<text x="247.4" y="664.6" font-size="13.889" text-anchor="middle" >25<tspan dy="-5" font-size="9.72">m</tspan></text>
<text x="316.5" y="664.6" font-size="13.889" text-anchor="middle" >24<tspan dy="-5" font-size="9.72">m</tspan></text>
<text x="232.5" y="685.8" font-size="13.889" text-anchor="middle" >RA</text>
<text transform="translate(21.2,174.4) rotate(-90)" font-size="13.889" text-anchor="middle">Dec</text>
<text transform="translate(21.2,506.9) rotate(-90)" font-size="13.889" text-anchor="middle">Dec</text>
<text x="231.8" y="23.8" font-size="16.667" text-anchor="middle" >Filter</text>
<text x="232" y="355.6" font-size="16.667" text-anchor="middle" >GLEAM</text>
<rect x="380.5" y="32.5" width="9" height="280" fill="url(#cg)" stroke="#000" stroke-width="1"/>
<rect x="380.5" y="365.5" width="9" height="280" fill="url(#cg)" stroke="#000" stroke-width="1"/>
<line x1="389.5" y1="35.4" x2="394.36" y2="35.4" stroke="#000" stroke-width="1.0" />
<text x="399.4" y="40.6" font-size="13.889" text-anchor="start" >2.00</text>
<line x1="389.5" y1="71" x2="394.36" y2="71" stroke="#000" stroke-width="1.0" />
<text x="399.4" y="76.2" font-size="13.889" text-anchor="start" >1.75</text>
<line x1="389.5" y1="106.6" x2="394.36" y2="106.6" stroke="#000" stroke-width="1.0" />
<text x="399.4" y="111.8" font-size="13.889" text-anchor="start" >1.50</text>
<line x1="389.5" y1="142.2" x2="394.36" y2="142.2" stroke="#000" stroke-width="1.0" />
<text x="399.4" y="147.4" font-size="13.889" text-anchor="start" >1.25</text>
<line x1="389.5" y1="177.8" x2="394.36" y2="177.8" stroke="#000" stroke-width="1.0" />
<text x="399.4" y="183" font-size="13.889" text-anchor="start" >1.00</text>
<line x1="389.5" y1="213.4" x2="394.36" y2="213.4" stroke="#000" stroke-width="1.0" />
<text x="399.4" y="218.6" font-size="13.889" text-anchor="start" >0.75</text>
<line x1="389.5" y1="249" x2="394.36" y2="249" stroke="#000" stroke-width="1.0" />
<text x="399.4" y="254.2" font-size="13.889" text-anchor="start" >0.50</text>
<line x1="389.5" y1="284.6" x2="394.36" y2="284.6" stroke="#000" stroke-width="1.0" />
<text x="399.4" y="289.8" font-size="13.889" text-anchor="start" >0.25</text>
<text transform="translate(445.2,172.8) rotate(-90)" font-size="13.889" text-anchor="middle">arbitrary units</text>
<line x1="389.5" y1="398.3" x2="394.36" y2="398.3" stroke="#000" stroke-width="1.0" />
<text x="399.4" y="403.5" font-size="13.889" text-anchor="start" >100</text>
<line x1="389.5" y1="439.6" x2="394.36" y2="439.6" stroke="#000" stroke-width="1.0" />
<text x="399.4" y="444.8" font-size="13.889" text-anchor="start" >80</text>
<line x1="389.5" y1="480.9" x2="394.36" y2="480.9" stroke="#000" stroke-width="1.0" />
<text x="399.4" y="486.1" font-size="13.889" text-anchor="start" >60</text>
<line x1="389.5" y1="522.2" x2="394.36" y2="522.2" stroke="#000" stroke-width="1.0" />
<text x="399.4" y="527.4" font-size="13.889" text-anchor="start" >40</text>
<line x1="389.5" y1="563.5" x2="394.36" y2="563.5" stroke="#000" stroke-width="1.0" />
<text x="399.4" y="568.7" font-size="13.889" text-anchor="start" >20</text>
<line x1="389.5" y1="604.8" x2="394.36" y2="604.8" stroke="#000" stroke-width="1.0" />
<text x="399.4" y="610" font-size="13.889" text-anchor="start" >0</text>
<text transform="translate(440.8,505.5) rotate(-90)" font-size="13.889" text-anchor="middle">Brightness (mJy/beam)</text>
<g clip-path="url(#cb)"><polyline points="470.5,43.3 485.5,125 500.5,75 515.5,64 530.5,140.5 545.5,220.9 560.5,156.1 575.5,175.2 590.5,176.9 605.5,168.6 620.5,229.2 635.5,254.1 650.5,250 665.5,256.3 680.5,268.7 695.5,232.2 710.5,299.1 725.5,294.3 740.5,282.6 755.5,246.6 770.5,257.1 785.5,215.2 800.5,275.3 815.5,264.4 830.5,283.1" fill="none" stroke="#1f77b4" stroke-width="2.08" stroke-linejoin="round"/>
<line x1="470.5" y1="179" x2="830.5" y2="179" stroke="#000" stroke-width="2.08" stroke-dasharray="7.7 3.33"/>
<line x1="470.5" y1="214" x2="830.5" y2="214" stroke="#000" stroke-width="2.08" stroke-dasharray="7.7 3.33"/>
<line x1="470.5" y1="248" x2="830.5" y2="248" stroke="#000" stroke-width="2.08" stroke-dasharray="7.7 3.33"/>
</g>
<rect x="470.5" y="32.5" width="360.0" height="280.0" fill="none" stroke="#000" stroke-width="1.0"/>
<line x1="470.5" y1="312.5" x2="470.5" y2="317.36" stroke="#000" stroke-width="1.0" />
<text x="470.5" y="333.2" font-size="13.889" text-anchor="middle" >0</text>
<line x1="545.5" y1="312.5" x2="545.5" y2="317.36" stroke="#000" stroke-width="1.0" />
<text x="545.5" y="333.2" font-size="13.889" text-anchor="middle" >20</text>
<line x1="620.5" y1="312.5" x2="620.5" y2="317.36" stroke="#000" stroke-width="1.0" />
<text x="620.5" y="333.2" font-size="13.889" text-anchor="middle" >40</text>
<line x1="695.5" y1="312.5" x2="695.5" y2="317.36" stroke="#000" stroke-width="1.0" />
<text x="695.5" y="333.2" font-size="13.889" text-anchor="middle" >60</text>
<line x1="770.5" y1="312.5" x2="770.5" y2="317.36" stroke="#000" stroke-width="1.0" />
<text x="770.5" y="333.2" font-size="13.889" text-anchor="middle" >80</text>
<text x="650.5" y="352.4" font-size="13.889" text-anchor="middle" >Time (s)</text>
<line x1="830.5" y1="46.5" x2="835.36" y2="46.5" stroke="#000" stroke-width="1.0" />
<text x="840.3" y="51.7" font-size="13.889" text-anchor="start" >1500</text>
<line x1="830.5" y1="102.25" x2="835.36" y2="102.25" stroke="#000" stroke-width="1.0" />
<text x="840.3" y="107.45" font-size="13.889" text-anchor="start" >1000</text>
<line x1="830.5" y1="158" x2="835.36" y2="158" stroke="#000" stroke-width="1.0" />
<text x="840.3" y="163.2" font-size="13.889" text-anchor="start" >500</text>
<line x1="830.5" y1="213.75" x2="835.36" y2="213.75" stroke="#000" stroke-width="1.0" />
<text x="840.3" y="218.95" font-size="13.889" text-anchor="start" >0</text>
<line x1="830.5" y1="269.5" x2="835.36" y2="269.5" stroke="#000" stroke-width="1.0" />
<text x="840.3" y="274.7" font-size="13.889" text-anchor="start" >−500</text>
<text transform="translate(893.6,173.2) rotate(-90)" font-size="13.889" text-anchor="middle">Brightness (mJy/beam)</text>
<text x="649.6" y="23.8" font-size="16.667" text-anchor="middle" >Light Curve</text>
<g clip-path="url(#cd)">
<path d="M470.5 645.5V508.9h3.25V451.7h3.25V470.1h3.25V513h3.25V551.6h3.25V582.3h3.25V599h3.25V614.8h3.25V623.2h3.25V628.7h3.25V631.5h3.25V636.2h3.25V639h3.25V640.8h3.25V642h3.25V642.8h3.25V643.3h3.25V643.7h3.25V644h3.25V644.2h3.25V644.3h3.25V644.4h3.25V644.4h3.25V644.5h3.25V644.5h3.25V644.6h3.25V644.6h3.25V644.6h3.25V644.7h3.25V644.7h3.25V644.5h3.25V644.7h3.25V644.8h3.25V644.8h3.25V644.5h3.25V644.9h3.25V644.9h3.25V644.9h3.25V645h3.25V645h3.25V645h3.25V645h3.25V644.6h3.25V645h3.25V645h3.25V645h3.25V645h3.25V645h3.25V645h3.25V645h3.25V645.5z" fill="#00f" fill-opacity="0.3"/>
<path d="M470.5 645.5V432.9h6.87V378h6.87V469.8h6.87V543.2h6.87V578.2h6.87V602.2h6.87V617h6.87V626.9h6.87V632.8h6.87V637.1h6.87V640.3h6.87V641.7h6.87V642.6h6.87V643h6.87V643.3h6.87V643.5h6.87V643.7h6.87V643.7h6.87V643.7h6.87V643.7h6.87V643.7h6.87V643.7h6.87V643.7h6.87V643.9h6.87V643.9h6.87V643.9h6.87V643.9h6.87V643.9h6.87V643.9h6.87V643.9h6.87V645.5h6.87V643.8h6.87V645.5h6.87V645.5h6.87V643.8h6.87V645.5h6.87V643.8h6.87V645.5h6.87V645.5h6.87V645.5h6.87V645.5h6.87V645.5h6.87V645.5h6.87V645.5h6.87V645.5h6.87V645.5h6.87V645.5h6.87V645.5h6.87V645.5h6.87V643.8h6.87V645.5z" fill="#f00" fill-opacity="0.3"/>
<line x1="477" y1="644.8" x2="477" y2="365.5" stroke="#000" stroke-width="2.08" stroke-dasharray="7.7 3.33"/>
<line x1="489" y1="645.5" x2="489" y2="365.5" stroke="#000" stroke-width="2.08" />
</g>
<rect x="470.5" y="365.5" width="360.0" height="280.0" fill="none" stroke="#000" stroke-width="1.0"/>
<line x1="470.5" y1="645.5" x2="470.5" y2="650.36" stroke="#000" stroke-width="1.0" />
<text x="470.5" y="665.4" font-size="13.889" text-anchor="middle" >0</text>
<line x1="542.5" y1="645.5" x2="542.5" y2="650.36" stroke="#000" stroke-width="1.0" />
<text x="542.5" y="665.4" font-size="13.889" text-anchor="middle" >10</text>
<line x1="614.5" y1="645.5" x2="614.5" y2="650.36" stroke="#000" stroke-width="1.0" />
<text x="614.5" y="665.4" font-size="13.889" text-anchor="middle" >20</text>
<line x1="686.5" y1="645.5" x2="686.5" y2="650.36" stroke="#000" stroke-width="1.0" />
<text x="686.5" y="665.4" font-size="13.889" text-anchor="middle" >30</text>
<line x1="758.5" y1="645.5" x2="758.5" y2="650.36" stroke="#000" stroke-width="1.0" />
<text x="758.5" y="665.4" font-size="13.889" text-anchor="middle" >40</text>
<line x1="830.5" y1="645.5" x2="830.5" y2="650.36" stroke="#000" stroke-width="1.0" />
<text x="830.5" y="665.4" font-size="13.889" text-anchor="middle" >50</text>
<text x="649.8" y="684.9" font-size="13.889" text-anchor="middle" >Normalised stdev or detection statistics</text>
<line x1="830.5" y1="407.3" x2="835.36" y2="407.3" stroke="#000" stroke-width="1.0" />
<text x="840.3" y="412.5" font-size="13.889" text-anchor="start" >4000</text>
<line x1="830.5" y1="466.75" x2="835.36" y2="466.75" stroke="#000" stroke-width="1.0" />
<text x="840.3" y="471.95" font-size="13.889" text-anchor="start" >3000</text>
<line x1="830.5" y1="526.2" x2="835.36" y2="526.2" stroke="#000" stroke-width="1.0" />
<text x="840.3" y="531.4" font-size="13.889" text-anchor="start" >2000</text>
<line x1="830.5" y1="585.65" x2="835.36" y2="585.65" stroke="#000" stroke-width="1.0" />
<text x="840.3" y="590.85" font-size="13.889" text-anchor="start" >1000</text>
<line x1="830.5" y1="645.1" x2="835.36" y2="645.1" stroke="#000" stroke-width="1.0" />
<text x="840.3" y="650.3" font-size="13.889" text-anchor="start" >0</text>
<text transform="translate(891,505.5) rotate(-90)" font-size="13.889" text-anchor="middle">Number of Sources</text>
<rect x="618.5" y="370.5" width="207" height="65.6" rx="2.2" fill="#fff" fill-opacity="0.8" stroke="#ccc" stroke-width="1"/>
<rect x="622.8" y="375.2" width="22.2" height="7.8" fill="#00f" fill-opacity="0.3"/>
<rect x="622.8" y="390.3" width="22.2" height="7.8" fill="#f00" fill-opacity="0.3"/>
<line x1="622.8" y1="410.1" x2="645" y2="410.1" stroke="#000" stroke-width="2.08" stroke-dasharray="7.7 3.33"/>
<line x1="622.8" y1="425.6" x2="645" y2="425.6" stroke="#000" stroke-width="2.08" />
<text x="654.2" y="382.9" font-size="11.111" text-anchor="start" >Known srcs residual</text>
<text x="654.2" y="398.4" font-size="11.111" text-anchor="start" >Known srcs detection statistic</text>
<text x="654.2" y="413.9" font-size="11.111" text-anchor="start" >Candidate residual</text>
<text x="654.2" y="429.4" font-size="11.111" text-anchor="start" >Candidate detection statistic</text>
</svg></body></html>
